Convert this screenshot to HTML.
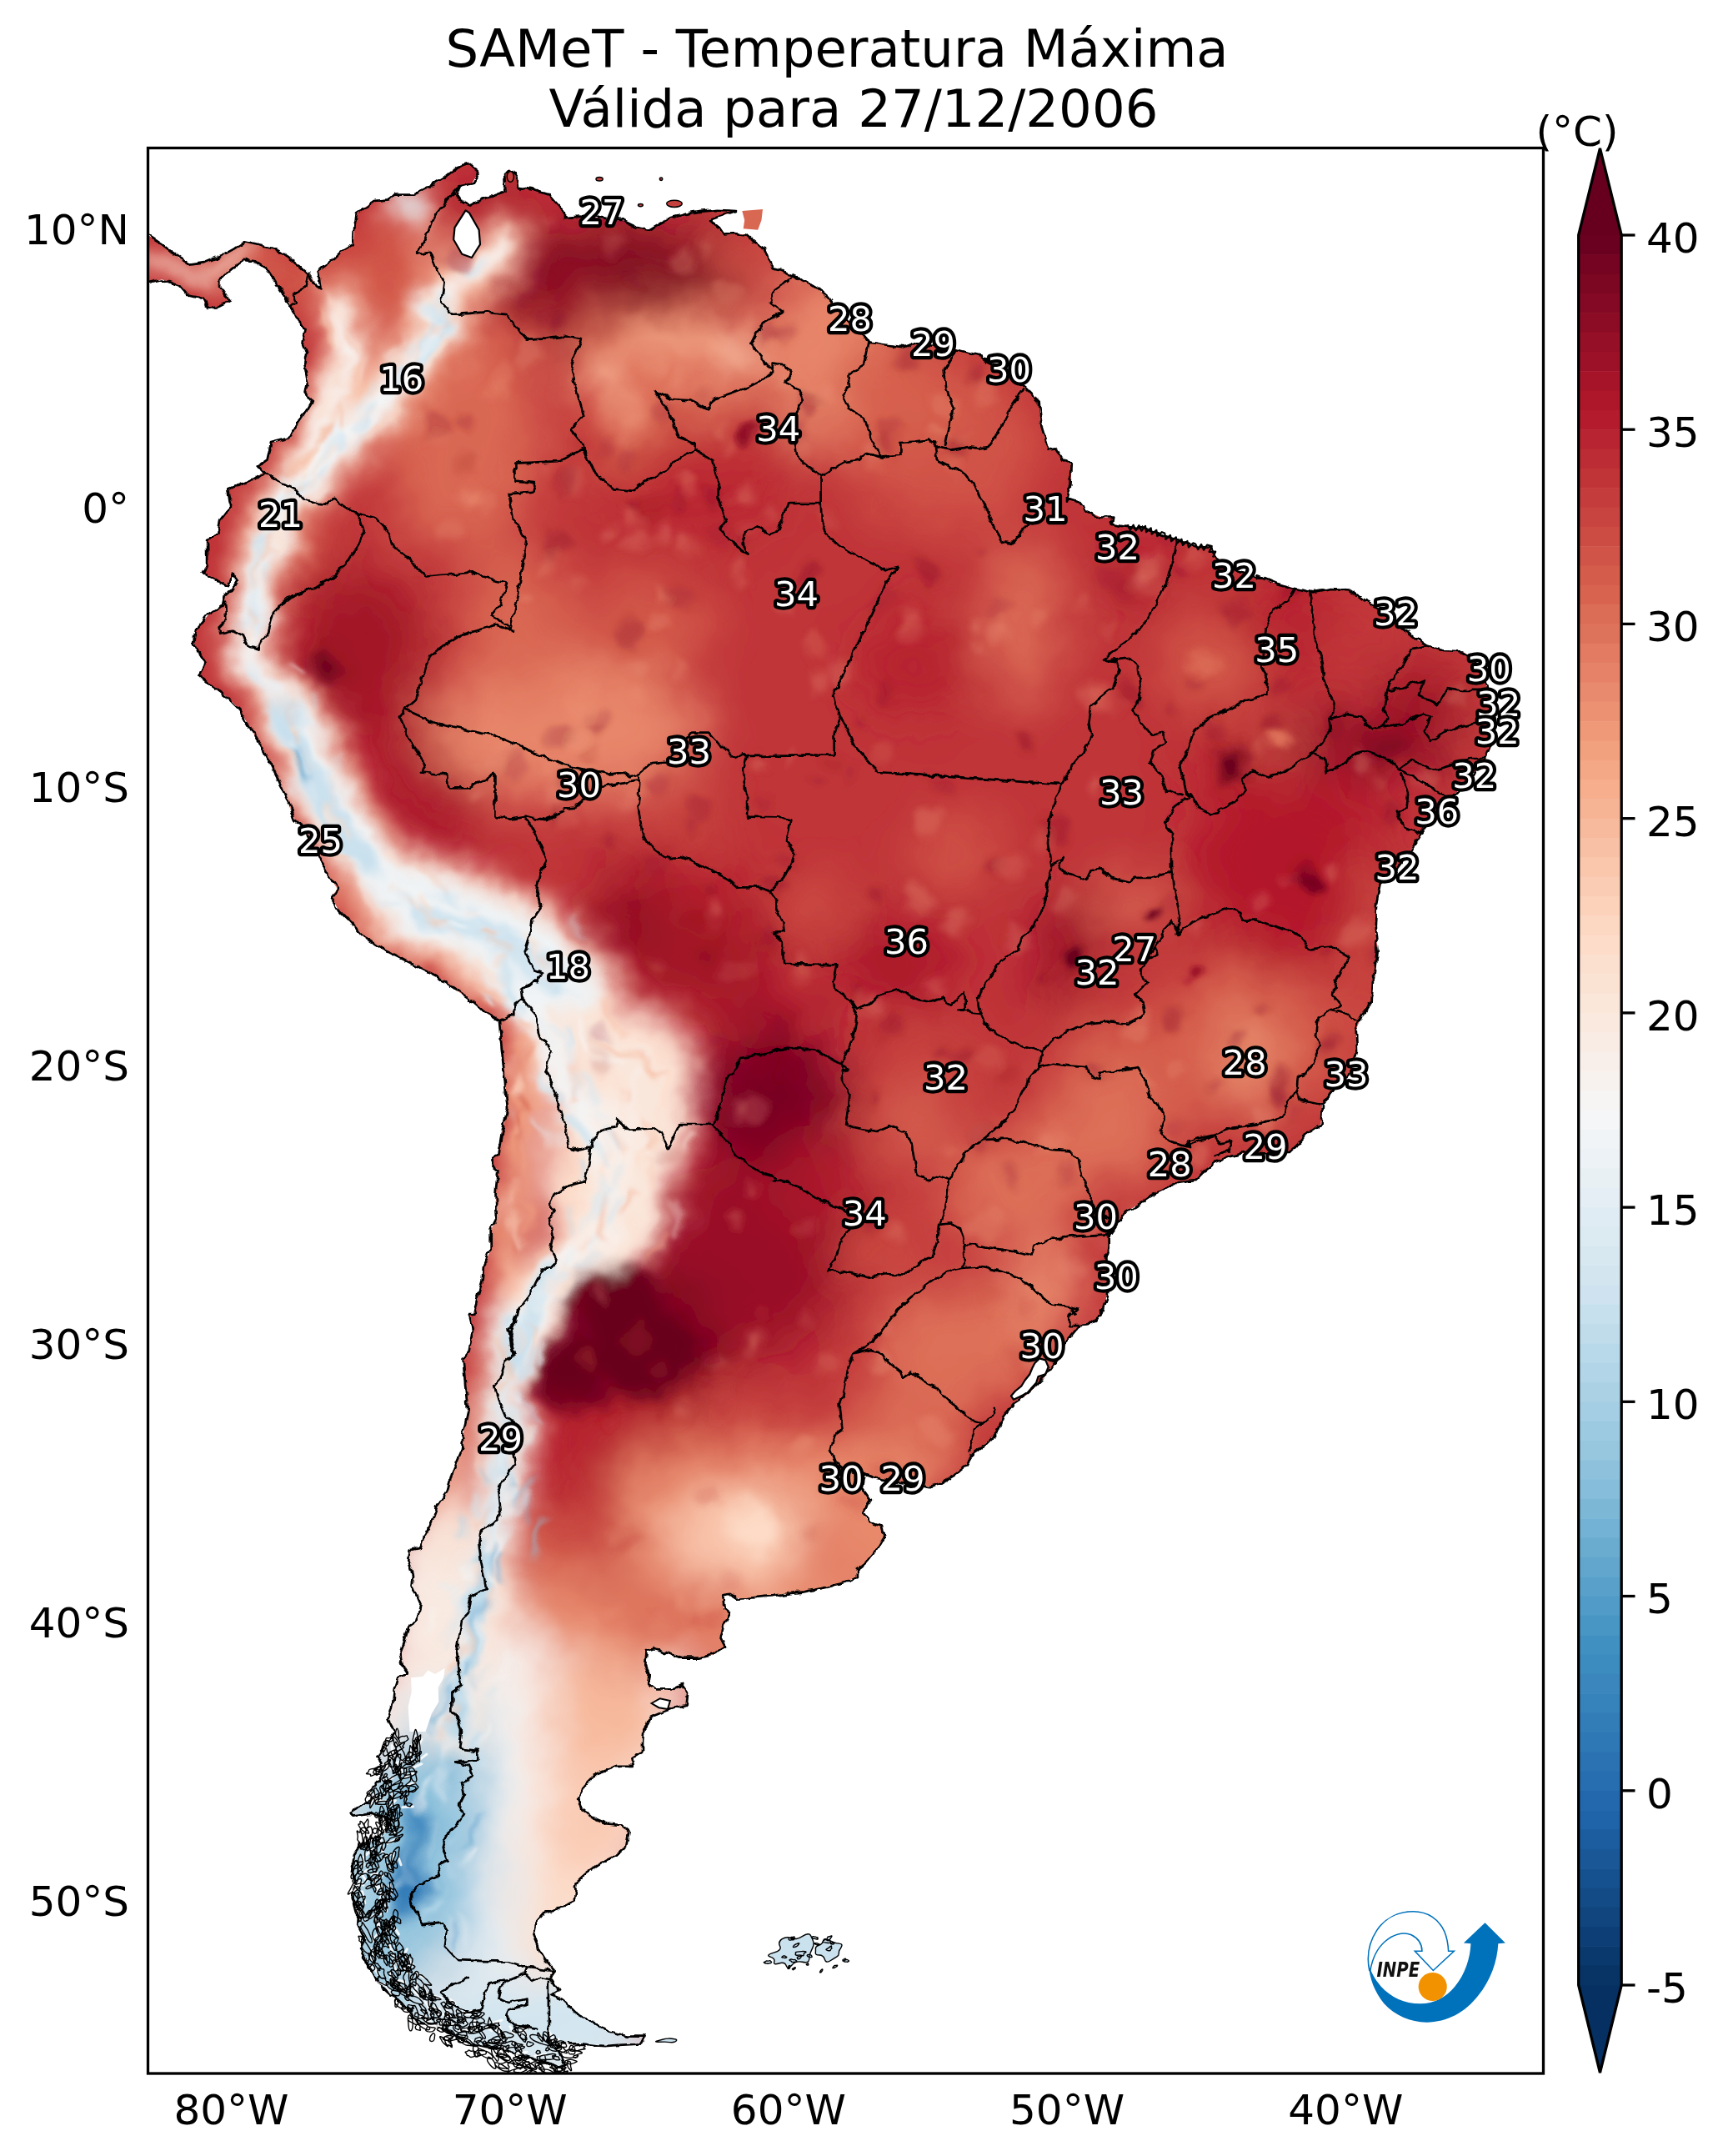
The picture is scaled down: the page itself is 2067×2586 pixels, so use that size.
<!DOCTYPE html>
<html><head><meta charset="utf-8"><title>SAMeT - Temperatura Máxima</title>
<style>
html,body{margin:0;padding:0;background:#fff;}
body{width:2067px;height:2586px;overflow:hidden;}
svg{display:block;}
text{font-family:"DejaVu Sans","Liberation Sans",sans-serif;}
.tk{font-size:50px;fill:#000;}
.lb{font-size:41.7px;fill:#fff;stroke:#000;stroke-width:8.3px;paint-order:stroke fill;stroke-linejoin:round;text-anchor:middle;}
</style></head><body>
<svg width="2067" height="2586" viewBox="0 0 2067 2586">
<defs>
<clipPath id="land"><path d="M174.1,278.6 L177.0,281.5 L194.4,293.1 L214.7,309.0 L227.8,317.7 L246.6,314.8 L264.1,307.6 L280.0,298.9 L293.1,290.2 L311.9,294.5 L330.8,298.9 L345.3,307.6 L359.8,319.2 L371.4,330.8 L380.1,342.4 L384.5,345.3 L381.6,325.0 L397.5,313.4 L409.2,301.8 L423.7,293.1 L425.1,272.8 L428.0,255.4 L449.8,240.8 L467.2,239.4 L473.0,233.6 L496.2,233.6 L513.6,224.9 L533.9,211.8 L548.4,200.2 L563.0,195.9 L574.6,206.0 L565.9,220.5 L551.3,223.4 L548.4,233.6 L554.2,242.3 L563.0,246.6 L577.5,239.4 L594.9,233.6 L606.5,229.2 L605.0,208.9 L610.8,203.1 L619.5,211.8 L621.0,224.9 L641.3,227.8 L658.7,233.6 L670.3,246.6 L677.0,255.4 L677.0,261.2 L694.4,259.7 L720.5,261.2 L746.6,264.1 L764.1,272.8 L778.6,275.7 L793.1,267.0 L804.7,261.2 L822.1,256.8 L839.5,253.9 L862.7,251.9 L883.0,253.0 L862.7,259.7 L851.1,264.1 L862.7,272.8 L868.5,281.5 L880.1,280.0 L894.6,281.5 L906.3,291.6 L917.9,298.9 L923.7,313.4 L926.6,322.1 L938.2,325.0 L952.7,332.3 L967.2,338.1 L981.7,346.8 L993.3,356.9 L999.1,365.6 L1016.5,383.0 L1033.9,400.4 L1042.6,410.6 L1063.0,413.5 L1083.3,416.4 L1094.9,412.1 L1121.0,415.0 L1147.1,419.3 L1164.5,423.7 L1177.0,426.6 L1177.0,428.0 L1203.1,444.0 L1229.2,464.3 L1246.6,481.7 L1249.5,510.7 L1258.3,539.7 L1267.0,538.3 L1275.7,551.3 L1285.8,557.2 L1284.4,580.4 L1280.0,600.7 L1280.1,597.3 L1294.6,601.7 L1303.3,613.3 L1320.8,620.5 L1335.3,620.5 L1333.8,629.2 L1352.7,632.1 L1373.0,633.6 L1396.2,642.3 L1416.5,649.5 L1433.9,655.4 L1451.3,656.8 L1460.1,669.9 L1483.3,684.4 L1506.5,693.1 L1506.1,690.1 L1527.9,698.8 L1554.0,706.0 L1574.3,710.4 L1597.5,706.0 L1617.9,707.5 L1632.4,717.6 L1646.9,724.9 L1673.0,743.7 L1696.2,764.1 L1710.7,774.2 L1731.0,780.0 L1754.2,781.5 L1768.8,790.2 L1780.4,813.4 L1789.1,839.5 L1792.0,865.6 L1789.1,891.7 L1780.4,912.1 L1763.0,932.4 L1745.5,952.7 L1725.2,973.0 L1707.8,996.2 L1693.3,1019.4 L1675.9,1042.6 L1655.6,1060.1 L1651.2,1083.3 L1649.8,1112.3 L1652.7,1141.3 L1649.8,1164.5 L1648.3,1177.0 L1647.0,1177.0 L1645.5,1203.1 L1633.9,1217.6 L1626.7,1235.0 L1628.1,1261.2 L1619.4,1287.3 L1599.1,1307.6 L1586.1,1325.0 L1584.6,1348.2 L1567.2,1359.8 L1555.6,1374.3 L1546.9,1383.0 L1520.8,1384.5 L1491.7,1383.0 L1474.3,1387.4 L1456.9,1394.6 L1442.4,1406.3 L1433.7,1415.0 L1413.4,1417.9 L1384.4,1432.4 L1367.0,1444.0 L1352.4,1452.7 L1340.8,1467.2 L1330.7,1481.7 L1330.7,1496.2 L1326.3,1510.7 L1329.2,1525.2 L1327.8,1554.2 L1320.5,1577.5 L1306.0,1589.1 L1294.9,1590.2 L1280.4,1607.6 L1265.9,1633.7 L1251.3,1654.0 L1233.9,1671.4 L1216.5,1683.0 L1204.9,1697.5 L1196.2,1717.9 L1181.7,1732.4 L1167.2,1744.0 L1158.5,1758.5 L1144.0,1770.1 L1129.5,1778.8 L1115.0,1783.2 L1106.3,1781.7 L1080.1,1778.8 L1051.1,1773.0 L1036.6,1767.2 L1033.7,1784.6 L1043.9,1799.1 L1035.2,1813.6 L1042.4,1825.2 L1056.9,1829.6 L1059.8,1845.5 L1051.1,1860.1 L1039.5,1874.6 L1027.9,1883.3 L1027.9,1892.0 L1013.4,1897.8 L993.1,1903.6 L964.1,1909.4 L954.2,1910.4 L925.2,1914.1 L896.2,1917.0 L884.6,1917.6 L875.9,1911.8 L867.2,1913.3 L868.6,1929.2 L875.9,1935.0 L868.6,1949.5 L864.3,1964.1 L870.1,1975.7 L855.6,1984.4 L838.2,1988.7 L817.9,1988.7 L800.4,1982.9 L785.9,1977.1 L775.8,1980.0 L774.3,1996.0 L778.7,2007.6 L777.2,2019.2 L785.9,2026.4 L806.3,2026.4 L817.9,2020.6 L825.1,2030.8 L823.7,2045.3 L809.2,2048.2 L797.5,2052.6 L783.0,2058.4 L771.4,2074.3 L770.0,2091.7 L770.0,2101.9 L758.4,2109.2 L759.8,2117.9 L739.5,2117.9 L716.3,2126.6 L701.8,2141.1 L693.1,2155.6 L697.4,2170.1 L710.5,2180.3 L727.9,2187.5 L745.3,2189.0 L754.6,2196.2 L751.1,2215.1 L739.5,2225.2 L722.1,2233.9 L704.7,2245.5 L691.6,2257.2 L688.7,2280.4 L669.9,2289.1 L652.4,2294.9 L642.3,2306.5 L639.4,2321.0 L646.6,2338.4 L655.4,2352.9 L665.7,2364.3 L659.9,2373.0 L670.1,2387.5 L661.4,2393.3 L675.9,2399.1 L690.4,2413.6 L710.7,2425.2 L731.0,2436.8 L754.2,2442.6 L774.6,2442.6 L770.2,2451.3 L742.6,2452.8 L725.2,2454.2 L696.2,2451.3 L667.2,2451.3 L678.8,2477.5 L667.2,2478.9 L638.2,2468.8 L609.2,2460.1 L580.1,2454.2 L562.7,2451.3 L542.4,2439.7 L522.1,2428.1 L498.9,2425.2 L487.3,2407.8 L469.9,2393.3 L453.9,2378.8 L446.6,2364.3 L439.4,2352.7 L432.1,2338.2 L437.9,2326.6 L429.2,2309.2 L430.7,2291.7 L423.4,2277.2 L424.9,2262.7 L422.0,2245.3 L424.9,2225.0 L435.0,2210.5 L455.4,2201.8 L467.0,2190.2 L461.2,2178.6 L443.7,2175.7 L423.4,2178.6 L420.5,2172.8 L435.0,2164.1 L449.5,2158.3 L443.7,2149.5 L455.4,2135.0 L461.2,2120.5 L452.4,2106.0 L464.1,2091.5 L472.8,2077.0 L465.5,2063.1 L471.3,2041.3 L472.8,2026.8 L477.1,2012.3 L488.7,2006.5 L482.9,1997.8 L480.0,1983.3 L484.4,1971.7 L490.2,1951.3 L498.9,1945.5 L504.7,1925.2 L494.5,1902.0 L496.0,1890.4 L490.2,1873.0 L491.6,1858.5 L504.7,1855.6 L507.6,1844.0 L516.3,1829.5 L525.0,1806.3 L536.6,1788.8 L543.9,1762.7 L554.0,1739.5 L555.5,1719.2 L561.3,1693.1 L558.4,1664.1 L555.5,1629.2 L562.7,1620.5 L567.1,1594.4 L562.7,1577.0 L568.4,1576.8 L572.8,1556.5 L578.6,1536.2 L580.0,1518.8 L588.7,1498.4 L588.7,1475.2 L596.0,1460.7 L594.5,1431.7 L597.4,1402.7 L591.6,1399.8 L591.6,1388.2 L597.4,1385.3 L601.8,1359.2 L609.0,1330.1 L606.1,1301.1 L601.8,1257.6 L598.9,1224.2 L581.5,1214.1 L564.1,1199.5 L543.7,1185.0 L523.4,1170.5 L500.2,1158.9 L477.0,1147.3 L458.5,1138.4 L438.2,1125.3 L420.8,1106.5 L406.3,1092.0 L397.5,1076.0 L404.8,1065.9 L394.6,1051.3 L383.0,1029.6 L365.6,993.3 L354.0,984.6 L345.3,961.4 L335.2,938.2 L325.0,917.9 L313.4,894.6 L298.9,871.4 L287.3,851.1 L272.8,836.6 L252.4,822.1 L239.4,810.5 L246.6,796.0 L239.4,784.4 L232.1,769.9 L235.0,755.4 L249.5,737.9 L267.0,726.3 L269.9,711.8 L278.6,708.9 L285.8,697.3 L278.6,688.6 L272.8,703.1 L261.2,697.3 L243.7,687.2 L248.1,677.0 L248.1,677.0 L248.1,647.1 L261.2,641.3 L264.1,623.9 L277.1,606.5 L274.2,586.2 L288.7,580.4 L304.7,574.6 L316.3,565.9 L310.5,558.6 L320.6,551.3 L325.0,531.0 L348.2,525.2 L354.0,513.6 L365.6,496.2 L374.3,481.7 L365.6,470.1 L368.5,455.6 L365.6,438.2 L368.5,423.7 L362.7,409.2 L365.6,394.6 L354.0,380.1 L348.2,365.6 L339.5,351.1 L330.8,339.5 L319.2,322.1 L306.1,313.4 L293.1,311.9 L278.6,322.1 L264.1,333.7 L264.1,345.3 L275.7,361.3 L261.2,368.5 L248.1,370.0 L243.7,358.4 L224.9,354.0 L214.7,342.4 L194.4,335.2 L177.0,339.5 L174.1,339.5Z"/></clipPath>
<clipPath id="frame"><rect x="177.5" y="177.5" width="1674" height="2309.5"/></clipPath>
<filter id="b30" x="-20%" y="-20%" width="140%" height="140%"><feGaussianBlur stdDeviation="30"/></filter>
<filter id="b18" x="-20%" y="-20%" width="140%" height="140%"><feGaussianBlur stdDeviation="18"/></filter>
<filter id="b10" x="-20%" y="-20%" width="140%" height="140%"><feGaussianBlur stdDeviation="10"/></filter>
<filter id="b5" x="-20%" y="-20%" width="140%" height="140%"><feGaussianBlur stdDeviation="5"/></filter>
<filter id="b3" x="-20%" y="-20%" width="140%" height="140%"><feGaussianBlur stdDeviation="3"/></filter>
<filter id="rough" filterUnits="userSpaceOnUse" x="170" y="170" width="1700" height="2330">
<feTurbulence type="fractalNoise" baseFrequency="0.018" numOctaves="3" seed="7" result="n"/>
<feDisplacementMap in="SourceGraphic" in2="n" scale="34" xChannelSelector="R" yChannelSelector="G" result="d"/>
<feTurbulence type="fractalNoise" baseFrequency="0.035" numOctaves="2" seed="11" result="n2"/>
<feColorMatrix in="n2" type="matrix" values="0 0 0 0 0  0 0 0 0 0  0 0 0 0 0  1.6 0 0 0 -0.55" result="a2"/>
<feFlood flood-color="#7a0a20" result="fl"/>
<feComposite in="fl" in2="a2" operator="in" result="dk"/>
<feColorMatrix in="n2" type="matrix" values="0 0 0 0 0  0 0 0 0 0  0 0 0 0 0  0 -1.6 0 0 0.62" result="a3"/>
<feFlood flood-color="#fff" result="fw"/>
<feComposite in="fw" in2="a3" operator="in" result="lt"/>
<feMerge><feMergeNode in="d"/></feMerge>
</filter>
<filter id="jag" filterUnits="userSpaceOnUse" x="170" y="170" width="1700" height="2330">
<feTurbulence type="fractalNoise" baseFrequency="0.09" numOctaves="2" seed="3" result="n"/>
<feDisplacementMap in="SourceGraphic" in2="n" scale="7" xChannelSelector="R" yChannelSelector="G"/>
</filter>
<linearGradient id="cb" x1="0" y1="0" x2="0" y2="1">
<stop offset="0%" stop-color="#67001f"/>
<stop offset="10%" stop-color="#b2182b"/>
<stop offset="20%" stop-color="#d6604d"/>
<stop offset="30%" stop-color="#f4a582"/>
<stop offset="40%" stop-color="#fddbc7"/>
<stop offset="50%" stop-color="#f7f7f7"/>
<stop offset="60%" stop-color="#d1e5f0"/>
<stop offset="70%" stop-color="#92c5de"/>
<stop offset="80%" stop-color="#4393c3"/>
<stop offset="90%" stop-color="#2166ac"/>
<stop offset="100%" stop-color="#053061"/>
</linearGradient></defs>
<rect width="100%" height="100%" fill="#fff"/>
<g clip-path="url(#frame)"><g clip-path="url(#land)"><g filter="url(#rough)">
<rect x="170" y="170" width="1700" height="2330" fill="#c03539"/>
<g filter="url(#b30)"><ellipse cx="741" cy="334" rx="146" ry="63" fill="#800823"/><ellipse cx="689" cy="386" rx="47" ry="57" fill="#991027"/><ellipse cx="595" cy="250" rx="47" ry="26" fill="#a11328"/><ellipse cx="804" cy="433" rx="131" ry="63" fill="#e0775f"/><ellipse cx="764" cy="525" rx="58" ry="58" fill="#d6604d"/><ellipse cx="886" cy="543" rx="87" ry="49" fill="#c13639"/><ellipse cx="895" cy="305" rx="29" ry="26" fill="#d6604d"/><ellipse cx="992" cy="423" rx="78" ry="120" fill="#e7866a"/><ellipse cx="1065" cy="517" rx="57" ry="78" fill="#d96853"/><ellipse cx="1078" cy="463" rx="73" ry="57" fill="#d6604d"/><ellipse cx="553" cy="517" rx="99" ry="146" fill="#d96853"/><ellipse cx="470" cy="334" rx="63" ry="78" fill="#d25849"/><ellipse cx="334" cy="334" rx="78" ry="31" fill="#d6604d"/><ellipse cx="428" cy="778" rx="78" ry="99" fill="#a11328"/><ellipse cx="501" cy="934" rx="57" ry="104" fill="#aa152a" transform="rotate(-30 501 934)"/><ellipse cx="678" cy="872" rx="167" ry="89" fill="#e7866a"/><ellipse cx="621" cy="741" rx="68" ry="89" fill="#d96853"/><ellipse cx="778" cy="752" rx="78" ry="63" fill="#d25849"/><ellipse cx="349" cy="637" rx="42" ry="63" fill="#ce5045"/><ellipse cx="830" cy="595" rx="104" ry="52" fill="#ba2833"/><ellipse cx="1131" cy="531" rx="120" ry="104" fill="#d05347"/><ellipse cx="1078" cy="478" rx="78" ry="63" fill="#d6604d"/><ellipse cx="1226" cy="745" rx="47" ry="104" fill="#db6c56"/><ellipse cx="1094" cy="797" rx="63" ry="63" fill="#b6202f"/><ellipse cx="1366" cy="693" rx="31" ry="31" fill="#aa152a"/><ellipse cx="1449" cy="797" rx="57" ry="57" fill="#d25849"/><ellipse cx="1533" cy="901" rx="31" ry="26" fill="#d96853"/><ellipse cx="1548" cy="740" rx="47" ry="89" fill="#b6202f"/><ellipse cx="1637" cy="755" rx="52" ry="47" fill="#c2383a"/><ellipse cx="1731" cy="834" rx="47" ry="37" fill="#b2182b"/><ellipse cx="1653" cy="891" rx="115" ry="37" fill="#910d26"/><ellipse cx="1705" cy="828" rx="52" ry="31" fill="#a11328"/><ellipse cx="1773" cy="860" rx="26" ry="68" fill="#c6403e"/><ellipse cx="1470" cy="912" rx="47" ry="37" fill="#b6202f"/><ellipse cx="1548" cy="1037" rx="120" ry="115" fill="#b2182b"/><ellipse cx="1642" cy="1131" rx="26" ry="115" fill="#ca4842"/><ellipse cx="1147" cy="1021" rx="57" ry="37" fill="#d25849"/><ellipse cx="980" cy="1089" rx="37" ry="37" fill="#d05347"/><ellipse cx="823" cy="974" rx="42" ry="31" fill="#ce5045"/><ellipse cx="1074" cy="1152" rx="84" ry="47" fill="#b2182b"/><ellipse cx="1278" cy="1141" rx="37" ry="68" fill="#991027"/><ellipse cx="1346" cy="1084" rx="31" ry="26" fill="#e0775f"/><ellipse cx="1330" cy="1204" rx="47" ry="31" fill="#c6403e"/><ellipse cx="1487" cy="1251" rx="104" ry="99" fill="#d6604d"/><ellipse cx="1497" cy="1272" rx="26" ry="57" fill="#ed9676"/><ellipse cx="1358" cy="1076" rx="41" ry="26" fill="#dd6f59"/><ellipse cx="1330" cy="1266" rx="63" ry="31" fill="#d6604d"/><ellipse cx="1304" cy="1350" rx="78" ry="52" fill="#d6604d"/><ellipse cx="1225" cy="1439" rx="68" ry="52" fill="#dd6f59"/><ellipse cx="1121" cy="1282" rx="68" ry="42" fill="#ca4842"/><ellipse cx="1095" cy="1355" rx="57" ry="31" fill="#d96853"/><ellipse cx="813" cy="1125" rx="115" ry="78" fill="#a11328" transform="rotate(25 813 1125)"/><ellipse cx="761" cy="1105" rx="37" ry="31" fill="#880b24"/><ellipse cx="928" cy="1219" rx="63" ry="31" fill="#aa152a"/><ellipse cx="923" cy="1319" rx="89" ry="84" fill="#780522"/><ellipse cx="847" cy="1063" rx="63" ry="42" fill="#b6202f"/><ellipse cx="889" cy="1512" rx="120" ry="120" fill="#991027"/><ellipse cx="978" cy="1418" rx="63" ry="52" fill="#aa152a"/><ellipse cx="722" cy="1601" rx="78" ry="78" fill="#67001f" transform="rotate(-30 722 1601)"/><ellipse cx="779" cy="1616" rx="78" ry="73" fill="#67001f"/><ellipse cx="701" cy="1705" rx="52" ry="68" fill="#991027"/><ellipse cx="795" cy="1705" rx="63" ry="52" fill="#b6202f"/><ellipse cx="899" cy="1773" rx="157" ry="68" fill="#dd6f59"/><ellipse cx="899" cy="1862" rx="104" ry="57" fill="#f8bda1"/><ellipse cx="1072" cy="1157" rx="68" ry="47" fill="#aa152a"/><ellipse cx="1213" cy="1428" rx="89" ry="63" fill="#dd6f59"/><ellipse cx="1150" cy="1616" rx="104" ry="78" fill="#dd6f59"/><ellipse cx="1082" cy="1731" rx="78" ry="68" fill="#d96853"/><ellipse cx="1255" cy="1548" rx="42" ry="63" fill="#ea8e70"/><ellipse cx="1056" cy="1496" rx="52" ry="31" fill="#ce5045"/><ellipse cx="1335" cy="1351" rx="73" ry="73" fill="#dd6f59"/><ellipse cx="1611" cy="1264" rx="26" ry="73" fill="#ce5045"/><ellipse cx="1451" cy="1409" rx="73" ry="17" fill="#c6403e"/><path d="M737,1764 L1113,1738 L1113,1999 L590,2020 L601,1905Z" fill="#ea8e70"/><path d="M434,2010 L643,1979 L852,2020 L825,2104 L773,2261 L747,2365 L852,2522 L799,2600 L538,2600 L329,2443 L329,2156 L408,2026Z" fill="#f9eee7"/><path d="M460,1843 L590,1817 L617,1999 L460,2052Z" fill="#fce1d2"/><ellipse cx="695" cy="1738" rx="52" ry="89" fill="#b6202f"/><ellipse cx="716" cy="1843" rx="42" ry="57" fill="#c6403e"/><ellipse cx="799" cy="1937" rx="84" ry="37" fill="#d96853"/><ellipse cx="893" cy="1843" rx="94" ry="57" fill="#fac9b0"/><ellipse cx="998" cy="1869" rx="47" ry="63" fill="#e37f65"/><ellipse cx="637" cy="1869" rx="37" ry="47" fill="#d6604d"/><ellipse cx="721" cy="2062" rx="78" ry="68" fill="#f7b799"/><ellipse cx="695" cy="2182" rx="73" ry="78" fill="#fac9b0"/><ellipse cx="658" cy="2297" rx="57" ry="63" fill="#fddbc7"/><ellipse cx="617" cy="2104" rx="37" ry="157" fill="#f8f4f2"/><ellipse cx="590" cy="2313" rx="37" ry="78" fill="#eaf1f5"/><ellipse cx="549" cy="2156" rx="37" ry="183" fill="#a7d0e4"/><ellipse cx="523" cy="2182" rx="39" ry="198" fill="#89bfdb"/><ellipse cx="449" cy="2287" rx="47" ry="157" fill="#b5d7e8"/><ellipse cx="570" cy="2443" rx="157" ry="47" fill="#cae1ee"/><ellipse cx="695" cy="2454" rx="104" ry="42" fill="#d5e7f1"/><ellipse cx="523" cy="1947" rx="42" ry="131" fill="#f3f5f6"/><ellipse cx="538" cy="1764" rx="31" ry="104" fill="#f9c3a8"/><ellipse cx="643" cy="2417" rx="131" ry="47" fill="#d1e5f0"/><ellipse cx="460" cy="2261" rx="52" ry="157" fill="#99c9e0"/><ellipse cx="963" cy="2344" rx="116" ry="58" fill="#cae1ee"/></g>
<g filter="url(#b18)"><path d="M564,1142 L637,1142 L709,1185 L796,1214 L840,1272 L834,1330 L819,1388 L805,1446 L782,1504 L738,1539 L666,1533 L651,1417 L663,1330 L640,1243 L608,1200Z" fill="#fce1d2"/><path d="M313,683 L305,715 L299,750 L293,773 L305,796 L325,816 L342,842 L357,874" fill="none" stroke="#f9c3a8" stroke-width="49" stroke-linecap="round" stroke-linejoin="round"/><path d="M351,863 L360,880 L371,924 L389,953 L406,982 L427,1011 L447,1040 L470,1063 L499,1083 L528,1098 L557,1106 L586,1115 L615,1133 L644,1156 L676,1179" fill="none" stroke="#f9c3a8" stroke-width="87" stroke-linecap="round" stroke-linejoin="round"/><path d="M499,1083 L557,1106 L615,1133 L676,1179" fill="none" stroke="#fddbc7" stroke-width="122" stroke-linecap="round" stroke-linejoin="round"/><path d="M606,293 L569,322 L543,348 L525,386 L505,424 L479,456 L456,485 L432,508 L409,531 L386,554 L363,580 L342,595 L328,630 L316,677" fill="none" stroke="#f9c3a8" stroke-width="67" stroke-linecap="round" stroke-linejoin="round"/><path d="M409,363 L418,409 L409,438 L403,467 L392,496 L380,525 L363,563" fill="none" stroke="#f9c3a8" stroke-width="55" stroke-linecap="round" stroke-linejoin="round"/><path d="M522,258 L511,308 L517,363" fill="none" stroke="#f5ab8a" stroke-width="15" stroke-linecap="round" stroke-linejoin="round"/><ellipse cx="490" cy="248" rx="25" ry="22" fill="#fae7dc"/><path d="M709,1374 L724,1417 L715,1461 L703,1490 L680,1519 L657,1548 L640,1577 L622,1606 L610,1627" fill="none" stroke="#fddbc7" stroke-width="75" stroke-linecap="round" stroke-linejoin="round"/><path d="M618,1577 L609,1635 L600,1679 L615,1708 L609,1751 L598,1809 L580,1853 L574,1896 L566,1940 L557,1983 L551,2027 L548,2077" fill="none" stroke="#fae7dc" stroke-width="55" stroke-linecap="round" stroke-linejoin="round"/><path d="M622,1243 L631,1330 L619,1417 L609,1490 L599,1548" fill="none" stroke="#f6b191" stroke-width="38" stroke-linecap="round" stroke-linejoin="round"/><path d="M375,1069 L433,1110 L477,1136 L535,1168 L593,1211" fill="none" stroke="#f19d7c" stroke-width="20" stroke-linecap="round" stroke-linejoin="round"/><path d="M580,1621 L577,1693 L569,1751" fill="none" stroke="#dd6f59" stroke-width="20" stroke-linecap="round" stroke-linejoin="round"/><path d="M540,1809 L513,1882 L508,1954 L499,1998" fill="none" stroke="#fae7dc" stroke-width="35" stroke-linecap="round" stroke-linejoin="round"/><path d="M177,313 L221,328 L264,322 L299,305" fill="none" stroke="#f9c3a8" stroke-width="20" stroke-linecap="round" stroke-linejoin="round"/><ellipse cx="882" cy="423" rx="31" ry="18" fill="#f9c3a8"/><ellipse cx="725" cy="449" rx="26" ry="21" fill="#f7b799"/><ellipse cx="804" cy="407" rx="63" ry="16" fill="#f5ab8a"/><ellipse cx="752" cy="501" rx="21" ry="21" fill="#f5ab8a"/></g>
<g filter="url(#b10)"><path d="M313,683 L305,715 L299,750 L293,773" fill="none" stroke="#f3f5f6" stroke-width="33" stroke-linecap="round" stroke-linejoin="round"/><path d="M293,773 L305,796 L325,816 L342,842 L357,874" fill="none" stroke="#f3f5f6" stroke-width="29" stroke-linecap="round" stroke-linejoin="round"/><path d="M354,869 L360,880 L371,924 L389,953 L406,982 L427,1011 L447,1040 L470,1063 L499,1083 L528,1098 L557,1106 L586,1115 L615,1133 L644,1156 L676,1179" fill="none" stroke="#eff3f5" stroke-width="58" stroke-linecap="round" stroke-linejoin="round"/><path d="M499,1083 L557,1106 L615,1133 L676,1179" fill="none" stroke="#eff3f5" stroke-width="87" stroke-linecap="round" stroke-linejoin="round"/><path d="M606,293 L569,322 L543,348" fill="none" stroke="#f8f4f2" stroke-width="26" stroke-linecap="round" stroke-linejoin="round"/><path d="M517,363 L534,392 L511,418 L482,453 L461,482 L438,502 L415,525 L392,551 L366,577 L342,592 L331,630 L319,677" fill="none" stroke="#f3f5f6" stroke-width="38" stroke-linecap="round" stroke-linejoin="round"/><path d="M409,366 L418,409 L409,438 L403,467 L392,496 L380,525 L363,563" fill="none" stroke="#f8f4f2" stroke-width="26" stroke-linecap="round" stroke-linejoin="round"/><ellipse cx="490" cy="248" rx="12" ry="11" fill="#d9e9f2"/><path d="M608,1156 L637,1214 L666,1272 L695,1330 L709,1374 L724,1417 L715,1461 L703,1490 L680,1519 L657,1548 L640,1577 L622,1606 L610,1627" fill="none" stroke="#f3f5f6" stroke-width="32" stroke-linecap="round" stroke-linejoin="round"/><path d="M680,1229 L738,1258 L782,1301 L776,1359 L767,1417 L747,1475 L724,1513" fill="none" stroke="#fae7dc" stroke-width="44" stroke-linecap="round" stroke-linejoin="round"/><path d="M732,1330 L738,1388 L727,1446 L709,1490" fill="none" stroke="#f9eee7" stroke-width="46" stroke-linecap="round" stroke-linejoin="round"/><path d="M618,1577 L609,1635 L600,1679 L615,1708 L609,1751 L598,1809 L580,1853 L574,1896 L566,1940 L557,1983 L551,2027 L548,2077" fill="none" stroke="#e2edf3" stroke-width="23" stroke-linecap="round" stroke-linejoin="round"/><path d="M177,313 L221,328 L264,322 L299,305" fill="none" stroke="#fae7dc" stroke-width="7" stroke-linecap="round" stroke-linejoin="round"/><ellipse cx="394" cy="799" rx="18" ry="18" fill="#67001f"/><ellipse cx="1478" cy="915" rx="18" ry="18" fill="#67001f"/><ellipse cx="1664" cy="898" rx="17" ry="12" fill="#780522"/><ellipse cx="743" cy="1572" rx="65" ry="52" fill="#780522"/><ellipse cx="690" cy="1648" rx="52" ry="44" fill="#780522"/><ellipse cx="774" cy="1622" rx="63" ry="52" fill="#67001f"/><ellipse cx="743" cy="1564" rx="47" ry="37" fill="#67001f"/><ellipse cx="680" cy="1642" rx="37" ry="31" fill="#67001f"/><ellipse cx="496" cy="2187" rx="13" ry="31" fill="#347fb9"/><ellipse cx="491" cy="2261" rx="16" ry="47" fill="#2c75b4"/><ellipse cx="905" cy="1831" rx="31" ry="26" fill="#fddbc7"/></g>
<g filter="url(#b5)"><path d="M340,851 L357,898 L369,932 L392,967 L415,1002 L438,1034" fill="none" stroke="#cae1ee" stroke-width="32" stroke-linecap="round" stroke-linejoin="round"/><path d="M351,909 L363,932" fill="none" stroke="#66a9cf" stroke-width="12" stroke-linecap="round" stroke-linejoin="round"/><path d="M511,1098 L554,1112 L598,1124 L636,1153 L670,1177" fill="none" stroke="#d1e5f0" stroke-width="32" stroke-linecap="round" stroke-linejoin="round"/><path d="M517,366 L537,395 L519,418 L490,447" fill="none" stroke="#d1e5f0" stroke-width="13" stroke-linecap="round" stroke-linejoin="round"/><path d="M583,310 L563,328" fill="none" stroke="#d1e5f0" stroke-width="7" stroke-linecap="round" stroke-linejoin="round"/><path d="M409,528 L380,563 L351,589" fill="none" stroke="#d1e5f0" stroke-width="10" stroke-linecap="round" stroke-linejoin="round"/><path d="M316,642 L309,689 L302,721 L299,750" fill="none" stroke="#d1e5f0" stroke-width="10" stroke-linecap="round" stroke-linejoin="round"/><path d="M605,1162 L628,1208" fill="none" stroke="#d1e5f0" stroke-width="15" stroke-linecap="round" stroke-linejoin="round"/><path d="M680,1345 L706,1374" fill="none" stroke="#d1e5f0" stroke-width="12" stroke-linecap="round" stroke-linejoin="round"/><path d="M663,1519 L648,1556 L628,1597 L613,1627" fill="none" stroke="#c3deec" stroke-width="10" stroke-linecap="round" stroke-linejoin="round"/><path d="M615,1583 L606,1635" fill="none" stroke="#c3deec" stroke-width="10" stroke-linecap="round" stroke-linejoin="round"/><path d="M612,1708 L609,1766" fill="none" stroke="#c3deec" stroke-width="9" stroke-linecap="round" stroke-linejoin="round"/><path d="M577,1867 L569,1940 L557,1998 L551,2077" fill="none" stroke="#b5d7e8" stroke-width="15" stroke-linecap="round" stroke-linejoin="round"/></g>
<g filter="url(#b5)"><ellipse cx="1381" cy="1093" rx="8" ry="8" fill="#67001f"/><ellipse cx="1477" cy="913" rx="9" ry="9" fill="#67001f"/><ellipse cx="1538" cy="890" rx="13" ry="12" fill="#dd6f59"/><ellipse cx="1440" cy="794" rx="17" ry="15" fill="#d96853"/><ellipse cx="1434" cy="1163" rx="10" ry="10" fill="#991027"/><ellipse cx="1564" cy="1051" rx="6" ry="6" fill="#67001f"/><ellipse cx="900" cy="525" rx="12" ry="12" fill="#910d26"/><ellipse cx="1285" cy="1147" rx="13" ry="13" fill="#67001f"/><ellipse cx="1567" cy="1053" rx="13" ry="13" fill="#780522"/></g><g filter="url(#b5)"><circle cx="1411" cy="1221" r="15" fill="#7d0722" opacity="0.27"/><circle cx="1744" cy="451" r="12" fill="#7d0722" opacity="0.25"/><circle cx="1720" cy="542" r="12" fill="#f2a080" opacity="0.22"/><circle cx="1357" cy="434" r="9" fill="#f2a080" opacity="0.28"/><circle cx="1570" cy="592" r="15" fill="#f2a080" opacity="0.23"/><circle cx="861" cy="422" r="16" fill="#f2a080" opacity="0.16"/><circle cx="1810" cy="1362" r="10" fill="#7d0722" opacity="0.23"/><circle cx="1472" cy="641" r="16" fill="#7d0722" opacity="0.31"/><circle cx="1712" cy="743" r="11" fill="#f2a080" opacity="0.15"/><circle cx="792" cy="745" r="13" fill="#f2a080" opacity="0.24"/><circle cx="1095" cy="755" r="15" fill="#f2a080" opacity="0.18"/><circle cx="1254" cy="1181" r="8" fill="#7d0722" opacity="0.12"/><circle cx="1552" cy="1332" r="7" fill="#7d0722" opacity="0.19"/><circle cx="1362" cy="430" r="7" fill="#f2a080" opacity="0.29"/><circle cx="938" cy="1236" r="16" fill="#7d0722" opacity="0.19"/><circle cx="1114" cy="987" r="15" fill="#f2a080" opacity="0.25"/><circle cx="1605" cy="1348" r="7" fill="#7d0722" opacity="0.14"/><circle cx="1098" cy="1080" r="16" fill="#f2a080" opacity="0.29"/><circle cx="1325" cy="757" r="10" fill="#f2a080" opacity="0.13"/><circle cx="885" cy="1164" r="17" fill="#f2a080" opacity="0.13"/><circle cx="1815" cy="996" r="11" fill="#f2a080" opacity="0.23"/><circle cx="1637" cy="912" r="11" fill="#f2a080" opacity="0.28"/><circle cx="756" cy="953" r="15" fill="#f2a080" opacity="0.25"/><circle cx="1774" cy="1101" r="15" fill="#f2a080" opacity="0.20"/><circle cx="886" cy="1332" r="10" fill="#f2a080" opacity="0.30"/><circle cx="1666" cy="1474" r="12" fill="#f2a080" opacity="0.25"/><circle cx="1252" cy="734" r="11" fill="#f2a080" opacity="0.19"/><circle cx="1817" cy="1457" r="13" fill="#f2a080" opacity="0.18"/><circle cx="819" cy="714" r="15" fill="#7d0722" opacity="0.19"/><circle cx="1592" cy="1257" r="14" fill="#7d0722" opacity="0.27"/><circle cx="1123" cy="1181" r="10" fill="#f2a080" opacity="0.26"/><circle cx="1487" cy="737" r="16" fill="#7d0722" opacity="0.24"/><circle cx="733" cy="1011" r="10" fill="#7d0722" opacity="0.21"/><circle cx="1627" cy="1119" r="15" fill="#f2a080" opacity="0.24"/><circle cx="1539" cy="1314" r="11" fill="#7d0722" opacity="0.29"/><circle cx="1484" cy="1474" r="17" fill="#7d0722" opacity="0.23"/><circle cx="904" cy="1324" r="16" fill="#f2a080" opacity="0.24"/><circle cx="1519" cy="1209" r="9" fill="#7d0722" opacity="0.24"/><circle cx="1459" cy="874" r="13" fill="#7d0722" opacity="0.25"/><circle cx="1520" cy="450" r="9" fill="#f2a080" opacity="0.24"/><circle cx="963" cy="1161" r="13" fill="#f2a080" opacity="0.20"/><circle cx="971" cy="478" r="8" fill="#f2a080" opacity="0.15"/><circle cx="935" cy="459" r="12" fill="#f2a080" opacity="0.23"/><circle cx="1375" cy="677" r="16" fill="#f2a080" opacity="0.19"/><circle cx="1029" cy="863" r="8" fill="#7d0722" opacity="0.19"/><circle cx="760" cy="1083" r="8" fill="#7d0722" opacity="0.19"/><circle cx="1365" cy="1455" r="15" fill="#f2a080" opacity="0.27"/><circle cx="1433" cy="819" r="8" fill="#7d0722" opacity="0.23"/><circle cx="1783" cy="1465" r="13" fill="#f2a080" opacity="0.28"/><circle cx="721" cy="537" r="13" fill="#7d0722" opacity="0.15"/><circle cx="1419" cy="1383" r="11" fill="#f2a080" opacity="0.16"/><circle cx="1044" cy="1470" r="11" fill="#7d0722" opacity="0.30"/><circle cx="1381" cy="701" r="17" fill="#f2a080" opacity="0.19"/><circle cx="1074" cy="1483" r="12" fill="#f2a080" opacity="0.21"/><circle cx="855" cy="1091" r="11" fill="#f2a080" opacity="0.26"/><circle cx="1638" cy="434" r="12" fill="#f2a080" opacity="0.29"/><circle cx="1588" cy="685" r="10" fill="#f2a080" opacity="0.30"/><circle cx="1045" cy="1077" r="12" fill="#7d0722" opacity="0.24"/><circle cx="1545" cy="548" r="15" fill="#f2a080" opacity="0.22"/><circle cx="1093" cy="741" r="12" fill="#f2a080" opacity="0.18"/><circle cx="1547" cy="1058" r="7" fill="#f2a080" opacity="0.20"/><circle cx="1737" cy="1379" r="12" fill="#f2a080" opacity="0.26"/><circle cx="1195" cy="1042" r="14" fill="#7d0722" opacity="0.22"/><circle cx="1732" cy="836" r="11" fill="#7d0722" opacity="0.16"/><circle cx="1049" cy="1316" r="8" fill="#7d0722" opacity="0.26"/><circle cx="1200" cy="729" r="15" fill="#7d0722" opacity="0.15"/><circle cx="1251" cy="1013" r="12" fill="#f2a080" opacity="0.15"/><circle cx="1370" cy="1297" r="8" fill="#f2a080" opacity="0.27"/><circle cx="1599" cy="1137" r="7" fill="#7d0722" opacity="0.32"/><circle cx="1828" cy="1177" r="7" fill="#7d0722" opacity="0.16"/><circle cx="1437" cy="1448" r="14" fill="#f2a080" opacity="0.17"/><circle cx="1739" cy="582" r="13" fill="#f2a080" opacity="0.15"/><circle cx="1411" cy="467" r="8" fill="#f2a080" opacity="0.13"/><circle cx="784" cy="1041" r="14" fill="#7d0722" opacity="0.15"/><circle cx="1199" cy="760" r="13" fill="#f2a080" opacity="0.29"/><circle cx="1135" cy="480" r="14" fill="#f2a080" opacity="0.23"/><circle cx="1281" cy="1403" r="13" fill="#7d0722" opacity="0.17"/><circle cx="1332" cy="695" r="15" fill="#7d0722" opacity="0.15"/><circle cx="980" cy="821" r="14" fill="#f2a080" opacity="0.25"/><circle cx="1447" cy="512" r="14" fill="#f2a080" opacity="0.14"/><circle cx="1379" cy="678" r="16" fill="#f2a080" opacity="0.18"/><circle cx="1604" cy="452" r="14" fill="#f2a080" opacity="0.15"/><circle cx="1777" cy="1156" r="9" fill="#f2a080" opacity="0.30"/><circle cx="1458" cy="1306" r="8" fill="#7d0722" opacity="0.19"/><circle cx="981" cy="780" r="13" fill="#f2a080" opacity="0.19"/><circle cx="871" cy="1318" r="13" fill="#7d0722" opacity="0.21"/><circle cx="1665" cy="979" r="13" fill="#7d0722" opacity="0.27"/><circle cx="1159" cy="525" r="7" fill="#f2a080" opacity="0.13"/><circle cx="1707" cy="939" r="15" fill="#f2a080" opacity="0.20"/><circle cx="1708" cy="1089" r="11" fill="#f2a080" opacity="0.14"/><circle cx="892" cy="592" r="11" fill="#f2a080" opacity="0.28"/><circle cx="889" cy="694" r="10" fill="#f2a080" opacity="0.17"/><circle cx="981" cy="941" r="7" fill="#7d0722" opacity="0.19"/><circle cx="1761" cy="1163" r="14" fill="#f2a080" opacity="0.29"/><circle cx="851" cy="1142" r="10" fill="#7d0722" opacity="0.27"/><circle cx="901" cy="637" r="7" fill="#f2a080" opacity="0.13"/><circle cx="1165" cy="1471" r="11" fill="#f2a080" opacity="0.20"/><circle cx="1034" cy="1211" r="14" fill="#f2a080" opacity="0.16"/><circle cx="1466" cy="1436" r="13" fill="#f2a080" opacity="0.30"/><circle cx="727" cy="486" r="15" fill="#f2a080" opacity="0.13"/><circle cx="1329" cy="1489" r="12" fill="#f2a080" opacity="0.14"/><circle cx="799" cy="1391" r="12" fill="#7d0722" opacity="0.13"/><circle cx="990" cy="474" r="11" fill="#f2a080" opacity="0.17"/><circle cx="1172" cy="750" r="8" fill="#f2a080" opacity="0.29"/><circle cx="919" cy="969" r="11" fill="#7d0722" opacity="0.14"/><circle cx="1068" cy="537" r="12" fill="#7d0722" opacity="0.24"/><circle cx="1671" cy="652" r="7" fill="#7d0722" opacity="0.22"/><circle cx="1354" cy="827" r="13" fill="#7d0722" opacity="0.30"/><circle cx="1061" cy="905" r="15" fill="#f2a080" opacity="0.14"/><circle cx="1066" cy="515" r="15" fill="#7d0722" opacity="0.18"/><circle cx="864" cy="509" r="9" fill="#f2a080" opacity="0.20"/><circle cx="1360" cy="685" r="8" fill="#7d0722" opacity="0.13"/><circle cx="942" cy="729" r="11" fill="#f2a080" opacity="0.20"/><circle cx="1068" cy="1233" r="13" fill="#7d0722" opacity="0.25"/><circle cx="1563" cy="1041" r="11" fill="#7d0722" opacity="0.25"/><circle cx="1780" cy="1206" r="14" fill="#f2a080" opacity="0.27"/><circle cx="1144" cy="561" r="8" fill="#f2a080" opacity="0.17"/><circle cx="1470" cy="728" r="8" fill="#7d0722" opacity="0.23"/><circle cx="750" cy="475" r="8" fill="#f2a080" opacity="0.27"/><circle cx="1774" cy="1081" r="9" fill="#f2a080" opacity="0.19"/><circle cx="1087" cy="433" r="13" fill="#7d0722" opacity="0.27"/><circle cx="826" cy="993" r="9" fill="#7d0722" opacity="0.21"/><circle cx="1762" cy="1278" r="8" fill="#f2a080" opacity="0.28"/><circle cx="1232" cy="889" r="11" fill="#7d0722" opacity="0.31"/><circle cx="1311" cy="1467" r="13" fill="#f2a080" opacity="0.27"/><circle cx="1186" cy="476" r="17" fill="#f2a080" opacity="0.22"/><circle cx="1255" cy="1372" r="11" fill="#f2a080" opacity="0.17"/><circle cx="943" cy="1027" r="11" fill="#7d0722" opacity="0.17"/><circle cx="1110" cy="688" r="17" fill="#7d0722" opacity="0.29"/><circle cx="1406" cy="853" r="8" fill="#7d0722" opacity="0.22"/><circle cx="762" cy="603" r="8" fill="#7d0722" opacity="0.30"/><circle cx="941" cy="1281" r="10" fill="#7d0722" opacity="0.29"/><circle cx="1412" cy="1284" r="11" fill="#f2a080" opacity="0.21"/><circle cx="1371" cy="620" r="11" fill="#f2a080" opacity="0.12"/><circle cx="1066" cy="833" r="12" fill="#7d0722" opacity="0.20"/><circle cx="1810" cy="1301" r="16" fill="#7d0722" opacity="0.25"/><circle cx="1316" cy="1283" r="11" fill="#7d0722" opacity="0.26"/><circle cx="1300" cy="727" r="8" fill="#f2a080" opacity="0.18"/><circle cx="1364" cy="1240" r="14" fill="#f2a080" opacity="0.29"/><circle cx="1025" cy="1193" r="8" fill="#7d0722" opacity="0.25"/><circle cx="1782" cy="1389" r="14" fill="#7d0722" opacity="0.27"/><circle cx="1398" cy="645" r="12" fill="#7d0722" opacity="0.17"/><circle cx="1802" cy="1007" r="11" fill="#f2a080" opacity="0.19"/><circle cx="918" cy="1125" r="16" fill="#7d0722" opacity="0.24"/><circle cx="1149" cy="538" r="14" fill="#7d0722" opacity="0.26"/><circle cx="1135" cy="1378" r="9" fill="#f2a080" opacity="0.17"/><circle cx="1411" cy="1389" r="9" fill="#7d0722" opacity="0.27"/><circle cx="969" cy="488" r="13" fill="#7d0722" opacity="0.30"/><circle cx="1528" cy="870" r="11" fill="#7d0722" opacity="0.30"/><circle cx="1056" cy="723" r="13" fill="#7d0722" opacity="0.16"/><circle cx="754" cy="545" r="13" fill="#7d0722" opacity="0.16"/><circle cx="931" cy="1062" r="13" fill="#7d0722" opacity="0.27"/><circle cx="788" cy="943" r="15" fill="#7d0722" opacity="0.18"/><circle cx="1664" cy="1117" r="16" fill="#f2a080" opacity="0.25"/><circle cx="1653" cy="935" r="8" fill="#f2a080" opacity="0.15"/><circle cx="823" cy="584" r="13" fill="#f2a080" opacity="0.26"/><circle cx="1537" cy="1302" r="15" fill="#7d0722" opacity="0.30"/><circle cx="1782" cy="1095" r="17" fill="#f2a080" opacity="0.14"/><circle cx="792" cy="643" r="11" fill="#f2a080" opacity="0.24"/><circle cx="1545" cy="510" r="11" fill="#7d0722" opacity="0.20"/><circle cx="850" cy="1065" r="11" fill="#7d0722" opacity="0.22"/><circle cx="1789" cy="1441" r="8" fill="#7d0722" opacity="0.26"/><circle cx="1048" cy="546" r="12" fill="#f2a080" opacity="0.25"/><circle cx="1739" cy="833" r="10" fill="#f2a080" opacity="0.25"/><circle cx="1596" cy="1042" r="10" fill="#f2a080" opacity="0.27"/><circle cx="1296" cy="474" r="11" fill="#f2a080" opacity="0.24"/><circle cx="801" cy="713" r="8" fill="#f2a080" opacity="0.30"/><circle cx="1321" cy="837" r="16" fill="#f2a080" opacity="0.18"/><circle cx="1620" cy="426" r="15" fill="#f2a080" opacity="0.12"/><circle cx="998" cy="915" r="11" fill="#7d0722" opacity="0.13"/><circle cx="963" cy="1472" r="11" fill="#f2a080" opacity="0.14"/><circle cx="1030" cy="1451" r="14" fill="#7d0722" opacity="0.13"/><circle cx="1156" cy="1261" r="11" fill="#7d0722" opacity="0.30"/><circle cx="1436" cy="1107" r="7" fill="#f2a080" opacity="0.26"/><circle cx="1179" cy="1364" r="15" fill="#7d0722" opacity="0.20"/><circle cx="1829" cy="1237" r="16" fill="#f2a080" opacity="0.26"/><circle cx="1189" cy="1470" r="17" fill="#f2a080" opacity="0.20"/><circle cx="1021" cy="927" r="10" fill="#7d0722" opacity="0.14"/><circle cx="908" cy="914" r="8" fill="#f2a080" opacity="0.28"/><circle cx="1703" cy="632" r="7" fill="#7d0722" opacity="0.31"/><circle cx="1385" cy="567" r="9" fill="#7d0722" opacity="0.31"/><circle cx="755" cy="620" r="11" fill="#f2a080" opacity="0.26"/><circle cx="1134" cy="1257" r="9" fill="#7d0722" opacity="0.31"/><circle cx="1499" cy="517" r="8" fill="#7d0722" opacity="0.19"/><circle cx="1129" cy="936" r="13" fill="#7d0722" opacity="0.17"/><circle cx="1351" cy="704" r="12" fill="#7d0722" opacity="0.15"/><circle cx="1254" cy="1182" r="7" fill="#7d0722" opacity="0.20"/><circle cx="1280" cy="1079" r="15" fill="#f2a080" opacity="0.21"/><circle cx="763" cy="836" r="10" fill="#f2a080" opacity="0.17"/><circle cx="1220" cy="1127" r="16" fill="#f2a080" opacity="0.22"/><circle cx="1512" cy="1432" r="16" fill="#7d0722" opacity="0.18"/><circle cx="905" cy="1426" r="8" fill="#f2a080" opacity="0.25"/><circle cx="1307" cy="840" r="16" fill="#f2a080" opacity="0.22"/><circle cx="1641" cy="569" r="11" fill="#f2a080" opacity="0.22"/><circle cx="950" cy="910" r="8" fill="#f2a080" opacity="0.18"/><circle cx="880" cy="1465" r="10" fill="#f2a080" opacity="0.26"/><circle cx="1543" cy="703" r="15" fill="#7d0722" opacity="0.20"/><circle cx="1418" cy="685" r="10" fill="#7d0722" opacity="0.21"/><circle cx="1716" cy="611" r="8" fill="#f2a080" opacity="0.25"/><circle cx="1343" cy="430" r="7" fill="#7d0722" opacity="0.22"/><circle cx="1687" cy="463" r="13" fill="#f2a080" opacity="0.25"/><circle cx="1399" cy="1081" r="9" fill="#7d0722" opacity="0.14"/><circle cx="791" cy="1159" r="8" fill="#f2a080" opacity="0.20"/><circle cx="1440" cy="1383" r="14" fill="#f2a080" opacity="0.24"/><circle cx="1656" cy="550" r="15" fill="#f2a080" opacity="0.17"/><circle cx="722" cy="1239" r="12" fill="#7d0722" opacity="0.21"/><circle cx="893" cy="654" r="10" fill="#7d0722" opacity="0.16"/><circle cx="818" cy="801" r="8" fill="#f2a080" opacity="0.23"/><circle cx="1442" cy="609" r="8" fill="#f2a080" opacity="0.24"/><circle cx="1216" cy="1039" r="16" fill="#f2a080" opacity="0.17"/><circle cx="1268" cy="999" r="16" fill="#7d0722" opacity="0.25"/><circle cx="1186" cy="1267" r="15" fill="#f2a080" opacity="0.14"/><circle cx="1008" cy="806" r="16" fill="#f2a080" opacity="0.23"/><circle cx="1431" cy="1453" r="8" fill="#7d0722" opacity="0.19"/><circle cx="834" cy="1103" r="15" fill="#7d0722" opacity="0.13"/><circle cx="1799" cy="835" r="13" fill="#7d0722" opacity="0.17"/><circle cx="1173" cy="776" r="8" fill="#f2a080" opacity="0.25"/><circle cx="1176" cy="1359" r="8" fill="#f2a080" opacity="0.15"/><circle cx="1767" cy="1274" r="16" fill="#7d0722" opacity="0.14"/><circle cx="1182" cy="664" r="7" fill="#7d0722" opacity="0.18"/><circle cx="840" cy="972" r="16" fill="#7d0722" opacity="0.21"/><circle cx="834" cy="1250" r="8" fill="#7d0722" opacity="0.14"/><circle cx="1816" cy="1006" r="11" fill="#f2a080" opacity="0.22"/><circle cx="1800" cy="882" r="9" fill="#7d0722" opacity="0.30"/><circle cx="1144" cy="1105" r="16" fill="#f2a080" opacity="0.27"/><circle cx="1307" cy="571" r="8" fill="#7d0722" opacity="0.21"/><circle cx="1212" cy="1411" r="13" fill="#7d0722" opacity="0.18"/><circle cx="1546" cy="697" r="12" fill="#7d0722" opacity="0.24"/><circle cx="869" cy="639" r="14" fill="#7d0722" opacity="0.14"/><circle cx="1827" cy="564" r="9" fill="#f2a080" opacity="0.20"/><circle cx="1408" cy="1346" r="9" fill="#7d0722" opacity="0.14"/><circle cx="1364" cy="692" r="11" fill="#f2a080" opacity="0.25"/><circle cx="856" cy="1245" r="10" fill="#7d0722" opacity="0.25"/><circle cx="1262" cy="1364" r="16" fill="#f2a080" opacity="0.18"/><circle cx="1693" cy="563" r="11" fill="#f2a080" opacity="0.30"/><circle cx="862" cy="1127" r="15" fill="#7d0722" opacity="0.12"/><circle cx="1767" cy="757" r="16" fill="#7d0722" opacity="0.20"/><circle cx="1650" cy="1150" r="10" fill="#7d0722" opacity="0.22"/><circle cx="1510" cy="1084" r="15" fill="#f2a080" opacity="0.21"/><circle cx="721" cy="1274" r="15" fill="#7d0722" opacity="0.13"/><circle cx="1314" cy="937" r="8" fill="#f2a080" opacity="0.30"/><circle cx="1666" cy="677" r="15" fill="#7d0722" opacity="0.20"/><circle cx="1436" cy="667" r="10" fill="#f2a080" opacity="0.24"/><circle cx="1365" cy="1223" r="12" fill="#f2a080" opacity="0.18"/><circle cx="1536" cy="823" r="13" fill="#7d0722" opacity="0.21"/><circle cx="1482" cy="486" r="10" fill="#7d0722" opacity="0.15"/><circle cx="783" cy="436" r="15" fill="#f2a080" opacity="0.20"/><circle cx="1207" cy="1287" r="12" fill="#7d0722" opacity="0.12"/><circle cx="1603" cy="1249" r="13" fill="#7d0722" opacity="0.24"/><circle cx="1515" cy="1339" r="13" fill="#f2a080" opacity="0.28"/><circle cx="1818" cy="637" r="8" fill="#f2a080" opacity="0.14"/><circle cx="1130" cy="516" r="9" fill="#f2a080" opacity="0.20"/><circle cx="1053" cy="1207" r="11" fill="#f2a080" opacity="0.29"/><circle cx="1713" cy="1164" r="9" fill="#f2a080" opacity="0.20"/><circle cx="1174" cy="448" r="12" fill="#7d0722" opacity="0.26"/><circle cx="1675" cy="1158" r="15" fill="#7d0722" opacity="0.30"/><circle cx="1600" cy="869" r="14" fill="#7d0722" opacity="0.30"/><circle cx="1512" cy="899" r="9" fill="#f2a080" opacity="0.17"/><circle cx="1477" cy="1251" r="9" fill="#7d0722" opacity="0.29"/><circle cx="1126" cy="522" r="13" fill="#f2a080" opacity="0.15"/><circle cx="658" cy="263" r="8" fill="#f2a080" opacity="0.14"/><circle cx="523" cy="513" r="17" fill="#7d0722" opacity="0.19"/><circle cx="964" cy="297" r="9" fill="#f2a080" opacity="0.13"/><circle cx="809" cy="608" r="12" fill="#7d0722" opacity="0.21"/><circle cx="961" cy="540" r="12" fill="#f2a080" opacity="0.20"/><circle cx="731" cy="638" r="9" fill="#f2a080" opacity="0.27"/><circle cx="554" cy="507" r="9" fill="#7d0722" opacity="0.24"/><circle cx="565" cy="596" r="11" fill="#f2a080" opacity="0.27"/><circle cx="894" cy="402" r="14" fill="#f2a080" opacity="0.21"/><circle cx="560" cy="555" r="16" fill="#7d0722" opacity="0.13"/><circle cx="766" cy="476" r="11" fill="#f2a080" opacity="0.17"/><circle cx="736" cy="293" r="14" fill="#f2a080" opacity="0.17"/><circle cx="564" cy="399" r="16" fill="#f2a080" opacity="0.14"/><circle cx="686" cy="695" r="8" fill="#f2a080" opacity="0.16"/><circle cx="847" cy="472" r="8" fill="#7d0722" opacity="0.19"/><circle cx="849" cy="468" r="16" fill="#f2a080" opacity="0.16"/><circle cx="657" cy="382" r="15" fill="#7d0722" opacity="0.19"/><circle cx="763" cy="649" r="13" fill="#f2a080" opacity="0.24"/><circle cx="815" cy="447" r="11" fill="#f2a080" opacity="0.20"/><circle cx="942" cy="401" r="11" fill="#7d0722" opacity="0.24"/><circle cx="604" cy="465" r="14" fill="#f2a080" opacity="0.14"/><circle cx="883" cy="676" r="8" fill="#f2a080" opacity="0.23"/><circle cx="657" cy="562" r="7" fill="#f2a080" opacity="0.15"/><circle cx="679" cy="579" r="12" fill="#7d0722" opacity="0.29"/><circle cx="817" cy="650" r="9" fill="#f2a080" opacity="0.18"/><circle cx="820" cy="311" r="16" fill="#f2a080" opacity="0.26"/><circle cx="973" cy="692" r="11" fill="#7d0722" opacity="0.32"/><circle cx="582" cy="604" r="14" fill="#f2a080" opacity="0.17"/><circle cx="603" cy="449" r="16" fill="#f2a080" opacity="0.17"/><circle cx="817" cy="461" r="13" fill="#f2a080" opacity="0.17"/><circle cx="537" cy="636" r="14" fill="#f2a080" opacity="0.21"/><circle cx="799" cy="492" r="16" fill="#7d0722" opacity="0.18"/><circle cx="683" cy="541" r="9" fill="#7d0722" opacity="0.13"/><circle cx="760" cy="386" r="12" fill="#f2a080" opacity="0.16"/><circle cx="995" cy="623" r="9" fill="#f2a080" opacity="0.13"/><circle cx="579" cy="348" r="17" fill="#f2a080" opacity="0.16"/><circle cx="551" cy="311" r="17" fill="#7d0722" opacity="0.30"/><circle cx="921" cy="620" r="10" fill="#f2a080" opacity="0.17"/><circle cx="551" cy="341" r="14" fill="#f2a080" opacity="0.12"/><circle cx="666" cy="651" r="16" fill="#7d0722" opacity="0.27"/><circle cx="958" cy="516" r="11" fill="#7d0722" opacity="0.18"/><circle cx="538" cy="380" r="12" fill="#f2a080" opacity="0.13"/><circle cx="639" cy="429" r="17" fill="#f2a080" opacity="0.27"/><circle cx="877" cy="532" r="10" fill="#f2a080" opacity="0.18"/><circle cx="824" cy="653" r="15" fill="#f2a080" opacity="0.15"/><circle cx="524" cy="529" r="9" fill="#f2a080" opacity="0.17"/><circle cx="630" cy="354" r="14" fill="#7d0722" opacity="0.18"/><circle cx="871" cy="355" r="16" fill="#f2a080" opacity="0.23"/><circle cx="858" cy="597" r="12" fill="#7d0722" opacity="0.25"/><circle cx="852" cy="296" r="9" fill="#f2a080" opacity="0.22"/><circle cx="566" cy="601" r="10" fill="#f2a080" opacity="0.21"/><circle cx="923" cy="399" r="13" fill="#7d0722" opacity="0.25"/><circle cx="670" cy="388" r="12" fill="#7d0722" opacity="0.25"/><circle cx="584" cy="465" r="13" fill="#f2a080" opacity="0.14"/><circle cx="966" cy="270" r="12" fill="#f2a080" opacity="0.13"/><circle cx="650" cy="334" r="11" fill="#7d0722" opacity="0.14"/><circle cx="689" cy="580" r="13" fill="#f2a080" opacity="0.16"/><circle cx="655" cy="672" r="11" fill="#f2a080" opacity="0.21"/><circle cx="753" cy="329" r="14" fill="#7d0722" opacity="0.22"/><circle cx="778" cy="614" r="17" fill="#7d0722" opacity="0.13"/><circle cx="1013" cy="1798" r="10" fill="#c4403a" opacity="0.19"/><circle cx="1082" cy="1776" r="14" fill="#c4403a" opacity="0.26"/><circle cx="1140" cy="1817" r="9" fill="#c4403a" opacity="0.24"/><circle cx="738" cy="1839" r="9" fill="#f2a080" opacity="0.21"/><circle cx="1148" cy="1844" r="12" fill="#c4403a" opacity="0.21"/><circle cx="1051" cy="1946" r="10" fill="#c4403a" opacity="0.31"/><circle cx="752" cy="1850" r="14" fill="#c4403a" opacity="0.28"/><circle cx="1233" cy="1566" r="12" fill="#c4403a" opacity="0.26"/><circle cx="1294" cy="1861" r="15" fill="#f2a080" opacity="0.20"/><circle cx="1266" cy="1926" r="15" fill="#f2a080" opacity="0.26"/><circle cx="1030" cy="1800" r="13" fill="#c4403a" opacity="0.26"/><circle cx="1302" cy="1722" r="12" fill="#c4403a" opacity="0.23"/><circle cx="730" cy="1932" r="10" fill="#f2a080" opacity="0.13"/><circle cx="818" cy="1918" r="10" fill="#f2a080" opacity="0.27"/><circle cx="850" cy="1800" r="13" fill="#c4403a" opacity="0.22"/><circle cx="904" cy="1617" r="11" fill="#f2a080" opacity="0.14"/><circle cx="792" cy="1642" r="15" fill="#c4403a" opacity="0.19"/><circle cx="855" cy="1632" r="13" fill="#f2a080" opacity="0.14"/><circle cx="1025" cy="1621" r="8" fill="#c4403a" opacity="0.14"/><circle cx="972" cy="1845" r="12" fill="#c4403a" opacity="0.18"/><circle cx="1287" cy="1520" r="16" fill="#f2a080" opacity="0.12"/><circle cx="861" cy="1945" r="14" fill="#c4403a" opacity="0.28"/><circle cx="704" cy="1638" r="12" fill="#c4403a" opacity="0.30"/><circle cx="793" cy="1944" r="13" fill="#f2a080" opacity="0.13"/><circle cx="965" cy="1734" r="12" fill="#f2a080" opacity="0.29"/><circle cx="995" cy="1638" r="15" fill="#f2a080" opacity="0.20"/><circle cx="765" cy="1607" r="17" fill="#c4403a" opacity="0.22"/><circle cx="1117" cy="1802" r="12" fill="#f2a080" opacity="0.15"/><circle cx="718" cy="1554" r="11" fill="#f2a080" opacity="0.24"/><circle cx="909" cy="1605" r="10" fill="#f2a080" opacity="0.16"/><circle cx="1228" cy="1717" r="8" fill="#f2a080" opacity="0.28"/><circle cx="1058" cy="1631" r="14" fill="#f2a080" opacity="0.28"/><circle cx="1281" cy="1799" r="8" fill="#f2a080" opacity="0.27"/><circle cx="1068" cy="1594" r="9" fill="#f2a080" opacity="0.21"/><circle cx="812" cy="1700" r="16" fill="#c4403a" opacity="0.22"/><circle cx="1186" cy="1560" r="16" fill="#c4403a" opacity="0.22"/><circle cx="1249" cy="1634" r="17" fill="#f2a080" opacity="0.29"/><circle cx="1219" cy="1921" r="14" fill="#f2a080" opacity="0.17"/><circle cx="1107" cy="1909" r="14" fill="#f2a080" opacity="0.18"/><circle cx="914" cy="1577" r="9" fill="#c4403a" opacity="0.19"/><circle cx="866" cy="1685" r="16" fill="#c4403a" opacity="0.27"/><circle cx="1278" cy="1514" r="16" fill="#f2a080" opacity="0.16"/><circle cx="1158" cy="1839" r="13" fill="#f2a080" opacity="0.25"/><circle cx="965" cy="1587" r="9" fill="#f2a080" opacity="0.13"/><circle cx="1290" cy="1928" r="10" fill="#f2a080" opacity="0.17"/><circle cx="1184" cy="1722" r="9" fill="#c4403a" opacity="0.31"/><circle cx="729" cy="1707" r="9" fill="#c4403a" opacity="0.19"/><circle cx="885" cy="1636" r="13" fill="#c4403a" opacity="0.22"/><circle cx="1122" cy="1713" r="16" fill="#f2a080" opacity="0.26"/><circle cx="1277" cy="1780" r="13" fill="#c4403a" opacity="0.26"/><circle cx="820" cy="1688" r="9" fill="#f2a080" opacity="0.24"/><circle cx="904" cy="1615" r="7" fill="#f2a080" opacity="0.24"/><circle cx="922" cy="1696" r="14" fill="#c4403a" opacity="0.26"/><circle cx="836" cy="1945" r="9" fill="#c4403a" opacity="0.25"/><circle cx="878" cy="1900" r="13" fill="#c4403a" opacity="0.15"/><circle cx="1216" cy="1629" r="13" fill="#c4403a" opacity="0.18"/><circle cx="864" cy="1649" r="17" fill="#c4403a" opacity="0.21"/><circle cx="1048" cy="1795" r="10" fill="#f2a080" opacity="0.14"/><circle cx="1061" cy="1769" r="17" fill="#c4403a" opacity="0.29"/><circle cx="1312" cy="1723" r="11" fill="#f2a080" opacity="0.19"/><circle cx="712" cy="873" r="8" fill="#7d0722" opacity="0.23"/><circle cx="710" cy="864" r="13" fill="#7d0722" opacity="0.14"/><circle cx="586" cy="919" r="10" fill="#f2a080" opacity="0.27"/><circle cx="710" cy="929" r="11" fill="#f2a080" opacity="0.26"/><circle cx="603" cy="900" r="14" fill="#f2a080" opacity="0.12"/><circle cx="678" cy="937" r="13" fill="#7d0722" opacity="0.17"/><circle cx="706" cy="831" r="13" fill="#f2a080" opacity="0.16"/><circle cx="670" cy="882" r="16" fill="#7d0722" opacity="0.22"/><circle cx="690" cy="888" r="11" fill="#f2a080" opacity="0.24"/><circle cx="637" cy="711" r="9" fill="#f2a080" opacity="0.24"/><circle cx="691" cy="847" r="15" fill="#f2a080" opacity="0.18"/><circle cx="710" cy="904" r="11" fill="#7d0722" opacity="0.13"/><circle cx="667" cy="957" r="16" fill="#f2a080" opacity="0.27"/><circle cx="667" cy="981" r="10" fill="#7d0722" opacity="0.25"/><circle cx="758" cy="802" r="11" fill="#f2a080" opacity="0.24"/><circle cx="574" cy="955" r="8" fill="#f2a080" opacity="0.29"/><circle cx="660" cy="926" r="10" fill="#f2a080" opacity="0.19"/><circle cx="757" cy="758" r="16" fill="#7d0722" opacity="0.26"/><circle cx="613" cy="919" r="16" fill="#7d0722" opacity="0.16"/><circle cx="682" cy="987" r="13" fill="#f2a080" opacity="0.16"/></g><g filter="url(#b3)" fill="none" stroke-linecap="round"><path d="M317,795 L322,806" stroke="#f8bfa4" stroke-width="4.5" opacity="0.39"/><path d="M307,807 L315,818" stroke="#c6dfee" stroke-width="4.0" opacity="0.82"/><path d="M323,806 L339,811" stroke="#f8bfa4" stroke-width="6.0" opacity="0.38"/><path d="M305,796 L325,831" stroke="#e4eef5" stroke-width="6.2" opacity="0.69"/><path d="M337,825 L350,838" stroke="#f7f7f7" stroke-width="3.6" opacity="0.45"/><path d="M336,835 L339,848" stroke="#fddbc7" stroke-width="4.0" opacity="0.42"/><path d="M331,815 L332,827" stroke="#e4eef5" stroke-width="5.6" opacity="0.80"/><path d="M352,798 L365,805" stroke="#f7f7f7" stroke-width="4.7" opacity="0.60"/><path d="M356,853 L370,865" stroke="#c6dfee" stroke-width="5.6" opacity="0.64"/><path d="M341,827 L355,868" stroke="#f8bfa4" stroke-width="2.7" opacity="0.69"/><path d="M356,868 L360,880" stroke="#fddbc7" stroke-width="6.0" opacity="0.83"/><path d="M372,832 L376,845" stroke="#c6dfee" stroke-width="4.0" opacity="0.61"/><path d="M351,844 L380,871" stroke="#e4eef5" stroke-width="4.0" opacity="0.55"/><path d="M404,908 L406,920" stroke="#d1e5f0" stroke-width="5.7" opacity="0.35"/><path d="M359,875 L358,897" stroke="#f8bfa4" stroke-width="3.6" opacity="0.74"/><path d="M346,866 L346,904" stroke="#c6dfee" stroke-width="4.5" opacity="0.74"/><path d="M331,897 L354,925" stroke="#f8bfa4" stroke-width="4.5" opacity="0.53"/><path d="M346,896 L368,928" stroke="#f7f7f7" stroke-width="3.5" opacity="0.82"/><path d="M365,908 L375,922" stroke="#fddbc7" stroke-width="2.7" opacity="0.45"/><path d="M360,921 L378,960" stroke="#e4eef5" stroke-width="3.9" opacity="0.59"/><path d="M345,941 L356,953" stroke="#e4eef5" stroke-width="4.2" opacity="0.70"/><path d="M379,926 L403,958" stroke="#c6dfee" stroke-width="3.2" opacity="0.49"/><path d="M392,924 L395,944" stroke="#c6dfee" stroke-width="3.0" opacity="0.76"/><path d="M396,933 L406,971" stroke="#fddbc7" stroke-width="3.3" opacity="0.58"/><path d="M395,946 L417,982" stroke="#c6dfee" stroke-width="4.6" opacity="0.36"/><path d="M398,971 L402,1000" stroke="#f8bfa4" stroke-width="4.6" opacity="0.67"/><path d="M387,978 L388,992" stroke="#e4eef5" stroke-width="3.4" opacity="0.40"/><path d="M426,981 L443,1003" stroke="#f7f7f7" stroke-width="5.0" opacity="0.69"/><path d="M392,967 L421,999" stroke="#fddbc7" stroke-width="4.8" opacity="0.79"/><path d="M382,981 L398,1008" stroke="#fddbc7" stroke-width="5.2" opacity="0.64"/><path d="M377,998 L388,1005" stroke="#f8bfa4" stroke-width="5.0" opacity="0.62"/><path d="M398,976 L405,997" stroke="#f7f7f7" stroke-width="5.6" opacity="0.58"/><path d="M422,1023 L432,1037" stroke="#c6dfee" stroke-width="6.1" opacity="0.47"/><path d="M423,1036 L438,1048" stroke="#f7f7f7" stroke-width="2.9" opacity="0.39"/><path d="M419,1026 L448,1041" stroke="#c6dfee" stroke-width="3.3" opacity="0.39"/><path d="M417,997 L429,1029" stroke="#d1e5f0" stroke-width="2.6" opacity="0.82"/><path d="M396,1022 L414,1032" stroke="#f8bfa4" stroke-width="5.9" opacity="0.79"/><path d="M443,1062 L452,1076" stroke="#e4eef5" stroke-width="2.7" opacity="0.84"/><path d="M432,1064 L448,1102" stroke="#f7f7f7" stroke-width="6.4" opacity="0.36"/><path d="M466,1025 L483,1039" stroke="#fddbc7" stroke-width="4.8" opacity="0.57"/><path d="M449,1024 L458,1049" stroke="#d1e5f0" stroke-width="4.0" opacity="0.55"/><path d="M454,1082 L482,1090" stroke="#c6dfee" stroke-width="3.3" opacity="0.53"/><path d="M482,1068 L502,1106" stroke="#c6dfee" stroke-width="4.9" opacity="0.72"/><path d="M469,1058 L487,1072" stroke="#f8bfa4" stroke-width="2.6" opacity="0.56"/><path d="M471,1053 L488,1075" stroke="#f7f7f7" stroke-width="4.4" opacity="0.49"/><path d="M498,1047 L510,1049" stroke="#f7f7f7" stroke-width="6.2" opacity="0.40"/><path d="M503,1073 L521,1090" stroke="#fddbc7" stroke-width="5.9" opacity="0.79"/><path d="M506,1070 L540,1074" stroke="#d1e5f0" stroke-width="3.9" opacity="0.45"/><path d="M533,1063 L546,1075" stroke="#d1e5f0" stroke-width="3.2" opacity="0.69"/><path d="M488,1063 L524,1080" stroke="#f7f7f7" stroke-width="5.2" opacity="0.49"/><path d="M529,1073 L551,1074" stroke="#d1e5f0" stroke-width="5.5" opacity="0.72"/><path d="M516,1106 L539,1107" stroke="#f8bfa4" stroke-width="4.8" opacity="0.74"/><path d="M530,1111 L560,1112" stroke="#e4eef5" stroke-width="6.1" opacity="0.61"/><path d="M545,1108 L557,1113" stroke="#f7f7f7" stroke-width="4.7" opacity="0.82"/><path d="M570,1099 L590,1113" stroke="#c6dfee" stroke-width="4.4" opacity="0.71"/><path d="M554,1109 L571,1107" stroke="#d1e5f0" stroke-width="4.8" opacity="0.48"/><path d="M565,1084 L576,1090" stroke="#d1e5f0" stroke-width="5.1" opacity="0.69"/><path d="M577,1119 L591,1119" stroke="#f8bfa4" stroke-width="5.9" opacity="0.84"/><path d="M602,1109 L625,1118" stroke="#e4eef5" stroke-width="2.8" opacity="0.58"/><path d="M593,1153 L610,1154" stroke="#f8bfa4" stroke-width="3.1" opacity="0.71"/><path d="M582,1129 L615,1144" stroke="#f8bfa4" stroke-width="6.0" opacity="0.43"/><path d="M611,1076 L625,1097" stroke="#fddbc7" stroke-width="3.6" opacity="0.72"/><path d="M637,1133 L658,1151" stroke="#d1e5f0" stroke-width="3.5" opacity="0.66"/><path d="M651,1134 L662,1140" stroke="#f7f7f7" stroke-width="3.3" opacity="0.67"/><path d="M619,1142 L628,1157" stroke="#d1e5f0" stroke-width="5.4" opacity="0.51"/><path d="M609,1129 L639,1141" stroke="#d1e5f0" stroke-width="6.2" opacity="0.82"/><path d="M626,1127 L637,1139" stroke="#f7f7f7" stroke-width="6.4" opacity="0.37"/><path d="M637,1139 L657,1167" stroke="#f8bfa4" stroke-width="3.9" opacity="0.74"/><path d="M656,1185 L671,1194" stroke="#e4eef5" stroke-width="3.5" opacity="0.60"/><path d="M650,1176 L680,1192" stroke="#d1e5f0" stroke-width="6.1" opacity="0.71"/><path d="M658,1154 L674,1167" stroke="#fddbc7" stroke-width="3.7" opacity="0.75"/><path d="M653,1167 L663,1179" stroke="#c6dfee" stroke-width="6.0" opacity="0.69"/><path d="M491,1094 L534,1091" stroke="#c6dfee" stroke-width="4.1" opacity="0.44"/><path d="M513,1122 L538,1142" stroke="#f7f7f7" stroke-width="4.2" opacity="0.50"/><path d="M485,1080 L523,1100" stroke="#f8bfa4" stroke-width="4.4" opacity="0.36"/><path d="M501,1114 L517,1112" stroke="#e4eef5" stroke-width="4.8" opacity="0.57"/><path d="M505,1037 L536,1067" stroke="#f8bfa4" stroke-width="2.8" opacity="0.68"/><path d="M492,1079 L524,1103" stroke="#fddbc7" stroke-width="3.3" opacity="0.49"/><path d="M523,1101 L552,1133" stroke="#fddbc7" stroke-width="4.5" opacity="0.38"/><path d="M525,1062 L557,1084" stroke="#c6dfee" stroke-width="2.8" opacity="0.52"/><path d="M570,1154 L608,1176" stroke="#fddbc7" stroke-width="4.5" opacity="0.62"/><path d="M582,1187 L593,1193" stroke="#c6dfee" stroke-width="3.6" opacity="0.64"/><path d="M606,1112 L624,1122" stroke="#d1e5f0" stroke-width="5.9" opacity="0.61"/><path d="M570,1108 L603,1123" stroke="#e4eef5" stroke-width="4.0" opacity="0.43"/><path d="M599,1123 L636,1138" stroke="#c6dfee" stroke-width="3.8" opacity="0.49"/><path d="M562,1089 L581,1099" stroke="#fddbc7" stroke-width="2.7" opacity="0.75"/><path d="M562,1082 L582,1100" stroke="#e4eef5" stroke-width="2.7" opacity="0.43"/><path d="M583,1144 L598,1145" stroke="#c6dfee" stroke-width="2.9" opacity="0.78"/><path d="M565,1100 L601,1099" stroke="#f7f7f7" stroke-width="3.1" opacity="0.48"/><path d="M655,1181 L693,1192" stroke="#c6dfee" stroke-width="3.1" opacity="0.54"/><path d="M632,1123 L649,1144" stroke="#fddbc7" stroke-width="4.6" opacity="0.83"/><path d="M689,1105 L709,1120" stroke="#d1e5f0" stroke-width="2.9" opacity="0.84"/><path d="M652,1168 L664,1180" stroke="#f8bfa4" stroke-width="4.5" opacity="0.40"/><path d="M632,1161 L667,1182" stroke="#e4eef5" stroke-width="3.8" opacity="0.52"/><path d="M681,1143 L696,1146" stroke="#fddbc7" stroke-width="4.0" opacity="0.82"/><path d="M615,1197 L635,1219" stroke="#f7f7f7" stroke-width="5.1" opacity="0.66"/><path d="M621,1135 L658,1143" stroke="#e4eef5" stroke-width="3.6" opacity="0.55"/><path d="M656,1168 L686,1174" stroke="#f7f7f7" stroke-width="5.7" opacity="0.69"/><path d="M577,1185 L610,1194" stroke="#f8bfa4" stroke-width="5.3" opacity="0.68"/><path d="M583,1166 L594,1176" stroke="#e4eef5" stroke-width="4.5" opacity="0.59"/><path d="M640,1140 L653,1170" stroke="#f7f7f7" stroke-width="5.1" opacity="0.46"/><path d="M584,1193 L591,1209" stroke="#d1e5f0" stroke-width="5.1" opacity="0.82"/><path d="M597,1172 L613,1183" stroke="#f7f7f7" stroke-width="2.8" opacity="0.73"/><path d="M609,1200 L612,1212" stroke="#c6dfee" stroke-width="5.9" opacity="0.38"/><path d="M609,1192 L619,1220" stroke="#e4eef5" stroke-width="4.2" opacity="0.69"/><path d="M580,1200 L591,1209" stroke="#fddbc7" stroke-width="3.8" opacity="0.77"/><path d="M618,1144 L639,1174" stroke="#d1e5f0" stroke-width="4.7" opacity="0.73"/><path d="M614,1160 L632,1174" stroke="#e4eef5" stroke-width="2.8" opacity="0.73"/><path d="M608,1269 L614,1286" stroke="#fddbc7" stroke-width="4.8" opacity="0.35"/><path d="M675,1233 L679,1249" stroke="#c6dfee" stroke-width="6.5" opacity="0.72"/><path d="M672,1232 L679,1257" stroke="#e4eef5" stroke-width="4.5" opacity="0.59"/><path d="M637,1218 L660,1237" stroke="#e4eef5" stroke-width="3.1" opacity="0.59"/><path d="M644,1223 L655,1254" stroke="#d1e5f0" stroke-width="3.0" opacity="0.39"/><path d="M663,1211 L665,1227" stroke="#fddbc7" stroke-width="3.6" opacity="0.46"/><path d="M662,1234 L686,1271" stroke="#d1e5f0" stroke-width="6.1" opacity="0.43"/><path d="M622,1220 L633,1228" stroke="#f8bfa4" stroke-width="5.4" opacity="0.81"/><path d="M693,1224 L704,1257" stroke="#f7f7f7" stroke-width="4.9" opacity="0.72"/><path d="M656,1276 L662,1301" stroke="#f7f7f7" stroke-width="2.7" opacity="0.74"/><path d="M614,1324 L615,1338" stroke="#d1e5f0" stroke-width="4.2" opacity="0.38"/><path d="M663,1295 L670,1307" stroke="#d1e5f0" stroke-width="4.6" opacity="0.47"/><path d="M661,1313 L680,1328" stroke="#d1e5f0" stroke-width="4.1" opacity="0.63"/><path d="M697,1286 L711,1326" stroke="#d1e5f0" stroke-width="5.4" opacity="0.68"/><path d="M686,1275 L686,1319" stroke="#f8bfa4" stroke-width="5.4" opacity="0.67"/><path d="M653,1285 L669,1315" stroke="#d1e5f0" stroke-width="6.2" opacity="0.80"/><path d="M691,1256 L693,1298" stroke="#f8bfa4" stroke-width="2.8" opacity="0.50"/><path d="M687,1283 L688,1307" stroke="#d1e5f0" stroke-width="4.5" opacity="0.57"/><path d="M717,1334 L727,1344" stroke="#e4eef5" stroke-width="4.3" opacity="0.80"/><path d="M668,1369 L677,1382" stroke="#e4eef5" stroke-width="3.9" opacity="0.64"/><path d="M654,1365 L664,1377" stroke="#f7f7f7" stroke-width="3.0" opacity="0.36"/><path d="M731,1354 L743,1370" stroke="#c6dfee" stroke-width="5.1" opacity="0.79"/><path d="M647,1338 L662,1370" stroke="#e4eef5" stroke-width="3.6" opacity="0.78"/><path d="M682,1361 L695,1381" stroke="#f7f7f7" stroke-width="3.6" opacity="0.35"/><path d="M700,1218 L716,1217" stroke="#fddbc7" stroke-width="3.2" opacity="0.68"/><path d="M721,1206 L754,1236" stroke="#f8bfa4" stroke-width="5.5" opacity="0.58"/><path d="M710,1269 L749,1273" stroke="#f7f7f7" stroke-width="3.8" opacity="0.62"/><path d="M717,1230 L746,1230" stroke="#fbe6da" stroke-width="4.5" opacity="0.37"/><path d="M709,1237 L751,1240" stroke="#fbe6da" stroke-width="5.1" opacity="0.38"/><path d="M691,1262 L721,1268" stroke="#fbe6da" stroke-width="5.5" opacity="0.84"/><path d="M714,1249 L729,1252" stroke="#fddbc7" stroke-width="4.7" opacity="0.80"/><path d="M696,1256 L707,1261" stroke="#f7f7f7" stroke-width="2.9" opacity="0.39"/><path d="M699,1211 L713,1216" stroke="#fbe6da" stroke-width="6.4" opacity="0.65"/><path d="M781,1283 L789,1297" stroke="#fbe6da" stroke-width="5.4" opacity="0.43"/><path d="M767,1259 L785,1295" stroke="#f4a582" stroke-width="2.8" opacity="0.83"/><path d="M777,1283 L797,1294" stroke="#f4a582" stroke-width="3.7" opacity="0.56"/><path d="M783,1266 L796,1275" stroke="#fddbc7" stroke-width="5.2" opacity="0.50"/><path d="M737,1307 L753,1314" stroke="#f8bfa4" stroke-width="4.3" opacity="0.64"/><path d="M727,1255 L768,1268" stroke="#f4a582" stroke-width="2.9" opacity="0.73"/><path d="M766,1254 L778,1269" stroke="#f7f7f7" stroke-width="3.4" opacity="0.72"/><path d="M766,1267 L787,1305" stroke="#fddbc7" stroke-width="3.8" opacity="0.39"/><path d="M769,1344 L779,1370" stroke="#f4a582" stroke-width="5.0" opacity="0.57"/><path d="M742,1310 L739,1353" stroke="#fbe6da" stroke-width="5.1" opacity="0.70"/><path d="M800,1293 L796,1328" stroke="#fddbc7" stroke-width="6.0" opacity="0.68"/><path d="M791,1329 L781,1360" stroke="#fddbc7" stroke-width="5.1" opacity="0.36"/><path d="M772,1343 L771,1362" stroke="#fbe6da" stroke-width="3.1" opacity="0.61"/><path d="M823,1323 L812,1346" stroke="#fbe6da" stroke-width="4.2" opacity="0.45"/><path d="M768,1283 L756,1321" stroke="#f7f7f7" stroke-width="5.7" opacity="0.44"/><path d="M740,1320 L735,1339" stroke="#fbe6da" stroke-width="3.1" opacity="0.77"/><path d="M770,1356 L758,1394" stroke="#f7f7f7" stroke-width="2.5" opacity="0.53"/><path d="M779,1386 L786,1427" stroke="#f8bfa4" stroke-width="3.3" opacity="0.67"/><path d="M826,1363 L816,1384" stroke="#fbe6da" stroke-width="5.8" opacity="0.65"/><path d="M728,1377 L726,1414" stroke="#fddbc7" stroke-width="5.3" opacity="0.65"/><path d="M775,1379 L779,1420" stroke="#fbe6da" stroke-width="4.2" opacity="0.72"/><path d="M786,1362 L786,1380" stroke="#f8bfa4" stroke-width="4.8" opacity="0.36"/><path d="M764,1376 L771,1408" stroke="#fddbc7" stroke-width="2.5" opacity="0.77"/><path d="M773,1371 L769,1398" stroke="#fddbc7" stroke-width="3.4" opacity="0.78"/><path d="M804,1472 L778,1506" stroke="#f4a582" stroke-width="4.8" opacity="0.53"/><path d="M762,1434 L749,1452" stroke="#f4a582" stroke-width="4.2" opacity="0.65"/><path d="M747,1438 L731,1457" stroke="#fbe6da" stroke-width="5.2" opacity="0.39"/><path d="M758,1457 L762,1484" stroke="#fddbc7" stroke-width="3.2" opacity="0.57"/><path d="M790,1449 L769,1482" stroke="#fbe6da" stroke-width="4.7" opacity="0.53"/><path d="M739,1451 L736,1487" stroke="#f7f7f7" stroke-width="2.9" opacity="0.68"/><path d="M725,1437 L727,1479" stroke="#f4a582" stroke-width="5.5" opacity="0.55"/><path d="M814,1442 L813,1481" stroke="#fbe6da" stroke-width="5.1" opacity="0.57"/><path d="M727,1364 L727,1382" stroke="#e4eef5" stroke-width="3.5" opacity="0.56"/><path d="M747,1391 L741,1423" stroke="#c6dfee" stroke-width="6.3" opacity="0.37"/><path d="M713,1375 L732,1395" stroke="#d1e5f0" stroke-width="5.2" opacity="0.68"/><path d="M736,1357 L752,1376" stroke="#f8bfa4" stroke-width="3.7" opacity="0.73"/><path d="M693,1372 L695,1397" stroke="#fddbc7" stroke-width="3.3" opacity="0.56"/><path d="M692,1400 L698,1419" stroke="#c6dfee" stroke-width="5.8" opacity="0.75"/><path d="M745,1439 L737,1463" stroke="#d1e5f0" stroke-width="4.8" opacity="0.72"/><path d="M732,1425 L716,1454" stroke="#d1e5f0" stroke-width="5.2" opacity="0.78"/><path d="M737,1427 L734,1458" stroke="#c6dfee" stroke-width="3.1" opacity="0.47"/><path d="M740,1427 L737,1440" stroke="#f7f7f7" stroke-width="4.9" opacity="0.54"/><path d="M723,1409 L715,1437" stroke="#fddbc7" stroke-width="2.9" opacity="0.37"/><path d="M727,1417 L707,1452" stroke="#d1e5f0" stroke-width="6.4" opacity="0.47"/><path d="M684,1453 L684,1482" stroke="#c6dfee" stroke-width="5.3" opacity="0.50"/><path d="M715,1439 L695,1477" stroke="#d1e5f0" stroke-width="5.2" opacity="0.38"/><path d="M722,1475 L699,1498" stroke="#f8bfa4" stroke-width="3.0" opacity="0.63"/><path d="M721,1477 L711,1495" stroke="#e4eef5" stroke-width="6.2" opacity="0.72"/><path d="M667,1490 L647,1509" stroke="#f8bfa4" stroke-width="5.5" opacity="0.55"/><path d="M690,1498 L656,1516" stroke="#f7f7f7" stroke-width="5.1" opacity="0.70"/><path d="M687,1488 L670,1509" stroke="#f7f7f7" stroke-width="3.4" opacity="0.56"/><path d="M691,1499 L678,1526" stroke="#e4eef5" stroke-width="4.3" opacity="0.74"/><path d="M716,1502 L695,1525" stroke="#c6dfee" stroke-width="3.8" opacity="0.69"/><path d="M683,1517 L662,1550" stroke="#fddbc7" stroke-width="6.3" opacity="0.47"/><path d="M660,1519 L645,1529" stroke="#e4eef5" stroke-width="6.2" opacity="0.76"/><path d="M681,1531 L663,1539" stroke="#d1e5f0" stroke-width="5.6" opacity="0.64"/><path d="M680,1541 L665,1550" stroke="#fddbc7" stroke-width="6.4" opacity="0.52"/><path d="M688,1526 L676,1552" stroke="#fddbc7" stroke-width="5.5" opacity="0.56"/><path d="M652,1549 L645,1566" stroke="#f7f7f7" stroke-width="5.5" opacity="0.69"/><path d="M653,1554 L645,1563" stroke="#d1e5f0" stroke-width="4.3" opacity="0.43"/><path d="M661,1568 L658,1579" stroke="#fddbc7" stroke-width="2.7" opacity="0.39"/><path d="M646,1546 L638,1581" stroke="#c6dfee" stroke-width="2.9" opacity="0.47"/><path d="M624,1582 L600,1609" stroke="#e4eef5" stroke-width="6.2" opacity="0.82"/><path d="M624,1589 L618,1612" stroke="#d1e5f0" stroke-width="5.1" opacity="0.64"/><path d="M636,1574 L621,1589" stroke="#e4eef5" stroke-width="4.9" opacity="0.62"/><path d="M637,1588 L635,1623" stroke="#f8bfa4" stroke-width="4.3" opacity="0.66"/><path d="M644,1610 L621,1645" stroke="#d1e5f0" stroke-width="3.3" opacity="0.77"/><path d="M650,1613 L645,1629" stroke="#e4eef5" stroke-width="6.3" opacity="0.73"/><path d="M635,1606 L625,1616" stroke="#c6dfee" stroke-width="2.6" opacity="0.47"/><path d="M604,1603 L604,1619" stroke="#f8bfa4" stroke-width="6.3" opacity="0.36"/><path d="M615,1597 L611,1611" stroke="#d1e5f0" stroke-width="4.9" opacity="0.72"/><path d="M602,1619 L604,1633" stroke="#c6dfee" stroke-width="5.3" opacity="0.59"/><path d="M618,1605 L621,1647" stroke="#c6dfee" stroke-width="6.1" opacity="0.77"/><path d="M636,1611 L627,1633" stroke="#c6dfee" stroke-width="5.3" opacity="0.68"/><path d="M610,1622 L603,1640" stroke="#d1e5f0" stroke-width="3.8" opacity="0.36"/><path d="M621,1596 L616,1617" stroke="#fddbc7" stroke-width="3.6" opacity="0.70"/><path d="M598,1610 L611,1645" stroke="#f8bfa4" stroke-width="4.4" opacity="0.67"/><path d="M601,1619 L604,1652" stroke="#f8bfa4" stroke-width="3.1" opacity="0.70"/><path d="M603,1659 L593,1674" stroke="#f8bfa4" stroke-width="5.1" opacity="0.49"/><path d="M614,1663 L616,1681" stroke="#fddbc7" stroke-width="3.9" opacity="0.67"/><path d="M613,1643 L600,1669" stroke="#f8bfa4" stroke-width="3.5" opacity="0.37"/><path d="M591,1655 L595,1693" stroke="#fddbc7" stroke-width="4.4" opacity="0.54"/><path d="M623,1666 L626,1685" stroke="#f7f7f7" stroke-width="5.4" opacity="0.74"/><path d="M616,1694 L627,1706" stroke="#c6dfee" stroke-width="2.9" opacity="0.36"/><path d="M614,1669 L634,1703" stroke="#e4eef5" stroke-width="3.0" opacity="0.80"/><path d="M624,1669 L645,1706" stroke="#c6dfee" stroke-width="5.8" opacity="0.47"/><path d="M595,1688 L615,1702" stroke="#d1e5f0" stroke-width="3.8" opacity="0.46"/><path d="M612,1710 L618,1749" stroke="#e4eef5" stroke-width="4.3" opacity="0.46"/><path d="M605,1721 L598,1747" stroke="#fddbc7" stroke-width="2.6" opacity="0.38"/><path d="M612,1725 L608,1759" stroke="#f7f7f7" stroke-width="3.9" opacity="0.85"/><path d="M615,1706 L616,1736" stroke="#fddbc7" stroke-width="5.8" opacity="0.38"/><path d="M635,1712 L620,1746" stroke="#fddbc7" stroke-width="4.9" opacity="0.79"/><path d="M636,1714 L627,1740" stroke="#d1e5f0" stroke-width="4.2" opacity="0.65"/><path d="M597,1786 L581,1825" stroke="#c6dfee" stroke-width="5.9" opacity="0.55"/><path d="M616,1806 L612,1819" stroke="#f7f7f7" stroke-width="6.1" opacity="0.42"/><path d="M580,1742 L582,1776" stroke="#fddbc7" stroke-width="3.2" opacity="0.76"/><path d="M619,1772 L614,1788" stroke="#e4eef5" stroke-width="4.7" opacity="0.44"/><path d="M601,1776 L601,1795" stroke="#e4eef5" stroke-width="4.3" opacity="0.78"/><path d="M627,1769 L608,1801" stroke="#fddbc7" stroke-width="4.3" opacity="0.43"/><path d="M600,1763 L598,1775" stroke="#c6dfee" stroke-width="3.9" opacity="0.81"/><path d="M572,1789 L576,1810" stroke="#d1e5f0" stroke-width="6.2" opacity="0.71"/><path d="M596,1828 L588,1846" stroke="#d1e5f0" stroke-width="6.1" opacity="0.68"/><path d="M583,1827 L583,1842" stroke="#fddbc7" stroke-width="4.2" opacity="0.54"/><path d="M601,1806 L581,1836" stroke="#d1e5f0" stroke-width="5.8" opacity="0.41"/><path d="M608,1834 L594,1865" stroke="#e4eef5" stroke-width="6.4" opacity="0.70"/><path d="M611,1815 L594,1830" stroke="#e4eef5" stroke-width="5.2" opacity="0.76"/><path d="M590,1809 L569,1830" stroke="#f8bfa4" stroke-width="5.3" opacity="0.59"/><path d="M569,1872 L555,1894" stroke="#f7f7f7" stroke-width="5.4" opacity="0.72"/><path d="M589,1872 L593,1892" stroke="#e4eef5" stroke-width="5.2" opacity="0.66"/><path d="M570,1874 L572,1903" stroke="#f8bfa4" stroke-width="4.6" opacity="0.56"/><path d="M574,1861 L584,1887" stroke="#c6dfee" stroke-width="4.5" opacity="0.60"/><path d="M574,1863 L564,1899" stroke="#fddbc7" stroke-width="5.2" opacity="0.85"/><path d="M591,1882 L595,1913" stroke="#fddbc7" stroke-width="4.5" opacity="0.56"/><path d="M541,1902 L547,1929" stroke="#e4eef5" stroke-width="5.7" opacity="0.61"/><path d="M560,1913 L561,1927" stroke="#c6dfee" stroke-width="3.9" opacity="0.48"/><path d="M584,1909 L576,1952" stroke="#f8bfa4" stroke-width="3.0" opacity="0.72"/><path d="M571,1897 L574,1920" stroke="#c6dfee" stroke-width="2.7" opacity="0.57"/><path d="M563,1917 L538,1953" stroke="#d1e5f0" stroke-width="3.8" opacity="0.70"/><path d="M564,1925 L562,1945" stroke="#d1e5f0" stroke-width="4.8" opacity="0.63"/><path d="M556,1965 L553,1989" stroke="#d1e5f0" stroke-width="4.4" opacity="0.69"/><path d="M572,1957 L570,1970" stroke="#e4eef5" stroke-width="5.0" opacity="0.38"/><path d="M544,1943 L525,1978" stroke="#d1e5f0" stroke-width="3.2" opacity="0.53"/><path d="M578,1935 L574,1976" stroke="#c6dfee" stroke-width="5.3" opacity="0.84"/><path d="M561,1946 L559,1976" stroke="#f8bfa4" stroke-width="5.4" opacity="0.57"/><path d="M579,1932 L580,1960" stroke="#d1e5f0" stroke-width="3.0" opacity="0.52"/><path d="M547,1997 L554,2022" stroke="#c6dfee" stroke-width="4.0" opacity="0.47"/><path d="M550,1978 L556,2011" stroke="#f7f7f7" stroke-width="2.7" opacity="0.72"/><path d="M570,1989 L561,2002" stroke="#d1e5f0" stroke-width="5.6" opacity="0.70"/><path d="M549,1974 L535,2011" stroke="#f8bfa4" stroke-width="5.2" opacity="0.69"/><path d="M551,2004 L551,2017" stroke="#fddbc7" stroke-width="4.8" opacity="0.39"/><path d="M554,1969 L541,2001" stroke="#fddbc7" stroke-width="5.9" opacity="0.54"/><path d="M568,2018 L567,2042" stroke="#e4eef5" stroke-width="3.4" opacity="0.63"/><path d="M540,2036 L522,2072" stroke="#f7f7f7" stroke-width="3.7" opacity="0.67"/><path d="M540,2068 L535,2082" stroke="#f8bfa4" stroke-width="5.2" opacity="0.45"/><path d="M566,2035 L568,2053" stroke="#f7f7f7" stroke-width="2.5" opacity="0.58"/><path d="M547,2014 L531,2040" stroke="#e4eef5" stroke-width="4.8" opacity="0.47"/><path d="M557,2066 L551,2087" stroke="#e4eef5" stroke-width="3.0" opacity="0.80"/><path d="M548,2046 L545,2060" stroke="#f8bfa4" stroke-width="3.6" opacity="0.84"/><path d="M523,360 L536,391" stroke="#c6dfee" stroke-width="6.2" opacity="0.70"/><path d="M520,356 L528,391" stroke="#e4eef5" stroke-width="3.7" opacity="0.67"/><path d="M505,385 L531,403" stroke="#f8bfa4" stroke-width="5.2" opacity="0.58"/><path d="M507,349 L536,380" stroke="#fddbc7" stroke-width="4.6" opacity="0.83"/><path d="M542,410 L517,428" stroke="#fddbc7" stroke-width="4.8" opacity="0.78"/><path d="M524,381 L503,414" stroke="#c6dfee" stroke-width="5.5" opacity="0.75"/><path d="M550,380 L511,400" stroke="#f8bfa4" stroke-width="4.2" opacity="0.44"/><path d="M528,398 L519,415" stroke="#e4eef5" stroke-width="5.4" opacity="0.78"/><path d="M517,409 L485,422" stroke="#d1e5f0" stroke-width="5.5" opacity="0.48"/><path d="M516,398 L502,436" stroke="#e4eef5" stroke-width="3.7" opacity="0.80"/><path d="M519,435 L508,440" stroke="#fddbc7" stroke-width="6.0" opacity="0.67"/><path d="M481,432 L473,447" stroke="#f8bfa4" stroke-width="5.3" opacity="0.52"/><path d="M481,411 L465,433" stroke="#f7f7f7" stroke-width="3.6" opacity="0.52"/><path d="M505,399 L494,436" stroke="#f8bfa4" stroke-width="2.7" opacity="0.61"/><path d="M479,444 L466,465" stroke="#f8bfa4" stroke-width="4.0" opacity="0.68"/><path d="M477,455 L464,469" stroke="#f7f7f7" stroke-width="3.2" opacity="0.41"/><path d="M476,471 L441,489" stroke="#e4eef5" stroke-width="4.0" opacity="0.60"/><path d="M484,442 L479,469" stroke="#c6dfee" stroke-width="6.1" opacity="0.60"/><path d="M459,466 L456,487" stroke="#f7f7f7" stroke-width="4.6" opacity="0.74"/><path d="M481,492 L448,515" stroke="#fddbc7" stroke-width="5.0" opacity="0.73"/><path d="M447,488 L431,514" stroke="#c6dfee" stroke-width="6.3" opacity="0.65"/><path d="M449,460 L429,494" stroke="#d1e5f0" stroke-width="3.8" opacity="0.47"/><path d="M467,504 L450,508" stroke="#e4eef5" stroke-width="4.6" opacity="0.40"/><path d="M451,492 L415,509" stroke="#fddbc7" stroke-width="4.2" opacity="0.36"/><path d="M463,504 L434,525" stroke="#f8bfa4" stroke-width="5.0" opacity="0.51"/><path d="M448,501 L435,516" stroke="#f7f7f7" stroke-width="4.4" opacity="0.36"/><path d="M442,501 L429,540" stroke="#d1e5f0" stroke-width="2.8" opacity="0.65"/><path d="M406,530 L393,548" stroke="#e4eef5" stroke-width="5.3" opacity="0.83"/><path d="M399,515 L385,548" stroke="#c6dfee" stroke-width="3.2" opacity="0.40"/><path d="M411,538 L386,567" stroke="#c6dfee" stroke-width="3.6" opacity="0.80"/><path d="M399,545 L390,556" stroke="#fddbc7" stroke-width="5.6" opacity="0.79"/><path d="M392,583 L371,594" stroke="#f7f7f7" stroke-width="5.5" opacity="0.57"/><path d="M385,558 L368,581" stroke="#fddbc7" stroke-width="5.0" opacity="0.63"/><path d="M398,575 L369,596" stroke="#fddbc7" stroke-width="4.2" opacity="0.36"/><path d="M368,552 L346,573" stroke="#f7f7f7" stroke-width="2.6" opacity="0.39"/><path d="M402,550 L367,569" stroke="#f7f7f7" stroke-width="5.9" opacity="0.81"/><path d="M350,557 L336,574" stroke="#d1e5f0" stroke-width="4.2" opacity="0.61"/><path d="M365,564 L349,578" stroke="#e4eef5" stroke-width="6.2" opacity="0.76"/><path d="M360,582 L345,588" stroke="#f8bfa4" stroke-width="4.3" opacity="0.71"/><path d="M346,619 L336,629" stroke="#e4eef5" stroke-width="3.9" opacity="0.61"/><path d="M334,594 L338,612" stroke="#e4eef5" stroke-width="5.9" opacity="0.73"/><path d="M346,579 L347,610" stroke="#f8bfa4" stroke-width="4.8" opacity="0.36"/><path d="M343,576 L345,617" stroke="#fddbc7" stroke-width="6.2" opacity="0.37"/><path d="M348,590 L325,617" stroke="#d1e5f0" stroke-width="4.8" opacity="0.48"/><path d="M330,658 L332,690" stroke="#f8bfa4" stroke-width="5.6" opacity="0.59"/><path d="M328,629 L302,660" stroke="#c6dfee" stroke-width="4.3" opacity="0.54"/><path d="M326,635 L319,675" stroke="#f8bfa4" stroke-width="5.6" opacity="0.72"/><path d="M340,617 L335,654" stroke="#fddbc7" stroke-width="5.3" opacity="0.64"/><path d="M332,630 L335,659" stroke="#fddbc7" stroke-width="2.6" opacity="0.78"/><path d="M327,662 L329,689" stroke="#e4eef5" stroke-width="3.1" opacity="0.74"/><path d="M405,381 L406,409" stroke="#fbe6da" stroke-width="6.1" opacity="0.68"/><path d="M385,371 L394,403" stroke="#f8bfa4" stroke-width="6.4" opacity="0.52"/><path d="M422,397 L422,418" stroke="#f4a582" stroke-width="4.7" opacity="0.47"/><path d="M412,367 L413,380" stroke="#fbe6da" stroke-width="6.3" opacity="0.63"/><path d="M389,375 L401,411" stroke="#fddbc7" stroke-width="3.2" opacity="0.45"/><path d="M396,355 L415,380" stroke="#fddbc7" stroke-width="5.7" opacity="0.49"/><path d="M416,412 L410,422" stroke="#f7f7f7" stroke-width="6.4" opacity="0.72"/><path d="M407,422 L393,445" stroke="#fddbc7" stroke-width="3.8" opacity="0.44"/><path d="M410,394 L415,437" stroke="#fbe6da" stroke-width="2.8" opacity="0.39"/><path d="M436,428 L426,454" stroke="#fbe6da" stroke-width="4.7" opacity="0.44"/><path d="M425,433 L424,453" stroke="#f8bfa4" stroke-width="6.5" opacity="0.62"/><path d="M401,441 L402,467" stroke="#f8bfa4" stroke-width="5.6" opacity="0.44"/><path d="M402,449 L397,482" stroke="#fbe6da" stroke-width="3.8" opacity="0.44"/><path d="M417,436 L424,469" stroke="#f8bfa4" stroke-width="4.7" opacity="0.37"/><path d="M397,477 L386,496" stroke="#fddbc7" stroke-width="5.9" opacity="0.58"/><path d="M417,468 L405,478" stroke="#f7f7f7" stroke-width="5.2" opacity="0.42"/><path d="M374,479 L367,494" stroke="#fbe6da" stroke-width="3.7" opacity="0.57"/><path d="M398,475 L394,490" stroke="#f7f7f7" stroke-width="2.6" opacity="0.36"/><path d="M385,485 L378,503" stroke="#f7f7f7" stroke-width="4.4" opacity="0.42"/><path d="M390,516 L382,531" stroke="#f4a582" stroke-width="6.1" opacity="0.79"/><path d="M398,496 L390,524" stroke="#f8bfa4" stroke-width="4.5" opacity="0.64"/><path d="M405,492 L407,514" stroke="#f8bfa4" stroke-width="6.4" opacity="0.65"/><path d="M379,553 L376,570" stroke="#fbe6da" stroke-width="4.5" opacity="0.67"/><path d="M366,543 L366,566" stroke="#f8bfa4" stroke-width="4.3" opacity="0.35"/><path d="M392,540 L375,566" stroke="#fbe6da" stroke-width="6.0" opacity="0.37"/><path d="M373,541 L357,579" stroke="#fddbc7" stroke-width="3.7" opacity="0.54"/><path d="M376,536 L343,566" stroke="#f4a582" stroke-width="4.9" opacity="0.75"/><path d="M324,681 L327,697" stroke="#d1e5f0" stroke-width="4.9" opacity="0.70"/><path d="M310,691 L307,723" stroke="#f7f7f7" stroke-width="4.7" opacity="0.72"/><path d="M314,682 L303,702" stroke="#f8bfa4" stroke-width="5.5" opacity="0.48"/><path d="M309,669 L314,706" stroke="#fddbc7" stroke-width="2.7" opacity="0.70"/><path d="M302,702 L290,740" stroke="#f7f7f7" stroke-width="5.7" opacity="0.47"/><path d="M307,721 L281,754" stroke="#c6dfee" stroke-width="3.0" opacity="0.52"/><path d="M299,721 L289,756" stroke="#e4eef5" stroke-width="4.3" opacity="0.55"/><path d="M299,723 L303,743" stroke="#f8bfa4" stroke-width="3.6" opacity="0.73"/><path d="M315,730 L296,760" stroke="#e4eef5" stroke-width="4.7" opacity="0.58"/><path d="M313,745 L298,767" stroke="#d1e5f0" stroke-width="2.8" opacity="0.65"/><path d="M300,745 L290,768" stroke="#c6dfee" stroke-width="2.7" opacity="0.37"/><path d="M301,735 L291,770" stroke="#fddbc7" stroke-width="3.9" opacity="0.76"/><path d="M578,1880 L582,1899" stroke="#f7f7f7" stroke-width="4.7" opacity="0.84"/><path d="M574,1899 L559,1925" stroke="#b5d7ea" stroke-width="3.6" opacity="0.41"/><path d="M595,1862 L568,1896" stroke="#b5d7ea" stroke-width="6.4" opacity="0.82"/><path d="M602,1804 L594,1813" stroke="#b5d7ea" stroke-width="6.2" opacity="0.44"/><path d="M625,1761 L612,1785" stroke="#f7f7f7" stroke-width="4.0" opacity="0.35"/><path d="M585,1767 L588,1778" stroke="#92c5de" stroke-width="6.0" opacity="0.47"/><path d="M576,1921 L580,1941" stroke="#b5d7ea" stroke-width="5.9" opacity="0.83"/><path d="M572,1912 L563,1937" stroke="#d1e5f0" stroke-width="5.0" opacity="0.53"/><path d="M602,1861 L595,1901" stroke="#6aa9d2" stroke-width="4.3" opacity="0.85"/><path d="M596,1835 L570,1868" stroke="#f7f7f7" stroke-width="4.1" opacity="0.44"/><path d="M597,1796 L601,1819" stroke="#f7f7f7" stroke-width="3.9" opacity="0.40"/><path d="M562,1815 L550,1844" stroke="#b5d7ea" stroke-width="5.1" opacity="0.73"/><path d="M598,1844 L596,1870" stroke="#f7f7f7" stroke-width="4.8" opacity="0.67"/><path d="M615,1769 L616,1810" stroke="#92c5de" stroke-width="3.8" opacity="0.83"/><path d="M642,1769 L617,1800" stroke="#92c5de" stroke-width="3.5" opacity="0.80"/><path d="M619,1777 L608,1796" stroke="#92c5de" stroke-width="3.3" opacity="0.57"/><path d="M587,1867 L583,1881" stroke="#d1e5f0" stroke-width="4.0" opacity="0.80"/><path d="M653,1826 L640,1860" stroke="#92c5de" stroke-width="4.6" opacity="0.71"/><path d="M574,1844 L572,1868" stroke="#92c5de" stroke-width="5.3" opacity="0.61"/><path d="M578,1922 L568,1948" stroke="#6aa9d2" stroke-width="4.0" opacity="0.73"/><path d="M592,1852 L587,1891" stroke="#6aa9d2" stroke-width="6.3" opacity="0.50"/><path d="M598,1751 L592,1779" stroke="#d1e5f0" stroke-width="3.1" opacity="0.64"/><path d="M616,1788 L607,1805" stroke="#f7f7f7" stroke-width="6.0" opacity="0.70"/><path d="M633,1796 L633,1832" stroke="#6aa9d2" stroke-width="3.1" opacity="0.53"/><path d="M635,1787 L619,1821" stroke="#d1e5f0" stroke-width="5.4" opacity="0.64"/><path d="M632,1792 L631,1808" stroke="#d1e5f0" stroke-width="5.5" opacity="0.52"/><path d="M549,2028 L528,2060" stroke="#6aa9d2" stroke-width="4.9" opacity="0.78"/><path d="M578,1949 L574,1961" stroke="#f7f7f7" stroke-width="5.0" opacity="0.42"/><path d="M568,1991 L557,2013" stroke="#92c5de" stroke-width="3.5" opacity="0.43"/><path d="M521,1941 L518,1955" stroke="#f7f7f7" stroke-width="3.6" opacity="0.77"/><path d="M588,1993 L570,2022" stroke="#b5d7ea" stroke-width="3.3" opacity="0.39"/><path d="M543,1977 L551,2010" stroke="#b5d7ea" stroke-width="3.8" opacity="0.51"/><path d="M504,2018 L506,2044" stroke="#d1e5f0" stroke-width="2.7" opacity="0.60"/><path d="M561,1939 L552,1953" stroke="#b5d7ea" stroke-width="3.4" opacity="0.40"/><path d="M613,1988 L601,2010" stroke="#f7f7f7" stroke-width="5.9" opacity="0.47"/><path d="M561,1989 L566,2009" stroke="#6aa9d2" stroke-width="3.6" opacity="0.79"/><path d="M596,2021 L591,2034" stroke="#d1e5f0" stroke-width="4.7" opacity="0.59"/><path d="M569,1979 L576,2021" stroke="#6aa9d2" stroke-width="2.6" opacity="0.37"/><path d="M548,1999 L536,2036" stroke="#6aa9d2" stroke-width="5.4" opacity="0.41"/><path d="M550,2016 L556,2045" stroke="#f7f7f7" stroke-width="3.5" opacity="0.54"/><path d="M527,2019 L533,2045" stroke="#b5d7ea" stroke-width="2.6" opacity="0.63"/><path d="M484,2151 L489,2167" stroke="#f7f7f7" stroke-width="3.6" opacity="0.51"/><path d="M531,2054 L531,2074" stroke="#92c5de" stroke-width="3.4" opacity="0.65"/><path d="M522,2137 L497,2170" stroke="#f7f7f7" stroke-width="5.2" opacity="0.77"/><path d="M585,2072 L573,2092" stroke="#f7f7f7" stroke-width="6.1" opacity="0.53"/><path d="M526,2127 L530,2155" stroke="#b5d7ea" stroke-width="5.8" opacity="0.57"/><path d="M514,2042 L523,2077" stroke="#d1e5f0" stroke-width="3.3" opacity="0.66"/><path d="M518,2147 L507,2170" stroke="#92c5de" stroke-width="6.1" opacity="0.68"/><path d="M528,2035 L522,2077" stroke="#6aa9d2" stroke-width="5.1" opacity="0.45"/><path d="M543,2091 L540,2111" stroke="#f7f7f7" stroke-width="4.2" opacity="0.56"/><path d="M518,2076 L499,2102" stroke="#f7f7f7" stroke-width="3.4" opacity="0.43"/><path d="M540,2154 L531,2167" stroke="#92c5de" stroke-width="5.4" opacity="0.44"/><path d="M575,2159 L569,2201" stroke="#b5d7ea" stroke-width="2.7" opacity="0.82"/><path d="M479,2107 L470,2145" stroke="#d1e5f0" stroke-width="5.5" opacity="0.83"/><path d="M546,2117 L540,2137" stroke="#6aa9d2" stroke-width="3.8" opacity="0.41"/><path d="M530,2093 L540,2127" stroke="#b5d7ea" stroke-width="5.0" opacity="0.83"/><path d="M531,2124 L539,2166" stroke="#f7f7f7" stroke-width="3.6" opacity="0.73"/><path d="M568,2075 L574,2113" stroke="#d1e5f0" stroke-width="5.4" opacity="0.75"/><path d="M572,2080 L569,2113" stroke="#b5d7ea" stroke-width="5.3" opacity="0.78"/><path d="M547,2180 L535,2210" stroke="#b5d7ea" stroke-width="6.3" opacity="0.54"/><path d="M525,2284 L505,2314" stroke="#b5d7ea" stroke-width="5.4" opacity="0.66"/><path d="M489,2225 L494,2252" stroke="#d1e5f0" stroke-width="6.0" opacity="0.38"/><path d="M548,2299 L558,2332" stroke="#f7f7f7" stroke-width="2.7" opacity="0.66"/><path d="M569,2174 L556,2212" stroke="#6aa9d2" stroke-width="6.4" opacity="0.67"/><path d="M519,2283 L517,2303" stroke="#d1e5f0" stroke-width="3.8" opacity="0.42"/><path d="M513,2271 L507,2309" stroke="#b5d7ea" stroke-width="3.4" opacity="0.38"/><path d="M504,2320 L509,2333" stroke="#92c5de" stroke-width="5.2" opacity="0.45"/><path d="M547,2178 L528,2209" stroke="#92c5de" stroke-width="5.0" opacity="0.85"/><path d="M533,2308 L535,2332" stroke="#f7f7f7" stroke-width="2.7" opacity="0.51"/><path d="M475,2202 L468,2218" stroke="#92c5de" stroke-width="3.9" opacity="0.83"/><path d="M516,2182 L512,2221" stroke="#d1e5f0" stroke-width="4.6" opacity="0.40"/><path d="M567,2221 L562,2236" stroke="#f7f7f7" stroke-width="5.7" opacity="0.73"/><path d="M492,2199 L480,2223" stroke="#6aa9d2" stroke-width="4.4" opacity="0.40"/><path d="M556,2208 L548,2221" stroke="#92c5de" stroke-width="3.1" opacity="0.51"/><path d="M514,2245 L516,2259" stroke="#d1e5f0" stroke-width="5.5" opacity="0.35"/><path d="M511,2182 L505,2221" stroke="#92c5de" stroke-width="4.6" opacity="0.47"/><path d="M542,2232 L548,2250" stroke="#b5d7ea" stroke-width="4.6" opacity="0.78"/><path d="M486,2250 L465,2287" stroke="#d1e5f0" stroke-width="5.5" opacity="0.63"/><path d="M539,2317 L542,2342" stroke="#6aa9d2" stroke-width="4.9" opacity="0.60"/><path d="M560,2224 L560,2255" stroke="#92c5de" stroke-width="3.3" opacity="0.48"/><path d="M529,2259 L513,2297" stroke="#b5d7ea" stroke-width="3.7" opacity="0.53"/><path d="M633,1299 L641,1326" stroke="#f4a582" stroke-width="4.5" opacity="0.50"/><path d="M632,1252 L627,1270" stroke="#e58368" stroke-width="4.0" opacity="0.82"/><path d="M624,1289 L625,1308" stroke="#fddbc7" stroke-width="4.8" opacity="0.71"/><path d="M622,1310 L631,1339" stroke="#f4a582" stroke-width="3.7" opacity="0.57"/><path d="M625,1242 L642,1275" stroke="#f4a582" stroke-width="5.3" opacity="0.48"/><path d="M626,1297 L631,1338" stroke="#f4a582" stroke-width="4.4" opacity="0.65"/><path d="M628,1311 L639,1328" stroke="#d6604d" stroke-width="6.3" opacity="0.82"/><path d="M621,1247 L613,1269" stroke="#f4a582" stroke-width="4.6" opacity="0.70"/><path d="M620,1273 L634,1293" stroke="#e58368" stroke-width="3.4" opacity="0.54"/><path d="M644,1293 L651,1325" stroke="#f4a582" stroke-width="5.4" opacity="0.64"/><path d="M629,1295 L627,1313" stroke="#fddbc7" stroke-width="5.4" opacity="0.77"/><path d="M620,1312 L612,1333" stroke="#e58368" stroke-width="6.1" opacity="0.64"/><path d="M622,1346 L618,1383" stroke="#f4a582" stroke-width="5.1" opacity="0.74"/><path d="M619,1373 L611,1403" stroke="#f4a582" stroke-width="3.4" opacity="0.44"/><path d="M623,1368 L613,1389" stroke="#e58368" stroke-width="5.4" opacity="0.65"/><path d="M612,1400 L610,1421" stroke="#e58368" stroke-width="4.4" opacity="0.45"/><path d="M624,1350 L626,1364" stroke="#fddbc7" stroke-width="3.5" opacity="0.37"/><path d="M634,1347 L624,1390" stroke="#e58368" stroke-width="3.5" opacity="0.74"/><path d="M643,1320 L634,1353" stroke="#f4a582" stroke-width="4.2" opacity="0.55"/><path d="M619,1373 L619,1388" stroke="#f4a582" stroke-width="3.8" opacity="0.80"/><path d="M643,1349 L640,1366" stroke="#f4a582" stroke-width="3.3" opacity="0.81"/><path d="M628,1327 L623,1346" stroke="#d6604d" stroke-width="4.2" opacity="0.67"/><path d="M623,1341 L632,1372" stroke="#d6604d" stroke-width="5.6" opacity="0.36"/><path d="M634,1373 L624,1405" stroke="#f4a582" stroke-width="2.9" opacity="0.62"/><path d="M608,1462 L605,1501" stroke="#e58368" stroke-width="4.0" opacity="0.41"/><path d="M621,1470 L619,1497" stroke="#d6604d" stroke-width="4.8" opacity="0.47"/><path d="M612,1416 L612,1443" stroke="#fddbc7" stroke-width="2.8" opacity="0.49"/><path d="M615,1431 L618,1464" stroke="#f4a582" stroke-width="5.3" opacity="0.40"/><path d="M608,1468 L599,1482" stroke="#e58368" stroke-width="5.5" opacity="0.84"/><path d="M615,1439 L617,1455" stroke="#fddbc7" stroke-width="4.4" opacity="0.40"/><path d="M617,1442 L613,1455" stroke="#d6604d" stroke-width="6.4" opacity="0.47"/><path d="M629,1439 L631,1468" stroke="#f4a582" stroke-width="4.9" opacity="0.65"/><path d="M614,1451 L626,1491" stroke="#fddbc7" stroke-width="5.7" opacity="0.64"/><path d="M610,1438 L594,1468" stroke="#fddbc7" stroke-width="5.2" opacity="0.36"/></g>
</g></g>
<path d="M890.3,253.0 L915.0,251.0 L913.5,264.1 L909.2,275.7 L891.7,274.2 L893.2,264.1Z" fill="#d96853"/>
<path d="M558.6,252.4 L545.5,272.8 L544.1,287.3 L554.2,304.7 L565.9,309.0 L576.0,293.1 L574.6,275.7 L563.0,255.4Z" fill="#fff"/>
<path d="M1241.2,1635.2 L1247.0,1629.4 L1254.2,1631.4 L1257.7,1639.5 L1254.2,1648.2 L1245.5,1651.1 L1243.2,1658.4 L1236.8,1665.6 L1232.5,1670.8 L1222.3,1675.8 L1215.9,1678.7 L1213.0,1674.3 L1218.0,1668.5 L1225.2,1662.7 L1229.6,1655.5 L1235.4,1648.2 L1238.3,1641.0Z" fill="#fff"/>
<path d="M493.1,2012.3 L507.6,2010.8 L513.4,2003.6 L522.1,2007.9 L533.7,2000.7 L532.3,2012.3 L525.6,2023.9 L526.4,2041.3 L517.7,2055.8 L510.5,2077.0 L491.6,2077.0 L490.8,2064.5 L489.6,2047.1 L493.7,2029.7Z" fill="#fff"/>
<g filter="url(#jag)"><path d="M174.1,278.6 L177.0,281.5 L194.4,293.1 L214.7,309.0 L227.8,317.7 L246.6,314.8 L264.1,307.6 L280.0,298.9 L293.1,290.2 L311.9,294.5 L330.8,298.9 L345.3,307.6 L359.8,319.2 L371.4,330.8 L380.1,342.4 L384.5,345.3 L381.6,325.0 L397.5,313.4 L409.2,301.8 L423.7,293.1 L425.1,272.8 L428.0,255.4 L449.8,240.8 L467.2,239.4 L473.0,233.6 L496.2,233.6 L513.6,224.9 L533.9,211.8 L548.4,200.2 L563.0,195.9 L574.6,206.0 L565.9,220.5 L551.3,223.4 L548.4,233.6 L554.2,242.3 L563.0,246.6 L577.5,239.4 L594.9,233.6 L606.5,229.2 L605.0,208.9 L610.8,203.1 L619.5,211.8 L621.0,224.9 L641.3,227.8 L658.7,233.6 L670.3,246.6 L677.0,255.4 L677.0,261.2 L694.4,259.7 L720.5,261.2 L746.6,264.1 L764.1,272.8 L778.6,275.7 L793.1,267.0 L804.7,261.2 L822.1,256.8 L839.5,253.9 L862.7,251.9 L883.0,253.0 L862.7,259.7 L851.1,264.1 L862.7,272.8 L868.5,281.5 L880.1,280.0 L894.6,281.5 L906.3,291.6 L917.9,298.9 L923.7,313.4 L926.6,322.1 L938.2,325.0 L952.7,332.3 L967.2,338.1 L981.7,346.8 L993.3,356.9 L999.1,365.6 L1016.5,383.0 L1033.9,400.4 L1042.6,410.6 L1063.0,413.5 L1083.3,416.4 L1094.9,412.1 L1121.0,415.0 L1147.1,419.3 L1164.5,423.7 L1177.0,426.6 L1177.0,428.0 L1203.1,444.0 L1229.2,464.3 L1246.6,481.7 L1249.5,510.7 L1258.3,539.7 L1267.0,538.3 L1275.7,551.3 L1285.8,557.2 L1284.4,580.4 L1280.0,600.7 L1280.1,597.3 L1294.6,601.7 L1303.3,613.3 L1320.8,620.5 L1335.3,620.5 L1333.8,629.2 L1352.7,632.1 L1373.0,633.6 L1396.2,642.3 L1416.5,649.5 L1433.9,655.4 L1451.3,656.8 L1460.1,669.9 L1483.3,684.4 L1506.5,693.1 L1506.1,690.1 L1527.9,698.8 L1554.0,706.0 L1574.3,710.4 L1597.5,706.0 L1617.9,707.5 L1632.4,717.6 L1646.9,724.9 L1673.0,743.7 L1696.2,764.1 L1710.7,774.2 L1731.0,780.0 L1754.2,781.5 L1768.8,790.2 L1780.4,813.4 L1789.1,839.5 L1792.0,865.6 L1789.1,891.7 L1780.4,912.1 L1763.0,932.4 L1745.5,952.7 L1725.2,973.0 L1707.8,996.2 L1693.3,1019.4 L1675.9,1042.6 L1655.6,1060.1 L1651.2,1083.3 L1649.8,1112.3 L1652.7,1141.3 L1649.8,1164.5 L1648.3,1177.0 L1647.0,1177.0 L1645.5,1203.1 L1633.9,1217.6 L1626.7,1235.0 L1628.1,1261.2 L1619.4,1287.3 L1599.1,1307.6 L1586.1,1325.0 L1584.6,1348.2 L1567.2,1359.8 L1555.6,1374.3 L1546.9,1383.0 L1520.8,1384.5 L1491.7,1383.0 L1474.3,1387.4 L1456.9,1394.6 L1442.4,1406.3 L1433.7,1415.0 L1413.4,1417.9 L1384.4,1432.4 L1367.0,1444.0 L1352.4,1452.7 L1340.8,1467.2 L1330.7,1481.7 L1330.7,1496.2 L1326.3,1510.7 L1329.2,1525.2 L1327.8,1554.2 L1320.5,1577.5 L1306.0,1589.1 L1294.9,1590.2 L1280.4,1607.6 L1265.9,1633.7 L1251.3,1654.0 L1233.9,1671.4 L1216.5,1683.0 L1204.9,1697.5 L1196.2,1717.9 L1181.7,1732.4 L1167.2,1744.0 L1158.5,1758.5 L1144.0,1770.1 L1129.5,1778.8 L1115.0,1783.2 L1106.3,1781.7 L1080.1,1778.8 L1051.1,1773.0 L1036.6,1767.2 L1033.7,1784.6 L1043.9,1799.1 L1035.2,1813.6 L1042.4,1825.2 L1056.9,1829.6 L1059.8,1845.5 L1051.1,1860.1 L1039.5,1874.6 L1027.9,1883.3 L1027.9,1892.0 L1013.4,1897.8 L993.1,1903.6 L964.1,1909.4 L954.2,1910.4 L925.2,1914.1 L896.2,1917.0 L884.6,1917.6 L875.9,1911.8 L867.2,1913.3 L868.6,1929.2 L875.9,1935.0 L868.6,1949.5 L864.3,1964.1 L870.1,1975.7 L855.6,1984.4 L838.2,1988.7 L817.9,1988.7 L800.4,1982.9 L785.9,1977.1 L775.8,1980.0 L774.3,1996.0 L778.7,2007.6 L777.2,2019.2 L785.9,2026.4 L806.3,2026.4 L817.9,2020.6 L825.1,2030.8 L823.7,2045.3 L809.2,2048.2 L797.5,2052.6 L783.0,2058.4 L771.4,2074.3 L770.0,2091.7 L770.0,2101.9 L758.4,2109.2 L759.8,2117.9 L739.5,2117.9 L716.3,2126.6 L701.8,2141.1 L693.1,2155.6 L697.4,2170.1 L710.5,2180.3 L727.9,2187.5 L745.3,2189.0 L754.6,2196.2 L751.1,2215.1 L739.5,2225.2 L722.1,2233.9 L704.7,2245.5 L691.6,2257.2 L688.7,2280.4 L669.9,2289.1 L652.4,2294.9 L642.3,2306.5 L639.4,2321.0 L646.6,2338.4 L655.4,2352.9 L665.7,2364.3 L659.9,2373.0 L670.1,2387.5 L661.4,2393.3 L675.9,2399.1 L690.4,2413.6 L710.7,2425.2 L731.0,2436.8 L754.2,2442.6 L774.6,2442.6 L770.2,2451.3 L742.6,2452.8 L725.2,2454.2 L696.2,2451.3 L667.2,2451.3 L678.8,2477.5 L667.2,2478.9 L638.2,2468.8 L609.2,2460.1 L580.1,2454.2 L562.7,2451.3 L542.4,2439.7 L522.1,2428.1 L498.9,2425.2 L487.3,2407.8 L469.9,2393.3 L453.9,2378.8 L446.6,2364.3 L439.4,2352.7 L432.1,2338.2 L437.9,2326.6 L429.2,2309.2 L430.7,2291.7 L423.4,2277.2 L424.9,2262.7 L422.0,2245.3 L424.9,2225.0 L435.0,2210.5 L455.4,2201.8 L467.0,2190.2 L461.2,2178.6 L443.7,2175.7 L423.4,2178.6 L420.5,2172.8 L435.0,2164.1 L449.5,2158.3 L443.7,2149.5 L455.4,2135.0 L461.2,2120.5 L452.4,2106.0 L464.1,2091.5 L472.8,2077.0 L465.5,2063.1 L471.3,2041.3 L472.8,2026.8 L477.1,2012.3 L488.7,2006.5 L482.9,1997.8 L480.0,1983.3 L484.4,1971.7 L490.2,1951.3 L498.9,1945.5 L504.7,1925.2 L494.5,1902.0 L496.0,1890.4 L490.2,1873.0 L491.6,1858.5 L504.7,1855.6 L507.6,1844.0 L516.3,1829.5 L525.0,1806.3 L536.6,1788.8 L543.9,1762.7 L554.0,1739.5 L555.5,1719.2 L561.3,1693.1 L558.4,1664.1 L555.5,1629.2 L562.7,1620.5 L567.1,1594.4 L562.7,1577.0 L568.4,1576.8 L572.8,1556.5 L578.6,1536.2 L580.0,1518.8 L588.7,1498.4 L588.7,1475.2 L596.0,1460.7 L594.5,1431.7 L597.4,1402.7 L591.6,1399.8 L591.6,1388.2 L597.4,1385.3 L601.8,1359.2 L609.0,1330.1 L606.1,1301.1 L601.8,1257.6 L598.9,1224.2 L581.5,1214.1 L564.1,1199.5 L543.7,1185.0 L523.4,1170.5 L500.2,1158.9 L477.0,1147.3 L458.5,1138.4 L438.2,1125.3 L420.8,1106.5 L406.3,1092.0 L397.5,1076.0 L404.8,1065.9 L394.6,1051.3 L383.0,1029.6 L365.6,993.3 L354.0,984.6 L345.3,961.4 L335.2,938.2 L325.0,917.9 L313.4,894.6 L298.9,871.4 L287.3,851.1 L272.8,836.6 L252.4,822.1 L239.4,810.5 L246.6,796.0 L239.4,784.4 L232.1,769.9 L235.0,755.4 L249.5,737.9 L267.0,726.3 L269.9,711.8 L278.6,708.9 L285.8,697.3 L278.6,688.6 L272.8,703.1 L261.2,697.3 L243.7,687.2 L248.1,677.0 L248.1,677.0 L248.1,647.1 L261.2,641.3 L264.1,623.9 L277.1,606.5 L274.2,586.2 L288.7,580.4 L304.7,574.6 L316.3,565.9 L310.5,558.6 L320.6,551.3 L325.0,531.0 L348.2,525.2 L354.0,513.6 L365.6,496.2 L374.3,481.7 L365.6,470.1 L368.5,455.6 L365.6,438.2 L368.5,423.7 L362.7,409.2 L365.6,394.6 L354.0,380.1 L348.2,365.6 L339.5,351.1 L330.8,339.5 L319.2,322.1 L306.1,313.4 L293.1,311.9 L278.6,322.1 L264.1,333.7 L264.1,345.3 L275.7,361.3 L261.2,368.5 L248.1,370.0 L243.7,358.4 L224.9,354.0 L214.7,342.4 L194.4,335.2 L177.0,339.5 L174.1,339.5Z" fill="none" stroke="#000" stroke-width="2.7" stroke-linejoin="round"/></g>
<path d="M558.6,252.4 L545.5,272.8 L544.1,287.3 L554.2,304.7 L565.9,309.0 L576.0,293.1 L574.6,275.7 L563.0,255.4Z" fill="none" stroke="#000" stroke-width="2.2" stroke-linejoin="round"/>
<path d="M1241.2,1635.2 L1247.0,1629.4 L1254.2,1631.4 L1257.7,1639.5 L1254.2,1648.2 L1245.5,1651.1 L1243.2,1658.4 L1236.8,1665.6 L1232.5,1670.8 L1222.3,1675.8 L1215.9,1678.7 L1213.0,1674.3 L1218.0,1668.5 L1225.2,1662.7 L1229.6,1655.5 L1235.4,1648.2 L1238.3,1641.0Z" fill="none" stroke="#000" stroke-width="2.2" stroke-linejoin="round"/>
<path d="M781.6,2043.0 L791.7,2037.2 L803.9,2040.1 L801.0,2050.0 L790.3,2048.2Z" fill="#fff" stroke="#000" stroke-width="2"/>
<path d="M1352.9,629.1 L1355.8,635.9 L1359.7,629.6 L1362.6,636.4 L1366.4,630.1 L1369.4,636.8 L1374.0,630.8 L1375.1,638.1 L1380.7,633.3 L1381.7,640.6 L1387.3,635.8 L1388.3,643.1 L1393.9,638.2 L1397.2,639.5 L1398.4,646.8 L1404.0,641.9 L1405.2,649.2 L1410.8,644.3 L1412.0,651.6 L1417.5,646.7 L1418.9,654.0 L1424.4,649.0 L1425.9,656.4 L1431.4,651.3 L1434.2,652.4 L1437.1,659.1 L1441.1,652.9 L1444.1,659.7 L1448.1,653.5 L1453.8,655.1 L1450.6,662.0 L1458.2,661.7 L1455.0,668.5" fill="none" stroke="#000" stroke-width="2.2" stroke-linejoin="round"/>
<ellipse cx="809.0" cy="244.3" rx="9.3" ry="4.1" fill="#c6403e" stroke="#000" stroke-width="1.5"/>
<ellipse cx="768.4" cy="246.1" rx="2.9" ry="1.7" fill="#c6403e" stroke="#000" stroke-width="1.5"/>
<ellipse cx="719.1" cy="214.7" rx="4.1" ry="2.3" fill="#c6403e" stroke="#000" stroke-width="1.5"/>
<ellipse cx="793.1" cy="214.7" rx="1.7" ry="1.7" fill="#c6403e" stroke="#000" stroke-width="1.5"/>
<ellipse cx="612.3" cy="211.8" rx="4.1" ry="6.4" fill="#c6403e" stroke="#000" stroke-width="1.5"/>
<path d="M975.7,2328.9 Q976.7,2332.1 975.1,2335.6 Q973.6,2339.0 972.3,2342.1 Q971.1,2345.3 970.7,2350.2 Q970.3,2355.1 962.4,2353.3 Q954.5,2351.6 949.8,2357.3 Q945.0,2362.9 943.3,2357.9 Q941.5,2352.8 934.5,2355.0 Q927.5,2357.1 928.8,2353.1 Q930.1,2349.1 924.1,2347.1 Q918.0,2345.2 928.2,2342.2 Q938.4,2339.3 935.6,2334.2 Q932.9,2329.1 938.3,2325.7 Q943.8,2322.3 949.3,2324.8 Q954.7,2327.2 962.7,2322.3 Q970.6,2317.5 972.6,2321.6 Q974.7,2325.6 975.7,2328.9Z M1009.8,2334.0 Q1008.9,2336.5 1007.6,2338.3 Q1006.2,2340.0 1006.4,2342.6 Q1006.6,2345.1 1003.6,2347.1 Q1000.6,2349.0 995.7,2352.0 Q990.8,2355.0 989.3,2350.0 Q987.8,2345.0 982.9,2345.0 Q978.0,2345.0 978.3,2342.3 Q978.6,2339.6 978.4,2337.1 Q978.2,2334.6 982.2,2333.4 Q986.2,2332.2 987.4,2328.2 Q988.6,2324.2 993.1,2326.3 Q997.7,2328.4 1000.1,2329.6 Q1002.6,2330.8 1006.6,2331.1 Q1010.7,2331.5 1009.8,2334.0Z M942.9,2347.0 Q943.8,2347.2 943.8,2347.6 Q943.7,2347.9 943.2,2348.2 Q942.6,2348.5 941.7,2348.5 Q940.8,2348.5 940.2,2348.2 Q939.5,2348.0 938.7,2348.0 Q937.8,2347.9 937.8,2347.6 Q937.8,2347.3 938.2,2347.1 Q938.5,2346.9 938.8,2346.7 Q939.0,2346.6 939.2,2346.3 Q939.4,2346.0 940.1,2345.9 Q940.9,2345.8 941.5,2346.0 Q942.2,2346.2 942.1,2346.5 Q942.0,2346.8 942.9,2347.0Z M973.6,2345.8 Q973.8,2346.2 974.1,2346.9 Q974.4,2347.5 972.9,2347.6 Q971.4,2347.6 970.4,2347.3 Q969.3,2346.9 969.0,2346.6 Q968.6,2346.3 968.4,2345.9 Q968.1,2345.5 968.5,2345.1 Q968.8,2344.6 970.2,2344.5 Q971.6,2344.4 972.6,2344.9 Q973.5,2345.3 973.6,2345.8Z M955.2,2351.6 Q955.9,2351.9 955.7,2352.3 Q955.4,2352.7 954.7,2353.0 Q954.0,2353.2 953.0,2353.4 Q951.9,2353.5 950.6,2353.4 Q949.4,2353.3 949.5,2352.7 Q949.6,2352.2 948.3,2351.9 Q947.1,2351.6 947.1,2351.0 Q947.1,2350.5 948.2,2350.2 Q949.3,2349.9 950.7,2350.3 Q952.0,2350.7 953.1,2350.6 Q954.2,2350.4 954.3,2350.9 Q954.4,2351.3 955.2,2351.6Z M969.5,2355.0 Q969.5,2355.6 969.7,2355.8 Q969.8,2356.1 969.8,2356.6 Q969.8,2357.1 969.3,2357.0 Q968.7,2357.0 968.4,2357.0 Q968.1,2357.0 967.8,2356.8 Q967.6,2356.7 967.3,2356.2 Q967.0,2355.8 967.7,2355.6 Q968.4,2355.5 968.9,2354.9 Q969.5,2354.3 969.5,2355.0Z M982.8,2331.9 Q983.6,2332.3 983.0,2332.5 Q982.4,2332.6 981.8,2332.7 Q981.1,2332.9 980.1,2332.7 Q979.1,2332.6 978.5,2332.2 Q977.9,2331.8 977.0,2331.4 Q976.2,2330.9 977.3,2330.8 Q978.4,2330.8 979.0,2330.7 Q979.6,2330.5 980.4,2330.8 Q981.1,2331.1 981.5,2331.3 Q981.9,2331.6 982.8,2331.9Z M1000.8,2330.9 Q1000.8,2331.4 1000.2,2331.6 Q999.6,2331.9 999.2,2332.1 Q998.7,2332.2 998.2,2332.0 Q997.7,2331.8 997.0,2331.6 Q996.3,2331.4 996.8,2331.1 Q997.3,2330.8 997.5,2330.5 Q997.8,2330.3 998.3,2330.2 Q998.9,2330.2 999.8,2330.2 Q1000.8,2330.3 1000.8,2330.9Z M953.2,2324.0 Q953.2,2324.2 953.5,2324.6 Q953.9,2324.9 953.1,2325.0 Q952.4,2325.2 951.9,2325.5 Q951.5,2325.8 950.7,2325.8 Q950.0,2325.7 949.4,2325.5 Q948.8,2325.3 948.7,2324.9 Q948.7,2324.5 948.7,2324.2 Q948.8,2323.8 949.4,2323.5 Q950.0,2323.3 950.6,2323.4 Q951.3,2323.4 952.1,2323.1 Q952.9,2322.8 953.0,2323.2 Q953.2,2323.7 953.2,2324.0Z M997.4,2334.9 Q997.0,2336.1 997.7,2336.4 Q998.4,2336.6 997.5,2337.2 Q996.5,2337.9 996.4,2338.8 Q996.3,2339.6 995.4,2339.7 Q994.5,2339.8 993.8,2339.8 Q993.1,2339.8 992.7,2339.5 Q992.4,2339.1 991.4,2338.8 Q990.4,2338.6 991.6,2337.8 Q992.9,2337.0 993.5,2336.7 Q994.2,2336.4 994.8,2335.7 Q995.3,2335.1 996.6,2334.3 Q997.9,2333.6 997.4,2334.9Z M951.9,2324.7 Q952.6,2325.2 952.6,2326.1 Q952.5,2326.9 951.1,2326.8 Q949.7,2326.7 948.9,2326.9 Q948.1,2327.2 947.1,2327.0 Q946.1,2326.8 946.1,2326.1 Q946.2,2325.4 946.5,2324.8 Q946.7,2324.3 947.5,2324.1 Q948.2,2324.0 948.9,2324.0 Q949.5,2324.0 950.4,2324.1 Q951.2,2324.1 951.9,2324.7Z M996.2,2328.3 Q996.3,2328.9 996.4,2329.6 Q996.5,2330.3 994.9,2330.4 Q993.2,2330.5 992.0,2330.3 Q990.8,2330.1 990.1,2329.8 Q989.4,2329.6 987.9,2329.6 Q986.4,2329.5 986.9,2329.0 Q987.4,2328.5 987.7,2328.2 Q988.0,2327.8 988.3,2327.4 Q988.7,2327.0 989.8,2326.6 Q991.0,2326.2 991.7,2326.9 Q992.4,2327.7 994.3,2327.7 Q996.1,2327.7 996.2,2328.3Z M1018.1,2351.6 Q1018.7,2351.9 1018.3,2352.3 Q1017.9,2352.7 1017.2,2353.0 Q1016.4,2353.3 1015.6,2353.1 Q1014.7,2353.0 1013.4,2353.0 Q1012.0,2352.9 1012.5,2352.3 Q1013.0,2351.8 1013.5,2351.3 Q1014.0,2350.8 1015.3,2350.5 Q1016.5,2350.3 1017.0,2350.8 Q1017.6,2351.3 1018.1,2351.6Z M980.8,2324.5 Q980.0,2324.8 980.7,2325.2 Q981.5,2325.7 981.0,2326.0 Q980.4,2326.4 979.2,2325.9 Q978.0,2325.5 977.5,2325.3 Q977.0,2325.2 975.7,2325.2 Q974.5,2325.2 974.3,2324.8 Q974.2,2324.4 974.3,2324.1 Q974.4,2323.8 974.4,2323.3 Q974.4,2322.9 975.3,2322.7 Q976.3,2322.5 977.3,2322.9 Q978.4,2323.3 979.2,2323.5 Q980.0,2323.6 980.8,2323.9 Q981.7,2324.2 980.8,2324.5Z M966.1,2342.2 Q964.0,2343.3 964.2,2343.7 Q964.3,2344.2 964.2,2345.1 Q964.0,2346.1 961.9,2345.5 Q959.8,2344.9 958.1,2345.1 Q956.4,2345.4 955.1,2345.0 Q953.9,2344.6 954.3,2343.9 Q954.8,2343.3 954.4,2342.3 Q954.0,2341.4 956.5,2341.1 Q959.1,2340.9 961.5,2340.6 Q963.9,2340.4 966.0,2340.8 Q968.1,2341.2 966.1,2342.2Z M1014.2,2349.2 Q1014.6,2349.3 1014.2,2349.9 Q1013.7,2350.5 1013.7,2350.8 Q1013.7,2351.0 1013.3,2351.3 Q1013.0,2351.5 1012.7,2351.8 Q1012.4,2352.2 1012.2,2352.0 Q1011.9,2351.9 1011.5,2352.1 Q1011.0,2352.3 1011.2,2351.9 Q1011.4,2351.5 1011.0,2351.3 Q1010.7,2351.0 1011.3,2350.7 Q1012.0,2350.4 1012.4,2349.9 Q1012.8,2349.5 1013.3,2349.3 Q1013.9,2349.1 1014.2,2349.2Z M1003.7,2357.3 Q1004.8,2356.9 1004.5,2357.7 Q1004.3,2358.4 1003.4,2359.0 Q1002.5,2359.6 1001.8,2359.9 Q1001.0,2360.3 999.9,2360.6 Q998.7,2360.9 999.1,2360.0 Q999.5,2359.1 1000.3,2358.2 Q1001.0,2357.3 1001.8,2357.5 Q1002.6,2357.6 1003.7,2357.3Z M961.2,2347.0 Q960.9,2347.7 960.5,2348.1 Q960.1,2348.4 959.8,2348.9 Q959.4,2349.3 958.5,2349.7 Q957.6,2350.1 957.0,2349.7 Q956.4,2349.3 956.6,2348.8 Q956.8,2348.3 956.4,2348.0 Q956.0,2347.6 956.8,2347.3 Q957.6,2347.1 958.3,2346.7 Q959.1,2346.4 960.3,2346.3 Q961.5,2346.3 961.2,2347.0Z M954.1,2359.8 Q954.4,2359.9 954.3,2360.3 Q954.2,2360.6 954.0,2360.9 Q953.8,2361.3 953.3,2361.6 Q952.7,2361.9 952.0,2362.5 Q951.4,2363.1 951.4,2362.7 Q951.4,2362.2 951.0,2362.2 Q950.6,2362.2 950.4,2361.9 Q950.3,2361.6 951.1,2361.2 Q952.0,2360.8 952.4,2360.4 Q952.9,2360.1 953.4,2359.9 Q953.9,2359.7 954.1,2359.8Z M947.7,2357.7 Q947.9,2358.0 948.0,2358.3 Q948.1,2358.7 947.8,2359.0 Q947.6,2359.4 947.6,2359.9 Q947.6,2360.4 947.1,2360.9 Q946.6,2361.4 946.0,2361.5 Q945.5,2361.5 945.1,2361.2 Q944.7,2360.9 945.2,2360.2 Q945.8,2359.5 945.7,2359.1 Q945.7,2358.7 946.1,2358.3 Q946.4,2358.0 946.9,2357.7 Q947.4,2357.4 947.7,2357.7Z M925.4,2353.3 Q925.8,2353.8 924.9,2354.3 Q923.9,2354.8 923.1,2354.9 Q922.2,2355.1 921.7,2355.2 Q921.1,2355.3 920.5,2355.2 Q920.0,2355.1 919.4,2355.1 Q918.7,2355.0 917.8,2354.8 Q916.9,2354.6 916.5,2354.1 Q916.0,2353.5 917.2,2353.3 Q918.5,2353.0 918.8,2352.4 Q919.1,2351.8 920.1,2352.0 Q921.1,2352.2 922.5,2351.9 Q923.8,2351.5 924.4,2352.1 Q924.9,2352.7 925.4,2353.3Z M958.3,2330.8 Q959.3,2330.7 958.4,2331.7 Q957.5,2332.8 957.0,2333.5 Q956.4,2334.2 955.5,2334.6 Q954.6,2335.0 953.7,2335.3 Q952.9,2335.6 952.0,2335.6 Q951.0,2335.6 951.7,2334.6 Q952.3,2333.5 953.6,2332.7 Q954.9,2331.9 956.1,2331.4 Q957.2,2330.9 958.3,2330.8Z M997.6,2322.0 Q998.3,2322.1 997.6,2323.1 Q996.9,2324.1 996.5,2324.6 Q996.2,2325.2 995.8,2325.9 Q995.4,2326.6 994.6,2327.0 Q993.8,2327.4 993.2,2327.5 Q992.5,2327.6 992.2,2327.4 Q991.9,2327.2 992.1,2326.7 Q992.2,2326.2 992.2,2325.7 Q992.2,2325.3 992.5,2324.2 Q992.7,2323.2 993.8,2323.0 Q995.0,2322.8 995.9,2322.4 Q996.8,2321.9 997.6,2322.0Z M986.5,2361.9 Q986.9,2362.1 986.8,2362.7 Q986.6,2363.3 986.5,2363.7 Q986.3,2364.2 985.9,2364.6 Q985.6,2365.0 985.2,2365.4 Q984.7,2365.8 984.3,2365.9 Q983.8,2366.0 983.7,2365.7 Q983.5,2365.4 983.7,2365.0 Q984.0,2364.5 984.2,2364.2 Q984.4,2363.8 984.7,2363.5 Q985.0,2363.2 985.6,2362.5 Q986.2,2361.8 986.5,2361.9Z M809.5,2445.7 Q811.3,2445.9 811.7,2446.7 Q812.1,2447.5 809.9,2448.8 Q807.7,2450.0 803.7,2449.6 Q799.7,2449.1 797.2,2449.1 Q794.8,2449.1 789.5,2449.2 Q784.3,2449.2 788.6,2447.9 Q792.8,2446.7 795.6,2446.0 Q798.5,2445.2 801.4,2445.1 Q804.2,2445.0 805.9,2445.2 Q807.6,2445.4 809.5,2445.7Z" fill="#cae1ee" stroke="#000" stroke-width="1.4" stroke-linejoin="round"/><path d="M505.9,2086.2 L501.7,2094.5 M496.3,2090.1 L497.0,2101.7 M498.2,2082.3 L493.1,2095.6 M470.1,2093.4 L470.5,2101.7 M479.9,2089.4 L473.2,2094.2 M492.0,2099.6 L493.0,2112.9 M511.8,2104.1 L501.1,2112.3 M466.5,2084.2 L462.4,2097.2 M472.2,2100.6 L465.7,2110.1 M475.8,2114.2 L474.6,2121.1 M505.8,2115.7 L496.0,2120.1 M467.1,2114.7 L469.2,2122.2 M487.3,2111.3 L480.3,2113.4 M471.6,2105.3 L474.2,2117.0 M477.9,2113.5 L483.0,2125.6 M464.5,2113.4 L453.3,2120.8 M496.1,2126.9 L485.2,2131.4 M464.1,2118.4 L456.2,2125.4 M457.5,2121.4 L450.6,2123.1 M497.8,2137.4 L484.5,2143.1 M470.8,2132.3 L460.3,2135.9 M470.9,2149.6 L471.3,2163.1 M495.5,2167.0 L482.8,2167.8 M461.4,2151.9 L453.0,2161.4 M449.8,2152.5 L451.5,2160.0 M474.4,2159.6 L469.0,2165.4 M463.1,2160.3 L451.8,2160.6 M445.0,2150.8 L445.5,2161.5 M448.3,2153.6 L444.8,2161.8 M449.2,2153.0 L445.4,2164.2 M473.2,2191.1 L474.5,2199.8 M456.3,2190.7 L461.7,2197.8 M454.9,2195.9 L445.4,2206.6 M443.5,2199.7 L443.3,2206.5 M476.6,2205.6 L464.3,2211.1 M456.7,2201.7 L458.0,2214.2 M458.4,2212.6 L459.3,2223.0 M446.8,2217.3 L439.6,2224.6 M471.9,2225.6 L469.1,2232.7 M472.6,2221.8 L460.9,2228.5 M478.5,2229.5 L481.0,2236.8 M463.8,2235.4 L468.1,2242.7 M435.3,2227.5 L436.0,2237.3 M452.2,2246.7 L446.1,2248.6 M440.2,2243.3 L432.6,2249.0 M434.4,2248.8 L439.6,2256.3 M458.5,2249.3 L451.5,2257.6 M467.4,2260.8 L468.5,2270.2 M432.6,2256.5 L427.0,2260.5 M431.0,2256.5 L435.9,2261.2 M431.3,2259.5 L424.7,2269.2 M447.6,2253.9 L453.3,2265.6 M460.8,2261.8 L452.2,2267.3 M455.9,2261.6 L451.9,2268.0 M467.1,2261.9 L469.7,2269.9 M457.9,2262.9 L461.8,2276.1 M457.9,2268.9 L455.9,2282.1 M434.4,2268.7 L437.8,2282.7 M425.1,2282.9 L429.5,2295.4 M453.5,2283.6 L457.0,2295.9 M458.9,2280.2 L463.6,2292.5 M426.1,2287.1 L429.7,2296.3 M454.6,2293.3 L447.1,2298.4 M432.3,2290.2 L436.7,2302.9 M455.3,2302.2 L454.4,2313.5 M469.0,2303.5 L463.2,2315.5 M450.8,2303.3 L454.3,2315.8 M465.8,2314.8 L461.5,2319.4 M473.4,2311.8 L478.3,2319.9 M463.4,2312.7 L460.2,2320.0 M454.3,2318.0 L446.7,2327.8 M459.5,2317.1 L466.2,2326.9 M467.1,2331.6 L472.1,2344.9 M453.6,2341.4 L459.6,2350.2 M445.5,2337.7 L449.8,2347.6 M443.6,2347.5 L448.8,2354.2 M472.3,2345.9 L479.1,2352.1 M488.3,2337.9 L484.4,2344.7 M445.4,2357.7 L454.7,2368.3 M487.0,2347.2 L495.2,2357.3 M451.9,2363.0 L454.0,2369.0 M472.1,2348.7 L478.6,2359.1 M471.4,2355.0 L475.9,2365.0 M454.6,2377.2 L464.8,2383.1 M491.2,2350.4 L489.7,2364.0 M483.7,2359.5 L489.6,2366.6 M469.4,2365.9 L468.4,2376.6 M461.9,2380.2 L469.1,2390.9 M470.4,2375.1 L477.1,2379.4 M471.9,2374.6 L479.0,2380.5 M478.3,2375.2 L485.8,2377.6 M499.9,2377.7 L498.5,2385.4 M480.7,2383.3 L491.0,2391.0 M499.8,2366.5 L509.3,2372.4 M496.4,2386.9 L502.4,2392.2 M497.2,2389.0 L506.8,2397.3 M507.4,2381.7 L511.8,2391.8 M492.0,2421.1 L502.1,2425.8 M518.7,2393.6 L530.0,2396.1 M510.2,2401.1 L515.9,2409.3 M507.2,2421.6 L512.6,2425.7 M512.7,2419.7 L511.1,2428.6 M519.5,2409.1 L527.5,2409.8 M504.9,2419.1 L516.5,2424.6 M521.6,2429.9 L533.0,2429.1 M507.2,2435.4 L520.9,2434.9 M520.8,2408.3 L525.3,2416.9 M535.2,2410.8 L542.6,2419.2 M537.2,2396.8 L546.0,2402.1 M528.4,2414.5 L536.3,2417.7 M521.5,2432.2 L533.8,2437.0 M530.6,2427.9 L543.8,2429.0 M528.9,2425.2 L534.1,2429.3 M554.1,2413.7 L559.6,2425.7 M554.7,2415.5 L564.8,2415.6 M549.5,2446.0 L558.4,2442.4 M550.3,2436.0 L562.9,2435.3 M556.4,2413.6 L567.5,2412.2 M558.7,2432.8 L572.5,2434.3 M569.1,2419.6 L569.2,2433.0 M556.7,2444.1 L565.9,2447.8 M562.1,2461.1 L576.5,2462.5 M567.8,2428.5 L574.5,2429.4 M567.3,2458.7 L581.7,2459.1 M582.5,2430.4 L589.8,2435.7 M590.6,2426.3 L602.0,2423.1 M579.4,2456.5 L588.8,2460.9 M585.0,2451.0 L597.1,2449.5 M598.5,2427.7 L602.2,2440.8 M595.6,2434.5 L601.8,2445.2 M601.9,2456.3 L607.2,2466.6 M600.1,2465.2 L609.2,2470.7 M599.6,2461.5 L608.5,2456.7 M611.9,2430.9 L616.2,2438.7 M626.3,2435.6 L634.3,2432.5 M622.9,2432.9 L629.8,2440.9 M618.9,2463.7 L632.0,2461.2 M613.0,2476.4 L624.1,2472.1 M630.2,2474.9 L638.4,2478.1 M626.2,2478.1 L638.2,2483.3 M625.5,2472.0 L632.1,2476.0 M635.7,2476.6 L645.1,2473.2 M641.8,2465.9 L655.0,2464.0 M636.2,2497.3 L644.6,2494.7 M648.3,2476.0 L653.1,2485.0 M657.4,2434.6 L664.2,2446.5 M660.1,2450.7 L670.3,2445.8 M665.7,2457.7 L672.9,2459.3 M658.9,2446.4 L667.4,2452.5 M655.6,2448.4 L669.3,2450.6 M657.4,2493.0 L667.6,2494.1 M664.7,2447.6 L676.6,2454.1 M680.1,2449.9 L682.5,2460.2 M687.1,2469.8 L689.5,2479.0 M675.2,2488.0 L685.7,2495.6 M690.5,2464.5 L702.2,2463.6" fill="none" stroke="#fff" stroke-width="3" stroke-linecap="round" opacity="0.85"/><path d="M477.5,2085.5 Q476.7,2083.9 476.4,2083.7 Q476.0,2083.6 475.6,2082.9 Q475.3,2082.3 474.8,2080.8 Q474.4,2079.4 474.6,2077.8 Q474.9,2076.1 475.3,2074.7 Q475.7,2073.3 476.4,2073.3 Q477.1,2073.4 477.5,2075.0 Q478.0,2076.5 478.2,2078.0 Q478.5,2079.4 478.4,2080.8 Q478.2,2082.3 478.2,2084.7 Q478.3,2087.1 477.5,2085.5Z M500.7,2089.3 Q499.7,2090.3 499.6,2089.3 Q499.4,2088.3 500.1,2086.5 Q500.8,2084.8 501.7,2083.8 Q502.6,2082.8 503.8,2081.5 Q504.9,2080.2 504.6,2081.8 Q504.4,2083.4 504.5,2085.1 Q504.7,2086.8 503.2,2087.6 Q501.7,2088.4 500.7,2089.3Z M500.1,2101.3 Q498.8,2100.0 497.8,2101.0 Q496.7,2102.0 496.2,2098.3 Q495.6,2094.6 495.3,2091.5 Q494.9,2088.4 495.4,2086.0 Q495.8,2083.7 496.3,2081.9 Q496.8,2080.1 497.6,2076.4 Q498.5,2072.7 499.6,2076.4 Q500.7,2080.1 501.3,2083.8 Q501.9,2087.5 501.3,2090.5 Q500.7,2093.4 501.0,2098.0 Q501.3,2102.6 500.1,2101.3Z M480.3,2090.3 Q479.4,2090.0 479.4,2089.1 Q479.4,2088.2 478.6,2086.9 Q477.7,2085.5 479.6,2083.9 Q481.6,2082.3 483.3,2082.5 Q484.9,2082.8 486.7,2082.1 Q488.5,2081.4 488.5,2082.7 Q488.6,2083.9 489.5,2085.0 Q490.5,2086.0 488.4,2087.5 Q486.4,2088.9 484.9,2089.5 Q483.4,2090.1 482.3,2090.4 Q481.1,2090.6 480.3,2090.3Z M499.0,2097.0 Q498.4,2098.3 497.0,2097.9 Q495.7,2097.6 495.4,2095.5 Q495.1,2093.3 495.1,2092.2 Q495.0,2091.0 495.2,2089.4 Q495.4,2087.8 496.6,2088.4 Q497.8,2089.0 498.4,2090.6 Q499.0,2092.2 499.3,2094.0 Q499.7,2095.7 499.0,2097.0Z M496.3,2097.7 Q495.6,2097.4 495.1,2096.8 Q494.7,2096.3 494.7,2095.4 Q494.7,2094.5 495.0,2093.7 Q495.4,2092.9 495.0,2091.3 Q494.5,2089.8 495.5,2088.9 Q496.4,2087.9 497.6,2087.0 Q498.8,2086.1 499.6,2086.9 Q500.4,2087.8 500.6,2089.1 Q500.7,2090.4 500.1,2091.6 Q499.5,2092.8 500.0,2094.0 Q500.4,2095.2 499.8,2096.7 Q499.2,2098.1 498.1,2098.1 Q497.0,2098.1 496.3,2097.7Z M462.3,2088.5 Q462.5,2087.5 462.6,2086.8 Q462.8,2086.1 463.2,2085.2 Q463.7,2084.3 464.9,2084.6 Q466.2,2084.9 467.8,2084.4 Q469.4,2083.9 470.3,2084.7 Q471.1,2085.5 471.1,2086.7 Q471.1,2087.9 469.4,2088.5 Q467.7,2089.1 466.4,2088.9 Q465.2,2088.7 463.7,2089.1 Q462.2,2089.5 462.3,2088.5Z M503.5,2108.7 Q503.9,2115.2 502.1,2112.0 Q500.3,2108.8 499.2,2104.9 Q498.1,2101.1 497.2,2097.3 Q496.3,2093.6 497.0,2091.4 Q497.7,2089.2 498.0,2087.1 Q498.3,2085.0 499.1,2084.2 Q499.9,2083.3 501.2,2084.0 Q502.5,2084.6 503.0,2088.8 Q503.6,2093.0 503.9,2096.0 Q504.2,2099.0 503.7,2100.5 Q503.2,2102.1 503.5,2108.7Z M499.9,2100.9 Q499.5,2101.8 498.8,2101.6 Q498.1,2101.5 497.8,2100.3 Q497.4,2099.1 497.6,2098.2 Q497.8,2097.3 497.9,2096.5 Q498.1,2095.6 498.6,2095.6 Q499.1,2095.6 499.4,2096.4 Q499.7,2097.2 500.3,2097.9 Q500.9,2098.6 500.5,2099.3 Q500.2,2100.1 499.9,2100.9Z M460.5,2092.2 Q460.0,2091.2 460.4,2090.3 Q460.7,2089.3 461.7,2088.3 Q462.6,2087.3 464.3,2087.4 Q465.9,2087.4 466.5,2088.3 Q467.1,2089.3 466.7,2090.3 Q466.4,2091.3 465.5,2092.9 Q464.7,2094.6 462.9,2093.9 Q461.1,2093.2 460.5,2092.2Z M485.5,2109.3 Q484.3,2109.7 483.5,2111.1 Q482.7,2112.5 480.1,2109.7 Q477.6,2106.9 476.4,2102.5 Q475.3,2098.1 474.9,2096.3 Q474.6,2094.5 473.3,2091.4 Q472.0,2088.3 471.7,2085.1 Q471.4,2081.8 473.9,2084.3 Q476.3,2086.8 478.3,2091.1 Q480.2,2095.3 482.5,2098.7 Q484.8,2102.0 485.7,2105.4 Q486.6,2108.9 485.5,2109.3Z M475.8,2094.9 Q475.1,2094.4 474.5,2094.8 Q473.9,2095.2 473.5,2094.4 Q473.2,2093.6 472.8,2092.6 Q472.5,2091.6 473.3,2091.3 Q474.1,2091.1 474.5,2089.8 Q474.9,2088.6 475.3,2089.9 Q475.7,2091.2 476.1,2091.6 Q476.4,2092.0 476.8,2092.7 Q477.2,2093.5 476.9,2094.4 Q476.5,2095.3 475.8,2094.9Z M473.5,2101.7 Q473.3,2101.0 473.4,2100.2 Q473.5,2099.5 474.3,2098.5 Q475.1,2097.6 475.3,2096.3 Q475.6,2095.0 477.3,2094.2 Q478.9,2093.4 481.1,2091.9 Q483.2,2090.3 484.7,2090.3 Q486.2,2090.3 484.1,2092.7 Q482.1,2095.1 483.5,2095.2 Q484.9,2095.3 483.7,2096.6 Q482.5,2098.0 480.8,2098.5 Q479.1,2099.1 477.7,2100.5 Q476.4,2101.9 475.1,2102.2 Q473.8,2102.4 473.5,2101.7Z M493.8,2108.4 Q493.2,2107.8 492.6,2108.6 Q492.0,2109.3 491.2,2108.2 Q490.4,2107.0 490.8,2104.2 Q491.1,2101.3 491.2,2100.0 Q491.2,2098.7 491.4,2097.7 Q491.6,2096.7 491.8,2094.8 Q492.0,2092.8 492.6,2094.2 Q493.1,2095.6 493.8,2096.1 Q494.5,2096.7 494.9,2098.8 Q495.4,2101.0 494.8,2102.5 Q494.3,2104.1 494.4,2106.5 Q494.5,2108.9 493.8,2108.4Z M498.8,2106.9 Q497.8,2107.3 498.0,2106.7 Q498.3,2106.1 499.2,2105.3 Q500.2,2104.6 500.7,2104.1 Q501.2,2103.6 502.4,2102.3 Q503.6,2101.1 504.6,2100.8 Q505.6,2100.6 505.4,2101.4 Q505.1,2102.2 505.2,2102.8 Q505.2,2103.4 504.1,2104.3 Q502.9,2105.3 501.9,2105.7 Q501.0,2106.0 500.4,2106.2 Q499.8,2106.4 498.8,2106.9Z M459.9,2100.3 Q459.7,2099.1 458.8,2100.3 Q457.9,2101.4 457.9,2100.1 Q457.9,2098.8 458.1,2097.3 Q458.3,2095.8 458.9,2094.2 Q459.6,2092.7 460.3,2091.4 Q461.0,2090.1 461.2,2091.4 Q461.5,2092.7 462.3,2091.3 Q463.1,2089.9 462.9,2091.3 Q462.7,2092.7 463.2,2093.3 Q463.7,2093.8 463.2,2095.4 Q462.6,2097.0 462.0,2098.5 Q461.4,2099.9 460.7,2100.8 Q460.0,2101.6 459.9,2100.3Z M464.3,2104.8 Q464.0,2105.2 463.5,2105.5 Q463.1,2105.8 462.2,2106.2 Q461.4,2106.6 460.3,2105.3 Q459.3,2104.1 459.5,2102.6 Q459.8,2101.1 459.1,2099.8 Q458.5,2098.4 459.1,2098.0 Q459.7,2097.6 459.8,2096.0 Q459.9,2094.5 461.0,2095.8 Q462.1,2097.0 463.2,2097.4 Q464.3,2097.7 464.2,2099.5 Q464.1,2101.3 465.6,2102.7 Q467.0,2104.2 465.8,2104.3 Q464.6,2104.3 464.3,2104.8Z M489.0,2112.1 Q487.7,2111.6 486.8,2110.5 Q485.9,2109.4 487.1,2107.1 Q488.4,2104.8 489.7,2102.2 Q491.1,2099.5 491.8,2101.1 Q492.6,2102.7 494.8,2102.2 Q497.0,2101.8 495.4,2104.8 Q493.9,2107.8 492.1,2110.3 Q490.4,2112.7 489.0,2112.1Z M466.2,2105.6 Q464.1,2105.2 465.7,2103.6 Q467.3,2102.0 469.0,2100.9 Q470.7,2099.8 472.9,2099.3 Q475.0,2098.9 476.2,2099.6 Q477.4,2100.2 476.7,2101.5 Q476.0,2102.8 474.2,2103.6 Q472.4,2104.4 470.3,2105.2 Q468.2,2106.0 466.2,2105.6Z M471.8,2110.2 Q471.1,2109.6 470.6,2108.9 Q470.2,2108.2 470.8,2106.4 Q471.4,2104.7 472.8,2103.2 Q474.2,2101.8 475.3,2101.1 Q476.4,2100.5 476.7,2101.3 Q476.9,2102.1 477.1,2103.0 Q477.3,2103.9 476.6,2106.0 Q475.9,2108.0 474.2,2109.4 Q472.5,2110.8 471.8,2110.2Z M493.4,2115.8 Q492.1,2116.3 490.9,2116.6 Q489.8,2116.9 487.9,2115.6 Q486.0,2114.3 486.7,2112.4 Q487.3,2110.6 487.3,2108.9 Q487.2,2107.3 488.6,2107.1 Q489.9,2106.8 491.0,2108.9 Q492.0,2111.1 493.3,2113.2 Q494.6,2115.3 493.4,2115.8Z M487.6,2115.8 Q487.5,2114.2 485.0,2114.2 Q482.4,2114.2 486.1,2111.0 Q489.8,2107.8 492.3,2106.8 Q494.8,2105.8 496.9,2104.7 Q499.0,2103.6 501.9,2102.8 Q504.8,2102.1 502.1,2105.2 Q499.4,2108.3 496.9,2111.3 Q494.4,2114.2 491.1,2115.8 Q487.7,2117.4 487.6,2115.8Z M476.6,2121.9 Q475.7,2121.4 475.4,2119.7 Q475.2,2118.0 473.9,2118.1 Q472.6,2118.1 473.5,2115.2 Q474.3,2112.2 474.6,2109.4 Q474.9,2106.6 476.0,2104.3 Q477.0,2102.1 477.8,2103.7 Q478.5,2105.4 479.7,2104.3 Q480.9,2103.2 480.8,2105.9 Q480.7,2108.7 480.1,2110.9 Q479.6,2113.1 479.3,2115.3 Q479.0,2117.5 478.2,2120.0 Q477.4,2122.5 476.6,2121.9Z M493.5,2115.3 Q493.5,2114.8 492.2,2114.7 Q490.9,2114.5 492.4,2113.7 Q493.8,2112.9 494.8,2112.0 Q495.7,2111.1 497.3,2110.6 Q498.9,2110.0 498.6,2111.2 Q498.2,2112.4 499.9,2112.2 Q501.7,2112.0 500.6,2112.9 Q499.6,2113.9 498.5,2114.5 Q497.4,2115.2 496.1,2116.2 Q494.7,2117.1 494.1,2116.5 Q493.6,2115.8 493.5,2115.3Z M471.4,2119.0 Q470.7,2119.8 469.6,2119.8 Q468.5,2119.7 467.5,2118.1 Q466.5,2116.6 465.8,2114.6 Q465.2,2112.7 465.2,2110.7 Q465.3,2108.7 466.2,2107.6 Q467.1,2106.4 468.3,2107.8 Q469.5,2109.1 470.7,2109.9 Q471.9,2110.7 472.1,2112.8 Q472.3,2114.8 472.2,2116.5 Q472.2,2118.2 471.4,2119.0Z M482.7,2119.8 Q484.0,2118.5 484.8,2117.8 Q485.6,2117.2 486.6,2116.6 Q487.7,2116.1 488.9,2115.1 Q490.2,2114.0 493.2,2113.0 Q496.1,2112.0 496.0,2113.1 Q495.9,2114.2 497.0,2114.5 Q498.2,2114.9 497.4,2115.9 Q496.6,2116.9 494.2,2117.9 Q491.8,2118.9 489.3,2119.6 Q486.8,2120.4 484.1,2120.8 Q481.5,2121.1 482.7,2119.8Z M474.0,2125.2 Q473.1,2125.7 472.0,2125.5 Q471.0,2125.2 470.2,2121.6 Q469.4,2118.1 468.7,2116.7 Q467.9,2115.2 467.1,2112.9 Q466.3,2110.5 465.7,2107.2 Q465.1,2103.8 466.2,2103.6 Q467.3,2103.3 467.9,2101.7 Q468.5,2100.0 469.7,2103.2 Q470.9,2106.5 472.3,2107.1 Q473.6,2107.7 473.3,2110.8 Q473.0,2114.0 473.9,2116.6 Q474.7,2119.2 474.9,2122.0 Q475.0,2124.8 474.0,2125.2Z M462.4,2116.8 Q462.5,2116.1 461.7,2116.1 Q461.0,2116.2 461.4,2115.4 Q461.8,2114.6 463.0,2114.0 Q464.1,2113.4 464.6,2112.3 Q465.1,2111.2 465.9,2111.1 Q466.7,2111.0 467.5,2110.7 Q468.3,2110.4 468.5,2110.9 Q468.6,2111.4 468.1,2112.1 Q467.7,2112.9 467.5,2113.5 Q467.4,2114.2 466.6,2115.1 Q465.9,2116.0 465.1,2115.9 Q464.3,2115.8 463.3,2116.7 Q462.3,2117.5 462.4,2116.8Z M475.2,2127.0 Q475.3,2125.5 474.7,2125.3 Q474.2,2125.1 474.4,2123.8 Q474.7,2122.4 475.9,2120.8 Q477.2,2119.1 478.1,2118.6 Q479.0,2118.2 480.8,2115.6 Q482.5,2113.1 481.9,2115.1 Q481.3,2117.1 481.3,2117.9 Q481.2,2118.7 481.2,2120.1 Q481.2,2121.4 479.8,2122.7 Q478.3,2124.0 476.7,2126.2 Q475.2,2128.4 475.2,2127.0Z M486.5,2129.2 Q485.9,2130.0 485.3,2129.3 Q484.8,2128.5 484.7,2126.8 Q484.6,2125.1 484.6,2123.1 Q484.6,2121.2 485.3,2121.3 Q486.0,2121.4 486.4,2121.1 Q486.8,2120.9 487.4,2121.2 Q488.0,2121.6 487.8,2123.3 Q487.5,2125.1 487.3,2126.7 Q487.1,2128.4 486.5,2129.2Z M471.3,2126.8 Q471.5,2125.5 471.5,2124.9 Q471.5,2124.2 472.7,2123.2 Q473.8,2122.2 475.5,2120.8 Q477.2,2119.4 479.3,2118.7 Q481.5,2118.0 480.5,2119.6 Q479.5,2121.1 478.9,2122.1 Q478.3,2123.0 476.9,2124.3 Q475.6,2125.7 473.3,2126.8 Q471.0,2128.0 471.3,2126.8Z M476.4,2122.4 Q476.3,2123.2 475.8,2122.8 Q475.2,2122.4 474.6,2122.9 Q473.9,2123.4 473.5,2122.2 Q473.2,2121.0 472.8,2120.1 Q472.3,2119.3 472.9,2118.9 Q473.4,2118.5 473.0,2117.2 Q472.5,2115.8 473.3,2116.1 Q474.0,2116.5 474.5,2116.2 Q475.1,2115.9 475.6,2116.8 Q476.2,2117.8 476.5,2118.6 Q476.8,2119.5 476.9,2120.2 Q477.0,2121.0 476.7,2121.3 Q476.4,2121.6 476.4,2122.4Z M478.5,2129.2 Q477.6,2129.8 477.8,2128.5 Q478.1,2127.2 477.8,2126.4 Q477.6,2125.6 478.4,2124.9 Q479.2,2124.2 480.0,2123.9 Q480.8,2123.7 480.7,2124.7 Q480.7,2125.7 480.7,2126.5 Q480.7,2127.3 480.1,2127.9 Q479.4,2128.6 478.5,2129.2Z M455.5,2125.0 Q453.7,2125.1 455.0,2123.2 Q456.4,2121.3 458.1,2120.0 Q459.7,2118.7 461.4,2117.5 Q463.2,2116.3 465.6,2115.3 Q468.0,2114.3 467.3,2115.8 Q466.6,2117.4 466.4,2118.6 Q466.2,2119.8 464.2,2121.8 Q462.1,2123.8 459.7,2124.4 Q457.4,2125.0 455.5,2125.0Z M498.7,2137.3 Q498.0,2137.7 497.2,2137.2 Q496.3,2136.7 495.4,2136.0 Q494.5,2135.2 493.9,2133.4 Q493.3,2131.6 493.1,2130.1 Q492.9,2128.6 491.5,2125.1 Q490.1,2121.5 491.2,2121.2 Q492.3,2120.9 493.4,2120.4 Q494.4,2119.8 496.0,2121.5 Q497.6,2123.1 498.3,2126.4 Q498.9,2129.7 499.5,2132.0 Q500.1,2134.3 499.7,2135.6 Q499.3,2136.9 498.7,2137.3Z M482.0,2132.7 Q481.3,2132.0 479.0,2131.3 Q476.7,2130.6 481.3,2128.2 Q485.9,2125.8 489.8,2125.1 Q493.8,2124.4 497.3,2124.2 Q500.9,2124.0 499.6,2126.2 Q498.4,2128.4 493.6,2130.6 Q488.8,2132.8 485.7,2133.1 Q482.7,2133.4 482.0,2132.7Z M450.3,2127.7 Q449.4,2127.5 448.4,2127.1 Q447.3,2126.7 448.0,2124.9 Q448.6,2123.1 450.9,2121.8 Q453.2,2120.5 455.0,2118.7 Q456.9,2117.0 457.6,2117.8 Q458.3,2118.5 460.6,2117.8 Q462.9,2117.1 462.1,2119.1 Q461.2,2121.1 459.3,2122.9 Q457.4,2124.8 455.6,2126.0 Q453.8,2127.3 452.5,2127.5 Q451.2,2127.8 450.3,2127.7Z M449.7,2123.1 Q448.6,2122.8 448.5,2121.9 Q448.5,2121.0 450.1,2120.7 Q451.7,2120.3 452.5,2119.6 Q453.4,2118.9 455.0,2118.5 Q456.7,2118.1 456.9,2119.0 Q457.2,2120.0 457.8,2120.6 Q458.5,2121.3 457.0,2121.8 Q455.6,2122.4 455.4,2123.7 Q455.1,2124.9 453.6,2124.8 Q452.0,2124.6 451.4,2124.0 Q450.8,2123.3 449.7,2123.1Z M451.9,2129.2 Q451.3,2128.7 451.4,2127.6 Q451.4,2126.6 451.1,2125.7 Q450.7,2124.8 451.6,2122.6 Q452.5,2120.4 453.4,2120.2 Q454.3,2120.1 455.2,2119.2 Q456.0,2118.2 456.0,2119.2 Q456.1,2120.2 456.4,2121.3 Q456.7,2122.3 455.5,2124.1 Q454.4,2125.9 453.4,2127.8 Q452.4,2129.7 451.9,2129.2Z M479.8,2146.1 Q477.9,2145.6 478.4,2143.2 Q478.9,2140.7 479.9,2138.2 Q481.0,2135.7 483.2,2132.6 Q485.5,2129.5 487.8,2129.1 Q490.0,2128.7 491.6,2128.6 Q493.1,2128.6 492.9,2130.4 Q492.7,2132.2 492.7,2134.2 Q492.7,2136.3 490.0,2138.3 Q487.3,2140.3 484.5,2143.4 Q481.6,2146.5 479.8,2146.1Z M441.6,2127.8 Q438.1,2127.8 440.4,2126.6 Q442.7,2125.4 442.4,2124.0 Q442.1,2122.5 444.9,2121.9 Q447.6,2121.3 450.0,2121.3 Q452.5,2121.3 453.1,2122.3 Q453.8,2123.4 457.5,2123.0 Q461.1,2122.6 458.2,2124.1 Q455.3,2125.5 457.3,2126.7 Q459.3,2127.9 456.0,2128.1 Q452.8,2128.4 451.1,2128.4 Q449.5,2128.4 446.8,2129.6 Q444.1,2130.9 444.6,2129.4 Q445.1,2127.8 441.6,2127.8Z M489.6,2148.8 Q489.5,2147.6 490.2,2146.6 Q491.0,2145.6 490.8,2144.8 Q490.7,2143.9 491.3,2142.6 Q491.9,2141.4 493.4,2141.1 Q495.0,2140.8 496.9,2140.1 Q498.9,2139.3 499.5,2140.5 Q500.2,2141.7 501.3,2142.6 Q502.4,2143.4 501.1,2144.8 Q499.8,2146.1 499.0,2147.1 Q498.2,2148.2 496.9,2149.0 Q495.6,2149.9 494.4,2149.4 Q493.1,2148.8 491.4,2149.4 Q489.7,2149.9 489.6,2148.8Z M460.6,2132.9 Q459.9,2133.2 459.6,2132.6 Q459.3,2132.0 459.9,2131.0 Q460.5,2130.0 461.2,2128.8 Q461.9,2127.7 462.8,2127.5 Q463.8,2127.4 464.3,2128.1 Q464.8,2128.8 463.7,2130.1 Q462.7,2131.4 462.0,2132.0 Q461.3,2132.5 460.6,2132.9Z M463.4,2138.6 Q463.5,2138.2 462.2,2138.1 Q460.8,2138.0 461.4,2137.3 Q462.0,2136.6 463.2,2136.1 Q464.5,2135.6 465.4,2135.8 Q466.4,2136.0 467.3,2135.6 Q468.2,2135.3 468.6,2135.6 Q469.0,2135.9 469.6,2136.1 Q470.1,2136.4 469.9,2136.9 Q469.6,2137.5 468.6,2138.0 Q467.6,2138.4 466.7,2138.7 Q465.8,2138.9 464.6,2139.6 Q463.4,2140.3 463.4,2139.6 Q463.3,2138.9 463.4,2138.6Z M460.3,2146.2 Q458.8,2145.8 458.0,2144.7 Q457.2,2143.6 458.9,2141.2 Q460.7,2138.8 463.6,2136.5 Q466.6,2134.3 469.5,2132.2 Q472.4,2130.2 475.5,2128.9 Q478.5,2127.6 480.2,2127.9 Q481.8,2128.3 480.1,2130.7 Q478.4,2133.1 480.2,2133.5 Q482.0,2134.0 478.6,2136.0 Q475.1,2138.1 473.4,2139.3 Q471.7,2140.5 469.9,2141.5 Q468.1,2142.6 464.9,2144.6 Q461.8,2146.7 460.3,2146.2Z M463.3,2139.5 Q462.1,2139.8 461.3,2138.4 Q460.5,2136.9 459.8,2136.4 Q459.1,2135.9 458.3,2134.6 Q457.6,2133.3 458.7,2132.7 Q459.8,2132.2 460.4,2131.9 Q461.1,2131.6 462.0,2131.1 Q462.9,2130.6 464.2,2131.4 Q465.4,2132.1 465.1,2133.8 Q464.7,2135.6 464.6,2137.3 Q464.5,2139.1 463.3,2139.5Z M473.6,2148.4 Q468.4,2148.5 473.0,2147.2 Q477.5,2145.9 477.2,2144.3 Q476.9,2142.6 481.2,2142.0 Q485.4,2141.4 488.8,2141.7 Q492.2,2142.0 495.6,2142.5 Q498.9,2143.0 499.0,2144.5 Q499.2,2146.0 496.4,2147.4 Q493.6,2148.8 489.7,2149.1 Q485.8,2149.5 482.3,2150.4 Q478.8,2151.4 478.8,2149.8 Q478.9,2148.3 473.6,2148.4Z M466.7,2149.7 Q465.8,2148.9 465.7,2147.7 Q465.7,2146.4 467.7,2144.0 Q469.7,2141.6 473.0,2140.8 Q476.3,2139.9 479.1,2138.8 Q481.9,2137.8 482.7,2138.7 Q483.4,2139.6 481.8,2141.6 Q480.1,2143.7 477.1,2145.5 Q474.0,2147.3 470.8,2148.9 Q467.6,2150.5 466.7,2149.7Z M486.6,2155.0 Q485.0,2155.0 483.9,2154.2 Q482.8,2153.3 481.2,2151.7 Q479.6,2150.1 480.7,2147.5 Q481.7,2144.8 483.2,2143.7 Q484.7,2142.5 486.2,2142.5 Q487.7,2142.5 489.0,2144.0 Q490.3,2145.5 490.7,2148.3 Q491.0,2151.1 489.6,2153.1 Q488.1,2155.1 486.6,2155.0Z M465.9,2145.9 Q465.2,2145.1 463.8,2145.4 Q462.4,2145.8 462.7,2143.9 Q463.0,2141.9 463.4,2139.6 Q463.8,2137.2 465.4,2137.1 Q467.0,2137.0 468.1,2136.8 Q469.1,2136.6 469.4,2137.7 Q469.6,2138.9 469.4,2140.1 Q469.3,2141.3 469.4,2143.4 Q469.6,2145.5 468.1,2146.1 Q466.6,2146.6 465.9,2145.9Z M463.4,2145.7 Q462.8,2146.4 461.3,2147.4 Q459.8,2148.5 460.0,2145.7 Q460.2,2143.0 460.4,2141.3 Q460.6,2139.6 461.1,2136.7 Q461.5,2133.7 462.8,2135.3 Q464.1,2136.9 464.6,2138.4 Q465.1,2140.0 466.4,2141.9 Q467.7,2143.9 465.9,2144.5 Q464.1,2145.1 463.4,2145.7Z M480.7,2157.5 Q479.8,2157.6 480.4,2155.9 Q481.1,2154.3 481.4,2153.3 Q481.7,2152.4 482.6,2151.4 Q483.5,2150.4 484.1,2150.0 Q484.8,2149.7 486.2,2148.3 Q487.7,2146.9 487.5,2148.1 Q487.4,2149.3 487.1,2150.6 Q486.8,2151.8 485.5,2153.2 Q484.2,2154.5 483.0,2155.9 Q481.7,2157.3 480.7,2157.5Z M485.5,2164.5 Q484.9,2165.4 485.2,2163.3 Q485.5,2161.3 485.1,2161.2 Q484.7,2161.1 484.8,2160.1 Q485.0,2159.0 485.2,2157.8 Q485.3,2156.6 485.8,2155.9 Q486.4,2155.2 486.9,2153.9 Q487.5,2152.6 487.4,2154.4 Q487.4,2156.1 487.5,2156.5 Q487.6,2156.9 488.0,2157.1 Q488.5,2157.4 487.9,2158.4 Q487.3,2159.4 487.1,2160.3 Q487.0,2161.2 486.6,2162.4 Q486.1,2163.6 485.5,2164.5Z M473.3,2157.1 Q470.7,2157.8 471.8,2155.9 Q472.8,2154.0 475.0,2152.0 Q477.2,2150.0 480.1,2148.9 Q483.0,2147.8 483.3,2149.0 Q483.6,2150.1 483.8,2151.0 Q484.1,2152.0 482.0,2153.3 Q480.0,2154.6 478.0,2155.6 Q476.0,2156.5 473.3,2157.1Z M469.7,2157.4 Q469.2,2157.6 468.1,2159.3 Q466.9,2161.0 467.1,2158.1 Q467.2,2155.2 467.0,2153.9 Q466.9,2152.6 466.4,2150.1 Q465.9,2147.7 466.7,2146.1 Q467.6,2144.5 468.7,2145.3 Q469.8,2146.0 470.7,2147.1 Q471.6,2148.1 472.0,2150.1 Q472.4,2152.0 472.0,2153.8 Q471.6,2155.6 471.0,2156.4 Q470.3,2157.1 469.7,2157.4Z M461.7,2153.5 Q460.9,2153.2 460.3,2152.8 Q459.6,2152.3 458.7,2152.6 Q457.7,2152.9 457.4,2150.8 Q457.0,2148.7 456.2,2146.7 Q455.4,2144.7 455.9,2143.8 Q456.4,2142.9 456.9,2142.1 Q457.4,2141.2 458.5,2142.0 Q459.6,2142.9 460.8,2144.6 Q462.0,2146.4 462.5,2148.7 Q463.0,2151.0 462.8,2152.4 Q462.6,2153.8 461.7,2153.5Z M488.4,2165.4 Q488.7,2164.8 487.7,2164.0 Q486.7,2163.2 488.0,2162.9 Q489.4,2162.5 490.6,2162.6 Q491.7,2162.7 492.2,2163.2 Q492.8,2163.6 493.8,2164.0 Q494.9,2164.4 493.7,2164.8 Q492.5,2165.3 492.4,2166.2 Q492.3,2167.1 491.1,2166.6 Q490.0,2166.2 489.0,2166.1 Q488.0,2166.0 488.4,2165.4Z M457.7,2155.6 Q457.8,2154.6 457.4,2154.3 Q457.0,2154.1 457.6,2153.1 Q458.1,2152.1 458.9,2151.3 Q459.6,2150.5 460.2,2149.5 Q460.8,2148.5 461.5,2148.2 Q462.3,2147.9 462.6,2148.2 Q462.8,2148.5 463.9,2147.8 Q465.1,2147.1 464.9,2148.0 Q464.6,2148.9 464.1,2149.9 Q463.5,2150.8 462.6,2151.6 Q461.7,2152.4 461.1,2152.9 Q460.4,2153.4 459.0,2155.0 Q457.6,2156.7 457.7,2155.6Z M453.8,2155.8 Q452.9,2155.2 452.3,2155.9 Q451.8,2156.6 451.0,2155.8 Q450.1,2155.1 449.9,2153.3 Q449.6,2151.6 449.3,2150.2 Q449.1,2148.9 448.7,2147.0 Q448.4,2145.1 449.2,2145.0 Q450.0,2144.8 450.6,2144.6 Q451.2,2144.4 451.8,2145.8 Q452.4,2147.2 453.0,2147.6 Q453.6,2148.1 454.1,2149.3 Q454.6,2150.6 454.6,2151.9 Q454.6,2153.2 454.6,2154.8 Q454.6,2156.4 453.8,2155.8Z M441.5,2154.0 Q440.8,2154.0 441.2,2153.0 Q441.6,2152.0 440.6,2151.6 Q439.6,2151.2 440.7,2149.7 Q441.9,2148.2 443.1,2147.9 Q444.3,2147.5 445.6,2146.0 Q446.9,2144.5 446.6,2146.0 Q446.4,2147.5 447.5,2147.2 Q448.7,2146.9 448.2,2148.1 Q447.6,2149.4 446.6,2150.3 Q445.5,2151.3 444.7,2152.9 Q443.9,2154.5 443.0,2154.3 Q442.2,2154.0 441.5,2154.0Z M456.1,2157.3 Q455.7,2157.1 455.0,2158.2 Q454.3,2159.3 454.0,2158.2 Q453.8,2157.1 453.7,2156.2 Q453.7,2155.2 453.7,2154.4 Q453.7,2153.5 454.0,2152.7 Q454.3,2151.9 454.8,2151.3 Q455.2,2150.8 455.9,2150.5 Q456.5,2150.2 457.0,2151.0 Q457.4,2151.8 458.0,2152.4 Q458.6,2153.1 458.1,2154.2 Q457.5,2155.2 457.9,2156.5 Q458.2,2157.8 457.4,2157.7 Q456.5,2157.6 456.1,2157.3Z M463.8,2166.1 Q464.0,2164.4 463.1,2164.3 Q462.2,2164.1 462.8,2162.9 Q463.4,2161.7 464.1,2160.1 Q464.8,2158.5 466.5,2156.7 Q468.2,2154.9 468.6,2156.6 Q468.9,2158.3 470.3,2157.8 Q471.8,2157.3 471.3,2158.7 Q470.7,2160.2 470.2,2161.6 Q469.6,2163.1 468.3,2165.1 Q466.9,2167.0 465.2,2167.4 Q463.6,2167.8 463.8,2166.1Z M451.7,2163.5 Q450.1,2162.7 452.2,2162.0 Q454.3,2161.2 456.4,2160.8 Q458.5,2160.4 461.4,2160.5 Q464.2,2160.6 465.4,2161.4 Q466.6,2162.3 465.7,2163.3 Q464.7,2164.3 461.7,2164.3 Q458.6,2164.4 456.0,2164.3 Q453.3,2164.3 451.7,2163.5Z M445.8,2157.5 Q444.6,2157.6 445.4,2156.7 Q446.2,2155.9 447.4,2155.2 Q448.6,2154.6 449.2,2154.2 Q449.9,2153.8 450.8,2153.0 Q451.6,2152.1 453.0,2151.6 Q454.4,2151.0 454.2,2151.8 Q454.0,2152.6 454.8,2152.6 Q455.7,2152.6 455.3,2153.3 Q454.9,2153.9 453.6,2154.5 Q452.2,2155.0 451.6,2155.8 Q451.0,2156.7 450.3,2156.4 Q449.5,2156.1 448.3,2156.7 Q447.1,2157.3 445.8,2157.5Z M468.2,2183.4 Q467.1,2182.1 466.4,2180.8 Q465.7,2179.6 465.3,2177.5 Q464.9,2175.4 465.3,2172.4 Q465.7,2169.4 466.0,2166.9 Q466.3,2164.3 466.5,2158.6 Q466.7,2152.8 468.0,2153.6 Q469.3,2154.4 470.0,2156.1 Q470.7,2157.9 471.0,2159.6 Q471.4,2161.3 471.4,2163.4 Q471.4,2165.5 472.6,2168.5 Q473.7,2171.4 472.0,2172.7 Q470.2,2174.1 469.7,2179.4 Q469.2,2184.8 468.2,2183.4Z M443.5,2162.5 Q442.5,2164.2 441.0,2163.3 Q439.6,2162.4 438.7,2160.3 Q437.7,2158.3 438.8,2156.6 Q439.9,2154.9 440.3,2153.3 Q440.8,2151.8 441.9,2151.8 Q443.0,2151.8 444.3,2152.6 Q445.6,2153.3 445.2,2155.4 Q444.9,2157.4 444.7,2159.1 Q444.5,2160.9 443.5,2162.5Z M468.1,2177.0 Q466.2,2178.0 465.6,2176.7 Q465.1,2175.3 466.3,2173.0 Q467.5,2170.7 468.8,2168.9 Q470.1,2167.1 471.5,2166.5 Q472.9,2165.9 474.0,2165.5 Q475.0,2165.1 476.7,2164.5 Q478.3,2164.0 478.9,2165.4 Q479.5,2166.7 477.0,2168.8 Q474.4,2170.9 473.7,2172.8 Q472.9,2174.7 471.5,2175.3 Q470.0,2175.9 468.1,2177.0Z M451.2,2163.9 Q450.4,2164.5 450.6,2163.3 Q450.7,2162.2 450.1,2161.5 Q449.5,2160.9 450.2,2159.9 Q450.8,2158.8 451.7,2158.3 Q452.5,2157.7 453.2,2157.9 Q453.9,2158.2 453.7,2159.4 Q453.5,2160.5 453.3,2161.3 Q453.0,2162.2 452.5,2162.7 Q452.0,2163.3 451.2,2163.9Z M480.6,2178.2 Q479.8,2178.5 479.5,2177.8 Q479.1,2177.0 478.9,2176.2 Q478.7,2175.4 478.9,2174.4 Q479.1,2173.3 479.9,2173.7 Q480.7,2174.1 481.2,2174.0 Q481.6,2173.9 481.8,2174.5 Q482.0,2175.0 482.4,2175.9 Q482.9,2176.8 482.1,2177.4 Q481.3,2177.9 480.6,2178.2Z M445.2,2167.2 Q444.0,2169.6 443.8,2167.7 Q443.7,2165.9 444.0,2163.8 Q444.4,2161.8 445.4,2159.7 Q446.3,2157.6 447.4,2157.2 Q448.4,2156.7 449.0,2157.6 Q449.7,2158.5 448.8,2160.7 Q448.0,2163.0 447.2,2164.0 Q446.4,2164.9 445.2,2167.2Z M457.1,2184.2 Q455.9,2186.0 456.1,2182.2 Q456.2,2178.4 455.6,2177.7 Q455.0,2177.0 455.3,2174.7 Q455.6,2172.4 456.0,2169.4 Q456.4,2166.3 457.5,2166.3 Q458.5,2166.3 458.9,2167.5 Q459.3,2168.7 459.8,2169.2 Q460.4,2169.7 460.9,2171.4 Q461.4,2173.1 460.3,2174.9 Q459.2,2176.7 458.7,2179.6 Q458.3,2182.4 457.1,2184.2Z M475.9,2183.5 Q474.7,2184.6 473.7,2184.2 Q472.7,2183.7 473.8,2179.6 Q474.9,2175.5 474.4,2173.1 Q473.8,2170.7 475.1,2168.6 Q476.4,2166.5 477.4,2165.9 Q478.3,2165.3 478.7,2166.5 Q479.1,2167.7 479.6,2168.3 Q480.1,2168.9 479.7,2170.9 Q479.3,2172.9 479.6,2176.5 Q479.9,2180.1 478.5,2181.2 Q477.1,2182.4 475.9,2183.5Z M454.0,2177.9 Q453.6,2177.6 452.7,2177.4 Q451.9,2177.1 452.9,2176.0 Q454.0,2174.9 454.9,2174.1 Q455.8,2173.4 456.8,2173.0 Q457.7,2172.5 459.1,2172.1 Q460.4,2171.6 459.6,2172.9 Q458.8,2174.3 458.2,2175.1 Q457.6,2175.8 457.0,2176.9 Q456.3,2178.0 455.4,2178.1 Q454.5,2178.1 454.0,2177.9Z M472.6,2183.0 Q470.9,2181.3 470.4,2181.7 Q469.8,2182.1 468.8,2180.3 Q467.8,2178.5 466.7,2176.1 Q465.7,2173.7 464.9,2170.7 Q464.1,2167.6 465.4,2168.4 Q466.7,2169.3 467.3,2168.8 Q467.9,2168.2 469.0,2170.2 Q470.2,2172.1 471.5,2175.0 Q472.9,2177.8 473.6,2181.2 Q474.3,2184.7 472.6,2183.0Z M464.2,2183.7 Q463.9,2184.1 463.4,2184.3 Q462.9,2184.6 462.7,2182.7 Q462.5,2180.8 462.0,2180.3 Q461.5,2179.8 461.2,2178.5 Q461.0,2177.3 461.6,2177.2 Q462.2,2177.1 462.3,2176.7 Q462.5,2176.4 462.6,2174.9 Q462.7,2173.5 463.2,2174.7 Q463.6,2175.9 463.9,2176.6 Q464.2,2177.4 464.5,2178.3 Q464.8,2179.3 464.9,2180.4 Q464.9,2181.5 464.8,2182.4 Q464.6,2183.4 464.2,2183.7Z M464.6,2181.1 Q464.0,2180.6 463.7,2179.9 Q463.4,2179.2 464.2,2177.6 Q465.0,2176.0 467.4,2174.0 Q469.9,2172.1 470.0,2173.8 Q470.1,2175.5 471.5,2176.1 Q472.9,2176.6 470.9,2178.8 Q469.0,2180.9 467.1,2181.2 Q465.2,2181.6 464.6,2181.1Z M452.7,2179.9 Q452.2,2180.5 451.5,2180.1 Q450.9,2179.7 450.3,2179.2 Q449.6,2178.6 449.4,2177.6 Q449.1,2176.6 449.5,2175.8 Q449.9,2175.0 450.4,2174.4 Q450.8,2173.9 451.3,2174.0 Q451.9,2174.1 452.3,2174.7 Q452.7,2175.2 452.9,2175.8 Q453.1,2176.3 453.1,2176.8 Q453.0,2177.4 453.1,2178.3 Q453.2,2179.2 452.7,2179.9Z M477.5,2189.8 Q476.5,2191.6 474.8,2191.1 Q473.0,2190.6 471.7,2185.9 Q470.3,2181.1 468.9,2174.6 Q467.6,2168.2 470.1,2170.0 Q472.6,2171.7 474.2,2169.6 Q475.8,2167.4 476.3,2173.6 Q476.8,2179.8 477.6,2184.0 Q478.5,2188.1 477.5,2189.8Z M455.0,2185.0 Q454.8,2183.9 454.7,2183.1 Q454.6,2182.2 455.8,2181.5 Q457.0,2180.8 457.6,2179.4 Q458.1,2178.0 459.5,2178.2 Q460.9,2178.3 462.0,2178.6 Q463.1,2178.9 463.9,2179.6 Q464.6,2180.3 463.1,2181.3 Q461.6,2182.4 461.3,2183.3 Q461.0,2184.3 459.6,2185.3 Q458.2,2186.3 456.7,2186.2 Q455.2,2186.1 455.0,2185.0Z M465.2,2190.2 Q464.4,2191.0 463.6,2190.7 Q462.9,2190.5 463.6,2187.7 Q464.4,2185.0 465.6,2183.7 Q466.7,2182.3 467.6,2181.3 Q468.5,2180.3 469.1,2180.9 Q469.7,2181.5 469.0,2184.0 Q468.3,2186.5 467.2,2188.0 Q466.1,2189.5 465.2,2190.2Z M477.5,2193.4 Q477.0,2194.6 475.7,2196.6 Q474.5,2198.6 473.4,2193.7 Q472.3,2188.8 472.9,2185.9 Q473.6,2182.9 474.3,2181.9 Q475.0,2180.9 476.2,2180.6 Q477.3,2180.4 478.4,2184.1 Q479.5,2187.8 478.7,2190.0 Q478.0,2192.2 477.5,2193.4Z M458.3,2189.1 Q458.0,2191.1 457.1,2189.0 Q456.2,2186.9 455.4,2185.4 Q454.6,2183.9 454.5,2181.6 Q454.3,2179.3 454.9,2178.6 Q455.5,2177.9 456.2,2179.0 Q457.0,2180.2 458.1,2181.6 Q459.3,2183.0 458.9,2185.1 Q458.5,2187.1 458.3,2189.1Z M467.7,2193.6 Q466.5,2193.7 465.6,2193.1 Q464.7,2192.5 464.2,2191.9 Q463.7,2191.2 462.2,2190.4 Q460.6,2189.5 460.8,2187.9 Q461.0,2186.3 462.2,2186.2 Q463.3,2186.0 464.3,2185.2 Q465.2,2184.3 466.4,2185.5 Q467.6,2186.7 468.2,2188.4 Q468.8,2190.1 468.8,2191.8 Q468.9,2193.5 467.7,2193.6Z M475.6,2200.7 Q474.5,2200.6 473.8,2201.8 Q473.1,2202.9 471.9,2199.2 Q470.6,2195.4 469.7,2193.6 Q468.8,2191.9 468.9,2190.5 Q469.0,2189.2 468.3,2186.7 Q467.7,2184.2 468.0,2182.5 Q468.3,2180.8 469.8,2182.9 Q471.2,2185.0 472.3,2187.5 Q473.4,2190.0 474.3,2192.4 Q475.1,2194.9 475.9,2197.8 Q476.6,2200.8 475.6,2200.7Z M439.4,2193.8 Q438.6,2194.5 438.4,2193.0 Q438.2,2191.4 437.6,2190.8 Q437.0,2190.2 437.0,2188.3 Q437.1,2186.4 438.1,2185.8 Q439.0,2185.2 439.9,2183.2 Q440.9,2181.2 441.5,2182.7 Q442.1,2184.2 441.7,2186.1 Q441.3,2188.1 441.8,2189.9 Q442.4,2191.8 441.3,2192.4 Q440.2,2193.0 439.4,2193.8Z M468.9,2195.9 Q468.1,2195.7 467.5,2195.6 Q466.9,2195.5 466.3,2194.1 Q465.8,2192.7 465.8,2191.1 Q465.9,2189.4 466.4,2188.3 Q466.9,2187.2 467.7,2188.0 Q468.6,2188.8 469.0,2190.5 Q469.3,2192.2 469.5,2194.1 Q469.7,2196.0 468.9,2195.9Z M465.2,2197.6 Q464.6,2197.7 463.6,2197.8 Q462.7,2197.9 463.0,2196.7 Q463.2,2195.4 462.8,2193.9 Q462.4,2192.5 463.7,2190.7 Q465.0,2189.0 466.3,2188.4 Q467.7,2187.8 468.8,2187.6 Q469.9,2187.4 470.0,2188.6 Q470.2,2189.8 471.1,2190.1 Q472.1,2190.4 472.3,2191.9 Q472.5,2193.4 471.0,2195.0 Q469.5,2196.6 468.3,2197.1 Q467.2,2197.5 466.5,2197.5 Q465.8,2197.5 465.2,2197.6Z M460.5,2197.8 Q460.1,2198.1 459.5,2197.8 Q458.9,2197.5 458.4,2197.8 Q457.9,2198.0 457.0,2196.7 Q456.0,2195.5 454.4,2194.2 Q452.8,2193.0 452.7,2191.7 Q452.5,2190.5 451.5,2188.6 Q450.6,2186.8 450.9,2185.9 Q451.3,2185.0 452.6,2185.7 Q454.0,2186.3 455.6,2187.9 Q457.2,2189.5 457.9,2191.5 Q458.5,2193.5 459.2,2194.5 Q459.9,2195.5 460.4,2196.6 Q460.8,2197.6 460.5,2197.8Z M468.3,2201.0 Q465.8,2201.4 468.1,2199.5 Q470.5,2197.6 471.9,2196.5 Q473.3,2195.4 475.8,2193.5 Q478.4,2191.7 480.9,2191.4 Q483.4,2191.1 483.3,2192.3 Q483.2,2193.6 481.7,2195.2 Q480.1,2196.8 477.6,2198.3 Q475.0,2199.8 472.9,2200.2 Q470.8,2200.6 468.3,2201.0Z M456.1,2201.6 Q455.5,2203.5 454.7,2203.1 Q453.9,2202.8 453.5,2200.9 Q453.2,2199.0 453.7,2197.1 Q454.2,2195.3 454.5,2194.1 Q454.8,2192.9 455.2,2191.1 Q455.6,2189.4 456.2,2190.3 Q456.8,2191.3 457.3,2191.9 Q457.8,2192.5 457.7,2194.0 Q457.7,2195.5 457.7,2197.0 Q457.8,2198.5 457.2,2199.1 Q456.6,2199.7 456.1,2201.6Z M441.4,2198.9 Q439.6,2198.2 438.9,2198.2 Q438.2,2198.3 437.1,2197.3 Q436.0,2196.3 434.9,2195.5 Q433.7,2194.7 432.5,2193.1 Q431.3,2191.4 430.3,2189.5 Q429.4,2187.5 430.9,2188.0 Q432.5,2188.6 432.0,2186.1 Q431.6,2183.6 433.5,2184.8 Q435.4,2186.0 436.5,2188.9 Q437.6,2191.8 439.4,2193.5 Q441.1,2195.1 442.2,2197.4 Q443.3,2199.7 441.4,2198.9Z M448.7,2199.0 Q448.0,2198.2 447.5,2197.5 Q447.0,2196.8 447.2,2195.6 Q447.4,2194.4 448.5,2193.4 Q449.7,2192.4 450.4,2193.1 Q451.2,2193.8 452.4,2193.6 Q453.6,2193.5 452.8,2194.7 Q452.0,2195.8 452.0,2197.1 Q451.9,2198.3 450.7,2199.1 Q449.4,2199.8 448.7,2199.0Z M433.4,2198.9 Q433.0,2198.1 432.8,2197.3 Q432.7,2196.6 432.2,2195.6 Q431.8,2194.7 432.8,2193.6 Q433.8,2192.5 435.1,2192.2 Q436.3,2192.0 437.1,2192.2 Q437.9,2192.4 438.3,2192.7 Q438.8,2192.9 439.2,2193.2 Q439.6,2193.6 440.1,2194.1 Q440.6,2194.6 439.9,2195.3 Q439.2,2196.1 438.5,2196.6 Q437.8,2197.1 437.0,2198.3 Q436.1,2199.5 435.0,2199.6 Q433.8,2199.7 433.4,2198.9Z M442.4,2214.3 Q441.1,2215.2 440.4,2211.7 Q439.8,2208.3 439.4,2206.2 Q439.0,2204.2 438.6,2201.6 Q438.3,2199.1 438.8,2196.6 Q439.4,2194.2 440.1,2192.6 Q440.9,2191.1 441.8,2191.3 Q442.6,2191.4 444.0,2191.0 Q445.5,2190.6 446.3,2194.5 Q447.1,2198.3 445.7,2201.7 Q444.3,2205.1 444.0,2209.3 Q443.7,2213.5 442.4,2214.3Z M463.6,2210.5 Q461.8,2210.5 464.3,2208.8 Q466.9,2207.0 467.0,2206.1 Q467.1,2205.3 469.5,2204.4 Q472.0,2203.6 473.5,2203.1 Q474.9,2202.6 476.3,2202.3 Q477.6,2202.0 480.5,2200.9 Q483.5,2199.8 483.3,2200.7 Q483.1,2201.7 481.7,2202.9 Q480.3,2204.0 479.1,2205.1 Q477.9,2206.2 475.8,2207.2 Q473.7,2208.1 471.6,2208.9 Q469.5,2209.6 467.5,2210.1 Q465.4,2210.5 463.6,2210.5Z M474.3,2209.0 Q473.8,2209.1 473.3,2209.0 Q472.8,2208.9 473.6,2208.1 Q474.4,2207.2 474.5,2206.3 Q474.7,2205.4 475.7,2205.0 Q476.7,2204.6 477.7,2204.0 Q478.6,2203.4 479.3,2203.5 Q479.9,2203.5 479.6,2204.3 Q479.4,2205.1 479.5,2205.8 Q479.6,2206.4 478.4,2207.3 Q477.2,2208.1 476.5,2208.3 Q475.8,2208.5 475.2,2208.7 Q474.7,2209.0 474.3,2209.0Z M450.1,2207.7 Q450.3,2207.0 450.4,2206.6 Q450.6,2206.2 450.5,2205.6 Q450.3,2205.1 450.7,2204.5 Q451.1,2203.9 451.9,2203.8 Q452.7,2203.7 453.1,2204.3 Q453.4,2204.9 454.7,2204.5 Q456.0,2204.1 456.3,2204.8 Q456.7,2205.5 455.9,2206.2 Q455.0,2206.8 454.4,2207.2 Q453.8,2207.5 453.3,2207.7 Q452.7,2207.8 452.2,2207.8 Q451.7,2207.8 450.8,2208.1 Q449.9,2208.4 450.1,2207.7Z M433.6,2214.9 Q433.4,2217.5 432.4,2216.5 Q431.5,2215.6 431.0,2212.0 Q430.6,2208.4 429.5,2207.5 Q428.3,2206.6 429.0,2204.7 Q429.6,2202.8 428.7,2199.1 Q427.7,2195.3 428.8,2196.1 Q429.9,2196.9 430.5,2197.8 Q431.2,2198.8 431.9,2196.7 Q432.7,2194.7 433.5,2197.4 Q434.2,2200.1 434.6,2202.8 Q435.0,2205.6 435.4,2208.6 Q435.7,2211.6 434.8,2211.9 Q433.9,2212.3 433.6,2214.9Z M459.0,2211.7 Q458.7,2213.0 458.1,2211.4 Q457.6,2209.8 456.7,2210.2 Q455.9,2210.6 455.5,2209.5 Q455.2,2208.3 454.8,2207.0 Q454.4,2205.6 454.8,2204.4 Q455.2,2203.2 456.2,2203.7 Q457.2,2204.2 457.7,2204.4 Q458.2,2204.7 458.9,2204.2 Q459.6,2203.6 460.0,2204.6 Q460.3,2205.7 460.8,2206.7 Q461.2,2207.7 461.3,2209.1 Q461.4,2210.5 460.4,2210.4 Q459.4,2210.4 459.0,2211.7Z M439.6,2215.7 Q439.1,2217.9 438.5,2217.4 Q437.8,2216.9 437.9,2214.3 Q437.9,2211.8 437.2,2210.4 Q436.6,2209.0 436.7,2206.5 Q436.9,2204.0 437.7,2203.4 Q438.4,2202.8 439.0,2202.7 Q439.5,2202.6 439.9,2203.4 Q440.3,2204.2 440.8,2204.8 Q441.3,2205.4 441.4,2207.3 Q441.6,2209.1 441.5,2211.3 Q441.4,2213.4 440.7,2213.4 Q440.0,2213.5 439.6,2215.7Z M450.1,2215.7 Q449.3,2216.2 448.6,2215.4 Q447.9,2214.6 447.6,2213.2 Q447.3,2211.8 446.7,2210.2 Q446.2,2208.7 446.9,2207.4 Q447.7,2206.2 448.3,2205.4 Q448.9,2204.7 449.9,2202.8 Q450.9,2200.9 451.0,2203.8 Q451.2,2206.7 451.9,2207.8 Q452.6,2208.9 451.9,2210.2 Q451.2,2211.6 451.1,2213.4 Q450.9,2215.3 450.1,2215.7Z M453.1,2212.9 Q452.0,2213.0 451.0,2212.7 Q450.0,2212.3 450.5,2210.8 Q451.1,2209.3 451.2,2208.2 Q451.4,2207.1 452.2,2206.4 Q453.1,2205.7 453.4,2207.0 Q453.7,2208.2 453.8,2208.9 Q454.0,2209.7 454.1,2211.3 Q454.2,2212.9 453.1,2212.9Z M441.6,2219.4 Q439.3,2220.9 440.1,2217.3 Q441.0,2213.8 439.6,2212.0 Q438.3,2210.2 440.6,2208.1 Q443.0,2205.9 444.4,2205.6 Q445.9,2205.3 447.5,2204.8 Q449.2,2204.3 448.5,2206.8 Q447.8,2209.4 448.0,2212.2 Q448.2,2215.0 446.0,2216.4 Q443.8,2217.8 441.6,2219.4Z M461.1,2217.8 Q460.8,2218.8 460.2,2219.3 Q459.6,2219.9 459.0,2218.9 Q458.3,2218.0 458.4,2216.2 Q458.5,2214.4 458.4,2213.2 Q458.4,2212.0 458.4,2210.8 Q458.5,2209.6 459.1,2209.7 Q459.6,2209.8 460.0,2209.9 Q460.4,2210.1 460.8,2210.2 Q461.2,2210.4 462.0,2210.6 Q462.9,2210.8 462.8,2212.4 Q462.7,2214.1 462.5,2215.2 Q462.2,2216.3 461.8,2216.5 Q461.3,2216.8 461.1,2217.8Z M449.7,2229.2 Q448.7,2230.4 447.7,2226.3 Q446.7,2222.2 445.5,2222.6 Q444.3,2223.1 444.0,2219.4 Q443.7,2215.8 442.8,2211.9 Q441.8,2208.0 442.8,2206.0 Q443.7,2204.0 444.3,2201.8 Q444.9,2199.7 445.9,2202.9 Q447.0,2206.1 447.6,2207.1 Q448.1,2208.0 449.6,2207.7 Q451.2,2207.4 451.8,2211.5 Q452.5,2215.6 452.0,2218.9 Q451.5,2222.1 451.0,2225.1 Q450.6,2228.0 449.7,2229.2Z M433.1,2218.0 Q432.6,2217.9 432.6,2217.4 Q432.5,2217.0 432.9,2216.3 Q433.3,2215.6 433.7,2215.0 Q434.2,2214.3 434.8,2214.1 Q435.4,2214.0 436.1,2213.1 Q436.7,2212.3 436.7,2212.9 Q436.7,2213.5 437.4,2213.1 Q438.2,2212.7 437.8,2213.4 Q437.5,2214.0 437.8,2214.5 Q438.1,2215.0 437.0,2215.4 Q435.9,2215.7 435.3,2216.8 Q434.8,2217.9 434.1,2218.0 Q433.5,2218.1 433.1,2218.0Z M431.8,2216.1 Q431.2,2215.9 430.7,2215.8 Q430.2,2215.7 429.9,2215.0 Q429.7,2214.2 429.6,2213.4 Q429.6,2212.5 429.9,2211.6 Q430.1,2210.6 430.7,2209.7 Q431.3,2208.8 431.7,2210.1 Q432.1,2211.4 432.7,2211.9 Q433.3,2212.3 433.4,2213.5 Q433.5,2214.7 432.9,2215.5 Q432.4,2216.3 431.8,2216.1Z M436.9,2218.6 Q435.6,2219.1 435.4,2217.9 Q435.2,2216.7 435.6,2215.1 Q435.9,2213.4 437.6,2212.9 Q439.2,2212.3 440.9,2212.2 Q442.5,2212.1 441.7,2213.9 Q440.9,2215.7 440.8,2216.9 Q440.7,2218.2 439.5,2218.2 Q438.2,2218.2 436.9,2218.6Z M470.9,2235.4 Q470.7,2232.5 469.9,2232.2 Q469.0,2232.0 469.6,2230.0 Q470.1,2228.0 470.5,2224.8 Q470.9,2221.5 473.2,2218.9 Q475.5,2216.4 477.6,2215.5 Q479.7,2214.6 478.9,2218.4 Q478.1,2222.1 478.3,2224.1 Q478.4,2226.1 476.9,2229.1 Q475.4,2232.1 473.3,2235.2 Q471.2,2238.3 470.9,2235.4Z M447.2,2228.0 Q446.6,2227.3 445.3,2227.4 Q444.0,2227.4 444.2,2225.2 Q444.4,2222.9 447.1,2220.6 Q449.9,2218.3 452.4,2215.3 Q454.9,2212.4 457.2,2211.5 Q459.6,2210.7 458.2,2214.1 Q456.8,2217.4 456.6,2219.6 Q456.4,2221.8 453.7,2223.4 Q450.9,2225.1 449.3,2226.9 Q447.7,2228.7 447.2,2228.0Z M454.8,2232.1 Q454.2,2232.3 453.5,2231.9 Q452.9,2231.5 452.3,2230.3 Q451.7,2229.0 451.1,2228.0 Q450.4,2227.0 450.0,2225.4 Q449.5,2223.7 449.0,2221.4 Q448.5,2219.0 449.7,2220.2 Q450.9,2221.4 451.4,2220.9 Q451.9,2220.4 452.6,2221.5 Q453.4,2222.7 453.7,2224.3 Q454.0,2225.9 455.5,2228.2 Q456.9,2230.5 456.2,2231.3 Q455.4,2232.0 454.8,2232.1Z M468.4,2234.9 Q467.4,2234.1 466.7,2233.1 Q466.1,2232.2 466.0,2230.2 Q465.9,2228.2 466.9,2225.4 Q467.9,2222.7 469.2,2223.0 Q470.6,2223.3 471.7,2221.9 Q472.7,2220.5 473.9,2220.6 Q475.0,2220.7 474.7,2223.1 Q474.4,2225.6 473.3,2227.9 Q472.1,2230.2 470.8,2233.0 Q469.4,2235.8 468.4,2234.9Z M460.7,2228.1 Q459.7,2228.2 459.1,2227.5 Q458.5,2226.8 459.9,2225.7 Q461.4,2224.7 462.7,2224.4 Q464.1,2224.2 465.0,2224.4 Q466.0,2224.6 465.6,2225.6 Q465.3,2226.5 464.2,2227.1 Q463.1,2227.7 462.4,2227.9 Q461.6,2228.0 460.7,2228.1Z M450.5,2232.5 Q449.7,2232.5 449.3,2232.0 Q448.9,2231.5 448.0,2230.6 Q447.0,2229.7 449.0,2227.8 Q451.0,2225.9 453.3,2225.6 Q455.5,2225.3 457.5,2223.8 Q459.6,2222.3 460.4,2222.8 Q461.2,2223.3 462.0,2223.8 Q462.7,2224.3 461.3,2225.8 Q459.9,2227.3 459.3,2228.3 Q458.7,2229.4 457.4,2231.2 Q456.2,2232.9 454.4,2233.1 Q452.6,2233.3 452.0,2232.9 Q451.3,2232.5 450.5,2232.5Z M446.5,2237.3 Q445.3,2239.0 444.9,2237.2 Q444.6,2235.4 444.1,2233.1 Q443.7,2230.7 444.8,2226.5 Q445.8,2222.2 447.4,2219.7 Q449.0,2217.2 449.7,2219.1 Q450.4,2221.0 450.8,2223.0 Q451.2,2225.0 450.7,2228.6 Q450.3,2232.1 448.9,2233.9 Q447.6,2235.7 446.5,2237.3Z M443.9,2234.7 Q442.9,2234.6 442.3,2232.6 Q441.7,2230.6 439.8,2232.0 Q438.0,2233.5 437.9,2230.2 Q437.8,2226.8 437.7,2223.8 Q437.6,2220.8 438.6,2219.0 Q439.5,2217.1 440.3,2214.5 Q441.1,2211.9 442.2,2215.4 Q443.3,2218.9 444.0,2219.1 Q444.8,2219.4 446.0,2220.2 Q447.1,2221.1 446.4,2223.6 Q445.7,2226.1 446.1,2228.8 Q446.6,2231.5 445.8,2233.1 Q444.9,2234.7 443.9,2234.7Z M444.6,2234.9 Q443.2,2235.8 442.8,2234.5 Q442.4,2233.3 442.1,2232.1 Q441.8,2230.8 443.0,2229.6 Q444.2,2228.4 444.8,2227.3 Q445.4,2226.2 446.4,2225.5 Q447.4,2224.8 448.6,2224.5 Q449.8,2224.1 450.6,2225.0 Q451.3,2225.9 450.4,2227.5 Q449.5,2229.2 450.3,2230.8 Q451.2,2232.4 449.6,2233.1 Q447.9,2233.7 446.9,2233.9 Q445.9,2234.0 444.6,2234.9Z M476.0,2240.7 Q475.2,2241.0 474.4,2240.7 Q473.6,2240.4 472.7,2239.7 Q471.7,2239.0 471.6,2237.4 Q471.4,2235.8 471.5,2234.7 Q471.5,2233.6 471.6,2232.0 Q471.6,2230.3 472.6,2232.0 Q473.7,2233.6 474.8,2233.5 Q475.8,2233.5 476.2,2235.4 Q476.7,2237.2 476.7,2238.8 Q476.7,2240.3 476.0,2240.7Z M471.1,2243.5 Q470.3,2243.3 469.6,2242.6 Q468.9,2241.9 468.4,2242.5 Q468.0,2243.0 467.5,2241.9 Q467.1,2240.7 466.2,2239.9 Q465.4,2239.1 465.5,2238.3 Q465.5,2237.5 465.2,2236.4 Q465.0,2235.3 465.9,2235.9 Q466.8,2236.6 467.1,2235.8 Q467.5,2235.1 468.3,2235.8 Q469.2,2236.6 469.3,2237.9 Q469.4,2239.3 469.7,2239.9 Q469.9,2240.5 471.0,2242.1 Q472.0,2243.6 471.1,2243.5Z M434.5,2240.5 Q434.0,2243.2 432.8,2241.5 Q431.7,2239.9 430.7,2237.9 Q429.7,2235.8 429.6,2232.7 Q429.5,2229.5 430.4,2228.1 Q431.3,2226.8 431.9,2225.0 Q432.6,2223.1 433.3,2225.5 Q434.0,2227.9 434.6,2229.2 Q435.1,2230.4 435.2,2232.1 Q435.3,2233.8 435.2,2235.8 Q435.1,2237.8 434.5,2240.5Z M471.3,2245.9 Q470.2,2245.5 469.3,2244.8 Q468.4,2244.1 467.1,2244.2 Q465.8,2244.3 465.0,2241.1 Q464.1,2238.0 463.3,2234.8 Q462.4,2231.6 462.7,2229.2 Q462.9,2226.8 464.5,2228.3 Q466.1,2229.7 467.2,2231.7 Q468.2,2233.6 469.3,2235.0 Q470.3,2236.4 471.2,2238.8 Q472.1,2241.3 472.2,2243.7 Q472.4,2246.2 471.3,2245.9Z M454.3,2240.1 Q453.7,2240.2 453.2,2240.1 Q452.7,2240.1 451.8,2239.8 Q450.9,2239.5 450.3,2237.9 Q449.7,2236.3 449.2,2234.7 Q448.7,2233.1 449.3,2232.8 Q449.9,2232.5 450.6,2232.6 Q451.3,2232.8 452.2,2233.7 Q453.1,2234.6 453.5,2235.9 Q453.9,2237.3 454.4,2238.6 Q455.0,2240.0 454.3,2240.1Z M451.2,2245.1 Q451.0,2246.3 450.2,2245.3 Q449.4,2244.3 448.4,2244.8 Q447.5,2245.3 447.3,2243.6 Q447.1,2241.9 447.0,2240.9 Q446.9,2239.9 446.5,2238.4 Q446.0,2236.9 446.8,2236.8 Q447.6,2236.6 448.1,2235.3 Q448.5,2234.0 449.4,2234.9 Q450.3,2235.8 450.6,2237.4 Q450.9,2238.9 451.9,2239.7 Q452.9,2240.5 452.7,2241.7 Q452.5,2242.9 452.0,2243.4 Q451.5,2243.9 451.2,2245.1Z M440.2,2239.7 Q440.0,2238.9 439.5,2238.7 Q439.0,2238.5 439.4,2237.7 Q439.8,2236.9 439.9,2236.1 Q440.0,2235.2 440.9,2235.0 Q441.7,2234.7 442.3,2234.5 Q442.8,2234.4 443.8,2233.8 Q444.9,2233.2 445.3,2233.7 Q445.8,2234.3 445.2,2235.4 Q444.7,2236.5 443.8,2237.0 Q442.8,2237.6 442.4,2238.9 Q442.1,2240.2 441.2,2240.3 Q440.3,2240.5 440.2,2239.7Z M421.5,2239.2 Q421.1,2238.4 421.9,2237.5 Q422.7,2236.6 422.3,2235.5 Q421.8,2234.4 423.4,2233.5 Q425.0,2232.6 426.7,2232.6 Q428.5,2232.6 429.2,2233.2 Q430.0,2233.8 432.7,2233.2 Q435.3,2232.6 435.6,2233.7 Q435.9,2234.8 434.3,2235.9 Q432.7,2237.1 432.1,2238.4 Q431.6,2239.6 429.6,2240.3 Q427.7,2241.0 425.5,2241.5 Q423.4,2242.1 422.7,2241.0 Q422.0,2239.9 421.5,2239.2Z M442.2,2245.7 Q442.5,2245.0 441.4,2244.7 Q440.3,2244.5 441.9,2243.6 Q443.4,2242.8 445.3,2242.3 Q447.1,2241.9 448.4,2241.7 Q449.6,2241.5 450.5,2241.6 Q451.4,2241.6 452.4,2241.6 Q453.5,2241.6 452.3,2242.3 Q451.1,2243.0 451.5,2243.5 Q451.9,2244.1 450.1,2244.8 Q448.2,2245.5 446.3,2246.0 Q444.4,2246.5 443.1,2246.4 Q441.9,2246.3 442.2,2245.7Z M428.0,2247.6 Q427.0,2247.9 425.5,2250.1 Q424.0,2252.3 423.7,2248.1 Q423.3,2243.9 422.4,2241.2 Q421.4,2238.4 422.5,2236.9 Q423.7,2235.4 424.5,2234.1 Q425.3,2232.8 426.9,2231.6 Q428.5,2230.4 428.6,2234.6 Q428.8,2238.8 429.5,2241.2 Q430.2,2243.5 429.6,2245.5 Q429.0,2247.4 428.0,2247.6Z M464.5,2251.1 Q464.4,2251.9 463.9,2250.8 Q463.4,2249.8 462.9,2250.1 Q462.5,2250.4 462.0,2249.5 Q461.5,2248.6 461.2,2247.4 Q460.9,2246.3 461.4,2246.0 Q461.9,2245.7 462.3,2245.8 Q462.6,2245.9 462.9,2246.1 Q463.2,2246.2 463.6,2246.3 Q463.9,2246.3 464.4,2247.0 Q464.9,2247.6 464.6,2248.3 Q464.3,2248.9 464.4,2249.6 Q464.5,2250.3 464.5,2251.1Z M471.6,2255.7 Q470.3,2254.7 470.6,2256.1 Q471.0,2257.5 469.9,2256.3 Q468.8,2255.1 467.6,2254.0 Q466.5,2253.0 465.7,2251.4 Q464.8,2249.8 465.2,2249.4 Q465.6,2248.9 465.3,2247.9 Q465.0,2246.9 465.2,2246.4 Q465.5,2245.8 466.5,2246.5 Q467.6,2247.1 468.4,2249.1 Q469.2,2251.1 469.7,2252.0 Q470.3,2252.9 471.6,2254.8 Q473.0,2256.8 471.6,2255.7Z M455.9,2250.1 Q455.2,2250.8 454.9,2250.4 Q454.6,2249.9 454.4,2249.2 Q454.3,2248.4 454.7,2247.4 Q455.2,2246.5 455.8,2245.5 Q456.4,2244.5 457.1,2244.2 Q457.8,2244.0 458.1,2244.5 Q458.4,2245.0 458.9,2245.1 Q459.3,2245.2 459.3,2246.0 Q459.3,2246.7 459.1,2247.6 Q459.0,2248.6 458.2,2249.0 Q457.5,2249.4 457.0,2249.4 Q456.6,2249.3 455.9,2250.1Z M423.7,2252.9 Q421.8,2254.4 421.2,2252.3 Q420.5,2250.2 422.4,2247.0 Q424.2,2243.7 425.2,2240.3 Q426.2,2237.0 427.6,2237.0 Q429.0,2237.1 429.2,2238.9 Q429.3,2240.8 429.2,2243.3 Q429.0,2245.7 427.3,2248.6 Q425.7,2251.5 423.7,2252.9Z M430.7,2247.8 Q430.1,2247.5 429.8,2246.9 Q429.5,2246.3 430.0,2245.6 Q430.4,2244.9 431.0,2244.4 Q431.7,2243.9 432.5,2243.3 Q433.3,2242.8 433.5,2243.5 Q433.8,2244.3 434.5,2244.4 Q435.3,2244.4 435.3,2245.1 Q435.4,2245.8 434.6,2246.4 Q433.8,2246.9 433.3,2247.2 Q432.7,2247.6 432.0,2247.9 Q431.2,2248.2 430.7,2247.8Z M445.7,2255.8 Q446.8,2257.9 445.3,2256.3 Q443.8,2254.8 442.7,2254.2 Q441.7,2253.6 441.6,2252.5 Q441.4,2251.4 440.8,2249.8 Q440.1,2248.2 441.1,2248.5 Q442.1,2248.8 443.1,2250.4 Q444.1,2252.0 444.4,2252.9 Q444.7,2253.8 445.7,2255.8Z M443.2,2254.1 Q440.3,2254.7 443.0,2253.1 Q445.6,2251.5 446.7,2250.0 Q447.7,2248.4 450.0,2248.5 Q452.3,2248.5 452.7,2249.1 Q453.1,2249.7 454.3,2250.4 Q455.4,2251.0 452.6,2252.4 Q449.8,2253.8 448.0,2253.7 Q446.2,2253.5 443.2,2254.1Z M450.7,2260.9 Q450.2,2260.3 450.9,2259.2 Q451.6,2258.1 451.4,2257.5 Q451.2,2256.9 452.3,2256.4 Q453.4,2255.9 453.9,2254.5 Q454.3,2253.1 455.1,2253.6 Q455.8,2254.2 456.7,2253.9 Q457.6,2253.7 457.8,2254.2 Q458.0,2254.7 457.5,2255.5 Q457.1,2256.2 457.7,2257.1 Q458.3,2257.9 457.1,2258.8 Q456.0,2259.8 454.8,2260.0 Q453.7,2260.2 452.4,2260.9 Q451.1,2261.5 450.7,2260.9Z M448.0,2260.6 Q446.4,2260.6 445.2,2259.4 Q444.0,2258.3 446.4,2256.1 Q448.8,2254.0 450.5,2251.5 Q452.2,2249.0 454.5,2248.7 Q456.8,2248.4 457.2,2250.6 Q457.5,2252.8 454.9,2254.9 Q452.3,2256.9 450.9,2258.7 Q449.5,2260.6 448.0,2260.6Z M471.6,2269.6 Q471.0,2271.1 470.1,2270.0 Q469.2,2268.9 468.5,2267.3 Q467.9,2265.6 467.7,2263.6 Q467.5,2261.6 467.4,2259.5 Q467.2,2257.4 468.1,2257.8 Q469.1,2258.2 469.5,2256.1 Q469.9,2254.0 470.3,2256.9 Q470.7,2259.8 471.4,2260.4 Q472.2,2261.1 472.4,2263.0 Q472.6,2264.9 472.4,2266.5 Q472.1,2268.2 471.6,2269.6Z M428.5,2259.8 Q425.3,2261.1 427.5,2258.5 Q429.6,2255.8 429.4,2253.5 Q429.2,2251.3 433.0,2249.0 Q436.7,2246.8 438.8,2247.4 Q440.9,2248.0 442.4,2248.9 Q443.9,2249.7 441.8,2252.2 Q439.7,2254.7 437.8,2257.6 Q435.9,2260.6 433.8,2259.6 Q431.7,2258.6 428.5,2259.8Z M439.8,2265.6 Q438.9,2265.5 438.9,2264.7 Q438.9,2264.0 440.0,2263.3 Q441.1,2262.5 441.9,2262.1 Q442.6,2261.6 443.3,2261.6 Q444.0,2261.7 444.6,2261.6 Q445.3,2261.6 446.4,2261.6 Q447.5,2261.7 446.9,2262.6 Q446.3,2263.4 445.2,2263.9 Q444.1,2264.3 443.4,2264.7 Q442.6,2265.0 441.7,2265.4 Q440.7,2265.8 439.8,2265.6Z M447.2,2262.4 Q446.8,2262.7 446.1,2263.1 Q445.4,2263.5 445.1,2262.5 Q444.9,2261.5 445.3,2260.4 Q445.7,2259.3 445.3,2258.0 Q445.0,2256.7 445.9,2256.8 Q446.8,2256.8 447.2,2255.5 Q447.6,2254.1 448.4,2253.8 Q449.2,2253.4 449.2,2255.0 Q449.3,2256.5 449.0,2257.5 Q448.8,2258.5 449.0,2259.2 Q449.1,2259.9 449.2,2261.3 Q449.2,2262.7 448.4,2262.4 Q447.7,2262.0 447.2,2262.4Z M431.9,2266.2 Q431.9,2267.2 431.1,2267.5 Q430.2,2267.9 429.5,2266.8 Q428.8,2265.7 427.8,2265.0 Q426.8,2264.4 427.3,2263.8 Q427.9,2263.3 428.4,2262.9 Q429.0,2262.5 429.9,2263.0 Q430.8,2263.5 431.3,2264.4 Q431.8,2265.3 431.9,2266.2Z M422.4,2270.8 Q422.3,2269.2 419.1,2271.3 Q415.9,2273.4 418.4,2269.2 Q421.0,2265.1 422.4,2261.8 Q423.9,2258.4 426.3,2256.4 Q428.7,2254.3 430.3,2253.8 Q431.8,2253.2 432.8,2253.6 Q433.8,2254.0 433.3,2256.2 Q432.8,2258.3 432.6,2261.1 Q432.4,2263.8 429.5,2265.9 Q426.6,2268.0 424.6,2270.2 Q422.6,2272.4 422.4,2270.8Z M450.7,2267.9 Q450.5,2268.2 450.3,2269.2 Q450.2,2270.3 449.4,2269.1 Q448.7,2268.0 448.6,2267.1 Q448.4,2266.1 447.9,2265.5 Q447.4,2264.8 447.0,2263.8 Q446.7,2262.8 447.2,2262.6 Q447.7,2262.5 448.0,2262.1 Q448.4,2261.7 449.0,2262.7 Q449.7,2263.7 450.2,2264.3 Q450.8,2264.9 450.9,2265.7 Q451.0,2266.5 451.0,2267.1 Q450.9,2267.6 450.7,2267.9Z M462.0,2269.2 Q461.2,2269.5 460.3,2269.0 Q459.5,2268.5 458.4,2267.0 Q457.4,2265.5 456.7,2262.7 Q456.0,2260.0 456.8,2258.7 Q457.5,2257.4 458.8,2258.1 Q460.1,2258.8 461.6,2261.3 Q463.0,2263.8 462.9,2266.3 Q462.9,2268.9 462.0,2269.2Z M453.3,2272.1 Q452.7,2272.2 452.3,2271.9 Q451.9,2271.5 452.1,2270.9 Q452.3,2270.2 453.2,2269.8 Q454.1,2269.4 454.7,2268.8 Q455.3,2268.2 455.8,2268.5 Q456.3,2268.9 457.6,2268.1 Q458.9,2267.4 459.1,2268.1 Q459.3,2268.7 459.1,2269.4 Q458.9,2270.1 458.5,2270.9 Q458.1,2271.7 457.0,2272.1 Q455.9,2272.4 455.3,2272.3 Q454.6,2272.2 454.3,2272.1 Q454.0,2272.0 453.3,2272.1Z M455.1,2272.8 Q454.1,2273.0 453.2,2272.5 Q452.4,2271.9 452.9,2270.2 Q453.5,2268.6 454.5,2267.1 Q455.5,2265.7 456.8,2265.1 Q458.1,2264.5 459.2,2264.9 Q460.2,2265.4 459.5,2267.1 Q458.9,2268.8 458.8,2270.3 Q458.6,2271.9 457.4,2272.2 Q456.1,2272.5 455.1,2272.8Z M427.6,2282.2 Q426.4,2282.1 425.9,2280.5 Q425.3,2278.8 424.5,2278.4 Q423.6,2278.1 424.0,2276.6 Q424.4,2275.1 424.4,2274.0 Q424.5,2272.9 424.7,2271.2 Q425.0,2269.6 425.9,2270.6 Q426.8,2271.5 427.8,2270.5 Q428.9,2269.6 429.8,2270.5 Q430.8,2271.5 431.0,2273.5 Q431.2,2275.4 430.2,2276.6 Q429.1,2277.8 429.0,2280.0 Q428.8,2282.2 427.6,2282.2Z M474.2,2276.3 Q473.1,2276.2 472.2,2277.8 Q471.3,2279.5 470.4,2277.0 Q469.5,2274.5 467.5,2273.1 Q465.5,2271.7 466.9,2270.2 Q468.3,2268.8 467.7,2265.7 Q467.0,2262.7 468.9,2264.7 Q470.8,2266.8 472.0,2265.7 Q473.2,2264.7 474.4,2266.7 Q475.5,2268.8 476.6,2271.3 Q477.6,2273.7 476.5,2275.1 Q475.4,2276.4 474.2,2276.3Z M467.6,2279.3 Q467.8,2281.7 466.8,2281.2 Q465.8,2280.8 464.2,2279.8 Q462.7,2278.9 461.4,2274.8 Q460.0,2270.6 459.9,2267.3 Q459.7,2264.0 459.6,2261.0 Q459.6,2257.9 461.3,2260.3 Q463.0,2262.7 464.0,2263.1 Q465.1,2263.4 466.7,2265.8 Q468.4,2268.1 467.9,2271.0 Q467.4,2273.8 467.4,2275.3 Q467.5,2276.9 467.6,2279.3Z M462.4,2280.3 Q461.8,2279.6 460.0,2282.2 Q458.2,2284.7 458.9,2281.2 Q459.6,2277.6 458.2,2276.4 Q456.8,2275.1 458.5,2273.6 Q460.2,2272.1 460.8,2271.1 Q461.4,2270.2 462.1,2269.3 Q462.8,2268.3 463.5,2268.5 Q464.2,2268.7 465.6,2268.1 Q466.9,2267.6 467.3,2269.6 Q467.7,2271.7 467.5,2274.1 Q467.3,2276.6 465.9,2277.7 Q464.6,2278.9 463.9,2279.9 Q463.1,2280.9 462.4,2280.3Z M465.8,2278.4 Q464.9,2278.1 464.4,2277.9 Q463.8,2277.7 463.3,2276.2 Q462.8,2274.7 463.1,2273.2 Q463.4,2271.8 463.6,2269.0 Q463.8,2266.3 464.7,2268.5 Q465.6,2270.7 466.1,2272.5 Q466.6,2274.3 466.6,2276.5 Q466.6,2278.8 465.8,2278.4Z M473.8,2279.1 Q473.0,2279.9 471.5,2279.1 Q470.1,2278.4 468.9,2277.6 Q467.7,2276.8 467.0,2275.2 Q466.3,2273.6 464.2,2271.4 Q462.1,2269.1 462.4,2267.4 Q462.7,2265.8 464.7,2267.0 Q466.6,2268.3 467.5,2267.9 Q468.4,2267.6 469.9,2268.7 Q471.4,2269.8 473.5,2272.2 Q475.6,2274.5 475.1,2276.4 Q474.6,2278.3 473.8,2279.1Z M435.9,2288.1 Q435.1,2289.0 433.9,2286.8 Q432.8,2284.6 431.2,2283.7 Q429.6,2282.9 429.1,2278.9 Q428.6,2274.9 429.2,2273.1 Q429.8,2271.2 430.5,2269.4 Q431.3,2267.6 432.9,2270.3 Q434.5,2273.1 435.5,2277.0 Q436.5,2280.9 436.7,2284.1 Q436.8,2287.2 435.9,2288.1Z M430.4,2285.7 Q429.1,2284.5 429.0,2286.0 Q429.0,2287.4 427.8,2285.5 Q426.6,2283.6 425.3,2282.5 Q424.0,2281.4 422.8,2278.9 Q421.6,2276.4 422.4,2275.9 Q423.3,2275.3 422.4,2273.0 Q421.4,2270.6 422.0,2270.3 Q422.6,2270.0 423.4,2269.8 Q424.2,2269.6 425.6,2272.1 Q427.0,2274.7 428.5,2276.6 Q430.1,2278.6 429.4,2279.8 Q428.6,2280.9 430.2,2283.9 Q431.8,2286.9 430.4,2285.7Z M427.5,2288.1 Q426.1,2288.5 425.8,2287.4 Q425.5,2286.3 425.9,2284.5 Q426.3,2282.7 427.8,2280.5 Q429.2,2278.3 431.1,2276.4 Q432.9,2274.5 433.9,2275.1 Q434.8,2275.8 436.4,2274.7 Q438.0,2273.7 438.1,2274.9 Q438.2,2276.1 437.4,2277.7 Q436.7,2279.3 435.4,2280.7 Q434.0,2282.1 433.0,2283.6 Q431.9,2285.1 430.4,2286.4 Q428.9,2287.7 427.5,2288.1Z M454.3,2287.1 Q452.9,2285.8 451.6,2286.9 Q450.4,2288.0 450.3,2286.2 Q450.2,2284.3 450.2,2283.1 Q450.2,2281.9 450.5,2280.6 Q450.7,2279.3 451.7,2278.4 Q452.6,2277.5 453.3,2279.0 Q454.0,2280.6 455.5,2280.8 Q457.0,2281.0 456.0,2282.5 Q455.0,2284.0 455.4,2286.2 Q455.8,2288.4 454.3,2287.1Z M434.4,2290.8 Q433.4,2291.4 432.2,2291.3 Q431.0,2291.1 429.7,2290.1 Q428.5,2289.1 427.7,2287.2 Q426.9,2285.3 427.3,2283.8 Q427.6,2282.2 428.5,2281.9 Q429.3,2281.6 429.9,2281.1 Q430.4,2280.5 431.3,2280.6 Q432.3,2280.7 432.6,2282.2 Q433.0,2283.7 434.4,2285.2 Q435.8,2286.6 435.6,2288.4 Q435.4,2290.1 434.4,2290.8Z M463.2,2291.2 Q463.4,2293.9 462.2,2293.1 Q461.0,2292.3 460.3,2290.4 Q459.6,2288.6 458.8,2287.8 Q457.9,2286.9 457.7,2285.4 Q457.4,2284.0 456.7,2281.7 Q456.0,2279.5 457.2,2279.5 Q458.5,2279.5 459.2,2279.1 Q459.9,2278.6 460.8,2279.6 Q461.6,2280.7 462.9,2280.9 Q464.1,2281.2 463.9,2283.2 Q463.7,2285.1 464.7,2287.0 Q465.7,2288.9 464.3,2288.7 Q462.9,2288.5 463.2,2291.2Z M463.4,2287.4 Q462.8,2287.1 462.9,2289.0 Q462.9,2290.9 462.1,2289.5 Q461.2,2288.1 460.6,2286.9 Q459.9,2285.6 460.1,2284.5 Q460.3,2283.5 459.9,2282.5 Q459.5,2281.4 459.1,2279.7 Q458.6,2277.9 459.5,2278.9 Q460.4,2279.8 460.9,2278.9 Q461.3,2277.9 462.1,2279.6 Q462.8,2281.3 463.2,2282.7 Q463.6,2284.0 463.8,2285.1 Q464.1,2286.2 464.0,2287.0 Q464.0,2287.8 463.4,2287.4Z M445.5,2292.7 Q443.1,2294.0 444.2,2292.1 Q445.3,2290.3 446.7,2288.7 Q448.1,2287.2 449.3,2286.0 Q450.6,2284.8 452.8,2281.6 Q455.0,2278.3 456.8,2278.2 Q458.5,2278.2 460.5,2277.7 Q462.5,2277.2 460.4,2279.9 Q458.2,2282.6 458.6,2283.7 Q458.9,2284.8 456.9,2287.2 Q454.8,2289.7 452.5,2290.3 Q450.1,2291.0 449.0,2291.2 Q447.9,2291.3 445.5,2292.7Z M434.8,2299.5 Q434.5,2300.4 433.4,2299.5 Q432.4,2298.7 431.4,2299.4 Q430.5,2300.1 429.5,2297.3 Q428.6,2294.6 427.2,2292.6 Q425.9,2290.6 425.8,2288.9 Q425.6,2287.1 425.0,2284.5 Q424.4,2281.9 425.6,2282.1 Q426.8,2282.3 428.3,2284.5 Q429.8,2286.6 431.0,2287.2 Q432.2,2287.7 433.3,2289.9 Q434.4,2292.0 435.1,2294.2 Q435.7,2296.3 435.5,2297.5 Q435.2,2298.7 434.8,2299.5Z M451.6,2293.8 Q449.5,2295.6 449.1,2293.9 Q448.7,2292.1 450.1,2289.3 Q451.4,2286.5 453.2,2283.3 Q455.0,2280.1 457.4,2278.5 Q459.8,2276.9 461.0,2277.9 Q462.2,2278.9 461.3,2281.8 Q460.4,2284.8 458.5,2287.0 Q456.5,2289.3 455.1,2290.6 Q453.7,2292.0 451.6,2293.8Z M453.2,2297.5 Q452.2,2298.1 451.1,2298.2 Q449.9,2298.4 451.4,2295.5 Q452.8,2292.7 451.9,2291.5 Q451.0,2290.4 452.3,2288.9 Q453.6,2287.4 454.6,2285.3 Q455.6,2283.3 456.4,2284.1 Q457.1,2284.9 457.6,2285.4 Q458.1,2285.9 457.9,2287.1 Q457.7,2288.4 458.9,2288.8 Q460.1,2289.3 458.5,2290.8 Q456.9,2292.3 456.4,2293.4 Q455.8,2294.4 455.0,2295.7 Q454.2,2296.9 453.2,2297.5Z M433.5,2300.9 Q432.0,2300.8 430.7,2299.2 Q429.3,2297.7 427.8,2296.5 Q426.4,2295.4 425.8,2292.6 Q425.2,2289.8 424.0,2285.7 Q422.8,2281.6 424.4,2281.9 Q425.9,2282.2 427.6,2285.3 Q429.3,2288.4 431.4,2290.8 Q433.5,2293.2 434.3,2297.1 Q435.0,2301.0 433.5,2300.9Z M441.2,2300.1 Q440.8,2299.5 438.8,2299.7 Q436.9,2299.8 438.7,2297.7 Q440.6,2295.6 443.5,2294.0 Q446.5,2292.4 449.2,2290.1 Q451.9,2287.7 453.3,2288.0 Q454.6,2288.3 454.7,2289.2 Q454.7,2290.1 455.7,2290.3 Q456.7,2290.6 456.0,2292.1 Q455.2,2293.6 452.3,2295.1 Q449.4,2296.6 446.6,2299.4 Q443.8,2302.2 442.7,2301.4 Q441.7,2300.6 441.2,2300.1Z M438.0,2298.9 Q436.1,2298.7 435.7,2299.4 Q435.3,2300.2 433.9,2301.3 Q432.5,2302.4 431.3,2299.6 Q430.0,2296.7 429.6,2295.5 Q429.2,2294.2 427.7,2292.3 Q426.2,2290.3 427.8,2290.6 Q429.4,2290.9 430.0,2289.5 Q430.6,2288.1 432.9,2289.4 Q435.1,2290.7 436.1,2293.0 Q437.1,2295.2 438.6,2297.2 Q440.0,2299.2 438.0,2298.9Z M441.8,2300.0 Q441.3,2299.8 441.6,2298.7 Q441.9,2297.6 442.0,2296.9 Q442.1,2296.2 442.4,2294.8 Q442.8,2293.5 443.7,2293.0 Q444.6,2292.5 445.6,2291.1 Q446.7,2289.7 446.2,2291.3 Q445.8,2292.8 446.3,2292.9 Q446.8,2293.0 446.0,2294.2 Q445.2,2295.4 444.7,2296.7 Q444.2,2298.1 443.2,2299.2 Q442.3,2300.2 441.8,2300.0Z M454.7,2300.5 Q454.0,2301.0 453.5,2300.6 Q453.0,2300.2 452.5,2299.4 Q452.0,2298.6 452.9,2297.3 Q453.7,2295.9 454.0,2294.1 Q454.4,2292.3 455.4,2292.3 Q456.4,2292.4 456.9,2293.0 Q457.3,2293.6 458.4,2293.1 Q459.4,2292.7 459.0,2294.1 Q458.6,2295.6 459.2,2297.1 Q459.8,2298.7 458.3,2299.4 Q456.9,2300.2 456.2,2300.1 Q455.4,2300.0 454.7,2300.5Z M432.6,2304.3 Q431.9,2303.9 431.6,2304.1 Q431.3,2304.3 431.0,2304.0 Q430.6,2303.8 429.8,2303.7 Q429.0,2303.6 429.4,2302.8 Q429.7,2302.0 429.6,2301.4 Q429.5,2300.8 430.0,2300.7 Q430.5,2300.7 430.7,2300.5 Q431.0,2300.4 431.3,2300.6 Q431.6,2300.9 432.0,2301.0 Q432.4,2301.1 433.0,2301.5 Q433.6,2301.9 433.3,2302.5 Q432.9,2303.1 433.1,2303.9 Q433.3,2304.7 432.6,2304.3Z M439.0,2304.1 Q438.3,2304.5 437.6,2304.4 Q436.9,2304.2 436.2,2302.8 Q435.6,2301.4 437.2,2299.4 Q438.7,2297.3 439.6,2295.8 Q440.5,2294.3 441.8,2292.5 Q443.2,2290.7 443.8,2292.1 Q444.4,2293.4 444.0,2295.8 Q443.5,2298.2 442.8,2300.8 Q442.1,2303.4 440.9,2303.5 Q439.7,2303.6 439.0,2304.1Z M475.1,2305.2 Q474.3,2306.4 473.2,2305.9 Q472.2,2305.3 471.9,2302.7 Q471.6,2300.1 471.6,2297.1 Q471.6,2294.2 472.6,2292.2 Q473.5,2290.2 474.6,2290.6 Q475.8,2291.1 476.7,2292.7 Q477.6,2294.3 477.3,2297.2 Q477.0,2300.1 476.5,2302.1 Q476.0,2304.1 475.1,2305.2Z M450.8,2308.1 Q450.3,2308.6 450.2,2307.3 Q450.0,2306.0 449.4,2306.1 Q448.8,2306.1 448.8,2304.5 Q448.9,2302.8 449.3,2301.6 Q449.7,2300.4 450.0,2299.2 Q450.3,2298.1 450.8,2297.9 Q451.2,2297.7 451.5,2298.4 Q451.8,2299.1 452.1,2299.7 Q452.5,2300.2 452.4,2301.6 Q452.2,2303.1 452.1,2304.4 Q452.0,2305.8 451.6,2306.7 Q451.2,2307.6 450.8,2308.1Z M480.7,2305.8 Q481.2,2306.8 480.4,2307.0 Q479.7,2307.2 478.5,2306.6 Q477.3,2306.0 475.9,2305.2 Q474.5,2304.4 473.3,2303.0 Q472.2,2301.6 472.2,2300.7 Q472.3,2299.7 471.9,2298.3 Q471.6,2296.8 473.7,2298.5 Q475.8,2300.3 476.9,2300.4 Q478.1,2300.5 479.5,2301.8 Q481.0,2303.1 480.6,2303.9 Q480.3,2304.7 480.7,2305.8Z M461.1,2308.6 Q460.2,2309.3 459.9,2308.4 Q459.6,2307.6 459.9,2306.1 Q460.2,2304.6 461.1,2303.7 Q462.1,2302.7 463.0,2302.1 Q463.9,2301.6 464.0,2302.7 Q464.1,2303.8 463.8,2305.0 Q463.5,2306.3 462.7,2307.1 Q461.9,2307.9 461.1,2308.6Z M463.2,2311.4 Q463.0,2312.3 462.4,2312.6 Q461.9,2313.0 460.8,2313.4 Q459.8,2313.9 458.3,2312.4 Q456.7,2310.9 456.9,2308.9 Q457.0,2306.9 456.3,2305.3 Q455.6,2303.7 455.5,2302.1 Q455.4,2300.6 457.0,2302.0 Q458.7,2303.5 459.2,2303.4 Q459.8,2303.3 460.6,2304.1 Q461.4,2304.8 462.9,2305.6 Q464.4,2306.4 465.0,2308.3 Q465.7,2310.1 464.5,2310.4 Q463.3,2310.6 463.2,2311.4Z M465.4,2311.9 Q465.6,2309.9 464.2,2310.7 Q462.7,2311.4 463.3,2309.5 Q463.8,2307.6 465.6,2305.8 Q467.3,2304.1 468.8,2301.1 Q470.2,2298.1 471.1,2298.5 Q472.0,2298.9 472.9,2299.0 Q473.9,2299.0 473.5,2300.7 Q473.1,2302.3 472.8,2304.4 Q472.5,2306.5 470.5,2307.3 Q468.5,2308.2 466.8,2311.0 Q465.2,2313.9 465.4,2311.9Z M457.5,2319.2 Q456.7,2319.8 455.8,2321.5 Q454.9,2323.2 453.2,2319.3 Q451.4,2315.5 451.0,2311.7 Q450.6,2307.9 449.7,2302.8 Q448.7,2297.8 450.7,2299.7 Q452.7,2301.6 454.4,2303.1 Q456.0,2304.7 457.6,2309.1 Q459.2,2313.4 458.7,2316.0 Q458.3,2318.7 457.5,2319.2Z M468.7,2321.0 Q467.8,2321.9 467.3,2320.5 Q466.8,2319.1 466.9,2316.8 Q467.1,2314.4 467.1,2312.9 Q467.2,2311.3 466.9,2308.9 Q466.7,2306.5 467.5,2304.5 Q468.3,2302.5 469.2,2300.4 Q470.1,2298.4 470.4,2301.6 Q470.6,2304.8 471.7,2303.9 Q472.7,2302.9 473.2,2304.8 Q473.8,2306.7 472.5,2309.3 Q471.2,2311.8 471.1,2314.2 Q471.0,2316.5 470.3,2318.3 Q469.6,2320.1 468.7,2321.0Z M446.1,2329.4 Q445.3,2331.0 443.2,2329.2 Q441.2,2327.5 439.6,2324.1 Q438.1,2320.8 437.0,2319.1 Q435.8,2317.4 433.8,2314.0 Q431.8,2310.6 433.1,2310.3 Q434.5,2310.0 434.3,2307.0 Q434.1,2304.0 436.3,2307.7 Q438.4,2311.4 439.8,2313.0 Q441.2,2314.6 442.1,2317.1 Q443.1,2319.5 445.0,2323.7 Q447.0,2327.9 446.1,2329.4Z M463.0,2311.9 Q462.6,2313.6 461.8,2312.8 Q460.9,2311.9 460.1,2311.3 Q459.3,2310.8 458.4,2309.6 Q457.5,2308.5 457.6,2306.9 Q457.8,2305.2 458.2,2303.9 Q458.7,2302.5 460.0,2303.2 Q461.2,2304.0 461.8,2303.1 Q462.4,2302.2 463.2,2302.7 Q463.9,2303.1 465.0,2303.7 Q466.1,2304.3 466.3,2306.0 Q466.4,2307.6 466.6,2309.5 Q466.8,2311.4 465.1,2310.8 Q463.4,2310.2 463.0,2311.9Z M465.2,2316.5 Q463.9,2317.1 464.5,2315.7 Q465.1,2314.3 464.5,2313.7 Q463.9,2313.0 465.2,2312.2 Q466.5,2311.4 467.1,2310.5 Q467.8,2309.6 469.2,2308.3 Q470.5,2307.0 470.2,2308.8 Q469.9,2310.5 471.6,2310.1 Q473.3,2309.6 472.6,2311.1 Q471.9,2312.5 470.5,2313.2 Q469.2,2313.9 468.5,2314.3 Q467.9,2314.7 467.2,2315.3 Q466.4,2315.9 465.2,2316.5Z M457.8,2321.7 Q456.8,2323.1 455.5,2322.6 Q454.1,2322.0 453.4,2318.9 Q452.7,2315.8 451.6,2312.3 Q450.5,2308.9 451.7,2307.2 Q452.9,2305.5 453.9,2305.0 Q454.8,2304.5 455.8,2305.3 Q456.7,2306.1 457.3,2308.2 Q457.8,2310.2 458.8,2312.8 Q459.9,2315.4 459.3,2317.9 Q458.7,2320.3 457.8,2321.7Z M473.8,2314.3 Q473.3,2314.7 472.8,2315.6 Q472.4,2316.5 471.2,2315.4 Q470.1,2314.4 468.9,2313.2 Q467.8,2312.0 468.4,2310.8 Q468.9,2309.6 467.9,2308.2 Q466.9,2306.7 467.6,2306.4 Q468.2,2306.2 468.6,2305.3 Q469.0,2304.4 470.1,2305.6 Q471.1,2306.8 472.0,2307.8 Q472.9,2308.9 473.9,2310.4 Q474.9,2311.8 474.7,2312.8 Q474.4,2313.9 473.8,2314.3Z M453.0,2326.2 Q451.8,2327.0 450.4,2327.5 Q448.9,2327.9 447.8,2324.9 Q446.6,2321.9 446.7,2319.9 Q446.8,2318.0 447.3,2317.0 Q447.8,2315.9 449.1,2313.9 Q450.4,2311.9 452.1,2315.6 Q453.9,2319.2 454.0,2322.3 Q454.1,2325.4 453.0,2326.2Z M475.5,2321.5 Q478.2,2324.8 476.5,2324.5 Q474.8,2324.2 472.5,2322.4 Q470.2,2320.6 468.2,2319.8 Q466.1,2318.9 465.5,2316.7 Q464.9,2314.4 462.2,2312.2 Q459.5,2309.9 461.4,2310.3 Q463.3,2310.8 461.6,2308.0 Q459.8,2305.2 462.6,2307.8 Q465.5,2310.4 466.6,2311.0 Q467.6,2311.7 469.0,2312.7 Q470.3,2313.7 471.6,2315.1 Q472.8,2316.5 472.8,2317.4 Q472.8,2318.2 475.5,2321.5Z M435.1,2329.5 Q434.5,2329.4 434.3,2330.8 Q434.1,2332.2 433.4,2330.5 Q432.8,2328.7 431.6,2328.3 Q430.5,2327.9 431.0,2326.9 Q431.5,2325.8 430.5,2323.9 Q429.5,2322.0 430.5,2322.3 Q431.6,2322.6 432.2,2322.3 Q432.8,2322.1 433.5,2323.1 Q434.2,2324.1 435.1,2324.8 Q436.1,2325.5 436.4,2326.9 Q436.7,2328.4 436.2,2329.0 Q435.7,2329.6 435.1,2329.5Z M462.6,2321.0 Q462.5,2321.6 462.1,2322.0 Q461.7,2322.4 461.3,2321.5 Q460.9,2320.7 460.1,2320.3 Q459.3,2319.8 459.0,2318.6 Q458.7,2317.5 459.0,2316.6 Q459.2,2315.8 459.8,2315.6 Q460.4,2315.4 461.0,2315.1 Q461.5,2314.7 461.9,2316.3 Q462.2,2317.8 463.1,2318.0 Q464.0,2318.2 463.5,2318.9 Q463.1,2319.7 462.9,2320.1 Q462.7,2320.4 462.6,2321.0Z M457.3,2326.0 Q456.4,2326.7 457.0,2324.6 Q457.6,2322.5 457.5,2321.9 Q457.5,2321.2 457.4,2320.3 Q457.3,2319.3 458.1,2318.3 Q458.9,2317.4 459.5,2316.9 Q460.0,2316.4 460.9,2314.7 Q461.8,2313.1 462.2,2313.5 Q462.6,2314.0 462.0,2315.7 Q461.4,2317.3 462.1,2317.6 Q462.8,2318.0 462.3,2319.8 Q461.8,2321.6 460.8,2322.5 Q459.7,2323.4 458.9,2324.4 Q458.1,2325.4 457.3,2326.0Z M451.5,2330.7 Q450.5,2330.4 449.9,2329.5 Q449.3,2328.6 449.7,2326.9 Q450.1,2325.1 451.7,2324.0 Q453.3,2322.9 454.9,2321.9 Q456.5,2320.8 457.4,2321.5 Q458.3,2322.3 457.8,2324.1 Q457.3,2325.8 456.3,2327.3 Q455.3,2328.7 453.9,2329.9 Q452.6,2331.0 451.5,2330.7Z M466.6,2331.7 Q465.9,2332.7 463.9,2330.8 Q462.0,2328.9 460.4,2328.6 Q458.9,2328.4 458.0,2325.2 Q457.0,2322.1 455.9,2319.8 Q454.7,2317.4 453.5,2313.8 Q452.3,2310.2 454.0,2310.5 Q455.8,2310.8 458.3,2315.1 Q460.7,2319.5 463.2,2322.0 Q465.6,2324.6 466.5,2327.6 Q467.3,2330.7 466.6,2331.7Z M444.9,2342.7 Q443.8,2344.2 441.9,2343.5 Q440.0,2342.8 437.2,2340.2 Q434.4,2337.7 434.0,2334.1 Q433.7,2330.4 433.6,2327.5 Q433.5,2324.5 435.9,2326.6 Q438.3,2328.8 439.9,2331.3 Q441.6,2333.9 443.8,2337.6 Q446.0,2341.3 444.9,2342.7Z M470.4,2330.6 Q469.9,2331.3 469.1,2331.5 Q468.2,2331.6 467.0,2329.8 Q465.8,2327.9 465.0,2327.1 Q464.3,2326.3 463.2,2325.1 Q462.0,2323.9 461.7,2322.7 Q461.5,2321.4 461.3,2320.0 Q461.1,2318.5 462.7,2320.2 Q464.4,2321.8 465.1,2321.3 Q465.8,2320.7 467.3,2322.0 Q468.7,2323.3 468.3,2324.7 Q467.9,2326.1 469.4,2328.0 Q470.8,2329.9 470.4,2330.6Z M454.0,2340.4 Q453.5,2338.4 450.5,2340.6 Q447.5,2342.8 449.6,2337.9 Q451.6,2332.9 454.0,2329.7 Q456.3,2326.5 458.6,2322.2 Q461.0,2317.9 462.5,2318.0 Q464.0,2318.1 464.5,2320.0 Q465.0,2321.8 463.6,2325.4 Q462.2,2329.1 460.5,2332.3 Q458.8,2335.6 456.6,2338.9 Q454.4,2342.3 454.0,2340.4Z M473.2,2332.1 Q472.3,2332.2 473.2,2330.4 Q474.0,2328.5 473.1,2328.2 Q472.2,2327.8 473.3,2326.7 Q474.4,2325.5 475.2,2325.0 Q475.9,2324.5 476.8,2323.8 Q477.6,2323.1 477.8,2323.7 Q478.0,2324.4 477.8,2325.2 Q477.7,2325.9 477.4,2326.7 Q477.1,2327.5 476.7,2328.7 Q476.2,2329.9 475.2,2330.9 Q474.2,2332.0 473.2,2332.1Z M465.4,2335.8 Q463.1,2334.4 462.5,2334.4 Q461.9,2334.4 460.8,2334.7 Q459.8,2335.0 459.1,2332.9 Q458.5,2330.8 457.0,2328.8 Q455.6,2326.7 456.9,2326.7 Q458.2,2326.7 457.9,2324.8 Q457.7,2322.8 459.2,2324.8 Q460.6,2326.9 461.6,2327.6 Q462.7,2328.3 463.3,2329.9 Q463.9,2331.4 465.8,2334.4 Q467.7,2337.3 465.4,2335.8Z M452.7,2342.8 Q452.0,2345.0 450.9,2344.1 Q449.8,2343.1 449.9,2340.6 Q450.1,2338.1 449.0,2336.9 Q447.9,2335.8 448.5,2334.0 Q449.1,2332.3 449.6,2330.5 Q450.2,2328.8 451.2,2328.2 Q452.3,2327.6 452.8,2329.7 Q453.4,2331.9 454.4,2332.1 Q455.4,2332.2 455.1,2334.1 Q454.7,2335.9 455.1,2337.8 Q455.5,2339.7 454.5,2340.2 Q453.4,2340.6 452.7,2342.8Z M454.0,2339.9 Q453.4,2340.4 452.9,2339.6 Q452.3,2338.9 451.5,2338.6 Q450.7,2338.3 450.8,2337.0 Q450.9,2335.8 451.1,2334.7 Q451.3,2333.5 452.0,2333.8 Q452.8,2334.1 453.5,2334.5 Q454.2,2334.9 454.0,2336.1 Q453.9,2337.2 454.2,2338.3 Q454.5,2339.5 454.0,2339.9Z M459.9,2345.1 Q459.0,2346.7 457.0,2345.6 Q455.0,2344.6 452.6,2343.2 Q450.2,2341.8 449.7,2338.9 Q449.2,2336.1 449.0,2333.7 Q448.8,2331.4 451.0,2332.8 Q453.1,2334.2 455.3,2335.5 Q457.5,2336.9 459.2,2340.2 Q460.8,2343.5 459.9,2345.1Z M455.4,2348.0 Q454.7,2349.9 454.1,2348.1 Q453.6,2346.3 452.4,2346.1 Q451.3,2345.8 451.1,2342.2 Q450.9,2338.6 451.6,2335.4 Q452.4,2332.2 453.5,2332.0 Q454.6,2331.8 455.1,2331.9 Q455.7,2332.0 456.9,2329.5 Q458.1,2327.0 458.7,2329.5 Q459.3,2332.0 458.8,2335.5 Q458.3,2339.0 458.0,2341.6 Q457.7,2344.3 456.9,2345.2 Q456.1,2346.2 455.4,2348.0Z M475.6,2339.2 Q474.7,2339.4 473.9,2339.3 Q473.1,2339.1 472.6,2337.9 Q472.0,2336.6 471.2,2335.8 Q470.3,2335.0 470.3,2333.8 Q470.2,2332.5 470.0,2330.8 Q469.8,2329.0 470.9,2329.5 Q472.0,2329.9 472.9,2330.1 Q473.8,2330.3 474.3,2331.9 Q474.8,2333.4 474.8,2334.4 Q474.8,2335.5 475.6,2337.3 Q476.5,2339.1 475.6,2339.2Z M480.3,2344.2 Q479.4,2342.5 478.9,2342.5 Q478.3,2342.5 477.8,2341.7 Q477.3,2340.8 475.8,2339.7 Q474.3,2338.6 475.2,2336.1 Q476.0,2333.6 476.9,2333.0 Q477.8,2332.4 478.2,2331.0 Q478.5,2329.6 479.2,2330.2 Q479.8,2330.8 480.2,2331.7 Q480.7,2332.5 481.5,2333.1 Q482.3,2333.7 483.5,2336.1 Q484.6,2338.5 483.6,2340.8 Q482.7,2343.1 482.0,2344.5 Q481.2,2345.8 480.3,2344.2Z M462.7,2349.9 Q461.3,2349.7 460.3,2349.0 Q459.2,2348.4 458.4,2349.1 Q457.7,2349.8 456.4,2348.2 Q455.2,2346.6 454.9,2345.1 Q454.5,2343.6 454.4,2342.6 Q454.4,2341.6 454.9,2341.4 Q455.4,2341.1 455.8,2340.5 Q456.1,2339.9 457.0,2341.0 Q458.0,2342.1 458.9,2342.8 Q459.7,2343.4 462.0,2345.2 Q464.2,2346.9 464.1,2348.5 Q464.1,2350.2 462.7,2349.9Z M450.0,2350.2 Q449.6,2350.6 449.3,2352.2 Q449.0,2353.8 447.7,2351.1 Q446.4,2348.4 445.7,2346.5 Q444.9,2344.6 445.2,2343.8 Q445.5,2343.0 445.5,2342.0 Q445.5,2341.0 446.0,2340.4 Q446.4,2339.8 447.5,2341.2 Q448.6,2342.7 449.4,2344.8 Q450.3,2346.9 450.4,2348.3 Q450.4,2349.8 450.0,2350.2Z M449.8,2352.6 Q450.0,2353.9 449.2,2354.4 Q448.4,2354.8 446.9,2353.8 Q445.4,2352.8 444.3,2351.0 Q443.3,2349.2 443.0,2348.0 Q442.7,2346.8 442.4,2345.8 Q442.1,2344.7 442.1,2343.4 Q442.0,2342.1 443.5,2343.7 Q445.0,2345.2 446.2,2345.5 Q447.4,2345.8 448.7,2347.5 Q449.9,2349.1 449.7,2350.2 Q449.5,2351.3 449.8,2352.6Z M475.0,2347.3 Q474.9,2347.9 474.6,2348.7 Q474.4,2349.5 472.9,2348.2 Q471.4,2346.9 469.7,2346.1 Q467.9,2345.3 466.6,2343.4 Q465.2,2341.6 466.7,2341.7 Q468.2,2341.8 468.2,2340.6 Q468.2,2339.5 469.9,2341.0 Q471.6,2342.5 472.7,2343.5 Q473.8,2344.5 474.4,2345.6 Q475.1,2346.6 475.0,2347.3Z M443.7,2359.5 Q441.8,2362.1 441.0,2360.3 Q440.2,2358.6 441.2,2355.3 Q442.1,2351.9 442.7,2349.8 Q443.4,2347.7 443.9,2344.3 Q444.4,2340.9 446.1,2338.9 Q447.9,2337.0 449.1,2337.9 Q450.2,2338.8 450.3,2340.9 Q450.5,2342.9 450.3,2344.6 Q450.2,2346.3 450.8,2348.5 Q451.4,2350.6 449.8,2352.7 Q448.2,2354.8 447.0,2355.9 Q445.7,2356.9 443.7,2359.5Z M478.5,2348.3 Q477.1,2349.3 476.9,2347.9 Q476.6,2346.5 477.1,2345.2 Q477.6,2344.0 477.2,2342.9 Q476.7,2341.8 477.7,2341.0 Q478.7,2340.2 479.6,2340.3 Q480.5,2340.5 481.6,2338.9 Q482.8,2337.3 483.3,2338.4 Q483.8,2339.5 483.6,2340.7 Q483.5,2341.8 483.9,2342.6 Q484.4,2343.4 484.6,2345.1 Q484.8,2346.7 483.2,2346.6 Q481.5,2346.4 480.7,2346.9 Q479.9,2347.4 478.5,2348.3Z M470.9,2353.8 Q470.9,2355.4 469.3,2354.9 Q467.7,2354.4 466.0,2353.4 Q464.4,2352.4 463.1,2350.6 Q461.9,2348.7 461.4,2347.0 Q460.9,2345.3 462.0,2345.1 Q463.1,2344.9 464.4,2344.9 Q465.7,2345.0 466.7,2347.0 Q467.7,2348.9 469.3,2350.6 Q470.8,2352.2 470.9,2353.8Z M464.7,2357.2 Q464.5,2358.4 463.5,2356.8 Q462.6,2355.2 461.9,2354.4 Q461.1,2353.6 460.6,2351.7 Q460.0,2349.8 460.1,2348.5 Q460.1,2347.2 460.2,2345.8 Q460.3,2344.4 461.2,2346.3 Q462.1,2348.1 462.9,2348.2 Q463.7,2348.3 464.1,2350.3 Q464.4,2352.4 464.7,2354.2 Q465.0,2356.0 464.7,2357.2Z M470.8,2358.0 Q469.4,2359.8 467.8,2358.9 Q466.2,2358.0 467.0,2354.5 Q467.7,2351.1 467.4,2348.9 Q467.0,2346.7 468.0,2344.6 Q469.0,2342.5 470.2,2343.4 Q471.5,2344.4 473.1,2343.4 Q474.7,2342.5 474.5,2345.3 Q474.3,2348.2 474.5,2350.6 Q474.8,2353.1 473.5,2354.6 Q472.2,2356.1 470.8,2358.0Z M449.1,2362.3 Q448.4,2363.1 447.6,2363.7 Q446.7,2364.3 445.4,2363.4 Q444.1,2362.4 442.4,2361.5 Q440.6,2360.6 441.6,2359.4 Q442.6,2358.3 442.4,2357.2 Q442.2,2356.1 443.1,2356.0 Q444.0,2355.8 445.3,2355.8 Q446.5,2355.8 447.8,2357.2 Q449.2,2358.5 449.5,2360.0 Q449.8,2361.6 449.1,2362.3Z M455.5,2361.2 Q455.7,2361.9 455.8,2362.9 Q456.0,2364.0 454.9,2363.3 Q453.9,2362.7 452.9,2361.1 Q451.9,2359.5 451.1,2358.5 Q450.2,2357.6 450.2,2357.0 Q450.2,2356.4 448.6,2354.2 Q447.0,2352.1 448.2,2352.7 Q449.4,2353.3 450.5,2354.4 Q451.5,2355.5 452.1,2355.1 Q452.7,2354.7 453.7,2356.1 Q454.6,2357.6 456.1,2359.1 Q457.6,2360.7 456.4,2360.6 Q455.3,2360.6 455.5,2361.2Z M490.9,2355.7 Q490.0,2356.0 489.0,2354.8 Q487.9,2353.7 487.2,2352.5 Q486.5,2351.3 485.7,2349.9 Q484.8,2348.5 484.0,2346.0 Q483.1,2343.5 484.0,2343.2 Q484.9,2342.9 486.3,2344.9 Q487.6,2346.8 489.0,2348.6 Q490.4,2350.4 491.1,2352.9 Q491.8,2355.4 490.9,2355.7Z M487.9,2358.0 Q487.8,2359.4 486.8,2358.3 Q485.7,2357.2 484.9,2356.6 Q484.2,2355.9 483.3,2354.8 Q482.3,2353.7 481.4,2351.9 Q480.5,2350.0 480.9,2348.8 Q481.4,2347.7 481.8,2346.9 Q482.3,2346.2 483.0,2346.3 Q483.7,2346.4 484.4,2346.7 Q485.1,2347.0 485.5,2348.5 Q486.0,2349.9 487.5,2350.7 Q489.1,2351.5 489.5,2353.6 Q490.0,2355.7 489.0,2356.1 Q488.1,2356.6 487.9,2358.0Z M490.1,2348.9 Q489.5,2349.2 488.9,2349.1 Q488.3,2348.9 487.7,2349.3 Q487.2,2349.7 486.5,2349.2 Q485.8,2348.7 485.2,2347.9 Q484.6,2347.2 484.8,2346.4 Q485.0,2345.6 485.6,2345.4 Q486.2,2345.1 486.4,2344.1 Q486.7,2343.1 487.6,2343.8 Q488.4,2344.4 489.1,2345.0 Q489.7,2345.5 489.9,2346.3 Q490.2,2347.0 490.4,2347.8 Q490.6,2348.6 490.1,2348.9Z M461.6,2373.3 Q459.5,2371.9 458.7,2372.7 Q457.9,2373.5 456.6,2371.9 Q455.3,2370.2 454.0,2367.8 Q452.7,2365.3 453.0,2363.3 Q453.3,2361.2 454.3,2360.7 Q455.3,2360.2 456.4,2361.0 Q457.5,2361.9 459.3,2361.8 Q461.1,2361.6 460.6,2364.5 Q460.0,2367.5 461.9,2371.1 Q463.8,2374.7 461.6,2373.3Z M485.9,2353.9 Q486.5,2356.0 484.7,2353.9 Q482.9,2351.7 482.1,2351.1 Q481.4,2350.5 479.7,2349.5 Q478.1,2348.4 478.3,2347.0 Q478.4,2345.6 478.1,2344.3 Q477.7,2343.1 478.0,2342.4 Q478.3,2341.7 479.3,2341.9 Q480.3,2342.2 481.5,2344.3 Q482.6,2346.3 484.6,2348.2 Q486.6,2350.1 485.9,2351.0 Q485.2,2351.8 485.9,2353.9Z M476.7,2362.8 Q475.9,2364.3 474.3,2364.2 Q472.7,2364.1 472.1,2361.4 Q471.6,2358.7 471.4,2356.6 Q471.3,2354.5 471.7,2352.1 Q472.1,2349.7 473.6,2351.3 Q475.1,2352.9 477.1,2352.1 Q479.1,2351.3 479.1,2354.6 Q479.2,2357.8 478.4,2359.5 Q477.6,2361.2 476.7,2362.8Z M486.0,2358.1 Q486.7,2359.1 485.7,2359.3 Q484.8,2359.5 483.8,2359.0 Q482.8,2358.6 482.2,2357.9 Q481.7,2357.3 480.5,2356.2 Q479.4,2355.2 480.3,2354.8 Q481.2,2354.4 482.2,2354.3 Q483.1,2354.1 484.2,2354.7 Q485.3,2355.3 485.3,2356.2 Q485.3,2357.1 486.0,2358.1Z M483.0,2363.9 Q481.8,2362.7 481.7,2363.8 Q481.5,2364.9 480.5,2362.8 Q479.5,2360.8 478.6,2360.0 Q477.7,2359.3 477.2,2357.6 Q476.7,2355.9 476.0,2354.0 Q475.2,2352.1 475.2,2350.7 Q475.1,2349.4 476.0,2350.1 Q477.0,2350.9 477.4,2349.9 Q477.9,2348.9 479.1,2351.0 Q480.4,2353.1 480.6,2355.3 Q480.9,2357.4 481.8,2359.0 Q482.7,2360.6 483.5,2362.8 Q484.3,2365.0 483.0,2363.9Z M474.3,2370.7 Q476.3,2372.5 474.7,2372.4 Q473.1,2372.3 471.6,2371.3 Q470.1,2370.3 469.2,2370.0 Q468.3,2369.7 467.2,2369.1 Q466.2,2368.4 465.7,2367.6 Q465.3,2366.7 465.1,2365.9 Q464.9,2365.1 466.2,2365.4 Q467.4,2365.7 467.8,2364.8 Q468.1,2363.8 469.5,2364.8 Q470.8,2365.8 471.5,2366.7 Q472.2,2367.7 472.3,2368.3 Q472.3,2368.9 474.3,2370.7Z M465.9,2379.2 Q466.0,2380.1 465.3,2380.7 Q464.7,2381.2 463.2,2381.2 Q461.8,2381.1 460.0,2380.0 Q458.2,2378.8 456.2,2378.0 Q454.2,2377.3 454.4,2376.2 Q454.6,2375.2 453.0,2373.8 Q451.3,2372.5 453.0,2372.8 Q454.8,2373.1 454.0,2371.3 Q453.3,2369.5 455.7,2371.4 Q458.1,2373.2 460.1,2373.1 Q462.1,2372.9 462.5,2374.5 Q462.8,2376.0 464.3,2377.2 Q465.8,2378.3 465.9,2379.2Z M476.8,2373.9 Q476.1,2374.8 475.0,2375.0 Q473.9,2375.3 472.3,2373.0 Q470.7,2370.7 470.1,2368.4 Q469.6,2366.1 469.3,2364.1 Q469.0,2362.2 470.1,2362.5 Q471.1,2362.8 472.3,2363.1 Q473.4,2363.3 474.9,2365.7 Q476.4,2368.0 477.0,2370.5 Q477.5,2373.0 476.8,2373.9Z M490.9,2364.2 Q490.2,2362.3 488.9,2364.4 Q487.6,2366.5 487.4,2363.5 Q487.2,2360.5 487.8,2357.7 Q488.4,2354.9 488.5,2352.0 Q488.5,2349.1 489.5,2348.3 Q490.4,2347.5 491.4,2345.1 Q492.3,2342.7 492.6,2345.6 Q492.9,2348.4 494.1,2348.5 Q495.4,2348.7 494.8,2352.1 Q494.2,2355.5 493.3,2357.2 Q492.5,2359.0 492.1,2362.6 Q491.7,2366.2 490.9,2364.2Z M489.4,2362.8 Q489.5,2364.1 488.3,2363.8 Q487.1,2363.5 485.9,2363.4 Q484.7,2363.4 483.7,2362.0 Q482.8,2360.6 483.0,2359.6 Q483.2,2358.5 483.2,2357.6 Q483.2,2356.6 484.0,2356.1 Q484.8,2355.7 485.8,2356.8 Q486.9,2358.0 487.4,2358.8 Q488.0,2359.6 488.6,2360.6 Q489.3,2361.6 489.4,2362.8Z M479.6,2368.6 Q479.0,2368.3 478.5,2369.2 Q478.0,2370.2 477.9,2368.8 Q477.8,2367.5 477.7,2366.8 Q477.5,2366.1 477.4,2365.0 Q477.3,2363.9 477.7,2363.2 Q478.2,2362.6 478.8,2363.0 Q479.5,2363.4 480.0,2364.3 Q480.6,2365.1 480.5,2366.2 Q480.4,2367.3 480.2,2368.2 Q480.1,2369.0 479.6,2368.6Z M497.5,2359.3 Q496.5,2359.8 496.7,2360.4 Q496.9,2361.1 495.6,2361.6 Q494.3,2362.1 491.6,2361.2 Q488.8,2360.4 486.9,2359.4 Q484.9,2358.4 484.1,2357.4 Q483.3,2356.4 485.8,2356.6 Q488.3,2356.7 489.1,2356.0 Q489.9,2355.4 492.6,2356.2 Q495.2,2357.0 496.8,2357.9 Q498.5,2358.9 497.5,2359.3Z M472.1,2381.3 Q471.0,2380.9 469.8,2381.2 Q468.6,2381.4 468.6,2379.7 Q468.6,2378.0 468.2,2376.4 Q467.7,2374.8 468.6,2373.4 Q469.5,2372.0 470.6,2372.8 Q471.7,2373.6 472.7,2373.4 Q473.8,2373.1 474.2,2374.4 Q474.6,2375.8 473.8,2376.9 Q472.9,2377.9 473.0,2379.8 Q473.2,2381.7 472.1,2381.3Z M494.5,2366.3 Q494.5,2367.0 493.6,2366.1 Q492.8,2365.3 492.3,2365.3 Q491.9,2365.4 491.0,2364.6 Q490.1,2363.9 490.1,2363.0 Q490.1,2362.0 489.8,2361.2 Q489.4,2360.3 489.3,2359.7 Q489.3,2359.1 489.6,2358.6 Q489.9,2358.2 490.8,2359.2 Q491.6,2360.1 492.2,2361.1 Q492.8,2362.2 493.4,2363.1 Q494.0,2364.0 494.2,2364.8 Q494.5,2365.6 494.5,2366.3Z M471.9,2386.9 Q471.1,2387.1 470.1,2386.5 Q469.1,2385.8 468.4,2385.3 Q467.7,2384.9 466.7,2384.2 Q465.8,2383.4 464.7,2382.1 Q463.6,2380.8 463.3,2379.5 Q463.0,2378.1 463.8,2378.2 Q464.7,2378.2 464.6,2377.3 Q464.6,2376.3 465.4,2376.7 Q466.2,2377.1 467.0,2378.1 Q467.9,2379.2 468.7,2380.0 Q469.6,2380.9 470.6,2382.3 Q471.7,2383.8 472.2,2385.2 Q472.6,2386.7 471.9,2386.9Z M478.5,2384.9 Q477.6,2385.3 476.8,2385.3 Q476.0,2385.3 474.4,2385.5 Q472.8,2385.7 470.6,2383.7 Q468.4,2381.8 468.0,2380.4 Q467.7,2379.0 469.2,2378.9 Q470.8,2378.7 472.9,2380.5 Q475.0,2382.2 477.2,2383.3 Q479.4,2384.4 478.5,2384.9Z M479.5,2379.8 Q479.0,2380.0 479.6,2381.0 Q480.2,2381.9 479.3,2381.9 Q478.4,2382.0 477.3,2380.9 Q476.2,2379.8 475.4,2379.4 Q474.7,2379.1 473.9,2378.5 Q473.2,2377.9 472.0,2376.9 Q470.7,2375.9 471.4,2375.6 Q472.0,2375.2 473.5,2375.9 Q474.9,2376.6 475.4,2376.1 Q475.9,2375.5 476.6,2376.6 Q477.4,2377.7 478.5,2378.1 Q479.6,2378.5 479.8,2379.1 Q480.0,2379.7 479.5,2379.8Z M487.0,2389.1 Q488.5,2391.7 484.6,2389.2 Q480.6,2386.6 479.5,2386.7 Q478.4,2386.8 476.0,2386.3 Q473.5,2385.7 471.9,2383.3 Q470.3,2380.9 470.5,2379.7 Q470.7,2378.5 469.6,2376.7 Q468.5,2374.9 469.8,2374.7 Q471.1,2374.6 472.6,2374.1 Q474.1,2373.5 476.1,2376.8 Q478.2,2380.1 479.9,2381.3 Q481.7,2382.5 483.5,2384.5 Q485.4,2386.5 487.0,2389.1Z M490.4,2386.3 Q488.9,2387.2 487.4,2386.0 Q485.8,2384.7 485.8,2380.4 Q485.8,2376.1 484.5,2374.2 Q483.3,2372.3 484.1,2370.3 Q484.8,2368.3 485.6,2367.6 Q486.4,2366.8 487.3,2363.5 Q488.3,2360.1 489.5,2362.9 Q490.7,2365.6 490.5,2369.0 Q490.3,2372.4 490.9,2374.7 Q491.5,2377.0 491.7,2381.2 Q491.9,2385.3 490.4,2386.3Z M480.8,2387.8 Q479.5,2387.3 479.9,2388.3 Q480.2,2389.4 478.9,2388.6 Q477.7,2387.8 476.3,2386.7 Q475.0,2385.6 474.5,2384.4 Q474.0,2383.2 473.7,2382.5 Q473.4,2381.7 472.4,2380.2 Q471.3,2378.6 471.7,2378.1 Q472.2,2377.7 473.6,2378.5 Q475.0,2379.4 476.4,2381.1 Q477.8,2382.9 479.5,2384.3 Q481.1,2385.8 481.7,2387.1 Q482.2,2388.4 480.8,2387.8Z M488.2,2383.0 Q488.4,2384.4 487.0,2385.2 Q485.6,2386.0 482.5,2385.8 Q479.3,2385.6 476.7,2384.0 Q474.1,2382.4 472.6,2381.2 Q471.2,2380.0 471.3,2379.0 Q471.5,2378.1 472.7,2377.2 Q473.9,2376.2 477.8,2377.2 Q481.6,2378.2 484.8,2379.9 Q488.1,2381.6 488.2,2383.0Z M479.9,2390.5 Q479.4,2391.8 479.0,2393.0 Q478.6,2394.1 476.3,2393.8 Q474.0,2393.5 472.3,2392.6 Q470.5,2391.7 469.7,2390.4 Q468.9,2389.1 469.9,2388.0 Q470.9,2387.0 473.2,2387.5 Q475.4,2388.0 477.9,2388.6 Q480.4,2389.2 479.9,2390.5Z M496.1,2374.5 Q494.5,2375.2 493.2,2374.2 Q492.0,2373.2 492.5,2371.1 Q493.1,2369.0 494.8,2368.5 Q496.4,2368.0 497.7,2366.0 Q498.9,2364.0 500.5,2364.7 Q502.0,2365.5 502.3,2367.5 Q502.5,2369.5 501.3,2371.0 Q500.0,2372.6 498.8,2373.2 Q497.6,2373.8 496.1,2374.5Z M495.2,2381.8 Q494.4,2383.7 493.7,2383.0 Q493.0,2382.3 492.4,2381.1 Q491.8,2380.0 491.7,2378.0 Q491.6,2376.1 492.9,2375.0 Q494.2,2373.9 494.6,2372.9 Q495.0,2371.9 495.7,2370.3 Q496.3,2368.7 497.5,2367.5 Q498.7,2366.3 499.4,2367.6 Q500.2,2368.9 499.4,2371.5 Q498.7,2374.2 498.9,2375.8 Q499.2,2377.3 499.0,2380.0 Q498.8,2382.6 497.4,2381.2 Q496.1,2379.8 495.2,2381.8Z M490.4,2389.2 Q489.4,2389.7 488.5,2389.0 Q487.6,2388.3 488.1,2386.6 Q488.6,2384.9 489.3,2383.5 Q489.9,2382.1 490.7,2382.7 Q491.4,2383.3 492.2,2383.4 Q493.0,2383.5 492.6,2384.7 Q492.2,2386.0 491.8,2387.4 Q491.4,2388.7 490.4,2389.2Z M487.9,2389.7 Q487.7,2390.2 487.4,2390.8 Q487.1,2391.3 485.7,2390.8 Q484.4,2390.2 483.3,2389.0 Q482.3,2387.8 482.3,2387.0 Q482.3,2386.1 483.5,2386.6 Q484.7,2387.1 485.4,2387.5 Q486.2,2387.8 487.1,2388.5 Q488.0,2389.2 487.9,2389.7Z M488.2,2394.6 Q487.1,2397.5 487.4,2394.8 Q487.8,2392.2 487.7,2391.2 Q487.7,2390.3 487.1,2389.2 Q486.6,2388.1 487.8,2387.0 Q489.0,2385.9 489.4,2384.4 Q489.9,2382.9 490.7,2381.0 Q491.6,2379.1 492.6,2378.6 Q493.6,2378.1 493.0,2380.9 Q492.4,2383.8 492.2,2385.1 Q492.0,2386.4 492.4,2388.2 Q492.7,2390.0 491.8,2392.2 Q490.9,2394.5 490.2,2393.1 Q489.4,2391.6 488.2,2394.6Z M516.3,2379.2 Q518.6,2381.3 516.9,2381.2 Q515.1,2381.2 513.2,2380.8 Q511.4,2380.4 509.1,2379.6 Q506.9,2378.7 506.3,2377.1 Q505.7,2375.4 501.8,2373.4 Q497.9,2371.3 500.0,2371.2 Q502.2,2371.1 502.1,2369.8 Q501.9,2368.5 503.8,2368.5 Q505.7,2368.5 508.1,2370.7 Q510.4,2373.0 511.8,2374.1 Q513.2,2375.3 513.6,2376.2 Q514.0,2377.1 516.3,2379.2Z M491.0,2394.3 Q490.8,2394.8 490.2,2395.0 Q489.6,2395.3 488.2,2394.8 Q486.7,2394.3 485.3,2393.6 Q483.8,2392.9 481.8,2391.9 Q479.8,2391.0 479.2,2390.0 Q478.5,2389.0 479.2,2388.8 Q480.0,2388.6 481.1,2389.0 Q482.2,2389.3 482.2,2388.6 Q482.3,2387.8 483.8,2388.9 Q485.4,2390.1 487.3,2390.8 Q489.3,2391.6 490.2,2392.7 Q491.2,2393.7 491.0,2394.3Z M474.7,2407.3 Q474.4,2407.0 474.1,2406.6 Q473.9,2406.3 474.0,2405.3 Q474.1,2404.3 473.9,2403.3 Q473.6,2402.4 474.0,2400.4 Q474.4,2398.3 475.1,2398.0 Q475.9,2397.7 476.1,2398.5 Q476.4,2399.3 477.2,2398.3 Q478.0,2397.3 477.9,2398.8 Q477.9,2400.2 477.7,2401.8 Q477.6,2403.4 476.9,2405.0 Q476.3,2406.6 475.7,2407.1 Q475.1,2407.6 474.7,2407.3Z M509.3,2391.7 Q509.4,2393.0 509.2,2394.3 Q508.9,2395.7 506.7,2395.1 Q504.5,2394.6 502.3,2391.6 Q500.0,2388.7 498.4,2387.3 Q496.9,2385.9 496.2,2384.6 Q495.5,2383.3 495.6,2382.4 Q495.6,2381.6 494.9,2379.9 Q494.2,2378.2 495.0,2377.3 Q495.8,2376.4 498.3,2377.8 Q500.8,2379.2 502.4,2381.7 Q504.0,2384.2 506.4,2385.9 Q508.8,2387.5 509.0,2389.0 Q509.1,2390.4 509.3,2391.7Z M490.7,2399.0 Q489.9,2399.2 489.5,2399.5 Q489.1,2399.7 488.2,2399.2 Q487.4,2398.7 486.6,2397.7 Q485.9,2396.8 485.6,2395.6 Q485.3,2394.4 486.4,2394.5 Q487.5,2394.6 488.4,2395.7 Q489.3,2396.9 490.4,2397.8 Q491.5,2398.8 490.7,2399.0Z M495.8,2393.9 Q496.1,2394.8 495.3,2394.5 Q494.5,2394.1 493.8,2394.2 Q493.2,2394.3 492.5,2393.7 Q491.7,2393.0 492.1,2392.2 Q492.4,2391.4 491.9,2390.7 Q491.4,2390.0 491.7,2389.5 Q491.9,2389.0 492.3,2388.8 Q492.8,2388.6 493.5,2389.0 Q494.1,2389.4 494.3,2390.2 Q494.5,2391.0 495.3,2391.4 Q496.0,2391.9 495.8,2392.4 Q495.6,2392.9 495.8,2393.9Z M486.4,2408.2 Q486.6,2410.0 484.8,2409.7 Q483.0,2409.5 480.9,2408.7 Q478.9,2408.0 476.4,2405.7 Q474.0,2403.4 473.6,2401.1 Q473.2,2398.8 474.4,2397.8 Q475.6,2396.8 478.0,2398.3 Q480.3,2399.8 481.6,2401.5 Q482.8,2403.1 484.5,2404.8 Q486.2,2406.4 486.4,2408.2Z M506.9,2395.3 Q506.0,2396.0 504.9,2395.7 Q503.9,2395.4 503.4,2393.5 Q503.0,2391.6 503.3,2390.6 Q503.7,2389.7 503.8,2388.5 Q503.9,2387.3 504.8,2387.6 Q505.6,2388.0 505.9,2389.4 Q506.3,2390.8 507.0,2392.6 Q507.7,2394.5 506.9,2395.3Z M506.5,2403.9 Q504.1,2404.0 502.2,2403.4 Q500.4,2402.8 498.4,2402.4 Q496.4,2402.0 492.2,2399.1 Q488.1,2396.2 489.4,2395.0 Q490.8,2393.8 490.7,2392.4 Q490.5,2391.0 493.1,2392.6 Q495.7,2394.2 499.1,2395.2 Q502.5,2396.2 505.7,2400.0 Q508.9,2403.8 506.5,2403.9Z M492.2,2409.1 Q492.8,2410.0 492.8,2411.2 Q492.8,2412.4 491.0,2413.1 Q489.2,2413.8 487.5,2413.4 Q485.7,2413.0 484.8,2412.6 Q483.8,2412.1 483.5,2411.4 Q483.2,2410.8 481.7,2409.6 Q480.2,2408.4 482.5,2407.9 Q484.8,2407.4 486.3,2407.9 Q487.9,2408.4 489.7,2408.3 Q491.5,2408.1 492.2,2409.1Z M508.6,2398.1 Q507.4,2398.0 506.9,2396.5 Q506.3,2395.1 506.0,2394.3 Q505.7,2393.6 504.6,2392.0 Q503.5,2390.5 504.9,2390.3 Q506.3,2390.1 506.9,2389.1 Q507.4,2388.0 508.0,2389.0 Q508.5,2390.0 509.3,2390.6 Q510.0,2391.2 510.4,2392.9 Q510.8,2394.5 510.3,2396.4 Q509.8,2398.2 508.6,2398.1Z M496.2,2408.4 Q497.0,2409.1 495.9,2409.1 Q494.7,2409.1 494.4,2410.0 Q494.0,2410.9 492.7,2410.4 Q491.3,2409.9 491.1,2409.0 Q490.9,2408.1 490.3,2407.5 Q489.6,2407.0 489.3,2406.2 Q489.0,2405.4 489.7,2404.9 Q490.5,2404.4 491.8,2404.9 Q493.1,2405.3 494.7,2405.5 Q496.2,2405.6 495.8,2406.6 Q495.4,2407.6 496.2,2408.4Z M508.9,2395.7 Q507.4,2395.4 506.4,2394.9 Q505.5,2394.4 504.3,2392.6 Q503.0,2390.8 502.8,2387.0 Q502.5,2383.2 504.4,2383.5 Q506.3,2383.8 507.6,2384.4 Q508.9,2385.1 510.0,2387.5 Q511.2,2390.0 510.8,2392.9 Q510.3,2395.9 508.9,2395.7Z M495.0,2411.6 Q495.0,2412.0 494.7,2412.3 Q494.4,2412.5 493.8,2412.5 Q493.2,2412.4 492.4,2412.5 Q491.7,2412.5 491.4,2412.0 Q491.2,2411.4 490.8,2411.1 Q490.4,2410.7 489.9,2410.1 Q489.4,2409.5 490.3,2409.4 Q491.2,2409.4 492.0,2409.1 Q492.8,2408.8 493.6,2409.5 Q494.5,2410.2 494.8,2410.7 Q495.1,2411.2 495.0,2411.6Z M518.1,2399.9 Q516.9,2399.8 515.7,2398.5 Q514.5,2397.2 513.3,2396.8 Q512.2,2396.5 511.1,2393.8 Q510.1,2391.2 509.2,2388.7 Q508.3,2386.2 508.0,2383.7 Q507.6,2381.2 508.4,2380.4 Q509.2,2379.5 510.9,2381.3 Q512.6,2383.0 514.5,2385.3 Q516.3,2387.7 516.7,2390.7 Q517.1,2393.8 518.2,2396.9 Q519.3,2400.0 518.1,2399.9Z M499.2,2422.5 Q498.3,2422.7 497.6,2421.5 Q496.8,2420.4 495.6,2420.7 Q494.3,2421.0 494.5,2418.4 Q494.7,2415.8 493.9,2413.4 Q493.2,2411.1 493.8,2409.6 Q494.4,2408.0 495.2,2406.5 Q495.9,2405.0 497.2,2405.5 Q498.4,2406.0 499.2,2408.2 Q500.1,2410.4 500.9,2412.6 Q501.8,2414.8 502.0,2417.6 Q502.1,2420.3 501.1,2421.3 Q500.1,2422.2 499.2,2422.5Z M511.3,2411.4 Q511.5,2412.3 510.2,2411.5 Q509.0,2410.7 508.4,2410.9 Q507.9,2411.1 506.5,2410.0 Q505.2,2408.8 504.9,2407.7 Q504.5,2406.6 503.4,2405.3 Q502.2,2404.0 502.8,2403.9 Q503.3,2403.8 503.9,2403.9 Q504.5,2404.1 505.2,2404.4 Q505.9,2404.7 506.8,2405.5 Q507.7,2406.3 508.7,2407.3 Q509.7,2408.3 510.4,2409.4 Q511.0,2410.5 511.3,2411.4Z M519.5,2392.0 Q520.5,2393.6 518.6,2394.7 Q516.7,2395.8 515.3,2397.6 Q514.0,2399.4 511.4,2398.7 Q508.8,2398.0 506.7,2396.7 Q504.6,2395.4 507.4,2394.2 Q510.3,2392.9 511.7,2392.4 Q513.1,2391.8 515.9,2391.1 Q518.6,2390.3 519.5,2392.0Z M502.1,2426.8 Q503.3,2427.9 502.1,2428.1 Q501.0,2428.2 499.8,2428.5 Q498.7,2428.7 497.3,2427.6 Q495.9,2426.4 493.9,2425.8 Q491.8,2425.2 490.4,2423.8 Q489.0,2422.4 489.5,2421.5 Q490.0,2420.5 492.2,2421.1 Q494.5,2421.7 496.1,2421.1 Q497.7,2420.5 499.6,2422.1 Q501.5,2423.7 501.2,2424.7 Q501.0,2425.7 502.1,2426.8Z M493.9,2435.0 Q492.9,2436.5 491.7,2435.4 Q490.5,2434.4 490.2,2430.7 Q489.8,2427.0 489.5,2423.3 Q489.1,2419.6 490.1,2417.8 Q491.1,2416.0 492.4,2417.5 Q493.7,2418.9 494.6,2422.7 Q495.4,2426.5 495.1,2430.1 Q494.8,2433.6 493.9,2435.0Z M510.8,2413.7 Q511.3,2414.3 511.4,2415.0 Q511.4,2415.7 510.2,2415.4 Q508.9,2415.1 508.1,2414.3 Q507.2,2413.6 507.0,2413.1 Q506.8,2412.7 505.6,2411.8 Q504.3,2410.9 505.1,2410.7 Q505.9,2410.6 507.0,2410.7 Q508.1,2410.9 509.1,2411.5 Q510.1,2412.1 510.2,2412.6 Q510.2,2413.2 510.8,2413.7Z M518.1,2404.7 Q517.4,2407.1 515.9,2407.2 Q514.3,2407.3 514.1,2403.0 Q513.8,2398.6 514.0,2396.2 Q514.2,2393.7 514.6,2391.6 Q515.0,2389.4 516.2,2386.9 Q517.3,2384.4 517.8,2389.2 Q518.2,2394.0 518.7,2395.9 Q519.1,2397.9 518.9,2400.1 Q518.7,2402.3 518.1,2404.7Z M528.6,2397.7 Q529.5,2398.5 527.6,2398.6 Q525.8,2398.7 524.4,2398.5 Q523.1,2398.3 522.1,2398.3 Q521.1,2398.2 518.9,2398.3 Q516.6,2398.4 517.1,2397.6 Q517.6,2396.7 516.5,2396.1 Q515.3,2395.5 514.7,2394.6 Q514.1,2393.6 516.1,2393.7 Q518.1,2393.7 519.9,2394.4 Q521.8,2395.2 523.2,2395.4 Q524.7,2395.7 526.1,2396.3 Q527.6,2396.9 528.6,2397.7Z M507.8,2420.2 Q507.9,2421.0 506.9,2421.1 Q506.0,2421.3 504.8,2420.9 Q503.7,2420.5 502.7,2421.2 Q501.8,2421.8 501.4,2420.5 Q501.0,2419.2 498.9,2418.7 Q496.8,2418.3 497.4,2417.6 Q498.0,2416.9 497.9,2416.1 Q497.7,2415.3 498.2,2414.7 Q498.7,2414.0 500.3,2414.5 Q501.8,2415.0 502.6,2416.1 Q503.5,2417.2 505.4,2417.4 Q507.3,2417.5 507.5,2418.4 Q507.6,2419.4 507.8,2420.2Z M521.4,2413.4 Q520.5,2413.5 520.1,2414.2 Q519.7,2415.0 518.7,2414.4 Q517.7,2413.8 516.7,2412.8 Q515.8,2411.8 515.3,2410.6 Q514.9,2409.4 515.3,2408.9 Q515.8,2408.3 515.8,2407.7 Q515.9,2407.0 516.2,2406.3 Q516.6,2405.6 517.5,2406.8 Q518.4,2408.0 519.2,2408.4 Q520.1,2408.7 520.8,2409.8 Q521.5,2410.9 521.9,2412.2 Q522.3,2413.4 521.4,2413.4Z M523.0,2399.1 Q523.2,2399.9 522.4,2399.9 Q521.6,2399.9 520.8,2399.7 Q520.1,2399.5 519.9,2398.8 Q519.7,2398.1 519.0,2397.4 Q518.3,2396.6 519.1,2396.7 Q520.0,2396.7 520.4,2396.4 Q520.8,2396.0 521.6,2396.3 Q522.5,2396.7 522.7,2397.5 Q522.9,2398.3 523.0,2399.1Z M515.6,2433.7 Q515.2,2434.8 513.5,2434.7 Q511.9,2434.6 509.3,2433.3 Q506.8,2432.1 504.0,2430.1 Q501.1,2428.0 500.8,2426.5 Q500.4,2425.0 498.5,2422.8 Q496.6,2420.5 499.3,2421.7 Q501.9,2422.9 503.7,2424.1 Q505.5,2425.3 507.5,2426.4 Q509.5,2427.4 512.8,2430.0 Q516.1,2432.5 515.6,2433.7Z M504.2,2434.1 Q505.0,2435.7 503.4,2435.1 Q501.9,2434.6 500.7,2434.6 Q499.5,2434.6 498.8,2433.3 Q498.1,2432.1 498.3,2431.3 Q498.6,2430.4 499.0,2429.9 Q499.4,2429.4 500.3,2428.4 Q501.1,2427.3 502.8,2428.5 Q504.5,2429.7 504.0,2431.1 Q503.4,2432.5 504.2,2434.1Z M511.6,2421.5 Q511.0,2420.3 510.1,2421.1 Q509.2,2421.9 508.8,2421.0 Q508.3,2420.1 508.7,2418.8 Q509.0,2417.6 509.4,2416.7 Q509.8,2415.8 510.2,2414.7 Q510.7,2413.5 511.5,2413.2 Q512.3,2412.8 512.5,2414.4 Q512.6,2416.0 512.9,2416.4 Q513.3,2416.8 513.5,2417.6 Q513.6,2418.4 513.6,2419.6 Q513.5,2420.8 512.9,2421.8 Q512.2,2422.7 511.6,2421.5Z M524.7,2415.1 Q524.3,2416.7 523.1,2415.1 Q521.8,2413.5 521.0,2412.4 Q520.3,2411.3 519.2,2410.0 Q518.1,2408.6 517.2,2406.1 Q516.4,2403.6 517.3,2402.6 Q518.3,2401.7 519.5,2402.4 Q520.6,2403.2 521.6,2403.6 Q522.5,2404.0 522.9,2405.6 Q523.4,2407.3 524.7,2409.0 Q526.0,2410.7 525.5,2412.1 Q525.1,2413.5 524.7,2415.1Z M525.7,2410.7 Q527.4,2411.3 526.1,2411.8 Q524.8,2412.2 522.7,2412.2 Q520.6,2412.1 517.9,2411.9 Q515.3,2411.6 514.6,2410.8 Q514.0,2410.0 514.8,2409.3 Q515.6,2408.7 518.2,2409.2 Q520.8,2409.8 522.4,2409.9 Q524.0,2410.1 525.7,2410.7Z M521.4,2425.7 Q521.5,2426.8 520.7,2427.4 Q519.8,2428.0 517.1,2428.1 Q514.4,2428.3 511.8,2426.0 Q509.1,2423.8 506.6,2421.2 Q504.2,2418.5 508.7,2419.8 Q513.3,2421.0 515.8,2420.6 Q518.3,2420.2 519.8,2422.4 Q521.3,2424.6 521.4,2425.7Z M527.6,2417.1 Q526.2,2417.7 526.5,2419.2 Q526.9,2420.7 525.1,2420.2 Q523.4,2419.7 521.8,2419.9 Q520.2,2420.1 518.4,2419.1 Q516.6,2418.1 516.4,2416.7 Q516.2,2415.2 517.1,2414.4 Q518.0,2413.7 517.5,2412.0 Q517.1,2410.3 519.1,2410.8 Q521.1,2411.4 522.2,2412.5 Q523.4,2413.6 525.5,2413.6 Q527.5,2413.7 528.2,2415.1 Q529.0,2416.5 527.6,2417.1Z M520.1,2422.9 Q519.4,2422.2 518.9,2422.4 Q518.4,2422.7 518.3,2421.5 Q518.2,2420.2 517.6,2419.3 Q517.0,2418.4 517.3,2417.2 Q517.6,2416.1 518.2,2415.8 Q518.7,2415.5 519.1,2415.9 Q519.5,2416.3 520.2,2415.8 Q521.0,2415.4 520.7,2417.0 Q520.4,2418.6 520.3,2419.3 Q520.2,2419.9 520.5,2421.8 Q520.8,2423.7 520.1,2422.9Z M528.6,2422.1 Q528.1,2423.0 528.4,2423.8 Q528.7,2424.6 526.9,2425.1 Q525.2,2425.6 523.6,2425.8 Q522.1,2426.1 520.0,2426.9 Q517.9,2427.8 516.1,2427.2 Q514.3,2426.7 512.7,2426.0 Q511.2,2425.3 511.5,2424.3 Q511.8,2423.3 514.4,2422.8 Q516.9,2422.3 516.9,2420.9 Q516.9,2419.5 519.4,2420.0 Q521.8,2420.5 523.7,2420.5 Q525.6,2420.4 527.4,2420.8 Q529.2,2421.2 528.6,2422.1Z M522.1,2432.8 Q522.1,2433.5 521.6,2434.1 Q521.2,2434.8 520.1,2435.9 Q519.0,2437.1 515.6,2437.1 Q512.2,2437.1 511.2,2435.9 Q510.3,2434.8 511.3,2434.0 Q512.3,2433.2 512.1,2431.9 Q512.0,2430.6 515.0,2431.3 Q517.9,2432.0 520.1,2432.0 Q522.2,2432.0 522.1,2432.8Z M528.4,2418.0 Q527.8,2418.6 527.0,2418.8 Q526.2,2419.0 525.1,2418.1 Q524.0,2417.2 523.4,2415.4 Q522.8,2413.6 523.6,2412.8 Q524.4,2411.9 525.6,2411.4 Q526.8,2411.0 528.4,2412.5 Q530.0,2414.1 529.5,2415.8 Q529.0,2417.5 528.4,2418.0Z M542.4,2405.4 Q541.9,2406.3 541.3,2406.9 Q540.8,2407.5 539.8,2407.6 Q538.9,2407.6 538.0,2408.4 Q537.1,2409.1 535.9,2408.6 Q534.8,2408.0 533.4,2407.3 Q532.1,2406.7 533.3,2405.8 Q534.6,2404.9 535.0,2404.5 Q535.5,2404.1 535.6,2403.0 Q535.8,2402.0 537.0,2402.9 Q538.1,2403.7 538.8,2403.9 Q539.5,2404.1 541.3,2404.3 Q543.0,2404.5 542.4,2405.4Z M545.1,2417.3 Q547.0,2420.4 545.4,2420.1 Q543.7,2419.7 541.2,2416.6 Q538.7,2413.5 536.7,2413.2 Q534.8,2412.8 533.8,2410.6 Q532.7,2408.3 530.5,2405.4 Q528.2,2402.5 529.6,2402.4 Q530.9,2402.3 531.6,2401.4 Q532.2,2400.6 534.6,2403.2 Q536.9,2405.8 538.8,2406.7 Q540.7,2407.6 542.5,2410.0 Q544.2,2412.3 543.7,2413.3 Q543.1,2414.2 545.1,2417.3Z M543.0,2405.7 Q542.6,2406.3 542.9,2407.7 Q543.1,2409.1 541.7,2409.1 Q540.3,2409.1 538.7,2409.1 Q537.0,2409.1 535.6,2407.9 Q534.1,2406.6 534.4,2405.2 Q534.6,2403.8 535.2,2403.0 Q535.9,2402.3 536.1,2401.1 Q536.3,2400.0 537.9,2401.0 Q539.4,2402.0 540.9,2401.1 Q542.3,2400.3 544.1,2401.3 Q545.8,2402.4 544.6,2403.7 Q543.4,2405.1 543.0,2405.7Z M544.0,2417.7 Q544.1,2419.4 542.3,2419.8 Q540.5,2420.2 539.0,2420.8 Q537.5,2421.4 536.4,2420.1 Q535.2,2418.7 534.5,2417.6 Q533.7,2416.5 533.9,2415.2 Q534.0,2413.9 535.4,2413.0 Q536.8,2412.1 538.1,2413.6 Q539.5,2415.2 541.7,2415.6 Q543.9,2416.0 544.0,2417.7Z M519.9,2447.7 Q518.7,2448.6 517.0,2448.4 Q515.2,2448.1 515.6,2445.5 Q515.9,2442.9 516.8,2441.8 Q517.7,2440.8 518.6,2439.6 Q519.5,2438.3 520.7,2439.0 Q521.9,2439.7 521.6,2441.5 Q521.3,2443.3 521.2,2445.0 Q521.1,2446.7 519.9,2447.7Z M531.4,2435.5 Q532.5,2436.2 531.9,2436.7 Q531.4,2437.1 530.4,2437.2 Q529.4,2437.4 528.2,2436.9 Q526.9,2436.3 525.9,2435.7 Q524.9,2435.1 524.4,2434.3 Q523.9,2433.6 524.8,2433.4 Q525.6,2433.1 525.7,2432.4 Q525.9,2431.7 527.1,2432.2 Q528.4,2432.7 529.3,2433.2 Q530.2,2433.7 530.2,2434.2 Q530.2,2434.7 531.4,2435.5Z M534.6,2435.2 Q533.5,2436.9 532.2,2436.5 Q531.0,2436.2 531.7,2432.2 Q532.4,2428.2 530.9,2427.1 Q529.4,2426.1 530.5,2423.9 Q531.6,2421.6 532.6,2421.2 Q533.6,2420.7 534.3,2416.8 Q534.9,2413.0 535.6,2415.5 Q536.4,2418.0 537.9,2417.0 Q539.5,2415.9 538.5,2419.6 Q537.4,2423.3 537.6,2424.9 Q537.8,2426.4 537.9,2429.1 Q537.9,2431.7 536.8,2432.6 Q535.7,2433.5 534.6,2435.2Z M546.1,2425.6 Q546.0,2426.9 545.9,2428.1 Q545.8,2429.4 542.6,2429.4 Q539.3,2429.4 537.1,2428.9 Q534.9,2428.4 530.7,2428.9 Q526.5,2429.3 527.4,2427.8 Q528.3,2426.2 525.2,2424.7 Q522.1,2423.1 525.3,2422.5 Q528.6,2421.8 531.8,2422.0 Q535.0,2422.1 537.5,2422.6 Q540.1,2423.1 543.2,2423.7 Q546.3,2424.3 546.1,2425.6Z M539.8,2429.4 Q538.5,2430.5 536.9,2429.6 Q535.4,2428.7 535.1,2426.1 Q534.8,2423.6 534.0,2422.4 Q533.2,2421.1 533.3,2419.5 Q533.4,2417.8 534.5,2417.8 Q535.5,2417.8 536.6,2416.2 Q537.8,2414.7 538.9,2416.8 Q540.0,2418.9 539.8,2420.9 Q539.6,2422.9 540.3,2425.6 Q541.1,2428.2 539.8,2429.4Z M536.9,2437.4 Q536.0,2437.1 535.5,2437.0 Q535.1,2436.8 534.5,2436.7 Q533.8,2436.6 534.0,2435.8 Q534.2,2435.0 534.0,2434.3 Q533.8,2433.7 534.1,2433.2 Q534.4,2432.7 534.9,2432.5 Q535.4,2432.4 536.0,2432.5 Q536.6,2432.6 536.7,2433.4 Q536.8,2434.3 537.0,2434.9 Q537.2,2435.5 537.5,2436.6 Q537.8,2437.8 536.9,2437.4Z M539.6,2428.8 Q539.0,2429.6 538.1,2429.6 Q537.2,2429.6 536.4,2430.1 Q535.5,2430.6 534.4,2429.9 Q533.4,2429.1 533.1,2428.0 Q532.9,2426.9 532.9,2425.9 Q532.9,2424.8 534.0,2424.7 Q535.1,2424.5 536.1,2424.5 Q537.1,2424.6 538.0,2425.3 Q538.9,2426.1 539.5,2427.1 Q540.1,2428.1 539.6,2428.8Z M539.5,2438.7 Q538.5,2439.9 537.0,2438.9 Q535.4,2437.9 534.0,2437.0 Q532.6,2436.2 531.5,2433.9 Q530.4,2431.6 531.1,2430.0 Q531.8,2428.5 533.5,2429.8 Q535.2,2431.2 536.1,2432.3 Q537.1,2433.5 538.8,2435.6 Q540.5,2437.6 539.5,2438.7Z M541.6,2453.6 Q539.9,2453.4 538.8,2453.2 Q537.7,2452.9 537.5,2454.1 Q537.3,2455.3 535.5,2453.6 Q533.8,2451.9 532.6,2450.9 Q531.3,2449.9 530.7,2448.9 Q530.1,2447.9 529.7,2447.0 Q529.2,2446.1 528.1,2444.3 Q526.9,2442.5 528.5,2442.7 Q530.1,2443.0 532.2,2445.1 Q534.3,2447.1 535.9,2447.3 Q537.5,2447.5 538.3,2448.8 Q539.2,2450.2 541.3,2452.0 Q543.4,2453.7 541.6,2453.6Z M555.0,2422.2 Q554.2,2422.8 554.2,2423.3 Q554.2,2423.8 553.5,2424.3 Q552.8,2424.9 550.6,2425.3 Q548.4,2425.8 545.3,2425.4 Q542.2,2425.0 543.1,2423.9 Q544.0,2422.8 540.2,2422.0 Q536.4,2421.3 538.0,2420.7 Q539.5,2420.0 542.8,2420.3 Q546.0,2420.7 547.5,2420.3 Q548.9,2419.9 551.9,2419.8 Q554.9,2419.7 555.3,2420.7 Q555.8,2421.7 555.0,2422.2Z M544.9,2438.7 Q545.7,2439.6 544.2,2439.6 Q542.8,2439.5 542.0,2439.7 Q541.1,2439.9 539.9,2439.4 Q538.7,2438.8 538.6,2438.2 Q538.5,2437.5 538.4,2437.1 Q538.4,2436.8 538.4,2436.3 Q538.4,2435.8 539.1,2435.2 Q539.8,2434.5 541.4,2435.3 Q543.0,2436.0 543.5,2436.9 Q544.1,2437.8 544.9,2438.7Z M542.3,2454.7 Q542.4,2456.7 540.5,2454.5 Q538.6,2452.3 537.4,2452.9 Q536.3,2453.6 535.3,2451.7 Q534.3,2449.9 533.9,2448.3 Q533.4,2446.6 533.1,2444.7 Q532.8,2442.7 534.1,2442.7 Q535.4,2442.7 536.7,2443.5 Q538.0,2444.3 539.4,2445.2 Q540.7,2446.1 540.6,2447.7 Q540.5,2449.4 541.3,2451.0 Q542.2,2452.6 542.3,2454.7Z M543.0,2442.5 Q543.4,2443.2 543.1,2444.1 Q542.7,2444.9 540.4,2446.3 Q538.1,2447.6 535.6,2447.2 Q533.1,2446.8 532.2,2446.3 Q531.3,2445.8 531.5,2444.9 Q531.6,2444.0 534.2,2442.7 Q536.8,2441.3 539.6,2441.5 Q542.5,2441.7 543.0,2442.5Z M556.1,2426.2 Q556.6,2428.6 555.0,2426.1 Q553.4,2423.7 552.7,2424.2 Q552.0,2424.7 550.6,2423.0 Q549.1,2421.2 549.4,2419.2 Q549.7,2417.1 548.3,2414.8 Q547.0,2412.4 547.4,2411.6 Q547.9,2410.9 548.3,2410.2 Q548.7,2409.5 549.8,2410.7 Q550.8,2411.9 552.1,2412.2 Q553.4,2412.4 553.7,2415.3 Q553.9,2418.2 554.5,2419.6 Q555.0,2421.1 555.3,2422.4 Q555.5,2423.8 556.1,2426.2Z M553.5,2434.3 Q554.3,2436.1 552.8,2437.3 Q551.3,2438.6 548.8,2437.4 Q546.4,2436.3 545.2,2435.0 Q544.0,2433.7 543.7,2432.4 Q543.4,2431.1 544.0,2429.7 Q544.6,2428.2 547.2,2428.5 Q549.8,2428.8 551.3,2430.7 Q552.8,2432.5 553.5,2434.3Z M558.7,2422.2 Q559.1,2422.9 558.7,2423.6 Q558.3,2424.3 557.1,2424.7 Q556.0,2425.1 554.1,2426.1 Q552.2,2427.0 550.1,2426.3 Q547.9,2425.7 549.2,2424.3 Q550.5,2422.9 549.2,2421.6 Q547.9,2420.2 550.0,2419.4 Q552.1,2418.6 554.0,2419.7 Q555.9,2420.8 557.0,2421.1 Q558.2,2421.4 558.7,2422.2Z M550.8,2433.9 Q550.2,2435.0 549.1,2434.1 Q547.9,2433.3 546.8,2433.1 Q545.6,2432.8 546.0,2431.7 Q546.3,2430.5 546.5,2429.8 Q546.7,2429.0 547.4,2429.4 Q548.2,2429.7 549.3,2429.8 Q550.4,2429.9 550.9,2431.4 Q551.4,2432.9 550.8,2433.9Z M560.9,2426.6 Q562.0,2427.6 560.8,2428.3 Q559.6,2429.1 558.6,2429.9 Q557.5,2430.6 555.5,2431.1 Q553.6,2431.5 552.6,2430.0 Q551.6,2428.5 549.4,2428.2 Q547.1,2427.9 548.9,2427.0 Q550.6,2426.2 549.2,2425.0 Q547.8,2423.7 549.0,2422.9 Q550.3,2422.0 552.5,2421.9 Q554.7,2421.9 556.8,2422.6 Q558.8,2423.2 559.3,2424.4 Q559.8,2425.6 560.9,2426.6Z M572.2,2415.7 Q572.2,2417.1 572.3,2418.6 Q572.5,2420.1 567.1,2420.1 Q561.8,2420.1 557.6,2420.1 Q553.3,2420.1 550.2,2419.1 Q547.1,2418.2 547.2,2416.9 Q547.3,2415.6 550.7,2414.8 Q554.0,2414.1 557.9,2414.0 Q561.8,2414.0 567.0,2414.1 Q572.2,2414.2 572.2,2415.7Z M556.7,2446.8 Q558.3,2447.4 557.3,2448.4 Q556.3,2449.3 554.2,2449.8 Q552.2,2450.3 550.7,2449.5 Q549.3,2448.8 549.4,2448.1 Q549.6,2447.5 549.0,2446.7 Q548.4,2445.8 550.3,2445.5 Q552.1,2445.1 553.6,2445.6 Q555.1,2446.1 556.7,2446.8Z M559.2,2437.6 Q559.8,2438.6 560.1,2439.7 Q560.4,2440.9 557.6,2443.3 Q554.8,2445.7 551.1,2445.7 Q547.3,2445.6 542.3,2447.4 Q537.3,2449.2 537.3,2447.6 Q537.3,2446.1 541.1,2444.0 Q545.0,2442.0 548.1,2439.9 Q551.1,2437.8 554.9,2437.2 Q558.6,2436.6 559.2,2437.6Z M564.1,2432.9 Q564.4,2433.8 563.4,2434.4 Q562.4,2435.1 562.0,2436.4 Q561.6,2437.6 559.9,2436.6 Q558.2,2435.7 556.0,2436.0 Q553.9,2436.3 553.0,2435.4 Q552.1,2434.4 553.4,2433.6 Q554.6,2432.7 556.3,2432.6 Q558.0,2432.6 559.1,2432.4 Q560.1,2432.1 561.9,2432.1 Q563.7,2432.0 564.1,2432.9Z M560.9,2443.1 Q560.7,2444.1 560.5,2445.1 Q560.3,2446.1 558.3,2446.1 Q556.4,2446.1 555.2,2445.3 Q554.0,2444.4 551.8,2444.3 Q549.5,2444.2 548.6,2443.0 Q547.6,2441.8 548.7,2440.9 Q549.8,2440.0 552.1,2440.6 Q554.4,2441.3 555.8,2441.1 Q557.2,2441.0 559.2,2441.5 Q561.2,2442.1 560.9,2443.1Z M577.2,2413.5 Q577.5,2414.7 576.7,2415.8 Q576.0,2417.0 573.3,2418.5 Q570.6,2419.9 566.1,2420.0 Q561.6,2420.0 559.1,2419.3 Q556.5,2418.5 556.1,2417.3 Q555.6,2416.1 558.3,2414.8 Q560.9,2413.5 565.0,2412.9 Q569.1,2412.2 573.0,2412.3 Q576.9,2412.3 577.2,2413.5Z M566.7,2432.0 Q566.5,2432.7 566.6,2433.5 Q566.7,2434.3 565.4,2434.0 Q564.2,2433.7 563.2,2434.4 Q562.1,2435.1 561.8,2434.2 Q561.4,2433.3 561.6,2432.7 Q561.7,2432.2 561.7,2431.6 Q561.7,2431.0 562.4,2430.7 Q563.1,2430.5 564.0,2430.6 Q564.8,2430.7 565.8,2430.9 Q566.8,2431.2 566.7,2432.0Z M572.5,2417.0 Q573.2,2417.5 573.2,2418.0 Q573.1,2418.6 572.0,2418.2 Q570.8,2417.9 570.0,2418.0 Q569.2,2418.1 568.5,2417.6 Q567.8,2417.2 566.9,2416.6 Q566.0,2416.0 566.9,2415.8 Q567.7,2415.5 568.2,2415.4 Q568.7,2415.2 569.4,2415.1 Q570.1,2415.0 571.1,2415.2 Q572.1,2415.4 572.0,2416.0 Q571.8,2416.6 572.5,2417.0Z M566.9,2436.9 Q566.2,2437.8 565.2,2437.9 Q564.2,2437.9 563.7,2435.4 Q563.2,2432.9 563.3,2430.1 Q563.4,2427.3 564.3,2426.2 Q565.2,2425.2 566.0,2425.9 Q566.7,2426.5 567.0,2428.0 Q567.3,2429.5 568.4,2431.2 Q569.5,2433.0 568.5,2434.5 Q567.5,2435.9 566.9,2436.9Z M580.2,2414.4 Q582.0,2415.5 579.8,2417.0 Q577.7,2418.6 575.4,2420.3 Q573.2,2422.1 570.1,2421.6 Q567.0,2421.2 565.2,2420.3 Q563.3,2419.5 565.4,2418.0 Q567.4,2416.6 569.5,2415.5 Q571.5,2414.3 574.9,2413.8 Q578.4,2413.3 580.2,2414.4Z M569.6,2452.1 Q573.6,2454.3 571.5,2454.5 Q569.4,2454.7 566.5,2453.9 Q563.7,2453.2 561.3,2453.3 Q559.0,2453.5 556.5,2451.7 Q554.0,2449.9 551.7,2448.6 Q549.5,2447.3 547.8,2445.9 Q546.1,2444.4 548.0,2444.2 Q549.8,2443.9 550.7,2443.4 Q551.6,2442.9 553.9,2443.2 Q556.2,2443.5 558.8,2444.6 Q561.5,2445.7 563.3,2447.0 Q565.0,2448.2 565.3,2449.1 Q565.7,2449.9 569.6,2452.1Z M574.5,2433.0 Q574.2,2434.0 573.5,2432.9 Q572.8,2431.8 572.4,2431.1 Q571.9,2430.3 571.8,2429.3 Q571.7,2428.3 571.8,2427.7 Q572.0,2427.0 572.0,2425.2 Q572.0,2423.4 572.7,2424.6 Q573.5,2425.8 574.1,2426.5 Q574.7,2427.2 575.4,2428.8 Q576.2,2430.3 575.5,2431.2 Q574.9,2432.0 574.5,2433.0Z M580.9,2423.2 Q582.2,2425.2 579.5,2426.0 Q576.8,2426.7 574.4,2426.1 Q572.0,2425.4 568.6,2425.4 Q565.3,2425.5 566.7,2424.0 Q568.0,2422.5 567.8,2421.0 Q567.6,2419.6 570.4,2419.1 Q573.3,2418.6 576.5,2419.9 Q579.7,2421.2 580.9,2423.2Z M584.9,2428.1 Q587.9,2428.2 588.2,2429.5 Q588.6,2430.9 584.7,2432.4 Q580.8,2433.9 578.0,2435.6 Q575.3,2437.2 571.2,2438.2 Q567.1,2439.2 563.9,2439.0 Q560.7,2438.8 562.8,2436.8 Q564.8,2434.7 562.2,2434.1 Q559.6,2433.4 564.2,2432.1 Q568.7,2430.8 570.9,2430.2 Q573.1,2429.6 576.6,2427.7 Q580.0,2425.7 581.0,2426.9 Q581.9,2428.1 584.9,2428.1Z M577.8,2431.9 Q577.7,2433.0 577.2,2433.8 Q576.8,2434.5 576.4,2435.4 Q576.0,2436.3 574.6,2436.6 Q573.3,2436.9 572.3,2436.6 Q571.3,2436.3 569.7,2436.1 Q568.2,2435.9 569.4,2434.8 Q570.7,2433.8 571.4,2433.0 Q572.0,2432.3 573.3,2431.6 Q574.5,2431.0 576.2,2430.8 Q577.9,2430.7 577.8,2431.9Z M570.0,2462.6 Q569.9,2463.7 570.0,2464.9 Q570.1,2466.2 568.6,2466.6 Q567.1,2467.0 565.8,2467.4 Q564.4,2467.8 563.5,2466.7 Q562.5,2465.7 561.2,2465.5 Q560.0,2465.3 560.0,2464.4 Q560.0,2463.5 558.7,2462.3 Q557.4,2461.2 559.3,2460.9 Q561.1,2460.6 561.7,2459.6 Q562.3,2458.5 563.6,2459.6 Q564.8,2460.7 566.6,2460.1 Q568.3,2459.5 569.3,2460.5 Q570.2,2461.5 570.0,2462.6Z M579.3,2431.8 Q578.5,2432.4 578.9,2433.0 Q579.4,2433.7 578.5,2434.0 Q577.5,2434.2 576.6,2434.4 Q575.6,2434.6 574.9,2434.0 Q574.2,2433.4 573.9,2433.0 Q573.6,2432.6 572.2,2432.3 Q570.9,2432.0 571.4,2431.5 Q571.9,2431.0 572.1,2430.4 Q572.3,2429.9 573.1,2429.5 Q574.0,2429.1 575.0,2429.7 Q576.0,2430.3 576.8,2430.5 Q577.6,2430.6 578.8,2430.9 Q580.0,2431.2 579.3,2431.8Z M582.4,2444.0 Q582.4,2445.4 581.4,2445.5 Q580.3,2445.7 578.8,2443.2 Q577.3,2440.8 576.1,2439.2 Q574.9,2437.7 574.1,2435.8 Q573.4,2433.9 574.5,2434.2 Q575.7,2434.5 576.8,2435.6 Q578.0,2436.7 579.0,2437.9 Q579.9,2439.0 581.2,2440.8 Q582.4,2442.7 582.4,2444.0Z M573.1,2465.6 Q572.9,2466.5 572.3,2466.5 Q571.7,2466.4 570.8,2466.7 Q569.9,2466.9 569.1,2464.3 Q568.4,2461.8 567.9,2459.8 Q567.4,2457.8 567.6,2456.7 Q567.8,2455.6 567.5,2453.6 Q567.2,2451.6 567.9,2451.2 Q568.5,2450.9 569.4,2451.8 Q570.4,2452.6 571.7,2453.3 Q573.0,2454.0 573.8,2457.0 Q574.5,2460.0 573.9,2461.3 Q573.3,2462.6 573.2,2463.6 Q573.2,2464.6 573.1,2465.6Z M577.9,2444.8 Q578.9,2444.9 578.5,2445.6 Q578.1,2446.4 577.3,2446.9 Q576.5,2447.5 576.0,2448.2 Q575.4,2448.9 573.9,2450.0 Q572.4,2451.1 572.2,2449.9 Q572.1,2448.7 570.4,2448.9 Q568.8,2449.1 569.4,2448.1 Q570.1,2447.1 570.0,2446.1 Q570.0,2445.1 571.7,2444.7 Q573.5,2444.3 574.8,2443.7 Q576.2,2443.1 576.5,2443.9 Q576.9,2444.8 577.9,2444.8Z M590.1,2429.4 Q591.4,2429.8 591.6,2430.8 Q591.9,2431.8 589.3,2432.1 Q586.7,2432.3 584.8,2432.9 Q582.9,2433.4 582.0,2432.8 Q581.1,2432.2 581.0,2431.5 Q580.9,2430.8 582.2,2430.2 Q583.6,2429.7 584.8,2429.3 Q586.1,2428.8 587.4,2429.0 Q588.7,2429.1 590.1,2429.4Z M575.7,2464.2 Q575.4,2464.9 574.9,2465.3 Q574.4,2465.7 574.1,2466.2 Q573.8,2466.7 573.1,2466.9 Q572.3,2467.1 571.4,2467.1 Q570.5,2467.2 570.5,2466.3 Q570.4,2465.5 569.5,2465.2 Q568.5,2464.9 569.3,2464.4 Q570.2,2464.0 569.5,2462.8 Q568.8,2461.7 570.0,2461.9 Q571.2,2462.0 572.0,2462.1 Q572.8,2462.3 573.7,2462.3 Q574.7,2462.4 575.3,2462.9 Q576.0,2463.5 575.7,2464.2Z M584.5,2452.9 Q586.6,2454.3 584.5,2454.7 Q582.4,2455.0 580.4,2455.0 Q578.4,2455.0 576.9,2454.0 Q575.3,2453.0 573.8,2452.1 Q572.3,2451.1 571.6,2449.7 Q570.9,2448.3 573.0,2447.9 Q575.1,2447.5 577.3,2448.9 Q579.4,2450.2 580.9,2450.8 Q582.4,2451.5 584.5,2452.9Z M588.5,2430.6 Q588.3,2431.3 587.8,2432.3 Q587.3,2433.3 586.8,2431.4 Q586.2,2429.5 585.8,2427.7 Q585.3,2425.9 585.7,2424.8 Q586.1,2423.7 586.3,2422.9 Q586.5,2422.0 586.9,2420.5 Q587.2,2419.0 587.7,2421.1 Q588.3,2423.2 589.1,2424.1 Q589.9,2425.0 590.0,2427.2 Q590.0,2429.3 589.4,2429.6 Q588.7,2429.9 588.5,2430.6Z M584.1,2452.7 Q584.1,2453.6 583.2,2453.4 Q582.3,2453.2 581.2,2453.1 Q580.1,2453.0 579.3,2451.6 Q578.4,2450.3 579.2,2449.9 Q580.1,2449.5 580.1,2448.8 Q580.2,2448.2 581.0,2448.1 Q581.7,2447.9 582.5,2448.9 Q583.3,2449.9 583.7,2450.9 Q584.1,2451.8 584.1,2452.7Z M582.8,2460.6 Q583.6,2461.8 583.2,2463.1 Q582.7,2464.4 580.4,2464.4 Q578.1,2464.4 575.8,2465.6 Q573.5,2466.8 573.6,2464.8 Q573.6,2462.8 571.0,2462.1 Q568.4,2461.3 570.6,2460.6 Q572.8,2459.9 573.4,2458.2 Q574.0,2456.5 576.1,2457.6 Q578.3,2458.8 580.2,2459.1 Q582.0,2459.5 582.8,2460.6Z M595.0,2433.1 Q595.0,2433.6 594.4,2433.6 Q593.8,2433.6 593.3,2434.1 Q592.9,2434.5 592.0,2433.8 Q591.1,2433.0 590.9,2432.3 Q590.7,2431.6 589.3,2431.0 Q587.9,2430.4 588.1,2429.9 Q588.4,2429.4 588.4,2428.7 Q588.3,2428.0 589.4,2428.6 Q590.6,2429.2 591.2,2429.0 Q591.7,2428.8 592.6,2429.4 Q593.4,2429.9 594.3,2430.6 Q595.2,2431.3 595.1,2431.9 Q595.0,2432.5 595.0,2433.1Z M598.2,2427.2 Q597.3,2428.3 598.8,2428.8 Q600.3,2429.3 598.1,2429.9 Q595.9,2430.4 594.9,2431.5 Q593.8,2432.5 592.7,2432.0 Q591.6,2431.6 589.8,2431.7 Q588.0,2431.9 588.0,2431.0 Q588.0,2430.2 589.6,2429.5 Q591.3,2428.7 591.9,2428.0 Q592.5,2427.2 594.0,2426.9 Q595.4,2426.7 597.3,2426.4 Q599.2,2426.0 598.2,2427.2Z M590.5,2465.6 Q592.2,2467.9 590.1,2468.9 Q587.9,2469.8 584.0,2468.4 Q580.0,2466.9 577.5,2464.8 Q575.1,2462.7 574.5,2461.0 Q573.9,2459.3 576.4,2459.6 Q579.0,2459.9 581.1,2459.9 Q583.2,2460.0 586.0,2461.7 Q588.7,2463.3 590.5,2465.6Z M597.3,2452.6 Q599.1,2453.5 596.7,2454.2 Q594.3,2455.0 592.1,2455.4 Q589.9,2455.7 587.2,2455.9 Q584.5,2456.0 582.2,2455.5 Q579.8,2455.0 579.8,2454.0 Q579.9,2453.1 581.1,2451.9 Q582.4,2450.8 586.3,2450.9 Q590.2,2451.1 592.9,2451.5 Q595.5,2451.8 597.3,2452.6Z M599.7,2447.8 Q599.4,2448.6 597.7,2449.0 Q596.1,2449.4 595.4,2449.7 Q594.7,2450.0 593.7,2450.4 Q592.8,2450.7 591.7,2450.4 Q590.6,2450.0 588.2,2450.3 Q585.7,2450.7 586.3,2449.9 Q587.0,2449.0 586.2,2448.5 Q585.4,2447.9 586.4,2447.5 Q587.5,2447.0 588.5,2446.5 Q589.5,2446.0 591.2,2445.9 Q592.9,2445.9 593.9,2446.4 Q594.9,2447.0 597.5,2447.0 Q600.1,2447.0 599.7,2447.8Z M601.7,2439.5 Q600.1,2439.6 599.2,2439.8 Q598.4,2440.0 596.4,2438.6 Q594.4,2437.3 591.8,2434.8 Q589.2,2432.4 588.1,2429.9 Q587.1,2427.4 589.0,2427.2 Q590.8,2426.9 594.9,2429.7 Q598.9,2432.5 601.1,2435.9 Q603.3,2439.3 601.7,2439.5Z M600.9,2455.0 Q599.9,2456.1 598.5,2456.4 Q597.1,2456.7 595.2,2456.6 Q593.2,2456.5 591.5,2455.5 Q589.7,2454.6 585.2,2452.7 Q580.7,2450.7 583.4,2449.8 Q586.0,2449.0 590.2,2450.5 Q594.5,2452.0 598.2,2452.9 Q601.9,2453.9 600.9,2455.0Z M600.3,2447.6 Q599.4,2448.4 599.5,2448.7 Q599.6,2449.1 599.0,2449.4 Q598.5,2449.7 597.7,2450.3 Q596.8,2451.0 595.4,2451.0 Q593.9,2451.1 593.8,2450.4 Q593.7,2449.6 593.0,2449.0 Q592.2,2448.5 593.3,2447.9 Q594.3,2447.4 595.5,2447.3 Q596.6,2447.3 597.7,2446.9 Q598.7,2446.5 600.0,2446.7 Q601.3,2446.8 600.3,2447.6Z M594.6,2478.9 Q595.3,2480.7 594.4,2481.0 Q593.5,2481.3 591.9,2480.3 Q590.3,2479.2 588.6,2477.4 Q586.9,2475.6 585.5,2473.3 Q584.1,2471.0 584.7,2470.0 Q585.2,2469.0 585.5,2467.8 Q585.8,2466.6 587.5,2467.7 Q589.2,2468.8 590.7,2470.3 Q592.2,2471.9 593.1,2473.5 Q594.1,2475.2 594.0,2476.1 Q593.9,2477.1 594.6,2478.9Z M607.4,2444.2 Q609.3,2445.0 607.8,2446.5 Q606.3,2447.9 604.4,2449.0 Q602.4,2450.1 600.0,2450.7 Q597.5,2451.3 595.0,2451.1 Q592.5,2450.9 591.0,2449.9 Q589.6,2448.9 589.5,2447.2 Q589.4,2445.6 592.1,2444.1 Q594.9,2442.7 598.2,2442.3 Q601.5,2441.8 603.4,2442.6 Q605.4,2443.4 607.4,2444.2Z M597.7,2471.1 Q597.0,2473.6 595.4,2471.1 Q593.8,2468.6 592.0,2466.6 Q590.1,2464.6 589.7,2460.1 Q589.2,2455.7 590.6,2455.0 Q592.1,2454.4 593.0,2453.9 Q593.9,2453.4 595.4,2453.9 Q597.0,2454.4 597.1,2458.2 Q597.2,2462.0 597.8,2465.3 Q598.4,2468.7 597.7,2471.1Z M603.8,2444.3 Q603.9,2446.0 603.1,2445.6 Q602.3,2445.1 601.9,2442.9 Q601.5,2440.7 601.3,2439.7 Q601.0,2438.7 600.8,2437.3 Q600.6,2436.0 600.9,2435.5 Q601.3,2435.0 601.9,2436.6 Q602.5,2438.2 603.0,2439.2 Q603.4,2440.3 603.5,2441.4 Q603.7,2442.6 603.8,2444.3Z M606.6,2447.9 Q607.5,2450.5 606.4,2450.8 Q605.3,2451.0 603.5,2448.9 Q601.7,2446.8 599.9,2444.5 Q598.1,2442.2 597.4,2439.7 Q596.7,2437.2 597.0,2435.9 Q597.3,2434.6 597.7,2433.4 Q598.2,2432.1 600.0,2435.0 Q601.9,2437.9 603.1,2438.5 Q604.4,2439.0 605.4,2441.1 Q606.4,2443.2 606.0,2444.2 Q605.7,2445.2 606.6,2447.9Z M604.4,2465.6 Q603.8,2466.3 602.8,2466.4 Q601.9,2466.6 599.8,2466.5 Q597.8,2466.4 597.0,2463.7 Q596.3,2460.9 598.0,2460.4 Q599.6,2459.9 599.7,2457.3 Q599.8,2454.8 601.5,2456.5 Q603.3,2458.3 604.1,2460.1 Q605.0,2461.9 605.0,2463.4 Q605.0,2464.8 604.4,2465.6Z M614.6,2439.9 Q616.4,2440.8 615.8,2442.1 Q615.3,2443.5 613.0,2443.7 Q610.8,2443.9 609.1,2444.3 Q607.3,2444.6 605.1,2444.3 Q602.9,2444.1 603.0,2442.7 Q603.1,2441.2 602.3,2440.1 Q601.5,2438.9 602.8,2438.0 Q604.0,2437.0 605.9,2436.9 Q607.8,2436.8 608.9,2437.6 Q610.0,2438.5 611.4,2438.7 Q612.7,2439.0 614.6,2439.9Z M607.7,2465.4 Q609.2,2466.1 608.1,2466.8 Q607.0,2467.5 604.4,2467.7 Q601.7,2467.8 599.3,2467.4 Q596.9,2467.1 595.7,2466.4 Q594.5,2465.6 596.4,2465.2 Q598.4,2464.7 600.2,2464.3 Q601.9,2463.8 604.0,2464.3 Q606.2,2464.7 607.7,2465.4Z M612.3,2468.4 Q611.8,2469.1 611.7,2470.2 Q611.7,2471.3 609.8,2471.5 Q608.0,2471.7 604.6,2469.6 Q601.2,2467.6 598.5,2465.7 Q595.7,2463.9 594.4,2462.2 Q593.0,2460.5 592.7,2459.4 Q592.5,2458.3 590.8,2456.2 Q589.1,2454.1 591.7,2454.6 Q594.2,2455.2 596.8,2455.9 Q599.4,2456.5 602.8,2458.2 Q606.2,2459.9 606.5,2461.9 Q606.8,2463.8 609.8,2465.7 Q612.7,2467.6 612.3,2468.4Z M610.6,2453.2 Q611.2,2453.7 610.5,2454.5 Q609.8,2455.4 610.1,2456.1 Q610.4,2456.9 609.2,2457.7 Q607.9,2458.6 606.4,2459.4 Q604.9,2460.3 604.8,2459.2 Q604.6,2458.1 604.3,2457.8 Q604.0,2457.5 603.5,2457.2 Q602.9,2457.0 603.1,2456.2 Q603.2,2455.4 604.4,2454.9 Q605.7,2454.4 606.5,2454.4 Q607.3,2454.4 608.7,2453.6 Q610.1,2452.8 610.6,2453.2Z M610.4,2482.8 Q611.0,2484.0 609.5,2484.1 Q608.1,2484.2 605.8,2484.2 Q603.5,2484.2 600.0,2481.9 Q596.6,2479.7 594.9,2477.7 Q593.2,2475.7 593.6,2474.5 Q594.0,2473.4 597.0,2474.2 Q600.1,2475.1 602.8,2476.8 Q605.6,2478.5 607.7,2480.0 Q609.9,2481.5 610.4,2482.8Z M616.3,2473.6 Q618.5,2476.0 615.6,2475.2 Q612.7,2474.5 610.4,2473.8 Q608.1,2473.1 605.6,2471.6 Q603.2,2470.1 600.7,2468.4 Q598.3,2466.7 597.0,2465.0 Q595.7,2463.3 596.5,2462.6 Q597.3,2461.9 599.4,2462.4 Q601.6,2462.9 603.9,2464.1 Q606.3,2465.4 608.8,2466.7 Q611.4,2468.0 612.8,2469.7 Q614.2,2471.3 616.3,2473.6Z M609.5,2475.9 Q609.0,2477.2 610.2,2478.1 Q611.5,2479.1 610.4,2480.4 Q609.3,2481.7 607.1,2481.2 Q605.0,2480.6 603.8,2480.7 Q602.6,2480.8 601.1,2480.5 Q599.7,2480.3 598.7,2479.3 Q597.8,2478.4 598.3,2476.9 Q598.8,2475.4 601.2,2475.2 Q603.6,2475.0 605.5,2473.8 Q607.5,2472.7 608.7,2473.7 Q610.0,2474.7 609.5,2475.9Z M621.6,2437.4 Q620.8,2437.1 620.5,2437.2 Q620.2,2437.4 619.6,2437.6 Q618.9,2437.9 618.4,2436.6 Q618.0,2435.4 617.2,2434.1 Q616.3,2432.8 617.1,2432.7 Q617.9,2432.5 618.3,2432.3 Q618.7,2432.2 619.2,2432.6 Q619.7,2432.9 620.6,2433.2 Q621.4,2433.4 621.2,2434.4 Q621.0,2435.4 621.7,2436.5 Q622.3,2437.6 621.6,2437.4Z M623.6,2451.7 Q627.3,2452.0 627.0,2453.2 Q626.8,2454.4 623.8,2455.3 Q620.9,2456.1 617.4,2455.7 Q613.9,2455.3 610.3,2456.2 Q606.7,2457.0 606.9,2455.7 Q607.2,2454.3 603.7,2453.9 Q600.3,2453.4 601.2,2452.3 Q602.0,2451.3 605.1,2450.7 Q608.2,2450.1 610.8,2448.9 Q613.5,2447.7 616.1,2448.7 Q618.8,2449.7 619.4,2450.5 Q619.9,2451.3 623.6,2451.7Z M617.8,2453.7 Q617.1,2454.3 616.5,2453.6 Q615.8,2452.9 614.7,2452.7 Q613.7,2452.5 614.0,2451.4 Q614.3,2450.3 614.7,2449.5 Q615.1,2448.6 616.1,2448.6 Q617.1,2448.6 617.5,2449.7 Q618.0,2450.9 618.2,2452.0 Q618.5,2453.1 617.8,2453.7Z M631.8,2429.8 Q634.0,2429.8 633.0,2431.3 Q632.1,2432.8 629.9,2433.6 Q627.7,2434.5 627.2,2435.8 Q626.7,2437.1 625.0,2437.2 Q623.2,2437.4 621.3,2438.0 Q619.3,2438.5 618.4,2437.8 Q617.4,2437.1 615.6,2436.6 Q613.8,2436.0 616.2,2434.6 Q618.7,2433.1 620.0,2432.4 Q621.4,2431.6 622.7,2431.4 Q624.0,2431.1 625.7,2429.9 Q627.4,2428.6 628.5,2429.1 Q629.6,2429.7 631.8,2429.8Z M630.3,2445.1 Q630.6,2446.6 630.4,2448.6 Q630.3,2450.6 627.5,2447.6 Q624.6,2444.5 623.2,2442.3 Q621.7,2440.1 620.7,2438.2 Q619.6,2436.4 617.2,2432.3 Q614.8,2428.2 618.2,2430.8 Q621.7,2433.3 623.8,2433.1 Q625.9,2432.8 629.1,2436.7 Q632.3,2440.5 631.1,2442.0 Q629.9,2443.6 630.3,2445.1Z M625.9,2459.8 Q626.1,2460.9 625.6,2461.6 Q625.1,2462.3 623.3,2460.2 Q621.6,2458.1 620.3,2457.7 Q619.1,2457.3 618.1,2456.0 Q617.1,2454.6 617.8,2454.3 Q618.5,2454.0 617.8,2452.3 Q617.0,2450.7 618.3,2451.2 Q619.7,2451.7 620.9,2453.3 Q622.1,2454.8 623.5,2455.6 Q624.8,2456.5 625.2,2457.6 Q625.6,2458.8 625.9,2459.8Z M628.2,2454.6 Q630.1,2454.9 628.9,2455.9 Q627.8,2457.0 626.3,2457.3 Q624.7,2457.5 623.9,2458.8 Q623.0,2460.0 621.2,2460.0 Q619.3,2460.1 618.8,2459.1 Q618.2,2458.1 618.0,2457.2 Q617.7,2456.3 619.2,2455.7 Q620.7,2455.1 621.6,2454.8 Q622.5,2454.5 623.9,2453.3 Q625.3,2452.0 625.8,2453.2 Q626.3,2454.3 628.2,2454.6Z M631.9,2445.8 Q632.0,2446.5 631.4,2446.9 Q630.9,2447.3 629.6,2446.7 Q628.2,2446.1 626.7,2445.4 Q625.2,2444.6 624.3,2443.3 Q623.3,2442.0 624.0,2441.6 Q624.8,2441.3 624.6,2440.6 Q624.4,2439.8 625.1,2439.5 Q625.7,2439.2 627.1,2439.9 Q628.5,2440.6 629.9,2441.8 Q631.3,2442.9 631.6,2444.0 Q631.8,2445.0 631.9,2445.8Z M623.7,2469.7 Q622.9,2470.2 623.9,2471.1 Q624.8,2472.0 623.6,2472.1 Q622.3,2472.2 621.3,2471.6 Q620.2,2471.0 619.7,2470.8 Q619.1,2470.7 618.5,2470.5 Q617.8,2470.3 616.9,2469.9 Q615.9,2469.4 615.8,2468.8 Q615.7,2468.1 616.6,2467.8 Q617.5,2467.6 618.3,2467.5 Q619.2,2467.5 620.0,2467.9 Q620.8,2468.3 622.2,2468.0 Q623.7,2467.7 624.1,2468.5 Q624.5,2469.2 623.7,2469.7Z M626.2,2478.4 Q625.7,2479.0 626.0,2479.7 Q626.2,2480.5 624.2,2480.3 Q622.1,2480.1 619.6,2479.5 Q617.0,2478.9 617.0,2478.0 Q616.9,2477.1 616.0,2476.5 Q615.1,2475.8 616.1,2475.7 Q617.1,2475.6 618.3,2475.9 Q619.6,2476.2 621.4,2476.1 Q623.2,2476.1 624.9,2477.0 Q626.6,2477.9 626.2,2478.4Z M632.6,2466.4 Q635.6,2466.2 631.5,2468.3 Q627.3,2470.4 627.3,2471.5 Q627.2,2472.5 624.7,2473.9 Q622.1,2475.4 619.3,2475.8 Q616.6,2476.3 617.0,2475.0 Q617.5,2473.7 613.3,2474.4 Q609.0,2475.1 611.8,2473.2 Q614.5,2471.4 617.6,2470.6 Q620.7,2469.7 622.7,2468.8 Q624.6,2467.9 627.1,2467.3 Q629.6,2466.7 632.6,2466.4Z M629.7,2467.1 Q629.7,2468.3 628.1,2468.2 Q626.5,2468.1 625.8,2469.2 Q625.1,2470.3 623.9,2468.5 Q622.8,2466.8 620.5,2466.8 Q618.2,2466.9 618.1,2465.5 Q617.9,2464.1 618.1,2463.0 Q618.4,2462.0 619.1,2461.3 Q619.9,2460.5 621.2,2460.1 Q622.5,2459.6 623.6,2461.4 Q624.7,2463.3 626.1,2463.5 Q627.5,2463.8 628.6,2464.9 Q629.7,2465.9 629.7,2467.1Z M627.9,2479.3 Q627.5,2480.3 626.4,2480.4 Q625.2,2480.6 624.7,2481.5 Q624.2,2482.4 623.3,2481.4 Q622.5,2480.4 620.6,2480.2 Q618.7,2480.0 619.1,2479.0 Q619.6,2478.1 620.4,2477.6 Q621.3,2477.2 622.2,2477.0 Q623.1,2476.7 624.1,2477.1 Q625.1,2477.5 626.7,2477.9 Q628.3,2478.4 627.9,2479.3Z M629.6,2479.9 Q628.9,2481.5 631.3,2481.9 Q633.7,2482.4 629.0,2484.2 Q624.3,2486.0 621.6,2487.9 Q618.8,2489.9 617.2,2489.4 Q615.6,2488.8 610.2,2490.4 Q604.8,2492.0 605.1,2490.0 Q605.3,2488.1 609.6,2485.3 Q613.9,2482.5 618.4,2481.6 Q623.0,2480.8 626.6,2479.6 Q630.3,2478.3 629.6,2479.9Z M631.4,2477.6 Q632.3,2478.4 631.5,2479.0 Q630.7,2479.5 629.6,2479.0 Q628.6,2478.5 628.1,2478.0 Q627.5,2477.6 627.5,2477.1 Q627.4,2476.6 627.6,2476.0 Q627.8,2475.4 628.9,2475.1 Q630.0,2474.7 630.3,2475.8 Q630.6,2476.9 631.4,2477.6Z M635.0,2467.4 Q635.3,2468.4 633.7,2468.9 Q632.0,2469.4 631.6,2470.2 Q631.2,2471.1 629.6,2471.3 Q628.0,2471.6 627.2,2470.6 Q626.4,2469.6 624.9,2469.4 Q623.5,2469.3 622.1,2468.6 Q620.7,2467.9 621.0,2466.9 Q621.3,2465.9 623.1,2465.6 Q624.9,2465.2 626.6,2465.4 Q628.2,2465.6 630.3,2465.1 Q632.3,2464.7 633.4,2465.6 Q634.6,2466.5 635.0,2467.4Z M639.7,2450.9 Q640.7,2451.8 639.5,2452.5 Q638.3,2453.3 637.3,2453.9 Q636.3,2454.5 634.6,2454.6 Q632.9,2454.7 632.2,2453.6 Q631.6,2452.5 632.0,2451.6 Q632.4,2450.7 632.7,2449.4 Q633.0,2448.1 634.6,2449.0 Q636.2,2449.8 637.4,2449.9 Q638.6,2450.1 639.7,2450.9Z M638.1,2480.3 Q639.6,2480.7 639.2,2481.7 Q638.9,2482.6 636.1,2483.4 Q633.2,2484.1 631.8,2485.6 Q630.5,2487.1 627.0,2487.8 Q623.6,2488.4 623.6,2487.0 Q623.6,2485.6 620.7,2485.7 Q617.7,2485.8 616.7,2484.7 Q615.7,2483.6 618.3,2482.0 Q620.8,2480.5 624.7,2480.0 Q628.7,2479.5 631.0,2479.6 Q633.2,2479.6 634.9,2479.8 Q636.6,2479.9 638.1,2480.3Z M643.3,2481.1 Q644.1,2482.3 642.1,2482.2 Q640.1,2482.1 638.1,2481.8 Q636.1,2481.5 633.7,2480.7 Q631.3,2479.9 629.8,2478.7 Q628.2,2477.5 623.5,2475.7 Q618.9,2473.9 618.2,2472.4 Q617.4,2470.8 620.5,2471.2 Q623.6,2471.7 625.1,2471.0 Q626.5,2470.4 630.2,2472.1 Q634.0,2473.8 637.1,2475.4 Q640.3,2476.9 641.3,2478.4 Q642.4,2479.8 643.3,2481.1Z M636.2,2478.1 Q636.8,2479.6 635.1,2479.7 Q633.5,2479.7 632.0,2479.9 Q630.5,2480.0 629.0,2478.8 Q627.5,2477.5 627.0,2475.5 Q626.6,2473.5 628.7,2473.5 Q630.9,2473.4 633.0,2472.9 Q635.1,2472.4 635.3,2474.5 Q635.5,2476.6 636.2,2478.1Z M636.3,2479.6 Q635.8,2479.8 636.1,2480.5 Q636.4,2481.3 635.8,2481.5 Q635.1,2481.8 634.2,2481.0 Q633.2,2480.2 632.7,2479.8 Q632.2,2479.3 631.5,2478.9 Q630.8,2478.4 630.8,2477.9 Q630.8,2477.5 631.0,2477.1 Q631.2,2476.8 631.8,2476.8 Q632.4,2476.9 632.9,2476.6 Q633.4,2476.4 634.4,2476.6 Q635.3,2476.8 635.9,2477.5 Q636.5,2478.2 636.6,2478.8 Q636.7,2479.3 636.3,2479.6Z M651.1,2448.4 Q650.8,2449.4 649.6,2447.9 Q648.3,2446.5 647.7,2445.6 Q647.2,2444.8 646.2,2444.2 Q645.3,2443.6 645.4,2442.6 Q645.5,2441.7 645.1,2440.5 Q644.7,2439.2 645.0,2438.5 Q645.4,2437.7 646.3,2439.0 Q647.3,2440.3 647.8,2441.3 Q648.4,2442.3 649.5,2443.4 Q650.7,2444.5 651.0,2446.0 Q651.3,2447.5 651.1,2448.4Z M643.1,2485.1 Q643.1,2485.6 643.6,2486.1 Q644.1,2486.6 643.1,2487.0 Q642.0,2487.3 640.8,2487.2 Q639.6,2487.2 638.6,2487.2 Q637.6,2487.2 637.4,2486.8 Q637.2,2486.4 636.0,2486.1 Q634.9,2485.9 635.5,2485.5 Q636.1,2485.0 636.8,2484.7 Q637.6,2484.4 638.5,2483.9 Q639.5,2483.4 640.4,2483.8 Q641.4,2484.2 642.3,2484.5 Q643.1,2484.7 643.1,2485.1Z M646.7,2473.8 Q648.4,2474.1 647.8,2475.4 Q647.2,2476.7 645.1,2477.7 Q643.0,2478.8 640.7,2480.8 Q638.4,2482.8 636.9,2481.7 Q635.4,2480.7 635.1,2479.8 Q634.8,2478.9 632.8,2478.2 Q630.7,2477.4 633.9,2476.1 Q637.0,2474.9 639.4,2473.7 Q641.7,2472.4 643.4,2472.9 Q645.0,2473.4 646.7,2473.8Z M647.6,2460.6 Q647.1,2461.3 648.1,2461.9 Q649.0,2462.4 647.9,2462.6 Q646.9,2462.8 646.4,2463.2 Q646.0,2463.7 645.2,2463.7 Q644.5,2463.8 644.3,2463.2 Q644.1,2462.6 643.6,2462.5 Q643.1,2462.3 643.1,2461.9 Q643.1,2461.5 643.4,2461.1 Q643.7,2460.8 643.9,2460.4 Q644.1,2459.9 644.7,2459.6 Q645.3,2459.3 645.9,2459.6 Q646.5,2459.8 647.3,2459.9 Q648.1,2460.0 647.6,2460.6Z M657.8,2451.3 Q661.6,2454.1 657.8,2453.4 Q653.9,2452.7 650.8,2451.7 Q647.7,2450.8 642.4,2448.5 Q637.2,2446.2 636.1,2443.5 Q635.1,2440.8 638.3,2440.5 Q641.6,2440.1 646.4,2441.9 Q651.3,2443.6 652.6,2446.1 Q653.9,2448.5 657.8,2451.3Z M651.1,2488.7 Q651.2,2489.4 650.8,2490.1 Q650.5,2490.7 649.4,2491.4 Q648.2,2492.1 647.0,2493.0 Q645.7,2493.8 644.3,2493.7 Q642.9,2493.5 642.4,2493.2 Q641.9,2492.9 639.6,2493.3 Q637.3,2493.6 638.6,2492.7 Q639.9,2491.8 640.0,2491.0 Q640.1,2490.2 642.2,2489.8 Q644.3,2489.5 645.8,2489.2 Q647.2,2488.9 649.1,2488.4 Q651.1,2488.0 651.1,2488.7Z M650.4,2477.8 Q650.6,2478.6 650.0,2479.3 Q649.4,2480.0 647.9,2480.0 Q646.5,2479.9 645.4,2480.1 Q644.3,2480.4 643.1,2479.9 Q642.0,2479.4 642.4,2478.7 Q642.8,2478.0 642.6,2477.5 Q642.5,2477.1 642.0,2476.0 Q641.6,2474.8 643.2,2474.6 Q644.8,2474.4 646.2,2475.1 Q647.5,2475.9 648.8,2476.4 Q650.1,2476.9 650.4,2477.8Z M653.9,2466.3 Q654.0,2468.2 654.8,2470.1 Q655.6,2472.1 652.7,2472.8 Q649.9,2473.6 648.0,2472.8 Q646.1,2472.0 645.5,2470.8 Q645.0,2469.7 644.4,2468.1 Q643.8,2466.5 646.2,2466.4 Q648.6,2466.2 651.2,2465.3 Q653.8,2464.5 653.9,2466.3Z M655.7,2447.8 Q655.5,2449.0 654.5,2448.6 Q653.6,2448.2 653.1,2446.8 Q652.7,2445.5 652.2,2444.3 Q651.7,2443.1 651.8,2441.2 Q651.9,2439.4 653.3,2440.6 Q654.6,2441.8 656.0,2442.8 Q657.4,2443.8 656.7,2445.2 Q655.9,2446.6 655.7,2447.8Z M653.0,2485.8 Q653.4,2487.3 652.3,2485.9 Q651.2,2484.5 650.7,2484.7 Q650.2,2485.0 649.5,2483.5 Q648.7,2482.0 648.3,2480.9 Q647.8,2479.8 646.8,2478.0 Q645.7,2476.2 646.1,2475.8 Q646.5,2475.4 647.2,2475.9 Q648.0,2476.3 648.1,2474.9 Q648.2,2473.5 649.3,2475.7 Q650.4,2477.8 651.5,2479.1 Q652.6,2480.3 653.0,2481.8 Q653.4,2483.4 653.0,2483.8 Q652.6,2484.3 653.0,2485.8Z M661.1,2450.7 Q659.8,2451.6 658.2,2450.6 Q656.6,2449.7 654.8,2449.0 Q653.0,2448.4 652.1,2445.7 Q651.2,2443.0 651.3,2441.1 Q651.4,2439.3 652.1,2437.7 Q652.9,2436.2 655.0,2437.4 Q657.1,2438.5 657.8,2441.4 Q658.6,2444.4 660.5,2447.1 Q662.3,2449.9 661.1,2450.7Z M665.8,2465.4 Q663.9,2466.5 664.5,2467.3 Q665.1,2468.0 664.3,2469.1 Q663.4,2470.2 659.9,2470.2 Q656.3,2470.3 652.6,2470.5 Q649.0,2470.8 648.0,2469.7 Q646.9,2468.7 647.4,2467.9 Q648.0,2467.1 648.3,2466.4 Q648.6,2465.8 650.6,2465.4 Q652.6,2465.1 654.4,2464.9 Q656.1,2464.8 659.3,2464.0 Q662.6,2463.2 665.2,2463.8 Q667.8,2464.4 665.8,2465.4Z M658.8,2456.9 Q659.4,2456.9 659.4,2457.3 Q659.4,2457.7 658.7,2458.0 Q658.1,2458.3 658.0,2458.8 Q657.9,2459.4 657.1,2459.7 Q656.4,2460.0 655.9,2459.8 Q655.4,2459.6 654.9,2459.4 Q654.5,2459.3 654.6,2458.9 Q654.7,2458.5 655.0,2458.2 Q655.2,2457.9 655.1,2457.3 Q655.0,2456.7 655.8,2456.5 Q656.6,2456.3 657.1,2456.5 Q657.6,2456.7 657.9,2456.8 Q658.3,2456.9 658.8,2456.9Z M667.3,2445.8 Q668.9,2446.0 667.9,2447.4 Q666.8,2448.8 665.3,2449.8 Q663.7,2450.9 662.5,2450.8 Q661.3,2450.8 659.5,2451.1 Q657.7,2451.5 658.3,2450.3 Q658.9,2449.2 660.3,2448.0 Q661.7,2446.7 663.7,2446.2 Q665.7,2445.6 667.3,2445.8Z M665.8,2441.9 Q666.2,2442.0 666.0,2442.5 Q665.9,2443.0 666.5,2443.7 Q667.1,2444.3 665.0,2445.6 Q662.8,2446.8 661.7,2446.6 Q660.6,2446.4 657.6,2448.1 Q654.6,2449.7 656.6,2447.9 Q658.6,2446.0 657.4,2445.7 Q656.3,2445.4 658.3,2444.0 Q660.4,2442.6 662.4,2441.5 Q664.5,2440.3 664.9,2441.0 Q665.3,2441.7 665.8,2441.9Z M663.6,2485.6 Q664.6,2486.8 662.8,2487.0 Q661.0,2487.3 658.4,2487.2 Q655.8,2487.0 653.9,2485.8 Q652.0,2484.5 648.3,2482.7 Q644.6,2481.0 648.7,2481.5 Q652.7,2482.0 655.0,2482.1 Q657.2,2482.2 659.9,2483.3 Q662.6,2484.5 663.6,2485.6Z M672.8,2455.5 Q674.2,2457.4 672.5,2458.8 Q670.9,2460.2 666.8,2460.3 Q662.8,2460.4 659.9,2458.5 Q656.9,2456.6 657.1,2455.1 Q657.3,2453.6 658.9,2453.1 Q660.5,2452.5 662.6,2452.2 Q664.7,2451.9 668.1,2452.8 Q671.4,2453.6 672.8,2455.5Z M679.5,2460.7 Q681.6,2463.4 678.4,2462.4 Q675.2,2461.3 673.2,2460.9 Q671.2,2460.5 668.3,2459.3 Q665.5,2458.1 663.5,2455.8 Q661.5,2453.5 659.3,2451.3 Q657.2,2449.0 660.1,2449.6 Q663.0,2450.1 663.7,2449.9 Q664.3,2449.6 664.7,2447.9 Q665.1,2446.2 667.6,2449.0 Q670.0,2451.8 671.9,2453.1 Q673.7,2454.4 675.5,2456.2 Q677.4,2458.0 679.5,2460.7Z M671.3,2455.2 Q670.2,2455.8 670.2,2456.3 Q670.1,2456.8 669.1,2457.4 Q668.1,2457.9 666.5,2457.0 Q664.8,2456.1 662.2,2455.8 Q659.7,2455.6 660.1,2454.9 Q660.5,2454.2 660.3,2453.3 Q660.1,2452.5 662.1,2452.4 Q664.2,2452.3 666.0,2453.1 Q667.8,2453.8 670.1,2454.2 Q672.3,2454.6 671.3,2455.2Z M669.8,2494.6 Q669.9,2495.3 667.8,2495.4 Q665.8,2495.5 665.4,2496.0 Q665.0,2496.6 662.9,2496.8 Q660.8,2497.1 660.2,2496.1 Q659.7,2495.1 656.4,2494.7 Q653.1,2494.2 653.3,2493.4 Q653.6,2492.7 656.6,2492.9 Q659.6,2493.1 660.7,2493.0 Q661.9,2492.9 663.7,2492.9 Q665.5,2492.9 667.6,2493.4 Q669.7,2493.9 669.8,2494.6Z M673.3,2452.9 Q672.7,2453.5 673.9,2454.7 Q675.0,2455.9 673.1,2455.9 Q671.2,2455.8 669.8,2456.5 Q668.4,2457.1 667.1,2456.0 Q665.8,2454.8 664.8,2454.3 Q663.8,2453.7 663.0,2453.0 Q662.3,2452.3 662.6,2451.6 Q662.8,2450.9 663.2,2450.2 Q663.6,2449.5 665.2,2449.5 Q666.7,2449.6 667.9,2450.1 Q669.1,2450.7 671.5,2450.4 Q673.8,2450.1 673.8,2451.2 Q673.8,2452.3 673.3,2452.9Z M671.1,2469.7 Q672.2,2470.4 671.4,2470.7 Q670.6,2471.0 669.3,2470.9 Q668.1,2470.8 666.5,2470.5 Q664.8,2470.1 663.7,2469.2 Q662.7,2468.3 662.7,2467.6 Q662.8,2467.0 662.8,2466.1 Q662.7,2465.3 664.7,2466.0 Q666.7,2466.7 668.7,2466.8 Q670.7,2466.8 670.4,2467.8 Q670.1,2468.9 671.1,2469.7Z M668.6,2484.9 Q668.8,2486.4 667.7,2486.2 Q666.7,2486.0 665.6,2484.7 Q664.4,2483.4 664.1,2482.1 Q663.8,2480.7 662.2,2478.6 Q660.6,2476.4 661.8,2476.4 Q663.0,2476.4 663.8,2476.1 Q664.6,2475.8 665.5,2477.4 Q666.5,2478.9 667.5,2480.0 Q668.4,2481.2 668.4,2482.3 Q668.4,2483.4 668.6,2484.9Z M677.3,2483.0 Q676.3,2483.5 676.5,2484.4 Q676.7,2485.3 676.0,2486.2 Q675.3,2487.2 672.2,2485.9 Q669.2,2484.6 666.6,2484.3 Q664.1,2484.0 664.3,2482.8 Q664.6,2481.6 661.5,2480.5 Q658.3,2479.4 660.6,2479.3 Q662.9,2479.2 662.5,2478.1 Q662.0,2477.0 663.8,2476.5 Q665.6,2476.0 668.0,2477.8 Q670.4,2479.5 672.1,2480.1 Q673.7,2480.6 676.0,2481.5 Q678.3,2482.4 677.3,2483.0Z M679.7,2454.0 Q679.7,2455.6 677.6,2455.5 Q675.6,2455.3 673.5,2455.1 Q671.5,2454.8 668.5,2453.1 Q665.6,2451.4 666.8,2450.3 Q667.9,2449.2 669.1,2448.6 Q670.2,2448.1 672.8,2447.9 Q675.4,2447.7 677.5,2450.1 Q679.7,2452.5 679.7,2454.0Z M676.3,2478.7 Q678.9,2478.9 676.9,2480.9 Q675.0,2482.9 673.3,2484.1 Q671.5,2485.4 668.9,2487.4 Q666.3,2489.4 664.0,2488.8 Q661.7,2488.3 663.6,2486.2 Q665.5,2484.1 666.0,2483.2 Q666.4,2482.3 667.8,2480.5 Q669.1,2478.7 671.4,2478.6 Q673.8,2478.5 676.3,2478.7Z M674.8,2478.9 Q675.2,2480.4 675.5,2482.0 Q675.8,2483.5 673.1,2483.9 Q670.4,2484.4 669.0,2484.2 Q667.7,2484.1 666.6,2483.7 Q665.6,2483.2 664.8,2481.9 Q663.9,2480.6 666.5,2480.0 Q669.0,2479.4 671.7,2478.4 Q674.3,2477.3 674.8,2478.9Z M678.1,2479.1 Q679.0,2479.3 679.0,2480.1 Q678.9,2480.8 677.6,2481.3 Q676.2,2481.8 674.7,2481.9 Q673.2,2482.1 673.4,2481.3 Q673.5,2480.5 673.8,2480.0 Q674.1,2479.5 674.8,2478.6 Q675.4,2477.7 676.3,2478.3 Q677.2,2478.9 678.1,2479.1Z M670.6,2500.3 Q670.1,2500.5 669.6,2500.0 Q669.0,2499.5 668.7,2498.4 Q668.4,2497.4 667.9,2496.4 Q667.4,2495.5 667.7,2494.7 Q667.9,2493.9 668.1,2493.4 Q668.3,2492.9 668.6,2492.9 Q668.9,2493.0 669.3,2493.2 Q669.7,2493.5 670.0,2494.3 Q670.4,2495.1 670.6,2496.2 Q670.9,2497.3 671.0,2498.7 Q671.1,2500.1 670.6,2500.3Z M679.8,2484.2 Q682.5,2483.5 680.2,2485.8 Q678.0,2488.1 676.4,2490.0 Q674.9,2491.9 671.6,2493.6 Q668.3,2495.3 667.7,2494.2 Q667.2,2493.2 667.0,2492.2 Q666.8,2491.1 669.3,2489.0 Q671.7,2486.9 674.4,2485.9 Q677.1,2484.8 679.8,2484.2Z M687.2,2463.9 Q686.1,2463.6 685.3,2463.8 Q684.5,2464.0 683.5,2463.6 Q682.6,2463.3 682.3,2462.1 Q682.0,2460.8 681.5,2459.7 Q681.0,2458.5 682.1,2458.1 Q683.1,2457.6 683.2,2456.5 Q683.3,2455.3 684.1,2454.1 Q684.8,2452.8 686.1,2453.3 Q687.3,2453.8 688.3,2454.9 Q689.4,2456.0 689.7,2457.6 Q690.0,2459.2 690.0,2460.8 Q690.0,2462.3 689.2,2463.3 Q688.4,2464.2 687.2,2463.9Z M685.4,2483.6 Q684.9,2484.2 684.1,2482.8 Q683.2,2481.3 682.5,2481.0 Q681.8,2480.7 681.2,2478.9 Q680.5,2477.2 680.6,2475.7 Q680.8,2474.3 680.8,2473.1 Q680.8,2472.0 681.3,2472.2 Q681.8,2472.4 682.2,2472.7 Q682.7,2473.1 683.3,2472.7 Q684.0,2472.3 684.5,2474.1 Q684.9,2476.0 684.6,2477.0 Q684.3,2478.0 685.1,2480.5 Q685.9,2482.9 685.4,2483.6Z M698.1,2461.7 Q699.3,2462.7 695.6,2463.4 Q691.9,2464.1 692.6,2465.5 Q693.2,2466.8 690.3,2467.7 Q687.4,2468.5 683.6,2468.5 Q679.8,2468.6 677.2,2467.7 Q674.7,2466.8 673.9,2465.6 Q673.1,2464.5 672.8,2463.4 Q672.6,2462.4 675.1,2461.6 Q677.5,2460.9 678.9,2459.8 Q680.3,2458.7 683.6,2458.4 Q686.9,2458.2 689.0,2459.0 Q691.2,2459.9 694.0,2460.3 Q696.9,2460.7 698.1,2461.7Z M685.3,2491.1 Q685.1,2491.7 684.4,2491.9 Q683.8,2492.0 683.0,2491.5 Q682.3,2490.9 681.8,2490.8 Q681.3,2490.8 680.4,2490.5 Q679.6,2490.2 679.3,2489.4 Q678.9,2488.7 679.4,2488.3 Q679.9,2487.9 680.7,2488.2 Q681.4,2488.4 681.7,2488.4 Q682.1,2488.4 682.6,2488.2 Q683.2,2488.1 684.0,2488.5 Q684.7,2489.0 685.1,2489.7 Q685.5,2490.4 685.3,2491.1Z M691.0,2471.9 Q693.0,2472.3 691.5,2473.2 Q690.0,2474.1 688.4,2474.7 Q686.9,2475.2 684.8,2475.6 Q682.8,2475.9 682.1,2475.2 Q681.3,2474.4 679.4,2474.1 Q677.4,2473.8 677.7,2472.8 Q678.0,2471.8 680.1,2471.2 Q682.2,2470.5 684.4,2470.4 Q686.7,2470.3 687.8,2470.9 Q688.9,2471.5 691.0,2471.9Z M701.2,2455.0 Q699.1,2456.2 701.2,2457.0 Q703.4,2457.7 699.9,2458.0 Q696.4,2458.3 694.5,2459.2 Q692.6,2460.2 689.5,2460.3 Q686.5,2460.3 684.3,2459.7 Q682.1,2459.1 684.7,2458.0 Q687.3,2456.9 686.9,2456.0 Q686.5,2455.0 689.1,2454.1 Q691.6,2453.3 694.8,2453.2 Q698.0,2453.2 700.6,2453.5 Q703.3,2453.8 701.2,2455.0Z M693.5,2465.7 Q693.3,2466.3 693.1,2466.7 Q692.8,2467.1 692.6,2467.4 Q692.3,2467.8 691.7,2467.7 Q691.1,2467.6 690.6,2468.1 Q690.0,2468.6 689.7,2468.1 Q689.4,2467.6 688.5,2467.5 Q687.6,2467.4 687.8,2466.8 Q688.0,2466.2 688.4,2465.8 Q688.8,2465.4 689.5,2465.4 Q690.2,2465.4 690.6,2465.2 Q691.0,2464.9 691.8,2464.7 Q692.5,2464.4 693.1,2464.8 Q693.7,2465.1 693.5,2465.7Z" fill="none" stroke="#000" stroke-width="1.4" stroke-linejoin="round"/>
<g filter="url(#jag)"><path d="M370.0,327.9 L365.6,345.3 L351.1,354.0 L355.5,362.7 L348.2,368.5 M551.3,224.9 L536.8,240.8 L519.4,261.2 L510.7,287.3 L499.1,304.7 L515.1,301.8 L523.8,322.1 L532.5,339.5 L529.6,362.7 L542.6,377.2 L563.0,375.8 L583.3,374.3 L606.5,377.2 L619.5,391.7 L632.6,407.7 L655.8,406.3 L677.0,403.3 M677.0,401.9 L697.3,406.3 L684.3,438.2 L691.5,467.2 L700.2,499.1 L684.3,515.1 L700.2,533.9 L706.0,551.3 L714.7,568.8 M316.3,565.9 L339.5,580.4 L356.9,589.1 L365.6,599.2 L380.1,603.6 L391.7,605.0 L400.4,597.8 L415.0,609.4 L426.6,615.2 M426.6,615.2 L438.2,618.1 L449.8,621.0 L458.5,629.7 L467.2,641.3 L470.1,652.9 L484.6,664.5 L496.2,677.0 M496.2,676.9 L511.3,691.5 L542.6,688.9 L563.5,686.3 L584.4,694.1 L607.9,699.3 L600.1,725.5 L589.7,738.5 L610.5,751.6 L615.8,756.8 M269.9,720.5 L271.3,743.7 L262.6,752.4 L264.1,759.7 L278.6,756.8 L293.1,764.1 L298.9,775.7 L310.5,778.6 L313.4,769.9 L322.1,758.3 L327.9,735.0 L336.6,726.3 L351.1,714.7 L380.1,703.1 L400.4,691.5 L415.0,677.0 M415.0,677.0 L429.5,652.9 L436.7,638.4 L432.4,623.9 L426.6,615.2 M714.7,568.8 L706.0,551.3 L698.8,538.3 L677.0,549.9 M676.9,550.0 L670.6,553.1 L618.4,555.7 L618.4,576.6 L641.9,579.2 L639.3,589.7 L610.5,592.3 L615.8,621.0 L631.4,647.1 L623.6,699.3 L612.1,755.2 M612.3,755.4 L594.9,749.5 L554.2,761.2 L531.0,775.7 L516.5,787.3 L504.9,816.3 L499.1,839.5 L486.1,851.1 L478.8,859.8 L484.6,874.3 L496.2,894.6 L510.7,917.9 L504.9,926.6 L536.8,929.5 L539.7,945.4 L563.0,945.4 L593.4,928.0 L593.4,978.8 L612.3,981.7 L629.7,978.8 M629.7,978.8 L652.9,983.2 L677.0,973.0 M629.7,978.8 L644.2,1004.9 L655.8,1031.0 L647.1,1048.4 L644.2,1068.8 L648.6,1089.1 L638.4,1103.6 L637.0,1118.1 L629.7,1141.3 L641.3,1164.5 L650.0,1167.4 L644.2,1177.0 M486.1,851.1 L525.2,868.5 L594.9,883.0 L677.0,917.9 M714.7,568.8 L735.0,586.2 L761.2,589.1 L772.8,577.5 L801.8,563.0 L810.5,551.3 L833.7,539.7 L833.7,532.5 L813.4,525.2 L804.7,496.2 L785.8,470.1 L804.7,478.8 L827.9,480.3 L848.2,490.4 L855.5,478.8 L877.2,471.5 L897.5,464.3 L915.0,455.6 L927.1,445.4 M952.7,332.3 L929.5,348.2 L923.7,362.7 L938.2,374.3 L917.9,385.9 L906.3,400.4 L900.4,412.1 L926.6,444.0 L927.1,445.4 M927.1,445.4 L926.6,436.7 L941.1,438.2 L948.3,446.9 L942.5,459.9 L957.0,467.2 L962.8,480.3 L955.6,493.3 L949.8,504.9 L954.1,533.9 L957.0,549.9 L970.1,560.1 L984.6,571.7 L996.2,564.4 L1013.6,554.2 L1032.5,551.3 L1039.7,544.1 L1057.2,548.4 M1042.6,410.6 L1036.8,438.2 L1016.5,449.8 L1018.0,464.3 L1010.7,473.0 L1019.4,490.4 L1036.8,502.0 L1045.5,525.2 L1057.2,548.4 M1057.2,548.4 L1080.4,547.0 L1080.4,531.0 L1097.8,529.6 L1115.2,526.7 L1125.3,536.8 L1141.3,539.7 L1164.5,535.4 L1177.0,536.8 M1147.1,419.3 L1132.6,444.0 L1135.5,467.2 L1144.2,490.4 L1138.4,513.6 L1134.1,533.9 M1177.0,538.3 L1185.7,536.8 L1197.3,519.4 L1211.8,490.4 L1227.8,467.2 M833.7,539.7 L854.0,551.3 L862.7,583.3 L862.7,600.7 L871.4,623.9 L862.7,635.5 L880.1,652.9 L891.7,661.6 L897.5,664.5 M984.6,571.7 L984.6,603.0 L945.4,603.0 L932.4,638.4 L923.7,641.3 L909.2,631.1 L894.6,638.4 L891.7,652.9 L897.5,664.5 M984.6,603.0 L986.1,629.7 L996.2,647.1 L1013.6,658.7 L1033.9,670.3 L1048.4,677.0 M1121.0,529.6 L1123.9,551.3 L1141.3,560.1 L1158.7,568.8 L1170.3,583.3 L1177.0,597.8 M1177.0,597.8 L1191.5,629.7 L1203.1,650.0 L1213.3,652.9 L1223.4,641.3 L1235.0,626.8 L1252.4,606.5 M1049.9,677.0 L1060.1,684.3 L1077.5,679.9 L1067.3,691.5 L999.1,835.2 L1007.8,856.9 L1000.6,880.1 L1000.6,906.3 L896.1,906.8 M1007.8,856.9 L1025.2,894.6 L1042.6,915.0 L1054.2,926.0 L1177.0,934.7 M1077.0,926.7 L1271.4,941.2 M896.1,906.8 L891.7,923.7 L896.1,952.7 L896.1,979.7 L932.4,980.3 L948.3,984.6 L944.0,1007.8 L954.1,1025.2 L941.1,1051.3 L923.7,1068.8 M923.7,1068.8 L909.2,1064.4 L885.9,1064.4 L874.3,1054.2 L856.9,1045.5 L839.5,1036.8 L816.3,1028.1 L798.9,1029.6 L778.6,1013.6 L769.9,996.2 L765.5,967.2 L768.4,938.2 M768.4,938.2 L764.1,929.5 L781.5,915.0 L801.8,913.5 L827.9,878.7 L851.1,878.7 L862.7,891.7 L880.1,909.2 L891.7,903.3 L896.1,906.8 M677.0,970.1 L688.6,968.6 L706.0,955.6 L720.5,944.0 L746.6,939.6 L764.1,936.7 L768.4,938.2 M677.0,917.9 L729.2,928.9 L746.6,926.6 L755.4,932.4 L764.1,929.5 M923.7,1068.8 L932.4,1080.4 L930.9,1089.1 L938.2,1106.5 L939.6,1118.1 L928.0,1118.7 L939.6,1129.7 L941.1,1155.8 L1003.5,1157.3 L999.1,1177.0 M1410.7,652.4 L1406.4,672.8 L1399.1,698.9 L1384.6,727.9 L1370.1,751.1 L1352.7,768.5 L1332.4,783.0 L1325.1,791.7 M1325.1,791.7 L1338.2,793.2 L1342.5,803.3 L1335.3,823.7 L1317.9,838.2 L1309.2,846.9 L1306.3,867.2 L1309.2,881.7 L1300.4,902.0 L1285.9,919.4 L1274.3,939.7 L1265.6,960.1 L1259.8,983.3 L1256.9,1012.3 L1261.3,1038.4 L1254.0,1077.0 M1261.3,1038.4 L1275.8,1028.2 L1270.0,1041.3 L1280.1,1047.1 L1303.3,1055.8 L1309.2,1044.2 L1320.8,1041.3 L1332.4,1052.9 L1355.6,1058.7 L1362.8,1052.9 L1381.7,1052.9 L1404.9,1045.7 M1325.1,791.7 L1352.7,788.8 L1365.7,800.4 L1368.6,823.7 L1364.3,844.0 L1358.5,852.7 L1367.2,864.3 L1381.7,881.7 L1396.2,878.8 L1397.7,890.4 L1384.6,899.1 L1380.3,915.1 L1393.3,931.0 L1399.1,948.4 L1419.4,954.2 M1554.0,706.0 L1545.3,720.5 L1527.9,732.1 L1517.7,752.4 L1513.4,801.8 L1520.6,813.4 L1519.2,833.7 L1493.1,839.5 L1472.8,851.1 L1449.5,862.7 L1432.1,877.2 L1423.4,903.3 L1416.2,917.9 L1420.5,938.2 L1423.4,952.7 M1571.4,710.4 L1574.3,735.0 L1577.2,764.1 L1584.5,787.3 L1588.8,816.3 L1600.4,842.4 L1599.0,856.9 L1594.6,862.7 M1594.6,862.7 L1596.1,877.2 L1585.9,891.7 L1574.3,903.3 L1556.9,915.0 L1539.5,926.6 L1522.1,932.4 L1501.8,923.7 L1490.2,935.3 L1493.1,946.9 L1484.4,958.5 L1467.0,970.1 L1452.4,977.3 L1437.9,970.1 L1427.8,952.7 L1423.4,952.7 M1427.8,952.7 L1408.9,967.2 L1397.3,987.5 L1406.0,999.1 L1406.0,1039.7 L1408.9,1065.9 L1414.7,1094.9 L1411.8,1121.0 M1594.6,862.7 L1615.0,856.9 L1632.4,859.8 L1646.9,874.3 L1659.9,871.4 M1710.7,774.2 L1693.3,778.6 L1681.7,798.9 L1667.2,819.2 L1664.3,827.9 L1659.9,851.1 L1664.3,862.7 L1659.9,871.4 M1664.3,827.9 L1681.7,825.0 L1707.8,814.8 L1702.0,833.7 L1725.2,845.3 L1736.8,825.0 L1754.2,827.9 L1780.4,827.9 M1659.9,871.4 L1681.7,868.5 L1704.9,856.9 L1716.5,859.8 L1707.8,877.2 L1716.5,888.8 L1733.9,877.2 L1754.2,871.4 L1789.1,862.7 M1574.3,903.3 L1588.8,909.2 L1591.7,926.6 L1609.2,917.9 L1626.6,903.3 L1638.2,900.4 L1655.6,906.3 L1667.2,912.1 L1678.8,923.7 M1678.8,923.7 L1693.3,912.1 L1719.4,923.7 L1742.6,917.9 L1763.0,909.2 L1780.4,909.2 M1678.8,923.7 L1696.2,932.4 L1716.5,944.0 L1736.8,955.6 L1744.1,952.7 M1681.7,929.5 L1689.0,952.7 L1687.5,970.1 L1675.9,973.0 L1684.6,993.3 L1699.1,999.1 L1707.8,996.2 M1411.8,1121.0 L1435.0,1103.6 L1472.8,1089.1 L1487.3,1094.9 L1490.2,1103.6 L1507.6,1103.6 L1533.7,1112.3 L1556.9,1121.0 L1571.4,1138.4 L1597.5,1135.5 L1617.9,1147.1 L1609.2,1164.5 L1602.8,1177.0 M1601.4,1177.0 L1599.1,1194.4 L1607.8,1206.0 L1596.2,1211.8 L1610.7,1214.7 L1628.1,1224.9 M1596.2,1211.8 L1581.7,1220.5 L1578.8,1243.7 L1584.6,1255.4 L1575.9,1272.8 L1567.2,1287.3 L1557.0,1290.2 L1555.6,1307.6 L1558.5,1319.2 L1584.6,1325.0 M1555.6,1307.6 L1544.0,1322.1 L1539.6,1339.5 L1509.2,1348.2 L1480.1,1352.6 L1456.9,1361.3 L1425.0,1368.5 M1425.0,1368.5 L1422.1,1374.3 L1439.5,1368.5 L1456.9,1362.7 L1462.7,1371.4 L1477.2,1368.5 L1474.3,1380.1 L1456.9,1385.9 M1425.0,1368.5 L1427.0,1376.1 M999.0,1177.1 L1003.9,1187.3 L1019.9,1198.9 L1025.7,1213.4 L1028.6,1220.6 M927.0,1259.8 L944.4,1256.9 L976.3,1258.4 L1008.3,1275.8 L1018.4,1281.6 L1009.7,1284.5 M1028.6,1220.6 L1022.8,1245.3 L1009.7,1277.2 L1011.2,1297.5 L1018.4,1312.1 L1017.0,1332.4 L1014.1,1349.8 L1034.4,1354.1 L1051.8,1357.0 L1066.3,1351.2 L1086.6,1358.5 L1093.9,1373.0 L1096.8,1390.4 L1101.1,1410.7 L1115.6,1415.1 L1127.2,1410.7 L1138.8,1415.1 L1137.4,1433.9 L1133.0,1451.3 L1127.2,1468.8 M1019.9,1198.9 L1028.6,1210.5 L1043.1,1204.7 L1054.7,1193.1 L1077.9,1187.3 L1101.1,1198.9 L1115.6,1201.8 L1130.1,1197.4 L1141.7,1204.7 L1157.7,1190.2 L1157.7,1210.5 L1149.0,1211.9 L1176.6,1214.8 M1254.9,1077.0 L1249.1,1094.4 L1240.4,1111.8 L1225.9,1123.4 L1220.1,1140.8 L1199.8,1152.4 L1191.1,1167.0 L1179.5,1181.5 L1173.7,1198.9 L1176.6,1214.8 L1182.4,1227.9 L1188.2,1235.2 L1205.6,1245.3 L1225.9,1254.0 L1249.1,1262.7 M1249.1,1262.7 L1260.7,1248.2 L1281.0,1236.6 L1304.2,1227.9 L1327.5,1225.0 L1353.6,1227.9 L1373.9,1216.3 L1371.0,1201.8 L1362.3,1193.1 L1376.8,1178.6 L1368.1,1164.1 L1373.9,1152.4 L1385.5,1135.0 L1397.1,1114.7 L1405.8,1104.6 L1414.5,1120.5 M1373.9,1152.4 L1388.4,1145.2 L1385.5,1135.0 M1249.1,1262.7 L1246.2,1280.1 L1263.6,1275.8 L1283.9,1278.7 L1304.2,1280.1 L1310.1,1291.7 L1317.3,1294.6 L1318.8,1285.9 L1339.1,1284.5 L1365.2,1280.1 L1373.9,1294.6 L1379.7,1317.9 L1391.3,1326.6 L1397.1,1338.2 L1391.3,1355.6 L1402.9,1370.1 L1427.0,1375.9 M1246.2,1280.1 L1234.6,1294.6 L1223.0,1317.9 L1211.4,1338.2 L1194.0,1355.6 L1179.5,1367.2 L1162.1,1378.8 L1150.4,1396.2 L1138.8,1415.1 M1179.5,1367.2 L1208.5,1365.7 L1234.6,1373.0 L1260.7,1378.8 L1283.9,1380.3 L1292.6,1390.4 L1297.0,1410.7 L1305.7,1425.2 L1307.2,1436.8 L1313.0,1451.3 L1330.4,1463.0 M927.0,1415.1 L944.4,1418.0 L961.8,1425.2 L976.3,1436.8 L996.6,1445.5 L1014.1,1451.3 L1025.7,1460.1 L1019.9,1474.6 L1008.3,1489.1 L1001.0,1512.3 L992.3,1523.9 L1014.1,1525.3 L1043.1,1532.6 L1063.4,1528.2 L1086.6,1529.7 L1101.1,1515.2 L1118.5,1506.5 L1124.3,1489.1 L1127.2,1468.8 M1127.2,1468.8 L1141.7,1467.3 L1151.9,1473.1 L1156.3,1489.1 L1157.7,1512.3 L1153.3,1521.0 L1141.7,1523.9 L1124.3,1532.6 L1106.9,1544.2 L1089.5,1558.7 L1072.1,1577.0 M1156.3,1492.0 L1179.5,1494.9 L1202.7,1499.2 L1223.0,1502.1 L1237.5,1505.0 L1240.4,1494.9 L1260.7,1486.2 L1283.9,1483.3 L1304.2,1481.8 L1330.4,1480.4 M1153.3,1521.0 L1176.6,1519.5 L1196.9,1523.9 L1217.2,1529.7 L1234.6,1541.3 L1246.2,1552.9 L1260.7,1564.5 L1283.9,1567.4 L1289.7,1577.0 M1283.8,1567.2 L1292.0,1569.9 L1283.3,1578.6 L1283.3,1590.2 L1294.9,1590.2 M1085.9,1564.1 L1068.5,1581.5 L1054.0,1601.8 L1036.6,1616.3 L1025.0,1623.5 M1025.0,1623.5 L1039.5,1619.2 L1054.0,1622.1 L1068.5,1636.6 L1080.1,1645.3 L1083.0,1652.6 L1093.2,1645.3 L1106.3,1656.9 L1123.7,1665.6 L1138.2,1680.1 L1152.7,1691.7 L1164.3,1703.3 L1178.8,1706.3 L1189.0,1700.4 L1193.3,1691.7 L1191.9,1688.8 M1178.8,1706.3 L1170.1,1715.0 L1164.3,1729.5 L1164.3,1741.1 M1025.0,1623.5 L1017.7,1639.5 L1013.4,1665.6 L1007.6,1685.9 L1010.5,1715.0 L1001.8,1720.8 L996.0,1738.2 L1001.8,1752.7 L1016.3,1764.3 L1036.6,1767.2 M643.9,1176.9 L639.5,1176.3 L625.0,1187.9 L626.4,1198.1 L616.3,1205.4 L616.3,1217.0 L598.9,1224.2 M626.4,1198.1 L642.4,1217.0 L648.2,1243.1 L662.7,1260.5 L654.0,1283.7 L662.7,1301.1 L671.4,1330.1 L680.1,1359.2 L683.0,1376.6 L694.6,1379.5 L709.2,1376.6 M709.2,1376.6 L712.1,1365.0 L720.8,1356.3 L738.2,1351.9 L741.1,1343.2 L752.7,1354.8 L784.6,1353.3 L793.3,1359.2 L800.6,1378.0 L815.1,1349.0 L854.2,1349.0 M709.2,1376.6 L706.3,1396.9 L700.4,1417.2 L680.1,1423.0 L665.6,1431.7 L659.8,1443.3 L665.6,1452.0 L659.8,1460.7 L662.7,1483.9 L659.8,1498.4 L668.5,1513.0 L659.8,1521.7 L651.1,1521.7 L642.4,1539.1 L633.7,1556.5 L622.1,1571.0 L619.2,1585.5 L610.5,1594.2 L613.4,1614.5 L616.3,1627.0 M854.2,1349.0 L860.1,1341.7 L870.2,1301.1 L889.1,1269.2 L947.1,1259.0 M854.2,1349.0 L863.0,1359.2 L871.7,1367.9 L883.3,1385.3 L897.8,1396.9 L912.3,1405.6 L929.7,1412.8 M620.8,1577.0 L612.1,1600.2 L617.9,1623.4 L606.3,1632.1 L600.4,1652.4 L593.2,1661.2 L597.5,1678.6 L606.3,1698.9 L617.9,1707.6 L615.0,1739.5 L617.9,1756.9 L603.3,1774.3 L597.5,1791.7 L600.4,1817.9 L591.7,1826.6 L577.2,1835.3 L574.3,1849.8 L577.2,1873.0 L583.0,1904.9 L565.6,1913.6 L562.7,1933.9 L554.0,1942.6 L551.1,1963.0 L548.2,1983.3 L551.1,2006.5 L554.0,2021.0 L542.4,2029.7 L542.4,2052.9 L551.1,2064.5 L554.0,2077.0 M554.0,2077.0 L551.1,2097.3 L574.3,2100.2 L574.3,2111.8 L545.3,2113.3 L562.7,2117.6 L568.5,2129.2 L554.0,2137.9 L556.9,2152.4 L551.1,2164.1 L556.9,2175.7 L545.3,2193.1 L535.2,2201.8 L530.8,2216.3 L536.6,2230.8 L525.0,2236.6 L527.9,2248.2 L510.5,2256.9 L493.1,2268.5 L493.1,2283.0 L501.8,2297.5 L507.6,2309.2 L530.8,2306.3 L536.6,2315.0 L533.7,2335.3 L548.2,2351.2 L580.1,2352.1 L609.2,2352.7 L632.4,2359.9 L665.7,2364.3 M657.9,2375.9 L657.9,2448.4 M632.4,2359.9 L629.5,2367.2 L609.2,2375.9 L597.5,2375.9 L585.9,2378.8 L580.1,2396.2 L577.2,2410.7 L562.7,2413.6 L539.5,2402.0 L527.9,2390.4 L539.5,2381.7 L562.7,2373.0 M659.9,2373.0 L649.8,2371.5 L638.2,2375.9 L629.5,2367.2 M609.2,2375.9 L600.4,2384.6 L597.5,2396.2 L609.2,2402.0 L632.4,2397.7 L632.4,2404.9 L609.2,2410.7 L606.3,2419.4 L617.9,2428.1 L644.0,2433.9" fill="none" stroke="#000" stroke-width="2.7" stroke-linejoin="round" stroke-linecap="round"/></g>
</g>
<text class="lb" x="722.0" y="269.1">27</text>
<text class="lb" x="481.7" y="469.3">16</text>
<text class="lb" x="336.6" y="631.8">21</text>
<text class="lb" x="1019.4" y="396.8">28</text>
<text class="lb" x="1119.6" y="427.2">29</text>
<text class="lb" x="933.8" y="528.8">34</text>
<text class="lb" x="1210.4" y="457.7">30</text>
<text class="lb" x="1253.9" y="624.6">31</text>
<text class="lb" x="1340.5" y="670.8">32</text>
<text class="lb" x="384.5" y="1023.0">25</text>
<text class="lb" x="955.6" y="727.0">34</text>
<text class="lb" x="826.4" y="915.6">33</text>
<text class="lb" x="694.4" y="956.2">30</text>
<text class="lb" x="1087.6" y="1144.2">36</text>
<text class="lb" x="1480.4" y="705.4">32</text>
<text class="lb" x="1531.8" y="793.9">35</text>
<text class="lb" x="1345.4" y="965.1">33</text>
<text class="lb" x="1674.5" y="750.2">32</text>
<text class="lb" x="1786.2" y="817.0">30</text>
<text class="lb" x="1797.8" y="859.1">32</text>
<text class="lb" x="1796.3" y="892.4">32</text>
<text class="lb" x="1768.8" y="944.7">32</text>
<text class="lb" x="1723.8" y="988.2">36</text>
<text class="lb" x="1675.9" y="1055.0">32</text>
<text class="lb" x="1493.2" y="1289.4">28</text>
<text class="lb" x="1615.1" y="1302.5">33</text>
<text class="lb" x="1517.9" y="1389.5">29</text>
<text class="lb" x="1403.2" y="1411.3">28</text>
<text class="lb" x="1314.5" y="1473.7">30</text>
<text class="lb" x="1339.2" y="1546.2">30</text>
<text class="lb" x="1249.9" y="1628.6">30</text>
<text class="lb" x="1009.0" y="1788.2">30</text>
<text class="lb" x="1083.0" y="1788.2">29</text>
<text class="lb" x="681.6" y="1174.1">18</text>
<text class="lb" x="600.4" y="1740.2">29</text>
<text class="lb" x="1134.5" y="1306.9">32</text>
<text class="lb" x="1037.3" y="1469.5">34</text>
<text class="lb" x="1360.8" y="1153.1">27</text>
<text class="lb" x="1315.9" y="1180.7">32</text>
<rect x="177.5" y="177.5" width="1674" height="2309.5" fill="none" stroke="#000" stroke-width="3.3"/>
<text x="1004" y="79.5" font-size="62.5" text-anchor="middle">SAMeT - Temperatura Máxima</text>
<text x="1024" y="152" font-size="62.5" text-anchor="middle">Válida para 27/12/2006</text>
<text class="tk" x="277.5" y="2548" text-anchor="middle">80°W</text>
<text class="tk" x="611.7" y="2548" text-anchor="middle">70°W</text>
<text class="tk" x="945.9" y="2548" text-anchor="middle">60°W</text>
<text class="tk" x="1280.1" y="2548" text-anchor="middle">50°W</text>
<text class="tk" x="1614.3" y="2548" text-anchor="middle">40°W</text>
<text class="tk" x="155" y="293.2" text-anchor="end">10°N</text>
<text class="tk" x="155" y="627.4" text-anchor="end">0°</text>
<text class="tk" x="155" y="961.6" text-anchor="end">10°S</text>
<text class="tk" x="155" y="1295.8" text-anchor="end">20°S</text>
<text class="tk" x="155" y="1630.0" text-anchor="end">30°S</text>
<text class="tk" x="155" y="1964.2" text-anchor="end">40°S</text>
<text class="tk" x="155" y="2298.4" text-anchor="end">50°S</text>
<path d="M1893.7,282 L1919.45,178 L1945.2,282 Z" fill="#67001f"/>
<path d="M1893.7,2381 L1919.45,2486 L1945.2,2381 Z" fill="#053061"/>
<rect x="1893.7" y="282.0" width="51.5" height="23.9" fill="#6b0120"/>
<rect x="1893.7" y="305.3" width="51.5" height="23.9" fill="#740421"/>
<rect x="1893.7" y="328.6" width="51.5" height="23.9" fill="#7c0722"/>
<rect x="1893.7" y="352.0" width="51.5" height="23.9" fill="#840924"/>
<rect x="1893.7" y="375.3" width="51.5" height="23.9" fill="#8c0c25"/>
<rect x="1893.7" y="398.6" width="51.5" height="23.9" fill="#950f26"/>
<rect x="1893.7" y="421.9" width="51.5" height="23.9" fill="#9d1128"/>
<rect x="1893.7" y="445.3" width="51.5" height="23.9" fill="#a61429"/>
<rect x="1893.7" y="468.6" width="51.5" height="23.9" fill="#ae172a"/>
<rect x="1893.7" y="491.9" width="51.5" height="23.9" fill="#b41c2d"/>
<rect x="1893.7" y="515.2" width="51.5" height="23.9" fill="#b82431"/>
<rect x="1893.7" y="538.5" width="51.5" height="23.9" fill="#bc2c34"/>
<rect x="1893.7" y="561.9" width="51.5" height="23.9" fill="#c03438"/>
<rect x="1893.7" y="585.2" width="51.5" height="23.9" fill="#c43c3c"/>
<rect x="1893.7" y="608.5" width="51.5" height="23.9" fill="#c84440"/>
<rect x="1893.7" y="631.8" width="51.5" height="23.9" fill="#cc4c44"/>
<rect x="1893.7" y="655.2" width="51.5" height="23.9" fill="#d05447"/>
<rect x="1893.7" y="678.5" width="51.5" height="23.9" fill="#d45c4b"/>
<rect x="1893.7" y="701.8" width="51.5" height="23.9" fill="#d86450"/>
<rect x="1893.7" y="725.1" width="51.5" height="23.9" fill="#db6c56"/>
<rect x="1893.7" y="748.4" width="51.5" height="23.9" fill="#de735c"/>
<rect x="1893.7" y="771.8" width="51.5" height="23.9" fill="#e27b62"/>
<rect x="1893.7" y="795.1" width="51.5" height="23.9" fill="#e58268"/>
<rect x="1893.7" y="818.4" width="51.5" height="23.9" fill="#e88a6d"/>
<rect x="1893.7" y="841.7" width="51.5" height="23.9" fill="#ec9273"/>
<rect x="1893.7" y="865.1" width="51.5" height="23.9" fill="#ef9979"/>
<rect x="1893.7" y="888.4" width="51.5" height="23.9" fill="#f2a17f"/>
<rect x="1893.7" y="911.7" width="51.5" height="23.9" fill="#f4a886"/>
<rect x="1893.7" y="935.0" width="51.5" height="23.9" fill="#f6ae8d"/>
<rect x="1893.7" y="958.3" width="51.5" height="23.9" fill="#f6b495"/>
<rect x="1893.7" y="981.7" width="51.5" height="23.9" fill="#f8ba9d"/>
<rect x="1893.7" y="1005.0" width="51.5" height="23.9" fill="#f8c0a4"/>
<rect x="1893.7" y="1028.3" width="51.5" height="23.9" fill="#fac6ac"/>
<rect x="1893.7" y="1051.6" width="51.5" height="23.9" fill="#faccb4"/>
<rect x="1893.7" y="1075.0" width="51.5" height="23.9" fill="#fcd2bb"/>
<rect x="1893.7" y="1098.3" width="51.5" height="23.9" fill="#fcd8c3"/>
<rect x="1893.7" y="1121.6" width="51.5" height="23.9" fill="#fdddca"/>
<rect x="1893.7" y="1144.9" width="51.5" height="23.9" fill="#fce0cf"/>
<rect x="1893.7" y="1168.2" width="51.5" height="23.9" fill="#fbe3d4"/>
<rect x="1893.7" y="1191.6" width="51.5" height="23.9" fill="#fbe6da"/>
<rect x="1893.7" y="1214.9" width="51.5" height="23.9" fill="#fae9df"/>
<rect x="1893.7" y="1238.2" width="51.5" height="23.9" fill="#f9ece4"/>
<rect x="1893.7" y="1261.5" width="51.5" height="23.9" fill="#f9efea"/>
<rect x="1893.7" y="1284.9" width="51.5" height="23.9" fill="#f8f2ef"/>
<rect x="1893.7" y="1308.2" width="51.5" height="23.9" fill="#f7f5f4"/>
<rect x="1893.7" y="1331.5" width="51.5" height="23.9" fill="#f5f6f7"/>
<rect x="1893.7" y="1354.8" width="51.5" height="23.9" fill="#f1f4f6"/>
<rect x="1893.7" y="1378.1" width="51.5" height="23.9" fill="#ecf2f5"/>
<rect x="1893.7" y="1401.5" width="51.5" height="23.9" fill="#e8f0f4"/>
<rect x="1893.7" y="1424.8" width="51.5" height="23.9" fill="#e4eef4"/>
<rect x="1893.7" y="1448.1" width="51.5" height="23.9" fill="#e0ecf3"/>
<rect x="1893.7" y="1471.4" width="51.5" height="23.9" fill="#dceaf2"/>
<rect x="1893.7" y="1494.8" width="51.5" height="23.9" fill="#d7e8f1"/>
<rect x="1893.7" y="1518.1" width="51.5" height="23.9" fill="#d3e6f0"/>
<rect x="1893.7" y="1541.4" width="51.5" height="23.9" fill="#cee3ef"/>
<rect x="1893.7" y="1564.7" width="51.5" height="23.9" fill="#c6e0ed"/>
<rect x="1893.7" y="1588.0" width="51.5" height="23.9" fill="#c0dceb"/>
<rect x="1893.7" y="1611.4" width="51.5" height="23.9" fill="#b8d9e9"/>
<rect x="1893.7" y="1634.7" width="51.5" height="23.9" fill="#b2d5e7"/>
<rect x="1893.7" y="1658.0" width="51.5" height="23.9" fill="#abd1e5"/>
<rect x="1893.7" y="1681.3" width="51.5" height="23.9" fill="#a4cee3"/>
<rect x="1893.7" y="1704.7" width="51.5" height="23.9" fill="#9ccae1"/>
<rect x="1893.7" y="1728.0" width="51.5" height="23.9" fill="#96c7df"/>
<rect x="1893.7" y="1751.3" width="51.5" height="23.9" fill="#8ec2dc"/>
<rect x="1893.7" y="1774.6" width="51.5" height="23.9" fill="#85bdda"/>
<rect x="1893.7" y="1797.9" width="51.5" height="23.9" fill="#7cb7d6"/>
<rect x="1893.7" y="1821.3" width="51.5" height="23.9" fill="#73b2d4"/>
<rect x="1893.7" y="1844.6" width="51.5" height="23.9" fill="#6aacd0"/>
<rect x="1893.7" y="1867.9" width="51.5" height="23.9" fill="#62a6ce"/>
<rect x="1893.7" y="1891.2" width="51.5" height="23.9" fill="#59a1ca"/>
<rect x="1893.7" y="1914.6" width="51.5" height="23.9" fill="#509bc8"/>
<rect x="1893.7" y="1937.9" width="51.5" height="23.9" fill="#4796c4"/>
<rect x="1893.7" y="1961.2" width="51.5" height="23.9" fill="#4190c2"/>
<rect x="1893.7" y="1984.5" width="51.5" height="23.9" fill="#3d8cbf"/>
<rect x="1893.7" y="2007.8" width="51.5" height="23.9" fill="#3a86bd"/>
<rect x="1893.7" y="2031.2" width="51.5" height="23.9" fill="#3682ba"/>
<rect x="1893.7" y="2054.5" width="51.5" height="23.9" fill="#327cb8"/>
<rect x="1893.7" y="2077.8" width="51.5" height="23.9" fill="#2e78b5"/>
<rect x="1893.7" y="2101.1" width="51.5" height="23.9" fill="#2a72b2"/>
<rect x="1893.7" y="2124.5" width="51.5" height="23.9" fill="#276eb0"/>
<rect x="1893.7" y="2147.8" width="51.5" height="23.9" fill="#2368ad"/>
<rect x="1893.7" y="2171.1" width="51.5" height="23.9" fill="#1f63a8"/>
<rect x="1893.7" y="2194.4" width="51.5" height="23.9" fill="#1c5da0"/>
<rect x="1893.7" y="2217.7" width="51.5" height="23.9" fill="#195797"/>
<rect x="1893.7" y="2241.1" width="51.5" height="23.9" fill="#16518f"/>
<rect x="1893.7" y="2264.4" width="51.5" height="23.9" fill="#134b86"/>
<rect x="1893.7" y="2287.7" width="51.5" height="23.9" fill="#10457e"/>
<rect x="1893.7" y="2311.0" width="51.5" height="23.9" fill="#0d3f76"/>
<rect x="1893.7" y="2334.4" width="51.5" height="23.9" fill="#0a396e"/>
<rect x="1893.7" y="2357.7" width="51.5" height="23.9" fill="#073365"/>
<path d="M1893.7,282 L1919.45,178 L1945.2,282 L1945.2,2381 L1919.45,2486 L1893.7,2381 Z" fill="none" stroke="#000" stroke-width="3.3" stroke-linejoin="miter"/>
<line x1="1945.2" x2="1961.5" y1="2381.0" y2="2381.0" stroke="#000" stroke-width="3.3"/>
<text class="tk" x="1975" y="2401.8">-5</text>
<line x1="1945.2" x2="1961.5" y1="2147.8" y2="2147.8" stroke="#000" stroke-width="3.3"/>
<text class="tk" x="1975" y="2168.6">0</text>
<line x1="1945.2" x2="1961.5" y1="1914.5" y2="1914.5" stroke="#000" stroke-width="3.3"/>
<text class="tk" x="1975" y="1935.3">5</text>
<line x1="1945.2" x2="1961.5" y1="1681.3" y2="1681.3" stroke="#000" stroke-width="3.3"/>
<text class="tk" x="1975" y="1702.1">10</text>
<line x1="1945.2" x2="1961.5" y1="1448.1" y2="1448.1" stroke="#000" stroke-width="3.3"/>
<text class="tk" x="1975" y="1468.9">15</text>
<line x1="1945.2" x2="1961.5" y1="1214.9" y2="1214.9" stroke="#000" stroke-width="3.3"/>
<text class="tk" x="1975" y="1235.7">20</text>
<line x1="1945.2" x2="1961.5" y1="981.7" y2="981.7" stroke="#000" stroke-width="3.3"/>
<text class="tk" x="1975" y="1002.5">25</text>
<line x1="1945.2" x2="1961.5" y1="748.4" y2="748.4" stroke="#000" stroke-width="3.3"/>
<text class="tk" x="1975" y="769.2">30</text>
<line x1="1945.2" x2="1961.5" y1="515.2" y2="515.2" stroke="#000" stroke-width="3.3"/>
<text class="tk" x="1975" y="536.0">35</text>
<line x1="1945.2" x2="1961.5" y1="282.0" y2="282.0" stroke="#000" stroke-width="3.3"/>
<text class="tk" x="1975" y="302.8">40</text>
<text class="tk" x="1842.5" y="174.6">(°C)</text>
<g transform="translate(1620,2280) scale(0.12188)">
<path d="M180,620 C185,760 240,900 330,1010 C440,1130 590,1195 750,1195 C950,1195 1130,1100 1260,930 C1380,780 1445,600 1455,420 L1525,415 L1325,215 L1115,415 L1185,420 C1180,560 1130,720 1030,840 C940,950 820,1010 690,1012 C540,1014 400,950 300,840 C240,770 200,700 180,620 Z" fill="#0072bc"/>
<path d="M188,690 C160,560 175,420 260,290 C340,170 470,105 620,105 C760,105 870,180 925,300 C950,360 962,430 965,495 L1020,495 L815,685 L635,495 L705,495 C705,430 670,370 600,335 C520,300 420,330 340,400 C260,470 215,570 195,690" fill="none" stroke="#0072bc" stroke-width="13" stroke-linejoin="miter"/>
<circle cx="810" cy="845" r="140" fill="#f39200"/>
<text x="258" y="745" font-family="'Liberation Sans','DejaVu Sans',sans-serif" font-weight="bold" font-style="italic" font-size="205" textLength="425" lengthAdjust="spacingAndGlyphs" fill="#111">INPE</text>
</g>
</svg></body></html>
